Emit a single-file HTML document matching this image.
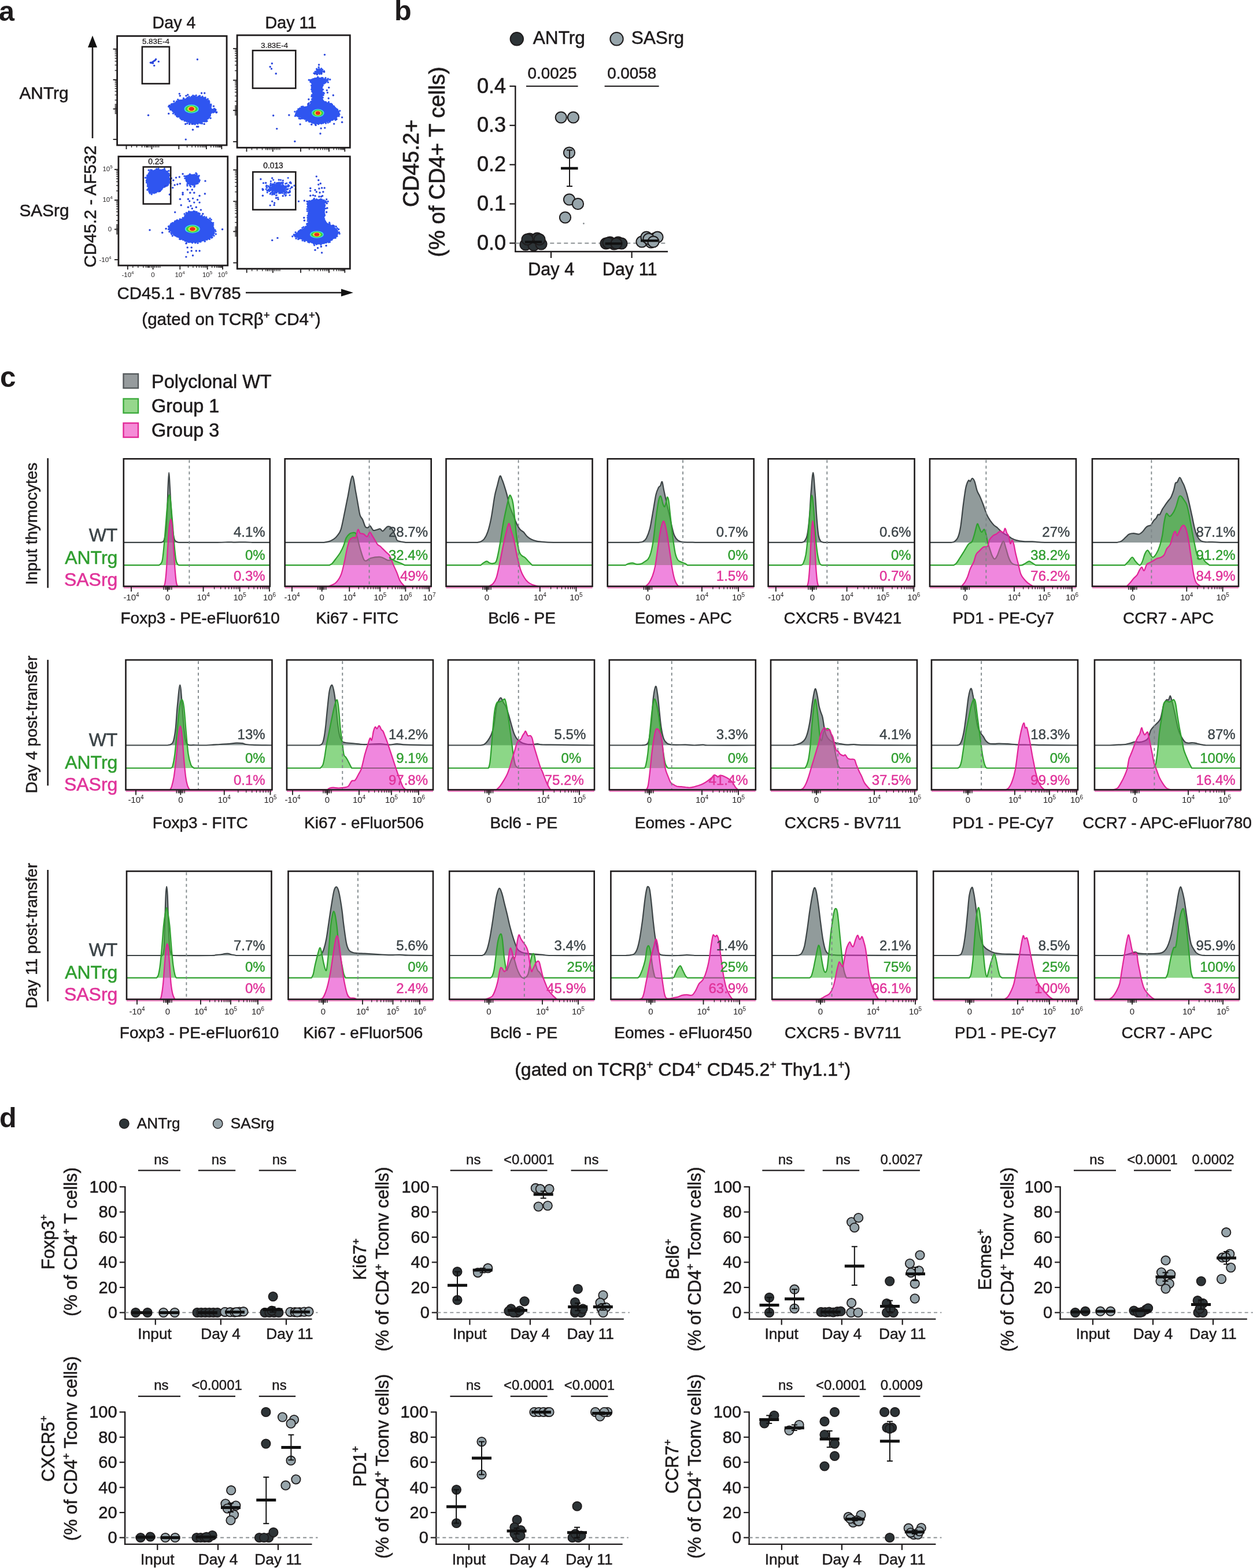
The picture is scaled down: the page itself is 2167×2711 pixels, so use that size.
<!DOCTYPE html>
<html><head><meta charset="utf-8"><title>Figure</title>
<style>
html,body{margin:0;padding:0;background:#fff;}
svg{display:block;}
svg text{font-family:'Liberation Sans', Arial, Helvetica, sans-serif;}
</style></head>
<body>
<svg xmlns="http://www.w3.org/2000/svg" width="2167" height="2711" viewBox="0 0 2167 2711">
<rect x="0" y="0" width="2167" height="2711" fill="#fff"/>
<text x="-2.0" y="35.6" font-size="48.5" text-anchor="start" fill="#1e1b1c" font-weight="bold">a</text>
<text x="301.0" y="48.7" font-size="28.7" text-anchor="middle" fill="#1e1b1c" stroke="#1e1b1c" stroke-width="0.52">Day 4</text>
<text x="503.0" y="48.7" font-size="28.7" text-anchor="middle" fill="#1e1b1c" stroke="#1e1b1c" stroke-width="0.52">Day 11</text>
<text x="33.5" y="171.0" font-size="29.8" text-anchor="start" fill="#1e1b1c" stroke="#1e1b1c" stroke-width="0.54">ANTrg</text>
<text x="33.5" y="373.5" font-size="29.8" text-anchor="start" fill="#1e1b1c" stroke="#1e1b1c" stroke-width="0.54">SASrg</text>
<line x1="160.0" y1="239.0" x2="160.0" y2="78.0" stroke="#1e1b1c" stroke-width="2.6" />
<path d="M152,82 L160,61.5 L168,82 Z" fill="#111"/>
<text x="165.5" y="357.0" font-size="29.4" text-anchor="middle" fill="#1e1b1c" stroke="#1e1b1c" stroke-width="0.53" transform="rotate(-90 165.5 357.0)">CD45.2 - AF532</text>
<line x1="425.0" y1="506.0" x2="594.0" y2="506.0" stroke="#1e1b1c" stroke-width="2.6" />
<path d="M590,499.5 L611,506 L590,512.5 Z" fill="#111"/>
<text x="202.5" y="517.0" font-size="29.4" text-anchor="start" fill="#1e1b1c" stroke="#1e1b1c" stroke-width="0.53">CD45.1 - BV785</text>
<text x="400.0" y="562.0" font-size="29.6" text-anchor="middle" fill="#1e1b1c" stroke="#1e1b1c" stroke-width="0.53"><tspan font-size="29.6">(gated on TCRβ</tspan><tspan dy="-11.2" font-size="18.4">+</tspan><tspan dy="11.2"> CD4</tspan><tspan dy="-11.2" font-size="18.4">+</tspan><tspan dy="11.2">)</tspan></text>
<path d="M292.9,183.0 L299.8,178.4 L306.8,173.8 L316.1,171.4 L325.4,169.1 L334.6,166.2 L345.1,166.8 L354.4,168.0 L357.9,171.4 L362.5,176.1 L364.8,183.0 L366.0,187.7 L373.0,188.8 L374.1,193.5 L366.0,193.5 L364.8,199.3 L362.5,203.9 L355.5,209.7 L346.3,213.2 L339.3,214.4 L333.5,213.2 L325.4,212.1 L316.1,207.4 L309.1,202.8 L302.1,197.0 L296.3,191.2 L292.9,187.7Z" fill="#2f55f0"/>
<circle cx="291.7" cy="184.2" r="1.7" fill="#2f55f0"/><circle cx="296.0" cy="180.7" r="1.7" fill="#2f55f0"/><circle cx="297.5" cy="179.8" r="1.7" fill="#2f55f0"/><circle cx="300.3" cy="179.3" r="1.7" fill="#2f55f0"/><circle cx="300.8" cy="175.3" r="1.7" fill="#2f55f0"/><circle cx="305.5" cy="175.1" r="1.7" fill="#2f55f0"/><circle cx="307.6" cy="172.2" r="1.7" fill="#2f55f0"/><circle cx="309.7" cy="173.7" r="1.7" fill="#2f55f0"/><circle cx="312.1" cy="173.6" r="1.7" fill="#2f55f0"/><circle cx="317.4" cy="169.9" r="1.7" fill="#2f55f0"/><circle cx="317.7" cy="170.8" r="1.7" fill="#2f55f0"/><circle cx="323.7" cy="169.5" r="1.7" fill="#2f55f0"/><circle cx="324.5" cy="168.9" r="1.7" fill="#2f55f0"/><circle cx="327.0" cy="167.3" r="1.7" fill="#2f55f0"/><circle cx="331.4" cy="167.2" r="1.7" fill="#2f55f0"/><circle cx="333.8" cy="165.3" r="1.7" fill="#2f55f0"/><circle cx="336.4" cy="166.2" r="1.7" fill="#2f55f0"/><circle cx="339.2" cy="165.0" r="1.7" fill="#2f55f0"/><circle cx="343.6" cy="166.8" r="1.7" fill="#2f55f0"/><circle cx="345.6" cy="165.8" r="1.7" fill="#2f55f0"/><circle cx="349.8" cy="168.3" r="1.7" fill="#2f55f0"/><circle cx="350.1" cy="167.0" r="1.7" fill="#2f55f0"/><circle cx="355.1" cy="168.6" r="1.7" fill="#2f55f0"/><circle cx="359.3" cy="171.2" r="1.7" fill="#2f55f0"/><circle cx="361.2" cy="174.3" r="1.7" fill="#2f55f0"/><circle cx="361.9" cy="176.4" r="1.7" fill="#2f55f0"/><circle cx="364.9" cy="180.7" r="1.7" fill="#2f55f0"/><circle cx="364.8" cy="183.3" r="1.7" fill="#2f55f0"/><circle cx="364.5" cy="186.9" r="1.7" fill="#2f55f0"/><circle cx="370.4" cy="188.0" r="1.7" fill="#2f55f0"/><circle cx="371.9" cy="189.0" r="1.7" fill="#2f55f0"/><circle cx="374.8" cy="194.0" r="1.7" fill="#2f55f0"/><circle cx="371.0" cy="193.3" r="1.7" fill="#2f55f0"/><circle cx="368.7" cy="194.4" r="1.7" fill="#2f55f0"/><circle cx="366.1" cy="193.1" r="1.7" fill="#2f55f0"/><circle cx="365.4" cy="194.9" r="1.7" fill="#2f55f0"/><circle cx="363.4" cy="199.9" r="1.7" fill="#2f55f0"/><circle cx="364.1" cy="204.2" r="1.7" fill="#2f55f0"/><circle cx="359.8" cy="204.8" r="1.7" fill="#2f55f0"/><circle cx="357.9" cy="209.3" r="1.7" fill="#2f55f0"/><circle cx="356.4" cy="209.9" r="1.7" fill="#2f55f0"/><circle cx="353.6" cy="210.0" r="1.7" fill="#2f55f0"/><circle cx="349.4" cy="213.5" r="1.7" fill="#2f55f0"/><circle cx="346.5" cy="213.1" r="1.7" fill="#2f55f0"/><circle cx="342.0" cy="214.0" r="1.7" fill="#2f55f0"/><circle cx="340.8" cy="212.8" r="1.7" fill="#2f55f0"/><circle cx="337.3" cy="214.8" r="1.7" fill="#2f55f0"/><circle cx="334.7" cy="214.0" r="1.7" fill="#2f55f0"/><circle cx="331.8" cy="212.9" r="1.7" fill="#2f55f0"/><circle cx="328.3" cy="212.2" r="1.7" fill="#2f55f0"/><circle cx="323.9" cy="213.2" r="1.7" fill="#2f55f0"/><circle cx="322.5" cy="209.6" r="1.7" fill="#2f55f0"/><circle cx="319.2" cy="208.9" r="1.7" fill="#2f55f0"/><circle cx="315.6" cy="206.9" r="1.7" fill="#2f55f0"/><circle cx="313.9" cy="206.3" r="1.7" fill="#2f55f0"/><circle cx="311.8" cy="204.2" r="1.7" fill="#2f55f0"/><circle cx="307.6" cy="201.9" r="1.7" fill="#2f55f0"/><circle cx="305.8" cy="201.1" r="1.7" fill="#2f55f0"/><circle cx="305.6" cy="199.9" r="1.7" fill="#2f55f0"/><circle cx="303.1" cy="198.0" r="1.7" fill="#2f55f0"/><circle cx="299.4" cy="196.1" r="1.7" fill="#2f55f0"/><circle cx="298.8" cy="191.8" r="1.7" fill="#2f55f0"/><circle cx="294.8" cy="189.6" r="1.7" fill="#2f55f0"/><circle cx="293.7" cy="186.9" r="1.7" fill="#2f55f0"/>
<ellipse cx="331.2" cy="188.3" rx="12.5" ry="7.5" fill="#3fe0ea"/>
<ellipse cx="331.2" cy="188.3" rx="10.8" ry="6.1" fill="#43cf3c"/>
<ellipse cx="331.2" cy="188.3" rx="7.0" ry="4.7" fill="#ecea3a"/>
<ellipse cx="331.2" cy="188.3" rx="4.8" ry="3.5" fill="#ee2a1e"/>
<circle cx="269.6" cy="102.4" r="1.7" fill="#2a46dc"/><circle cx="268.5" cy="104.1" r="1.7" fill="#2a46dc"/><circle cx="266.7" cy="105.3" r="1.7" fill="#2a46dc"/><circle cx="265.0" cy="106.4" r="1.7" fill="#2a46dc"/><circle cx="263.3" cy="107.6" r="1.7" fill="#2a46dc"/><circle cx="261.5" cy="108.8" r="1.7" fill="#2a46dc"/><circle cx="260.4" cy="108.2" r="1.7" fill="#2a46dc"/><circle cx="264.4" cy="109.3" r="1.7" fill="#2a46dc"/><circle cx="266.7" cy="113.4" r="1.7" fill="#2a46dc"/><circle cx="274.3" cy="106.4" r="1.7" fill="#2a46dc"/><circle cx="341.4" cy="102.7" r="1.7" fill="#2a46dc"/><circle cx="256.5" cy="199.3" r="1.7" fill="#2a46dc"/><circle cx="291.7" cy="196.4" r="1.7" fill="#2a46dc"/><circle cx="292.9" cy="182.5" r="1.7" fill="#2a46dc"/><circle cx="310.3" cy="162.1" r="1.7" fill="#2a46dc"/><circle cx="311.4" cy="165.6" r="1.7" fill="#2a46dc"/><circle cx="321.9" cy="165.6" r="1.7" fill="#2a46dc"/><circle cx="324.8" cy="163.9" r="1.7" fill="#2a46dc"/><circle cx="348.6" cy="161.0" r="1.7" fill="#2a46dc"/><circle cx="353.8" cy="161.0" r="1.7" fill="#2a46dc"/><circle cx="320.7" cy="214.4" r="1.7" fill="#2a46dc"/><circle cx="327.7" cy="214.4" r="1.7" fill="#2a46dc"/><circle cx="332.3" cy="214.4" r="1.7" fill="#2a46dc"/><circle cx="340.5" cy="219.0" r="1.7" fill="#2a46dc"/><circle cx="342.8" cy="219.0" r="1.7" fill="#2a46dc"/><circle cx="353.2" cy="214.4" r="1.7" fill="#2a46dc"/><circle cx="333.5" cy="224.2" r="1.7" fill="#2a46dc"/><circle cx="321.3" cy="241.1" r="1.7" fill="#2a46dc"/><circle cx="369.5" cy="183.6" r="1.7" fill="#2a46dc"/><circle cx="373.0" cy="190.0" r="1.7" fill="#2a46dc"/><circle cx="374.1" cy="194.6" r="1.7" fill="#2a46dc"/>
<path d="M510.1,197.3 L512.5,191.5 L518.3,186.8 L524.1,184.5 L531.0,183.4 L535.7,179.9 L539.2,174.1 L540.3,162.5 L538.0,153.2 L539.2,146.2 L534.5,138.1 L541.5,135.8 L548.5,133.4 L555.4,134.6 L562.4,135.8 L569.3,138.1 L565.9,141.6 L560.1,143.9 L558.9,148.5 L557.7,153.2 L558.9,162.5 L557.7,169.4 L560.1,174.1 L564.7,176.4 L572.8,178.7 L578.6,183.4 L583.3,188.0 L586.8,192.6 L587.9,197.3 L584.4,201.9 L579.8,206.6 L572.8,208.9 L565.9,211.2 L558.9,213.5 L551.9,214.7 L545.0,214.7 L538.0,212.4 L531.0,208.9 L522.9,204.3 L516.0,203.1 L511.3,200.8Z" fill="#2f55f0"/>
<circle cx="511.6" cy="198.7" r="1.7" fill="#2f55f0"/><circle cx="509.9" cy="193.1" r="1.7" fill="#2f55f0"/><circle cx="513.5" cy="192.2" r="1.7" fill="#2f55f0"/><circle cx="515.9" cy="188.6" r="1.7" fill="#2f55f0"/><circle cx="518.6" cy="187.2" r="1.7" fill="#2f55f0"/><circle cx="521.4" cy="184.6" r="1.7" fill="#2f55f0"/><circle cx="523.9" cy="184.2" r="1.7" fill="#2f55f0"/><circle cx="528.3" cy="185.5" r="1.7" fill="#2f55f0"/><circle cx="532.5" cy="183.5" r="1.7" fill="#2f55f0"/><circle cx="533.2" cy="180.9" r="1.7" fill="#2f55f0"/><circle cx="534.2" cy="178.4" r="1.7" fill="#2f55f0"/><circle cx="537.3" cy="176.4" r="1.7" fill="#2f55f0"/><circle cx="538.8" cy="175.3" r="1.7" fill="#2f55f0"/><circle cx="539.5" cy="171.4" r="1.7" fill="#2f55f0"/><circle cx="538.9" cy="166.7" r="1.7" fill="#2f55f0"/><circle cx="539.5" cy="164.2" r="1.7" fill="#2f55f0"/><circle cx="540.4" cy="164.1" r="1.7" fill="#2f55f0"/><circle cx="540.1" cy="158.4" r="1.7" fill="#2f55f0"/><circle cx="540.0" cy="157.2" r="1.7" fill="#2f55f0"/><circle cx="538.8" cy="154.5" r="1.7" fill="#2f55f0"/><circle cx="539.4" cy="150.6" r="1.7" fill="#2f55f0"/><circle cx="538.7" cy="147.8" r="1.7" fill="#2f55f0"/><circle cx="539.1" cy="142.4" r="1.7" fill="#2f55f0"/><circle cx="536.9" cy="141.5" r="1.7" fill="#2f55f0"/><circle cx="534.4" cy="138.2" r="1.7" fill="#2f55f0"/><circle cx="538.0" cy="138.3" r="1.7" fill="#2f55f0"/><circle cx="541.5" cy="136.8" r="1.7" fill="#2f55f0"/><circle cx="544.5" cy="135.8" r="1.7" fill="#2f55f0"/><circle cx="549.7" cy="133.3" r="1.7" fill="#2f55f0"/><circle cx="552.2" cy="135.4" r="1.7" fill="#2f55f0"/><circle cx="556.1" cy="134.6" r="1.7" fill="#2f55f0"/><circle cx="558.0" cy="134.6" r="1.7" fill="#2f55f0"/><circle cx="563.0" cy="134.7" r="1.7" fill="#2f55f0"/><circle cx="567.2" cy="136.2" r="1.7" fill="#2f55f0"/><circle cx="570.7" cy="137.5" r="1.7" fill="#2f55f0"/><circle cx="567.3" cy="142.2" r="1.7" fill="#2f55f0"/><circle cx="563.0" cy="142.8" r="1.7" fill="#2f55f0"/><circle cx="560.5" cy="144.2" r="1.7" fill="#2f55f0"/><circle cx="558.3" cy="147.6" r="1.7" fill="#2f55f0"/><circle cx="557.8" cy="154.6" r="1.7" fill="#2f55f0"/><circle cx="558.5" cy="154.9" r="1.7" fill="#2f55f0"/><circle cx="559.5" cy="160.1" r="1.7" fill="#2f55f0"/><circle cx="560.2" cy="161.5" r="1.7" fill="#2f55f0"/><circle cx="559.1" cy="164.5" r="1.7" fill="#2f55f0"/><circle cx="558.2" cy="168.7" r="1.7" fill="#2f55f0"/><circle cx="559.2" cy="175.3" r="1.7" fill="#2f55f0"/><circle cx="563.4" cy="176.5" r="1.7" fill="#2f55f0"/><circle cx="568.5" cy="176.4" r="1.7" fill="#2f55f0"/><circle cx="569.2" cy="179.2" r="1.7" fill="#2f55f0"/><circle cx="572.6" cy="179.4" r="1.7" fill="#2f55f0"/><circle cx="574.2" cy="180.6" r="1.7" fill="#2f55f0"/><circle cx="577.6" cy="183.9" r="1.7" fill="#2f55f0"/><circle cx="579.6" cy="187.1" r="1.7" fill="#2f55f0"/><circle cx="581.8" cy="188.7" r="1.7" fill="#2f55f0"/><circle cx="583.5" cy="189.5" r="1.7" fill="#2f55f0"/><circle cx="587.8" cy="191.6" r="1.7" fill="#2f55f0"/><circle cx="586.9" cy="197.9" r="1.7" fill="#2f55f0"/><circle cx="585.8" cy="198.2" r="1.7" fill="#2f55f0"/><circle cx="586.0" cy="200.8" r="1.7" fill="#2f55f0"/><circle cx="580.6" cy="203.8" r="1.7" fill="#2f55f0"/><circle cx="580.2" cy="207.4" r="1.7" fill="#2f55f0"/><circle cx="575.1" cy="207.2" r="1.7" fill="#2f55f0"/><circle cx="571.3" cy="208.7" r="1.7" fill="#2f55f0"/><circle cx="570.2" cy="210.8" r="1.7" fill="#2f55f0"/><circle cx="567.2" cy="212.0" r="1.7" fill="#2f55f0"/><circle cx="563.5" cy="213.0" r="1.7" fill="#2f55f0"/><circle cx="558.8" cy="212.7" r="1.7" fill="#2f55f0"/><circle cx="555.9" cy="213.5" r="1.7" fill="#2f55f0"/><circle cx="550.7" cy="214.5" r="1.7" fill="#2f55f0"/><circle cx="549.7" cy="213.5" r="1.7" fill="#2f55f0"/><circle cx="545.2" cy="214.4" r="1.7" fill="#2f55f0"/><circle cx="541.5" cy="212.4" r="1.7" fill="#2f55f0"/><circle cx="539.5" cy="211.6" r="1.7" fill="#2f55f0"/><circle cx="534.9" cy="210.4" r="1.7" fill="#2f55f0"/><circle cx="529.5" cy="209.1" r="1.7" fill="#2f55f0"/><circle cx="527.2" cy="205.9" r="1.7" fill="#2f55f0"/><circle cx="524.1" cy="204.7" r="1.7" fill="#2f55f0"/><circle cx="521.6" cy="204.7" r="1.7" fill="#2f55f0"/><circle cx="519.5" cy="205.2" r="1.7" fill="#2f55f0"/><circle cx="517.3" cy="204.7" r="1.7" fill="#2f55f0"/><circle cx="510.5" cy="200.6" r="1.7" fill="#2f55f0"/>
<path d="M543.8,126.5 L547.3,120.7 L551.9,117.2 L556.6,120.7 L560.1,124.2 L555.4,126.5 L549.6,127.6Z" fill="#2f55f0"/>
<circle cx="543.0" cy="126.6" r="1.7" fill="#2f55f0"/><circle cx="545.1" cy="123.9" r="1.7" fill="#2f55f0"/><circle cx="547.7" cy="119.3" r="1.7" fill="#2f55f0"/><circle cx="548.1" cy="120.0" r="1.7" fill="#2f55f0"/><circle cx="551.2" cy="116.3" r="1.7" fill="#2f55f0"/><circle cx="555.8" cy="118.8" r="1.7" fill="#2f55f0"/><circle cx="557.7" cy="120.6" r="1.7" fill="#2f55f0"/><circle cx="560.5" cy="123.0" r="1.7" fill="#2f55f0"/><circle cx="555.8" cy="127.7" r="1.7" fill="#2f55f0"/><circle cx="552.6" cy="127.8" r="1.7" fill="#2f55f0"/><circle cx="550.2" cy="126.3" r="1.7" fill="#2f55f0"/><circle cx="547.5" cy="127.4" r="1.7" fill="#2f55f0"/>
<ellipse cx="549.8" cy="195.5" rx="10.8" ry="7.0" fill="#3fe0ea"/>
<ellipse cx="549.8" cy="195.5" rx="9.3" ry="5.7" fill="#43cf3c"/>
<ellipse cx="549.8" cy="195.5" rx="6.0" ry="4.3" fill="#ecea3a"/>
<ellipse cx="549.8" cy="195.5" rx="4.1" ry="3.3" fill="#ee2a1e"/>
<circle cx="470.4" cy="109.7" r="1.7" fill="#2a46dc"/><circle cx="467.2" cy="115.5" r="1.7" fill="#2a46dc"/><circle cx="469.5" cy="118.9" r="1.7" fill="#2a46dc"/><circle cx="477.3" cy="127.3" r="1.7" fill="#2a46dc"/><circle cx="561.5" cy="94.6" r="1.7" fill="#2a46dc"/><circle cx="551.6" cy="112.0" r="1.7" fill="#2a46dc"/><circle cx="472.7" cy="199.8" r="1.7" fill="#2a46dc"/><circle cx="499.9" cy="199.0" r="1.7" fill="#2a46dc"/><circle cx="519.1" cy="214.9" r="1.7" fill="#2a46dc"/><circle cx="478.8" cy="222.6" r="1.7" fill="#2a46dc"/><circle cx="509.9" cy="244.5" r="1.7" fill="#2a46dc"/><circle cx="554.0" cy="231.0" r="1.7" fill="#2a46dc"/><circle cx="555.2" cy="221.9" r="1.7" fill="#2a46dc"/><circle cx="561.8" cy="221.1" r="1.7" fill="#2a46dc"/><circle cx="577.7" cy="214.1" r="1.7" fill="#2a46dc"/><circle cx="591.6" cy="202.9" r="1.7" fill="#2a46dc"/><circle cx="591.6" cy="211.2" r="1.7" fill="#2a46dc"/><circle cx="582.1" cy="206.0" r="1.7" fill="#2a46dc"/><circle cx="538.8" cy="215.3" r="1.7" fill="#2a46dc"/><circle cx="546.1" cy="216.4" r="1.7" fill="#2a46dc"/><circle cx="576.3" cy="164.8" r="1.7" fill="#2a46dc"/><circle cx="568.8" cy="151.4" r="1.7" fill="#2a46dc"/><circle cx="568.2" cy="170.0" r="1.7" fill="#2a46dc"/><circle cx="533.9" cy="171.8" r="1.7" fill="#2a46dc"/><circle cx="532.8" cy="179.9" r="1.7" fill="#2a46dc"/><circle cx="565.3" cy="156.1" r="1.7" fill="#2a46dc"/><circle cx="566.4" cy="160.1" r="1.7" fill="#2a46dc"/><circle cx="544.4" cy="127.6" r="1.7" fill="#2a46dc"/><circle cx="548.5" cy="128.8" r="1.7" fill="#2a46dc"/><circle cx="556.0" cy="126.5" r="1.7" fill="#2a46dc"/><circle cx="560.6" cy="124.2" r="1.7" fill="#2a46dc"/>
<path d="M258.0,295.5 L269.6,293.2 L283.6,292.6 L290.5,296.7 L292.9,304.8 L294.0,316.4 L290.5,319.9 L283.6,324.6 L276.6,330.4 L269.6,333.8 L262.7,335.0 L256.9,332.7 L255.7,325.7 L256.9,316.4 L252.2,314.1 L253.4,304.8 L256.9,299.0Z" fill="#2f55f0"/>
<circle cx="257.2" cy="294.3" r="1.7" fill="#2f55f0"/><circle cx="260.6" cy="293.9" r="1.7" fill="#2f55f0"/><circle cx="262.5" cy="294.1" r="1.7" fill="#2f55f0"/><circle cx="268.1" cy="294.8" r="1.7" fill="#2f55f0"/><circle cx="270.5" cy="292.3" r="1.7" fill="#2f55f0"/><circle cx="272.5" cy="292.4" r="1.7" fill="#2f55f0"/><circle cx="274.2" cy="291.7" r="1.7" fill="#2f55f0"/><circle cx="277.1" cy="294.2" r="1.7" fill="#2f55f0"/><circle cx="281.8" cy="293.7" r="1.7" fill="#2f55f0"/><circle cx="284.5" cy="291.7" r="1.7" fill="#2f55f0"/><circle cx="285.3" cy="294.4" r="1.7" fill="#2f55f0"/><circle cx="289.0" cy="296.5" r="1.7" fill="#2f55f0"/><circle cx="291.8" cy="295.4" r="1.7" fill="#2f55f0"/><circle cx="291.7" cy="300.0" r="1.7" fill="#2f55f0"/><circle cx="292.1" cy="301.1" r="1.7" fill="#2f55f0"/><circle cx="292.8" cy="303.5" r="1.7" fill="#2f55f0"/><circle cx="294.5" cy="308.9" r="1.7" fill="#2f55f0"/><circle cx="293.6" cy="310.0" r="1.7" fill="#2f55f0"/><circle cx="295.0" cy="313.8" r="1.7" fill="#2f55f0"/><circle cx="295.2" cy="317.5" r="1.7" fill="#2f55f0"/><circle cx="290.6" cy="319.6" r="1.7" fill="#2f55f0"/><circle cx="288.5" cy="321.2" r="1.7" fill="#2f55f0"/><circle cx="284.8" cy="322.4" r="1.7" fill="#2f55f0"/><circle cx="284.6" cy="323.1" r="1.7" fill="#2f55f0"/><circle cx="279.8" cy="326.9" r="1.7" fill="#2f55f0"/><circle cx="278.2" cy="328.5" r="1.7" fill="#2f55f0"/><circle cx="276.5" cy="329.9" r="1.7" fill="#2f55f0"/><circle cx="274.7" cy="331.1" r="1.7" fill="#2f55f0"/><circle cx="269.4" cy="332.9" r="1.7" fill="#2f55f0"/><circle cx="266.6" cy="333.7" r="1.7" fill="#2f55f0"/><circle cx="262.2" cy="335.8" r="1.7" fill="#2f55f0"/><circle cx="259.2" cy="334.0" r="1.7" fill="#2f55f0"/><circle cx="258.2" cy="331.4" r="1.7" fill="#2f55f0"/><circle cx="254.9" cy="328.3" r="1.7" fill="#2f55f0"/><circle cx="256.6" cy="326.1" r="1.7" fill="#2f55f0"/><circle cx="255.3" cy="322.1" r="1.7" fill="#2f55f0"/><circle cx="255.5" cy="319.4" r="1.7" fill="#2f55f0"/><circle cx="255.4" cy="317.1" r="1.7" fill="#2f55f0"/><circle cx="253.5" cy="315.6" r="1.7" fill="#2f55f0"/><circle cx="253.4" cy="312.5" r="1.7" fill="#2f55f0"/><circle cx="251.5" cy="307.2" r="1.7" fill="#2f55f0"/><circle cx="254.9" cy="305.7" r="1.7" fill="#2f55f0"/><circle cx="254.8" cy="303.3" r="1.7" fill="#2f55f0"/><circle cx="257.3" cy="300.0" r="1.7" fill="#2f55f0"/>
<path d="M320.7,303.7 L327.7,301.3 L337.0,301.3 L343.9,303.7 L345.1,310.6 L341.6,318.8 L333.5,321.1 L325.4,318.8 L320.7,312.9Z" fill="#2f55f0"/>
<circle cx="321.3" cy="304.9" r="1.7" fill="#2f55f0"/><circle cx="325.7" cy="304.7" r="1.7" fill="#2f55f0"/><circle cx="328.9" cy="303.5" r="1.7" fill="#2f55f0"/><circle cx="328.4" cy="301.2" r="1.7" fill="#2f55f0"/><circle cx="336.1" cy="302.1" r="1.7" fill="#2f55f0"/><circle cx="339.0" cy="299.4" r="1.7" fill="#2f55f0"/><circle cx="340.3" cy="301.2" r="1.7" fill="#2f55f0"/><circle cx="344.2" cy="304.0" r="1.7" fill="#2f55f0"/><circle cx="342.1" cy="305.7" r="1.7" fill="#2f55f0"/><circle cx="344.0" cy="312.7" r="1.7" fill="#2f55f0"/><circle cx="345.3" cy="311.6" r="1.7" fill="#2f55f0"/><circle cx="344.3" cy="314.2" r="1.7" fill="#2f55f0"/><circle cx="342.2" cy="316.9" r="1.7" fill="#2f55f0"/><circle cx="336.4" cy="321.4" r="1.7" fill="#2f55f0"/><circle cx="334.7" cy="318.9" r="1.7" fill="#2f55f0"/><circle cx="335.9" cy="322.9" r="1.7" fill="#2f55f0"/><circle cx="329.7" cy="322.6" r="1.7" fill="#2f55f0"/><circle cx="328.3" cy="320.4" r="1.7" fill="#2f55f0"/><circle cx="323.9" cy="321.0" r="1.7" fill="#2f55f0"/><circle cx="324.0" cy="318.2" r="1.7" fill="#2f55f0"/><circle cx="322.7" cy="311.9" r="1.7" fill="#2f55f0"/><circle cx="320.0" cy="308.2" r="1.7" fill="#2f55f0"/><circle cx="318.9" cy="304.6" r="1.7" fill="#2f55f0"/>
<rect x="320.7" y="303.7" width="0" height="0"/>
<path d="M290.5,395.4 L296.3,386.1 L304.5,381.4 L316.1,378.0 L321.9,368.7 L327.7,365.2 L339.3,365.2 L345.1,371.0 L350.9,374.5 L362.5,379.1 L368.3,386.1 L370.6,395.4 L371.8,403.5 L367.2,409.3 L362.5,412.8 L354.4,416.3 L345.1,418.6 L333.5,419.7 L321.9,418.6 L316.1,415.1 L306.8,410.5 L299.8,407.0 L296.3,401.2 L292.9,398.8Z" fill="#2f55f0"/>
<circle cx="291.5" cy="396.4" r="1.7" fill="#2f55f0"/><circle cx="291.9" cy="392.3" r="1.7" fill="#2f55f0"/><circle cx="291.8" cy="391.2" r="1.7" fill="#2f55f0"/><circle cx="294.8" cy="389.2" r="1.7" fill="#2f55f0"/><circle cx="295.9" cy="386.9" r="1.7" fill="#2f55f0"/><circle cx="298.3" cy="385.5" r="1.7" fill="#2f55f0"/><circle cx="302.5" cy="382.7" r="1.7" fill="#2f55f0"/><circle cx="304.6" cy="382.0" r="1.7" fill="#2f55f0"/><circle cx="306.4" cy="380.7" r="1.7" fill="#2f55f0"/><circle cx="311.2" cy="378.9" r="1.7" fill="#2f55f0"/><circle cx="314.1" cy="379.4" r="1.7" fill="#2f55f0"/><circle cx="317.2" cy="377.4" r="1.7" fill="#2f55f0"/><circle cx="316.2" cy="376.6" r="1.7" fill="#2f55f0"/><circle cx="320.0" cy="373.1" r="1.7" fill="#2f55f0"/><circle cx="319.1" cy="370.0" r="1.7" fill="#2f55f0"/><circle cx="322.3" cy="368.0" r="1.7" fill="#2f55f0"/><circle cx="326.2" cy="367.2" r="1.7" fill="#2f55f0"/><circle cx="326.7" cy="365.7" r="1.7" fill="#2f55f0"/><circle cx="330.1" cy="366.6" r="1.7" fill="#2f55f0"/><circle cx="334.8" cy="365.2" r="1.7" fill="#2f55f0"/><circle cx="336.9" cy="365.8" r="1.7" fill="#2f55f0"/><circle cx="340.3" cy="366.7" r="1.7" fill="#2f55f0"/><circle cx="339.7" cy="366.7" r="1.7" fill="#2f55f0"/><circle cx="343.5" cy="368.4" r="1.7" fill="#2f55f0"/><circle cx="345.4" cy="369.7" r="1.7" fill="#2f55f0"/><circle cx="349.2" cy="372.8" r="1.7" fill="#2f55f0"/><circle cx="349.7" cy="375.0" r="1.7" fill="#2f55f0"/><circle cx="353.2" cy="374.7" r="1.7" fill="#2f55f0"/><circle cx="356.7" cy="375.6" r="1.7" fill="#2f55f0"/><circle cx="358.7" cy="379.1" r="1.7" fill="#2f55f0"/><circle cx="363.1" cy="377.6" r="1.7" fill="#2f55f0"/><circle cx="365.3" cy="379.9" r="1.7" fill="#2f55f0"/><circle cx="365.8" cy="385.0" r="1.7" fill="#2f55f0"/><circle cx="368.7" cy="385.5" r="1.7" fill="#2f55f0"/><circle cx="368.7" cy="388.8" r="1.7" fill="#2f55f0"/><circle cx="368.7" cy="393.9" r="1.7" fill="#2f55f0"/><circle cx="369.2" cy="395.1" r="1.7" fill="#2f55f0"/><circle cx="371.8" cy="397.7" r="1.7" fill="#2f55f0"/><circle cx="372.9" cy="400.0" r="1.7" fill="#2f55f0"/><circle cx="373.3" cy="404.7" r="1.7" fill="#2f55f0"/><circle cx="370.0" cy="407.6" r="1.7" fill="#2f55f0"/><circle cx="367.0" cy="410.4" r="1.7" fill="#2f55f0"/><circle cx="365.8" cy="411.1" r="1.7" fill="#2f55f0"/><circle cx="362.4" cy="413.4" r="1.7" fill="#2f55f0"/><circle cx="359.5" cy="412.6" r="1.7" fill="#2f55f0"/><circle cx="357.9" cy="414.3" r="1.7" fill="#2f55f0"/><circle cx="354.3" cy="417.2" r="1.7" fill="#2f55f0"/><circle cx="350.2" cy="415.5" r="1.7" fill="#2f55f0"/><circle cx="347.0" cy="418.1" r="1.7" fill="#2f55f0"/><circle cx="344.7" cy="417.8" r="1.7" fill="#2f55f0"/><circle cx="342.0" cy="420.2" r="1.7" fill="#2f55f0"/><circle cx="338.5" cy="418.9" r="1.7" fill="#2f55f0"/><circle cx="337.6" cy="419.8" r="1.7" fill="#2f55f0"/><circle cx="332.7" cy="419.7" r="1.7" fill="#2f55f0"/><circle cx="330.5" cy="418.3" r="1.7" fill="#2f55f0"/><circle cx="327.3" cy="418.5" r="1.7" fill="#2f55f0"/><circle cx="325.8" cy="418.3" r="1.7" fill="#2f55f0"/><circle cx="322.4" cy="420.1" r="1.7" fill="#2f55f0"/><circle cx="320.3" cy="416.4" r="1.7" fill="#2f55f0"/><circle cx="316.4" cy="414.5" r="1.7" fill="#2f55f0"/><circle cx="312.7" cy="413.5" r="1.7" fill="#2f55f0"/><circle cx="310.8" cy="413.4" r="1.7" fill="#2f55f0"/><circle cx="306.1" cy="408.9" r="1.7" fill="#2f55f0"/><circle cx="303.1" cy="407.3" r="1.7" fill="#2f55f0"/><circle cx="298.3" cy="407.8" r="1.7" fill="#2f55f0"/><circle cx="296.8" cy="404.8" r="1.7" fill="#2f55f0"/><circle cx="295.9" cy="402.6" r="1.7" fill="#2f55f0"/><circle cx="294.0" cy="397.4" r="1.7" fill="#2f55f0"/>
<ellipse cx="332.9" cy="395.9" rx="13.0" ry="7.3" fill="#3fe0ea"/>
<ellipse cx="332.9" cy="395.9" rx="11.2" ry="6.0" fill="#43cf3c"/>
<ellipse cx="332.9" cy="395.9" rx="7.3" ry="4.5" fill="#ecea3a"/>
<ellipse cx="332.9" cy="395.9" rx="4.9" ry="3.4" fill="#ee2a1e"/>
<circle cx="296.3" cy="308.3" r="1.7" fill="#2a46dc"/><circle cx="299.8" cy="311.8" r="1.7" fill="#2a46dc"/><circle cx="302.1" cy="319.9" r="1.7" fill="#2a46dc"/><circle cx="298.7" cy="324.6" r="1.7" fill="#2a46dc"/><circle cx="304.5" cy="307.1" r="1.7" fill="#2a46dc"/><circle cx="310.3" cy="306.0" r="1.7" fill="#2a46dc"/><circle cx="311.4" cy="317.6" r="1.7" fill="#2a46dc"/><circle cx="316.1" cy="300.8" r="1.7" fill="#2a46dc"/><circle cx="306.8" cy="318.8" r="1.7" fill="#2a46dc"/><circle cx="355.0" cy="312.9" r="1.7" fill="#2a46dc"/><circle cx="354.4" cy="335.0" r="1.7" fill="#2a46dc"/><circle cx="316.1" cy="333.3" r="1.7" fill="#2a46dc"/><circle cx="316.1" cy="336.2" r="1.7" fill="#2a46dc"/><circle cx="311.4" cy="344.3" r="1.7" fill="#2a46dc"/><circle cx="313.2" cy="354.7" r="1.7" fill="#2a46dc"/><circle cx="324.2" cy="328.0" r="1.7" fill="#2a46dc"/><circle cx="328.8" cy="333.3" r="1.7" fill="#2a46dc"/><circle cx="332.3" cy="328.0" r="1.7" fill="#2a46dc"/><circle cx="335.8" cy="333.3" r="1.7" fill="#2a46dc"/><circle cx="345.1" cy="338.5" r="1.7" fill="#2a46dc"/><circle cx="325.4" cy="344.3" r="1.7" fill="#2a46dc"/><circle cx="327.7" cy="347.8" r="1.7" fill="#2a46dc"/><circle cx="333.5" cy="343.1" r="1.7" fill="#2a46dc"/><circle cx="335.8" cy="350.1" r="1.7" fill="#2a46dc"/><circle cx="341.6" cy="345.4" r="1.7" fill="#2a46dc"/><circle cx="345.1" cy="350.1" r="1.7" fill="#2a46dc"/><circle cx="325.4" cy="358.2" r="1.7" fill="#2a46dc"/><circle cx="330.0" cy="355.9" r="1.7" fill="#2a46dc"/><circle cx="332.3" cy="360.5" r="1.7" fill="#2a46dc"/><circle cx="339.3" cy="358.2" r="1.7" fill="#2a46dc"/><circle cx="347.4" cy="362.9" r="1.7" fill="#2a46dc"/><circle cx="302.7" cy="366.9" r="1.7" fill="#2a46dc"/><circle cx="350.9" cy="369.8" r="1.7" fill="#2a46dc"/><circle cx="259.0" cy="397.7" r="1.7" fill="#2a46dc"/><circle cx="280.7" cy="402.3" r="1.7" fill="#2a46dc"/><circle cx="287.1" cy="395.4" r="1.7" fill="#2a46dc"/><circle cx="292.9" cy="400.6" r="1.7" fill="#2a46dc"/><circle cx="384.6" cy="396.5" r="1.7" fill="#2a46dc"/><circle cx="321.9" cy="420.9" r="1.7" fill="#2a46dc"/><circle cx="324.2" cy="427.9" r="1.7" fill="#2a46dc"/><circle cx="331.2" cy="427.9" r="1.7" fill="#2a46dc"/><circle cx="324.8" cy="436.0" r="1.7" fill="#2a46dc"/><circle cx="331.2" cy="433.7" r="1.7" fill="#2a46dc"/><circle cx="339.3" cy="433.7" r="1.7" fill="#2a46dc"/><circle cx="345.1" cy="433.7" r="1.7" fill="#2a46dc"/><circle cx="333.5" cy="441.8" r="1.7" fill="#2a46dc"/><circle cx="321.9" cy="444.1" r="1.7" fill="#2a46dc"/><circle cx="276.6" cy="330.4" r="1.7" fill="#2a46dc"/><circle cx="285.9" cy="321.7" r="1.7" fill="#2a46dc"/><circle cx="293.4" cy="336.2" r="1.7" fill="#2a46dc"/>
<path d="M469.5,321.4 L477.6,319.1 L484.6,319.1 L489.3,321.4 L488.1,327.2 L482.3,329.5 L475.3,330.7 L469.5,328.4Z" fill="#2f55f0"/>
<circle cx="468.6" cy="319.6" r="1.7" fill="#2f55f0"/><circle cx="473.0" cy="318.5" r="1.7" fill="#2f55f0"/><circle cx="475.1" cy="319.2" r="1.7" fill="#2f55f0"/><circle cx="475.4" cy="319.1" r="1.7" fill="#2f55f0"/><circle cx="478.8" cy="318.7" r="1.7" fill="#2f55f0"/><circle cx="482.5" cy="317.0" r="1.7" fill="#2f55f0"/><circle cx="488.9" cy="323.0" r="1.7" fill="#2f55f0"/><circle cx="486.8" cy="322.9" r="1.7" fill="#2f55f0"/><circle cx="488.7" cy="329.4" r="1.7" fill="#2f55f0"/><circle cx="485.6" cy="327.8" r="1.7" fill="#2f55f0"/><circle cx="484.7" cy="327.3" r="1.7" fill="#2f55f0"/><circle cx="480.6" cy="329.0" r="1.7" fill="#2f55f0"/><circle cx="473.5" cy="328.8" r="1.7" fill="#2f55f0"/><circle cx="471.5" cy="331.1" r="1.7" fill="#2f55f0"/><circle cx="467.9" cy="328.8" r="1.7" fill="#2f55f0"/><circle cx="470.2" cy="324.2" r="1.7" fill="#2f55f0"/>
<circle cx="474.6" cy="332.9" r="1.6" fill="#2f55f0"/><circle cx="511.0" cy="326.9" r="1.6" fill="#2f55f0"/><circle cx="498.2" cy="307.6" r="1.6" fill="#2f55f0"/><circle cx="480.5" cy="329.7" r="1.6" fill="#2f55f0"/><circle cx="487.6" cy="327.3" r="1.6" fill="#2f55f0"/><circle cx="497.1" cy="327.3" r="1.6" fill="#2f55f0"/><circle cx="468.3" cy="333.6" r="1.6" fill="#2f55f0"/><circle cx="481.8" cy="321.0" r="1.6" fill="#2f55f0"/><circle cx="486.0" cy="330.4" r="1.6" fill="#2f55f0"/><circle cx="496.0" cy="327.5" r="1.6" fill="#2f55f0"/><circle cx="483.3" cy="328.9" r="1.6" fill="#2f55f0"/><circle cx="489.7" cy="322.2" r="1.6" fill="#2f55f0"/><circle cx="508.9" cy="320.9" r="1.6" fill="#2f55f0"/><circle cx="477.0" cy="322.5" r="1.6" fill="#2f55f0"/><circle cx="485.9" cy="329.4" r="1.6" fill="#2f55f0"/><circle cx="480.1" cy="319.5" r="1.6" fill="#2f55f0"/><circle cx="480.5" cy="327.0" r="1.6" fill="#2f55f0"/><circle cx="474.9" cy="330.5" r="1.6" fill="#2f55f0"/><circle cx="488.3" cy="327.8" r="1.6" fill="#2f55f0"/><circle cx="478.1" cy="331.5" r="1.6" fill="#2f55f0"/><circle cx="467.6" cy="326.3" r="1.6" fill="#2f55f0"/><circle cx="486.3" cy="322.3" r="1.6" fill="#2f55f0"/><circle cx="488.5" cy="328.7" r="1.6" fill="#2f55f0"/><circle cx="484.0" cy="333.1" r="1.6" fill="#2f55f0"/><circle cx="472.0" cy="326.8" r="1.6" fill="#2f55f0"/><circle cx="495.6" cy="331.2" r="1.6" fill="#2f55f0"/><circle cx="470.7" cy="320.6" r="1.6" fill="#2f55f0"/><circle cx="475.1" cy="315.7" r="1.6" fill="#2f55f0"/><circle cx="487.8" cy="326.8" r="1.6" fill="#2f55f0"/><circle cx="465.1" cy="327.5" r="1.6" fill="#2f55f0"/><circle cx="468.7" cy="325.9" r="1.6" fill="#2f55f0"/><circle cx="478.4" cy="329.9" r="1.6" fill="#2f55f0"/><circle cx="502.2" cy="314.9" r="1.6" fill="#2f55f0"/><circle cx="469.3" cy="326.0" r="1.6" fill="#2f55f0"/><circle cx="491.0" cy="331.4" r="1.6" fill="#2f55f0"/><circle cx="484.6" cy="333.5" r="1.6" fill="#2f55f0"/><circle cx="479.0" cy="332.1" r="1.6" fill="#2f55f0"/><circle cx="487.1" cy="322.5" r="1.6" fill="#2f55f0"/><circle cx="472.2" cy="325.0" r="1.6" fill="#2f55f0"/><circle cx="460.1" cy="327.0" r="1.6" fill="#2f55f0"/><circle cx="454.0" cy="326.7" r="1.6" fill="#2f55f0"/><circle cx="471.5" cy="329.3" r="1.6" fill="#2f55f0"/><circle cx="473.5" cy="320.9" r="1.6" fill="#2f55f0"/><circle cx="477.0" cy="322.0" r="1.6" fill="#2f55f0"/><circle cx="492.1" cy="326.5" r="1.6" fill="#2f55f0"/><circle cx="488.4" cy="327.7" r="1.6" fill="#2f55f0"/><circle cx="468.0" cy="321.2" r="1.6" fill="#2f55f0"/><circle cx="494.5" cy="321.6" r="1.6" fill="#2f55f0"/><circle cx="472.1" cy="324.3" r="1.6" fill="#2f55f0"/><circle cx="472.6" cy="326.7" r="1.6" fill="#2f55f0"/><circle cx="491.5" cy="330.1" r="1.6" fill="#2f55f0"/><circle cx="475.0" cy="322.6" r="1.6" fill="#2f55f0"/><circle cx="480.3" cy="319.3" r="1.6" fill="#2f55f0"/><circle cx="473.7" cy="336.0" r="1.6" fill="#2f55f0"/><circle cx="489.4" cy="326.6" r="1.6" fill="#2f55f0"/><circle cx="474.4" cy="333.5" r="1.6" fill="#2f55f0"/><circle cx="480.6" cy="341.7" r="1.6" fill="#2f55f0"/><circle cx="490.2" cy="329.7" r="1.6" fill="#2f55f0"/><circle cx="464.1" cy="327.8" r="1.6" fill="#2f55f0"/><circle cx="481.0" cy="329.3" r="1.6" fill="#2f55f0"/><circle cx="480.4" cy="316.4" r="1.6" fill="#2f55f0"/><circle cx="460.9" cy="320.6" r="1.6" fill="#2f55f0"/><circle cx="472.1" cy="329.7" r="1.6" fill="#2f55f0"/><circle cx="475.7" cy="326.1" r="1.6" fill="#2f55f0"/><circle cx="482.9" cy="324.3" r="1.6" fill="#2f55f0"/><circle cx="501.5" cy="331.7" r="1.6" fill="#2f55f0"/><circle cx="475.5" cy="327.0" r="1.6" fill="#2f55f0"/><circle cx="486.3" cy="323.7" r="1.6" fill="#2f55f0"/><circle cx="479.4" cy="326.3" r="1.6" fill="#2f55f0"/><circle cx="488.6" cy="331.0" r="1.6" fill="#2f55f0"/><circle cx="479.4" cy="323.3" r="1.6" fill="#2f55f0"/><circle cx="482.2" cy="318.2" r="1.6" fill="#2f55f0"/><circle cx="468.4" cy="313.4" r="1.6" fill="#2f55f0"/><circle cx="480.1" cy="326.1" r="1.6" fill="#2f55f0"/><circle cx="501.1" cy="329.9" r="1.6" fill="#2f55f0"/><circle cx="487.6" cy="328.8" r="1.6" fill="#2f55f0"/><circle cx="471.3" cy="318.7" r="1.6" fill="#2f55f0"/><circle cx="481.5" cy="319.0" r="1.6" fill="#2f55f0"/><circle cx="470.6" cy="336.5" r="1.6" fill="#2f55f0"/><circle cx="489.2" cy="326.5" r="1.6" fill="#2f55f0"/><circle cx="487.9" cy="325.7" r="1.6" fill="#2f55f0"/><circle cx="488.9" cy="319.8" r="1.6" fill="#2f55f0"/><circle cx="471.1" cy="320.3" r="1.6" fill="#2f55f0"/><circle cx="462.0" cy="329.3" r="1.6" fill="#2f55f0"/><circle cx="489.1" cy="327.7" r="1.6" fill="#2f55f0"/><circle cx="483.4" cy="317.1" r="1.6" fill="#2f55f0"/><circle cx="471.0" cy="319.5" r="1.6" fill="#2f55f0"/><circle cx="477.3" cy="333.2" r="1.6" fill="#2f55f0"/><circle cx="463.7" cy="321.7" r="1.6" fill="#2f55f0"/><circle cx="482.2" cy="330.5" r="1.6" fill="#2f55f0"/><circle cx="478.1" cy="329.4" r="1.6" fill="#2f55f0"/><circle cx="479.5" cy="319.7" r="1.6" fill="#2f55f0"/><circle cx="501.3" cy="330.8" r="1.6" fill="#2f55f0"/><circle cx="461.8" cy="324.5" r="1.6" fill="#2f55f0"/><circle cx="480.8" cy="320.5" r="1.6" fill="#2f55f0"/><circle cx="475.5" cy="332.3" r="1.6" fill="#2f55f0"/><circle cx="498.7" cy="322.4" r="1.6" fill="#2f55f0"/><circle cx="494.3" cy="324.1" r="1.6" fill="#2f55f0"/><circle cx="472.6" cy="324.7" r="1.6" fill="#2f55f0"/><circle cx="468.4" cy="323.9" r="1.6" fill="#2f55f0"/><circle cx="482.7" cy="315.6" r="1.6" fill="#2f55f0"/><circle cx="487.7" cy="323.6" r="1.6" fill="#2f55f0"/><circle cx="478.8" cy="324.4" r="1.6" fill="#2f55f0"/><circle cx="478.4" cy="333.4" r="1.6" fill="#2f55f0"/><circle cx="502.1" cy="326.1" r="1.6" fill="#2f55f0"/><circle cx="473.6" cy="325.1" r="1.6" fill="#2f55f0"/><circle cx="465.7" cy="330.4" r="1.6" fill="#2f55f0"/><circle cx="500.5" cy="332.6" r="1.6" fill="#2f55f0"/><circle cx="474.1" cy="320.4" r="1.6" fill="#2f55f0"/><circle cx="486.3" cy="333.2" r="1.6" fill="#2f55f0"/><circle cx="481.8" cy="328.1" r="1.6" fill="#2f55f0"/><circle cx="487.0" cy="321.9" r="1.6" fill="#2f55f0"/><circle cx="482.7" cy="319.8" r="1.6" fill="#2f55f0"/><circle cx="471.5" cy="323.9" r="1.6" fill="#2f55f0"/><circle cx="488.9" cy="317.4" r="1.6" fill="#2f55f0"/><circle cx="470.9" cy="330.6" r="1.6" fill="#2f55f0"/><circle cx="477.5" cy="338.0" r="1.6" fill="#2f55f0"/><circle cx="467.4" cy="328.0" r="1.6" fill="#2f55f0"/><circle cx="476.9" cy="324.9" r="1.6" fill="#2f55f0"/><circle cx="472.0" cy="334.3" r="1.6" fill="#2f55f0"/><circle cx="474.5" cy="323.8" r="1.6" fill="#2f55f0"/><circle cx="491.8" cy="335.6" r="1.6" fill="#2f55f0"/><circle cx="489.4" cy="315.5" r="1.6" fill="#2f55f0"/><circle cx="487.0" cy="332.3" r="1.6" fill="#2f55f0"/><circle cx="470.9" cy="328.2" r="1.6" fill="#2f55f0"/><circle cx="471.5" cy="332.1" r="1.6" fill="#2f55f0"/><circle cx="477.4" cy="325.1" r="1.6" fill="#2f55f0"/><circle cx="487.5" cy="326.9" r="1.6" fill="#2f55f0"/><circle cx="488.8" cy="315.9" r="1.6" fill="#2f55f0"/><circle cx="476.3" cy="321.4" r="1.6" fill="#2f55f0"/><circle cx="466.4" cy="324.5" r="1.6" fill="#2f55f0"/><circle cx="493.7" cy="338.3" r="1.6" fill="#2f55f0"/><circle cx="483.6" cy="325.3" r="1.6" fill="#2f55f0"/><circle cx="480.9" cy="330.4" r="1.6" fill="#2f55f0"/><circle cx="495.8" cy="316.8" r="1.6" fill="#2f55f0"/><circle cx="491.5" cy="324.0" r="1.6" fill="#2f55f0"/><circle cx="474.4" cy="325.0" r="1.6" fill="#2f55f0"/><circle cx="495.8" cy="327.5" r="1.6" fill="#2f55f0"/><circle cx="460.6" cy="322.7" r="1.6" fill="#2f55f0"/><circle cx="492.6" cy="322.8" r="1.6" fill="#2f55f0"/><circle cx="493.9" cy="328.5" r="1.6" fill="#2f55f0"/><circle cx="492.0" cy="323.4" r="1.6" fill="#2f55f0"/><circle cx="473.4" cy="320.8" r="1.6" fill="#2f55f0"/><circle cx="470.7" cy="327.9" r="1.6" fill="#2f55f0"/><circle cx="482.4" cy="332.0" r="1.6" fill="#2f55f0"/><circle cx="486.1" cy="317.4" r="1.6" fill="#2f55f0"/><circle cx="488.3" cy="326.8" r="1.6" fill="#2f55f0"/><circle cx="485.3" cy="327.1" r="1.6" fill="#2f55f0"/><circle cx="498.0" cy="326.5" r="1.6" fill="#2f55f0"/><circle cx="485.6" cy="333.8" r="1.6" fill="#2f55f0"/><circle cx="484.1" cy="323.3" r="1.6" fill="#2f55f0"/><circle cx="481.2" cy="328.8" r="1.6" fill="#2f55f0"/><circle cx="501.1" cy="337.5" r="1.6" fill="#2f55f0"/><circle cx="501.1" cy="315.9" r="1.6" fill="#2f55f0"/><circle cx="485.6" cy="331.3" r="1.6" fill="#2f55f0"/><circle cx="477.5" cy="325.4" r="1.6" fill="#2f55f0"/><circle cx="468.2" cy="317.1" r="1.6" fill="#2f55f0"/><circle cx="500.0" cy="321.2" r="1.6" fill="#2f55f0"/><circle cx="474.9" cy="335.4" r="1.6" fill="#2f55f0"/><circle cx="484.4" cy="331.9" r="1.6" fill="#2f55f0"/><circle cx="485.3" cy="327.1" r="1.6" fill="#2f55f0"/><circle cx="489.8" cy="328.5" r="1.6" fill="#2f55f0"/><circle cx="480.6" cy="319.0" r="1.6" fill="#2f55f0"/><circle cx="485.4" cy="330.0" r="1.6" fill="#2f55f0"/><circle cx="477.7" cy="328.1" r="1.6" fill="#2f55f0"/><circle cx="494.4" cy="337.4" r="1.6" fill="#2f55f0"/><circle cx="484.2" cy="317.9" r="1.6" fill="#2f55f0"/><circle cx="491.7" cy="329.6" r="1.6" fill="#2f55f0"/><circle cx="485.8" cy="316.1" r="1.6" fill="#2f55f0"/><circle cx="483.1" cy="331.3" r="1.6" fill="#2f55f0"/><circle cx="476.5" cy="324.0" r="1.6" fill="#2f55f0"/><circle cx="477.8" cy="324.7" r="1.6" fill="#2f55f0"/><circle cx="484.1" cy="322.5" r="1.6" fill="#2f55f0"/><circle cx="470.4" cy="332.5" r="1.6" fill="#2f55f0"/><circle cx="455.5" cy="316.5" r="1.6" fill="#2f55f0"/><circle cx="476.7" cy="322.4" r="1.6" fill="#2f55f0"/><circle cx="492.7" cy="333.4" r="1.6" fill="#2f55f0"/><circle cx="480.0" cy="322.5" r="1.6" fill="#2f55f0"/><circle cx="485.4" cy="321.2" r="1.6" fill="#2f55f0"/><circle cx="483.6" cy="328.9" r="1.6" fill="#2f55f0"/><circle cx="463.8" cy="329.4" r="1.6" fill="#2f55f0"/><circle cx="472.3" cy="325.4" r="1.6" fill="#2f55f0"/><circle cx="479.8" cy="325.2" r="1.6" fill="#2f55f0"/><circle cx="479.5" cy="317.7" r="1.6" fill="#2f55f0"/><circle cx="477.4" cy="326.6" r="1.6" fill="#2f55f0"/><circle cx="462.3" cy="332.7" r="1.6" fill="#2f55f0"/><circle cx="497.2" cy="322.2" r="1.6" fill="#2f55f0"/><circle cx="472.8" cy="311.0" r="1.6" fill="#2f55f0"/><circle cx="478.3" cy="337.3" r="1.6" fill="#2f55f0"/><circle cx="498.3" cy="320.7" r="1.6" fill="#2f55f0"/><circle cx="482.8" cy="333.9" r="1.6" fill="#2f55f0"/><circle cx="488.7" cy="326.8" r="1.6" fill="#2f55f0"/><circle cx="484.2" cy="323.4" r="1.6" fill="#2f55f0"/><circle cx="476.9" cy="323.2" r="1.6" fill="#2f55f0"/><circle cx="505.1" cy="323.7" r="1.6" fill="#2f55f0"/><circle cx="494.8" cy="324.4" r="1.6" fill="#2f55f0"/><circle cx="487.2" cy="326.0" r="1.6" fill="#2f55f0"/><circle cx="476.9" cy="324.8" r="1.6" fill="#2f55f0"/><circle cx="455.6" cy="316.5" r="1.6" fill="#2f55f0"/><circle cx="479.0" cy="316.4" r="1.6" fill="#2f55f0"/><circle cx="498.6" cy="319.8" r="1.6" fill="#2f55f0"/><circle cx="467.5" cy="319.8" r="1.6" fill="#2f55f0"/><circle cx="485.6" cy="329.5" r="1.6" fill="#2f55f0"/><circle cx="478.2" cy="317.3" r="1.6" fill="#2f55f0"/><circle cx="471.6" cy="329.7" r="1.6" fill="#2f55f0"/><circle cx="471.5" cy="334.4" r="1.6" fill="#2f55f0"/><circle cx="472.2" cy="327.6" r="1.6" fill="#2f55f0"/><circle cx="483.1" cy="332.0" r="1.6" fill="#2f55f0"/><circle cx="487.0" cy="323.3" r="1.6" fill="#2f55f0"/><circle cx="490.8" cy="327.1" r="1.6" fill="#2f55f0"/><circle cx="467.3" cy="335.3" r="1.6" fill="#2f55f0"/><circle cx="467.8" cy="324.5" r="1.6" fill="#2f55f0"/><circle cx="477.7" cy="331.3" r="1.6" fill="#2f55f0"/><circle cx="468.9" cy="325.4" r="1.6" fill="#2f55f0"/><circle cx="454.5" cy="328.6" r="1.6" fill="#2f55f0"/><circle cx="473.1" cy="323.1" r="1.6" fill="#2f55f0"/><circle cx="480.5" cy="323.0" r="1.6" fill="#2f55f0"/><circle cx="489.0" cy="329.6" r="1.6" fill="#2f55f0"/><circle cx="466.7" cy="324.5" r="1.6" fill="#2f55f0"/><circle cx="492.5" cy="331.3" r="1.6" fill="#2f55f0"/><circle cx="488.4" cy="324.4" r="1.6" fill="#2f55f0"/><circle cx="471.3" cy="330.1" r="1.6" fill="#2f55f0"/><circle cx="486.3" cy="315.7" r="1.6" fill="#2f55f0"/><circle cx="473.0" cy="320.4" r="1.6" fill="#2f55f0"/><circle cx="486.0" cy="332.2" r="1.6" fill="#2f55f0"/><circle cx="483.5" cy="326.7" r="1.6" fill="#2f55f0"/><circle cx="495.0" cy="334.0" r="1.6" fill="#2f55f0"/><circle cx="480.6" cy="329.2" r="1.6" fill="#2f55f0"/><circle cx="482.1" cy="320.2" r="1.6" fill="#2f55f0"/><circle cx="492.1" cy="331.6" r="1.6" fill="#2f55f0"/><circle cx="483.3" cy="325.8" r="1.6" fill="#2f55f0"/><circle cx="494.4" cy="324.9" r="1.6" fill="#2f55f0"/><circle cx="480.4" cy="318.5" r="1.6" fill="#2f55f0"/><circle cx="472.9" cy="328.8" r="1.6" fill="#2f55f0"/><circle cx="480.8" cy="320.1" r="1.6" fill="#2f55f0"/><circle cx="479.3" cy="318.8" r="1.6" fill="#2f55f0"/><circle cx="486.3" cy="320.8" r="1.6" fill="#2f55f0"/><circle cx="477.3" cy="331.0" r="1.6" fill="#2f55f0"/><circle cx="465.5" cy="323.1" r="1.6" fill="#2f55f0"/><circle cx="478.3" cy="325.1" r="1.6" fill="#2f55f0"/><circle cx="492.3" cy="325.7" r="1.6" fill="#2f55f0"/><circle cx="495.2" cy="332.1" r="1.6" fill="#2f55f0"/><circle cx="481.8" cy="326.5" r="1.6" fill="#2f55f0"/><circle cx="491.0" cy="321.5" r="1.6" fill="#2f55f0"/><circle cx="473.2" cy="322.5" r="1.6" fill="#2f55f0"/><circle cx="500.8" cy="332.6" r="1.6" fill="#2f55f0"/><circle cx="491.1" cy="326.9" r="1.6" fill="#2f55f0"/><circle cx="481.7" cy="317.6" r="1.6" fill="#2f55f0"/><circle cx="487.3" cy="330.4" r="1.6" fill="#2f55f0"/><circle cx="482.4" cy="330.9" r="1.6" fill="#2f55f0"/><circle cx="482.6" cy="328.4" r="1.6" fill="#2f55f0"/><circle cx="493.8" cy="317.6" r="1.6" fill="#2f55f0"/><circle cx="475.2" cy="328.5" r="1.6" fill="#2f55f0"/><circle cx="481.9" cy="319.1" r="1.6" fill="#2f55f0"/><circle cx="490.2" cy="321.2" r="1.6" fill="#2f55f0"/><circle cx="467.3" cy="329.1" r="1.6" fill="#2f55f0"/><circle cx="485.5" cy="311.2" r="1.6" fill="#2f55f0"/><circle cx="473.4" cy="320.8" r="1.6" fill="#2f55f0"/><circle cx="473.7" cy="326.0" r="1.6" fill="#2f55f0"/><circle cx="489.0" cy="333.8" r="1.6" fill="#2f55f0"/>
<path d="M506.7,407.3 L512.5,402.6 L519.4,398.0 L526.4,393.4 L531.0,388.7 L533.4,381.8 L532.2,372.5 L532.8,363.2 L531.0,353.9 L533.4,348.1 L541.5,344.6 L553.1,344.6 L563.5,346.9 L565.9,349.3 L561.2,352.7 L562.4,360.9 L561.2,367.8 L561.2,376.0 L563.5,384.1 L568.2,386.4 L575.2,389.9 L579.8,393.4 L584.4,398.0 L585.6,403.8 L582.1,409.6 L575.2,414.3 L570.5,417.7 L561.2,421.2 L554.3,422.4 L545.0,422.4 L535.7,418.9 L528.7,416.6 L521.8,414.3 L512.5,410.8Z" fill="#2f55f0"/>
<circle cx="505.8" cy="408.8" r="1.7" fill="#2f55f0"/><circle cx="508.4" cy="405.6" r="1.7" fill="#2f55f0"/><circle cx="511.1" cy="401.8" r="1.7" fill="#2f55f0"/><circle cx="516.4" cy="400.2" r="1.7" fill="#2f55f0"/><circle cx="517.6" cy="399.4" r="1.7" fill="#2f55f0"/><circle cx="519.3" cy="398.0" r="1.7" fill="#2f55f0"/><circle cx="520.8" cy="397.5" r="1.7" fill="#2f55f0"/><circle cx="522.8" cy="394.1" r="1.7" fill="#2f55f0"/><circle cx="524.9" cy="392.6" r="1.7" fill="#2f55f0"/><circle cx="528.4" cy="392.3" r="1.7" fill="#2f55f0"/><circle cx="530.7" cy="387.5" r="1.7" fill="#2f55f0"/><circle cx="531.4" cy="386.8" r="1.7" fill="#2f55f0"/><circle cx="532.0" cy="382.1" r="1.7" fill="#2f55f0"/><circle cx="532.6" cy="379.2" r="1.7" fill="#2f55f0"/><circle cx="532.1" cy="376.2" r="1.7" fill="#2f55f0"/><circle cx="532.2" cy="372.9" r="1.7" fill="#2f55f0"/><circle cx="533.7" cy="369.6" r="1.7" fill="#2f55f0"/><circle cx="531.4" cy="364.9" r="1.7" fill="#2f55f0"/><circle cx="534.2" cy="363.1" r="1.7" fill="#2f55f0"/><circle cx="531.2" cy="361.5" r="1.7" fill="#2f55f0"/><circle cx="531.9" cy="357.7" r="1.7" fill="#2f55f0"/><circle cx="532.3" cy="353.2" r="1.7" fill="#2f55f0"/><circle cx="531.7" cy="352.2" r="1.7" fill="#2f55f0"/><circle cx="532.2" cy="348.9" r="1.7" fill="#2f55f0"/><circle cx="534.8" cy="347.5" r="1.7" fill="#2f55f0"/><circle cx="539.4" cy="347.2" r="1.7" fill="#2f55f0"/><circle cx="542.6" cy="344.6" r="1.7" fill="#2f55f0"/><circle cx="543.4" cy="343.5" r="1.7" fill="#2f55f0"/><circle cx="547.4" cy="344.6" r="1.7" fill="#2f55f0"/><circle cx="548.8" cy="345.9" r="1.7" fill="#2f55f0"/><circle cx="553.1" cy="345.3" r="1.7" fill="#2f55f0"/><circle cx="554.8" cy="344.4" r="1.7" fill="#2f55f0"/><circle cx="556.8" cy="345.3" r="1.7" fill="#2f55f0"/><circle cx="560.2" cy="346.1" r="1.7" fill="#2f55f0"/><circle cx="563.1" cy="348.0" r="1.7" fill="#2f55f0"/><circle cx="567.1" cy="348.2" r="1.7" fill="#2f55f0"/><circle cx="563.2" cy="349.9" r="1.7" fill="#2f55f0"/><circle cx="561.7" cy="354.3" r="1.7" fill="#2f55f0"/><circle cx="560.7" cy="356.3" r="1.7" fill="#2f55f0"/><circle cx="561.4" cy="356.6" r="1.7" fill="#2f55f0"/><circle cx="563.2" cy="360.4" r="1.7" fill="#2f55f0"/><circle cx="560.7" cy="364.1" r="1.7" fill="#2f55f0"/><circle cx="560.4" cy="367.5" r="1.7" fill="#2f55f0"/><circle cx="561.0" cy="370.3" r="1.7" fill="#2f55f0"/><circle cx="561.5" cy="372.6" r="1.7" fill="#2f55f0"/><circle cx="559.9" cy="374.6" r="1.7" fill="#2f55f0"/><circle cx="560.7" cy="378.7" r="1.7" fill="#2f55f0"/><circle cx="562.3" cy="382.4" r="1.7" fill="#2f55f0"/><circle cx="563.6" cy="384.7" r="1.7" fill="#2f55f0"/><circle cx="569.7" cy="385.0" r="1.7" fill="#2f55f0"/><circle cx="570.1" cy="387.0" r="1.7" fill="#2f55f0"/><circle cx="574.8" cy="390.1" r="1.7" fill="#2f55f0"/><circle cx="578.3" cy="391.1" r="1.7" fill="#2f55f0"/><circle cx="581.3" cy="391.8" r="1.7" fill="#2f55f0"/><circle cx="583.2" cy="394.8" r="1.7" fill="#2f55f0"/><circle cx="585.6" cy="396.5" r="1.7" fill="#2f55f0"/><circle cx="586.5" cy="401.7" r="1.7" fill="#2f55f0"/><circle cx="587.2" cy="404.1" r="1.7" fill="#2f55f0"/><circle cx="582.8" cy="408.2" r="1.7" fill="#2f55f0"/><circle cx="581.9" cy="408.3" r="1.7" fill="#2f55f0"/><circle cx="580.1" cy="411.2" r="1.7" fill="#2f55f0"/><circle cx="577.4" cy="411.6" r="1.7" fill="#2f55f0"/><circle cx="573.9" cy="414.5" r="1.7" fill="#2f55f0"/><circle cx="572.7" cy="414.8" r="1.7" fill="#2f55f0"/><circle cx="570.3" cy="418.5" r="1.7" fill="#2f55f0"/><circle cx="568.1" cy="418.8" r="1.7" fill="#2f55f0"/><circle cx="564.0" cy="419.6" r="1.7" fill="#2f55f0"/><circle cx="560.3" cy="420.3" r="1.7" fill="#2f55f0"/><circle cx="557.6" cy="420.5" r="1.7" fill="#2f55f0"/><circle cx="555.0" cy="423.0" r="1.7" fill="#2f55f0"/><circle cx="551.5" cy="420.9" r="1.7" fill="#2f55f0"/><circle cx="547.6" cy="422.2" r="1.7" fill="#2f55f0"/><circle cx="543.7" cy="423.9" r="1.7" fill="#2f55f0"/><circle cx="542.7" cy="421.2" r="1.7" fill="#2f55f0"/><circle cx="539.4" cy="419.1" r="1.7" fill="#2f55f0"/><circle cx="534.8" cy="419.0" r="1.7" fill="#2f55f0"/><circle cx="533.0" cy="418.2" r="1.7" fill="#2f55f0"/><circle cx="527.1" cy="416.9" r="1.7" fill="#2f55f0"/><circle cx="526.5" cy="416.2" r="1.7" fill="#2f55f0"/><circle cx="523.1" cy="415.8" r="1.7" fill="#2f55f0"/><circle cx="517.8" cy="412.4" r="1.7" fill="#2f55f0"/><circle cx="515.7" cy="413.5" r="1.7" fill="#2f55f0"/><circle cx="512.1" cy="412.2" r="1.7" fill="#2f55f0"/><circle cx="510.7" cy="409.1" r="1.7" fill="#2f55f0"/>
<ellipse cx="547.9" cy="405.5" rx="11.9" ry="6.2" fill="#3fe0ea"/>
<ellipse cx="547.9" cy="405.5" rx="10.2" ry="5.1" fill="#43cf3c"/>
<ellipse cx="547.9" cy="405.5" rx="6.7" ry="3.8" fill="#ecea3a"/>
<ellipse cx="547.9" cy="405.5" rx="4.5" ry="2.9" fill="#ee2a1e"/>
<circle cx="450.9" cy="309.8" r="1.7" fill="#2a46dc"/><circle cx="470.7" cy="308.0" r="1.7" fill="#2a46dc"/><circle cx="459.7" cy="316.2" r="1.7" fill="#2a46dc"/><circle cx="455.0" cy="327.8" r="1.7" fill="#2a46dc"/><circle cx="454.4" cy="338.2" r="1.7" fill="#2a46dc"/><circle cx="467.2" cy="355.1" r="1.7" fill="#2a46dc"/><circle cx="474.2" cy="354.5" r="1.7" fill="#2a46dc"/><circle cx="474.7" cy="351.0" r="1.7" fill="#2a46dc"/><circle cx="470.7" cy="348.1" r="1.7" fill="#2a46dc"/><circle cx="481.1" cy="344.6" r="1.7" fill="#2a46dc"/><circle cx="477.6" cy="342.3" r="1.7" fill="#2a46dc"/><circle cx="489.3" cy="338.8" r="1.7" fill="#2a46dc"/><circle cx="498.5" cy="333.0" r="1.7" fill="#2a46dc"/><circle cx="503.2" cy="316.8" r="1.7" fill="#2a46dc"/><circle cx="504.3" cy="323.7" r="1.7" fill="#2a46dc"/><circle cx="482.3" cy="310.9" r="1.7" fill="#2a46dc"/><circle cx="489.3" cy="312.1" r="1.7" fill="#2a46dc"/><circle cx="516.5" cy="348.1" r="1.7" fill="#2a46dc"/><circle cx="526.4" cy="346.9" r="1.7" fill="#2a46dc"/><circle cx="531.0" cy="348.1" r="1.7" fill="#2a46dc"/><circle cx="480.0" cy="411.4" r="1.7" fill="#2a46dc"/><circle cx="470.7" cy="415.4" r="1.7" fill="#2a46dc"/><circle cx="545.0" cy="432.2" r="1.7" fill="#2a46dc"/><circle cx="556.6" cy="436.9" r="1.7" fill="#2a46dc"/><circle cx="564.1" cy="424.7" r="1.7" fill="#2a46dc"/><circle cx="555.4" cy="426.4" r="1.7" fill="#2a46dc"/><circle cx="549.6" cy="428.8" r="1.7" fill="#2a46dc"/><circle cx="547.3" cy="305.1" r="1.7" fill="#2a46dc"/><circle cx="550.8" cy="311.5" r="1.7" fill="#2a46dc"/><circle cx="536.8" cy="325.5" r="1.7" fill="#2a46dc"/><circle cx="536.8" cy="330.1" r="1.7" fill="#2a46dc"/><circle cx="536.8" cy="338.2" r="1.7" fill="#2a46dc"/><circle cx="545.0" cy="338.8" r="1.7" fill="#2a46dc"/><circle cx="551.9" cy="326.0" r="1.7" fill="#2a46dc"/><circle cx="554.3" cy="317.3" r="1.7" fill="#2a46dc"/><circle cx="556.6" cy="324.9" r="1.7" fill="#2a46dc"/><circle cx="561.2" cy="324.9" r="1.7" fill="#2a46dc"/><circle cx="558.9" cy="331.8" r="1.7" fill="#2a46dc"/><circle cx="557.7" cy="338.8" r="1.7" fill="#2a46dc"/><circle cx="551.9" cy="340.0" r="1.7" fill="#2a46dc"/><circle cx="547.3" cy="331.8" r="1.7" fill="#2a46dc"/><circle cx="545.0" cy="328.4" r="1.7" fill="#2a46dc"/><circle cx="550.8" cy="319.1" r="1.7" fill="#2a46dc"/><circle cx="553.1" cy="333.0" r="1.7" fill="#2a46dc"/><circle cx="555.4" cy="340.0" r="1.7" fill="#2a46dc"/><circle cx="541.5" cy="337.6" r="1.7" fill="#2a46dc"/><circle cx="525.8" cy="376.5" r="1.7" fill="#2a46dc"/><circle cx="526.4" cy="381.2" r="1.7" fill="#2a46dc"/><circle cx="564.7" cy="344.6" r="1.7" fill="#2a46dc"/><circle cx="565.3" cy="351.6" r="1.7" fill="#2a46dc"/><circle cx="565.9" cy="359.7" r="1.7" fill="#2a46dc"/><circle cx="564.7" cy="366.7" r="1.7" fill="#2a46dc"/><circle cx="576.3" cy="389.9" r="1.7" fill="#2a46dc"/>
<rect x="202.6" y="62.3" width="189.5" height="188.7" stroke="#1e1b1c" stroke-width="2.8" fill="none" />
<rect x="410.1" y="60.9" width="195.2" height="194.4" stroke="#1e1b1c" stroke-width="2.8" fill="none" />
<rect x="204.9" y="270.6" width="188.9" height="188.4" stroke="#1e1b1c" stroke-width="2.8" fill="none" />
<rect x="410.3" y="270.6" width="195.0" height="194.1" stroke="#1e1b1c" stroke-width="2.8" fill="none" />
<rect x="245.9" y="80.9" width="47.0" height="63.8" stroke="#1e1b1c" stroke-width="2.6" fill="none" />
<rect x="437.0" y="87.3" width="74.3" height="65.3" stroke="#1e1b1c" stroke-width="2.6" fill="none" />
<rect x="247.8" y="288.6" width="47.4" height="64.0" stroke="#1e1b1c" stroke-width="2.6" fill="none" />
<rect x="437.3" y="297.3" width="74.0" height="65.3" stroke="#1e1b1c" stroke-width="2.6" fill="none" />
<text x="269.4" y="76.4" font-size="13.4" text-anchor="middle" fill="#1e1b1c" stroke="#1e1b1c" stroke-width="0.24">5.83E-4</text>
<text x="474.7" y="82.5" font-size="13.4" text-anchor="middle" fill="#1e1b1c" stroke="#1e1b1c" stroke-width="0.24">3.83E-4</text>
<text x="269.6" y="284.0" font-size="13.8" text-anchor="middle" fill="#1e1b1c" stroke="#231f20" stroke-width="0.35">0.23</text>
<text x="472.5" y="291.2" font-size="13.8" text-anchor="middle" fill="#1e1b1c" stroke="#231f20" stroke-width="0.35">0.013</text>
<line x1="218.5" y1="251.0" x2="218.5" y2="258.0" stroke="#1e1b1c" stroke-width="1.8"/><line x1="262.5" y1="251.0" x2="262.5" y2="258.0" stroke="#1e1b1c" stroke-width="1.8"/><line x1="309.3" y1="251.0" x2="309.3" y2="258.0" stroke="#1e1b1c" stroke-width="1.8"/><line x1="356.9" y1="251.0" x2="356.9" y2="258.0" stroke="#1e1b1c" stroke-width="1.8"/><line x1="383.4" y1="251.0" x2="383.4" y2="258.0" stroke="#1e1b1c" stroke-width="1.8"/><line x1="323.6" y1="251.0" x2="323.6" y2="255.0" stroke="#1e1b1c" stroke-width="1.3"/><line x1="332.0" y1="251.0" x2="332.0" y2="255.0" stroke="#1e1b1c" stroke-width="1.3"/><line x1="337.9" y1="251.0" x2="337.9" y2="255.0" stroke="#1e1b1c" stroke-width="1.3"/><line x1="342.5" y1="251.0" x2="342.5" y2="255.0" stroke="#1e1b1c" stroke-width="1.3"/><line x1="346.3" y1="251.0" x2="346.3" y2="255.0" stroke="#1e1b1c" stroke-width="1.3"/><line x1="349.5" y1="251.0" x2="349.5" y2="255.0" stroke="#1e1b1c" stroke-width="1.3"/><line x1="352.2" y1="251.0" x2="352.2" y2="255.0" stroke="#1e1b1c" stroke-width="1.3"/><line x1="354.7" y1="251.0" x2="354.7" y2="255.0" stroke="#1e1b1c" stroke-width="1.3"/><line x1="364.8" y1="251.0" x2="364.8" y2="255.0" stroke="#1e1b1c" stroke-width="1.3"/><line x1="369.5" y1="251.0" x2="369.5" y2="255.0" stroke="#1e1b1c" stroke-width="1.3"/><line x1="372.8" y1="251.0" x2="372.8" y2="255.0" stroke="#1e1b1c" stroke-width="1.3"/><line x1="375.4" y1="251.0" x2="375.4" y2="255.0" stroke="#1e1b1c" stroke-width="1.3"/><line x1="377.5" y1="251.0" x2="377.5" y2="255.0" stroke="#1e1b1c" stroke-width="1.3"/><line x1="379.3" y1="251.0" x2="379.3" y2="255.0" stroke="#1e1b1c" stroke-width="1.3"/><line x1="380.8" y1="251.0" x2="380.8" y2="255.0" stroke="#1e1b1c" stroke-width="1.3"/><line x1="382.2" y1="251.0" x2="382.2" y2="255.0" stroke="#1e1b1c" stroke-width="1.3"/><line x1="250.5" y1="251.0" x2="250.5" y2="255.0" stroke="#1e1b1c" stroke-width="1.3"/><line x1="253.5" y1="251.0" x2="253.5" y2="255.0" stroke="#1e1b1c" stroke-width="1.3"/><line x1="256.5" y1="251.0" x2="256.5" y2="255.0" stroke="#1e1b1c" stroke-width="1.3"/><line x1="259.5" y1="251.0" x2="259.5" y2="255.0" stroke="#1e1b1c" stroke-width="1.3"/><line x1="262.5" y1="251.0" x2="262.5" y2="255.0" stroke="#1e1b1c" stroke-width="1.3"/><line x1="265.5" y1="251.0" x2="265.5" y2="255.0" stroke="#1e1b1c" stroke-width="1.3"/><line x1="268.5" y1="251.0" x2="268.5" y2="255.0" stroke="#1e1b1c" stroke-width="1.3"/><line x1="271.5" y1="251.0" x2="271.5" y2="255.0" stroke="#1e1b1c" stroke-width="1.3"/><line x1="274.5" y1="251.0" x2="274.5" y2="255.0" stroke="#1e1b1c" stroke-width="1.3"/><line x1="227.5" y1="251.0" x2="227.5" y2="255.0" stroke="#1e1b1c" stroke-width="1.3"/><line x1="236.5" y1="251.0" x2="236.5" y2="255.0" stroke="#1e1b1c" stroke-width="1.3"/><line x1="245.5" y1="251.0" x2="245.5" y2="255.0" stroke="#1e1b1c" stroke-width="1.3"/><line x1="254.5" y1="251.0" x2="254.5" y2="255.0" stroke="#1e1b1c" stroke-width="1.3"/><line x1="195.6" y1="84.8" x2="202.6" y2="84.8" stroke="#1e1b1c" stroke-width="1.8"/><line x1="195.6" y1="137.8" x2="202.6" y2="137.8" stroke="#1e1b1c" stroke-width="1.8"/><line x1="195.6" y1="188.4" x2="202.6" y2="188.4" stroke="#1e1b1c" stroke-width="1.8"/><line x1="195.6" y1="241.0" x2="202.6" y2="241.0" stroke="#1e1b1c" stroke-width="1.8"/><line x1="198.6" y1="121.8" x2="202.6" y2="121.8" stroke="#1e1b1c" stroke-width="1.3"/><line x1="198.6" y1="112.5" x2="202.6" y2="112.5" stroke="#1e1b1c" stroke-width="1.3"/><line x1="198.6" y1="105.9" x2="202.6" y2="105.9" stroke="#1e1b1c" stroke-width="1.3"/><line x1="198.6" y1="100.7" x2="202.6" y2="100.7" stroke="#1e1b1c" stroke-width="1.3"/><line x1="198.6" y1="96.5" x2="202.6" y2="96.5" stroke="#1e1b1c" stroke-width="1.3"/><line x1="198.6" y1="93.0" x2="202.6" y2="93.0" stroke="#1e1b1c" stroke-width="1.3"/><line x1="198.6" y1="89.9" x2="202.6" y2="89.9" stroke="#1e1b1c" stroke-width="1.3"/><line x1="198.6" y1="87.2" x2="202.6" y2="87.2" stroke="#1e1b1c" stroke-width="1.3"/><line x1="198.6" y1="173.1" x2="202.6" y2="173.1" stroke="#1e1b1c" stroke-width="1.3"/><line x1="198.6" y1="164.2" x2="202.6" y2="164.2" stroke="#1e1b1c" stroke-width="1.3"/><line x1="198.6" y1="157.9" x2="202.6" y2="157.9" stroke="#1e1b1c" stroke-width="1.3"/><line x1="198.6" y1="153.0" x2="202.6" y2="153.0" stroke="#1e1b1c" stroke-width="1.3"/><line x1="198.6" y1="149.0" x2="202.6" y2="149.0" stroke="#1e1b1c" stroke-width="1.3"/><line x1="198.6" y1="145.6" x2="202.6" y2="145.6" stroke="#1e1b1c" stroke-width="1.3"/><line x1="198.6" y1="142.7" x2="202.6" y2="142.7" stroke="#1e1b1c" stroke-width="1.3"/><line x1="198.6" y1="140.1" x2="202.6" y2="140.1" stroke="#1e1b1c" stroke-width="1.3"/><line x1="198.6" y1="180.4" x2="202.6" y2="180.4" stroke="#1e1b1c" stroke-width="1.3"/><line x1="198.6" y1="182.4" x2="202.6" y2="182.4" stroke="#1e1b1c" stroke-width="1.3"/><line x1="198.6" y1="184.4" x2="202.6" y2="184.4" stroke="#1e1b1c" stroke-width="1.3"/><line x1="198.6" y1="186.4" x2="202.6" y2="186.4" stroke="#1e1b1c" stroke-width="1.3"/><line x1="198.6" y1="188.4" x2="202.6" y2="188.4" stroke="#1e1b1c" stroke-width="1.3"/><line x1="198.6" y1="190.4" x2="202.6" y2="190.4" stroke="#1e1b1c" stroke-width="1.3"/><line x1="198.6" y1="192.4" x2="202.6" y2="192.4" stroke="#1e1b1c" stroke-width="1.3"/><line x1="198.6" y1="194.4" x2="202.6" y2="194.4" stroke="#1e1b1c" stroke-width="1.3"/><line x1="198.6" y1="196.4" x2="202.6" y2="196.4" stroke="#1e1b1c" stroke-width="1.3"/>
<line x1="426.5" y1="255.3" x2="426.5" y2="262.3" stroke="#1e1b1c" stroke-width="1.8"/><line x1="471.8" y1="255.3" x2="471.8" y2="262.3" stroke="#1e1b1c" stroke-width="1.8"/><line x1="520.0" y1="255.3" x2="520.0" y2="262.3" stroke="#1e1b1c" stroke-width="1.8"/><line x1="569.0" y1="255.3" x2="569.0" y2="262.3" stroke="#1e1b1c" stroke-width="1.8"/><line x1="596.3" y1="255.3" x2="596.3" y2="262.3" stroke="#1e1b1c" stroke-width="1.8"/><line x1="534.7" y1="255.3" x2="534.7" y2="259.3" stroke="#1e1b1c" stroke-width="1.3"/><line x1="543.4" y1="255.3" x2="543.4" y2="259.3" stroke="#1e1b1c" stroke-width="1.3"/><line x1="549.5" y1="255.3" x2="549.5" y2="259.3" stroke="#1e1b1c" stroke-width="1.3"/><line x1="554.2" y1="255.3" x2="554.2" y2="259.3" stroke="#1e1b1c" stroke-width="1.3"/><line x1="558.1" y1="255.3" x2="558.1" y2="259.3" stroke="#1e1b1c" stroke-width="1.3"/><line x1="561.4" y1="255.3" x2="561.4" y2="259.3" stroke="#1e1b1c" stroke-width="1.3"/><line x1="564.2" y1="255.3" x2="564.2" y2="259.3" stroke="#1e1b1c" stroke-width="1.3"/><line x1="566.8" y1="255.3" x2="566.8" y2="259.3" stroke="#1e1b1c" stroke-width="1.3"/><line x1="577.2" y1="255.3" x2="577.2" y2="259.3" stroke="#1e1b1c" stroke-width="1.3"/><line x1="582.0" y1="255.3" x2="582.0" y2="259.3" stroke="#1e1b1c" stroke-width="1.3"/><line x1="585.4" y1="255.3" x2="585.4" y2="259.3" stroke="#1e1b1c" stroke-width="1.3"/><line x1="588.1" y1="255.3" x2="588.1" y2="259.3" stroke="#1e1b1c" stroke-width="1.3"/><line x1="590.3" y1="255.3" x2="590.3" y2="259.3" stroke="#1e1b1c" stroke-width="1.3"/><line x1="592.1" y1="255.3" x2="592.1" y2="259.3" stroke="#1e1b1c" stroke-width="1.3"/><line x1="593.7" y1="255.3" x2="593.7" y2="259.3" stroke="#1e1b1c" stroke-width="1.3"/><line x1="595.1" y1="255.3" x2="595.1" y2="259.3" stroke="#1e1b1c" stroke-width="1.3"/><line x1="459.8" y1="255.3" x2="459.8" y2="259.3" stroke="#1e1b1c" stroke-width="1.3"/><line x1="462.8" y1="255.3" x2="462.8" y2="259.3" stroke="#1e1b1c" stroke-width="1.3"/><line x1="465.8" y1="255.3" x2="465.8" y2="259.3" stroke="#1e1b1c" stroke-width="1.3"/><line x1="468.8" y1="255.3" x2="468.8" y2="259.3" stroke="#1e1b1c" stroke-width="1.3"/><line x1="471.8" y1="255.3" x2="471.8" y2="259.3" stroke="#1e1b1c" stroke-width="1.3"/><line x1="474.8" y1="255.3" x2="474.8" y2="259.3" stroke="#1e1b1c" stroke-width="1.3"/><line x1="477.8" y1="255.3" x2="477.8" y2="259.3" stroke="#1e1b1c" stroke-width="1.3"/><line x1="480.8" y1="255.3" x2="480.8" y2="259.3" stroke="#1e1b1c" stroke-width="1.3"/><line x1="483.8" y1="255.3" x2="483.8" y2="259.3" stroke="#1e1b1c" stroke-width="1.3"/><line x1="435.5" y1="255.3" x2="435.5" y2="259.3" stroke="#1e1b1c" stroke-width="1.3"/><line x1="444.5" y1="255.3" x2="444.5" y2="259.3" stroke="#1e1b1c" stroke-width="1.3"/><line x1="453.5" y1="255.3" x2="453.5" y2="259.3" stroke="#1e1b1c" stroke-width="1.3"/><line x1="462.5" y1="255.3" x2="462.5" y2="259.3" stroke="#1e1b1c" stroke-width="1.3"/><line x1="403.1" y1="84.0" x2="410.1" y2="84.0" stroke="#1e1b1c" stroke-width="1.8"/><line x1="403.1" y1="138.7" x2="410.1" y2="138.7" stroke="#1e1b1c" stroke-width="1.8"/><line x1="403.1" y1="190.8" x2="410.1" y2="190.8" stroke="#1e1b1c" stroke-width="1.8"/><line x1="403.1" y1="245.0" x2="410.1" y2="245.0" stroke="#1e1b1c" stroke-width="1.8"/><line x1="406.1" y1="122.2" x2="410.1" y2="122.2" stroke="#1e1b1c" stroke-width="1.3"/><line x1="406.1" y1="112.6" x2="410.1" y2="112.6" stroke="#1e1b1c" stroke-width="1.3"/><line x1="406.1" y1="105.8" x2="410.1" y2="105.8" stroke="#1e1b1c" stroke-width="1.3"/><line x1="406.1" y1="100.5" x2="410.1" y2="100.5" stroke="#1e1b1c" stroke-width="1.3"/><line x1="406.1" y1="96.2" x2="410.1" y2="96.2" stroke="#1e1b1c" stroke-width="1.3"/><line x1="406.1" y1="92.5" x2="410.1" y2="92.5" stroke="#1e1b1c" stroke-width="1.3"/><line x1="406.1" y1="89.3" x2="410.1" y2="89.3" stroke="#1e1b1c" stroke-width="1.3"/><line x1="406.1" y1="86.5" x2="410.1" y2="86.5" stroke="#1e1b1c" stroke-width="1.3"/><line x1="406.1" y1="175.1" x2="410.1" y2="175.1" stroke="#1e1b1c" stroke-width="1.3"/><line x1="406.1" y1="165.9" x2="410.1" y2="165.9" stroke="#1e1b1c" stroke-width="1.3"/><line x1="406.1" y1="159.4" x2="410.1" y2="159.4" stroke="#1e1b1c" stroke-width="1.3"/><line x1="406.1" y1="154.3" x2="410.1" y2="154.3" stroke="#1e1b1c" stroke-width="1.3"/><line x1="406.1" y1="150.2" x2="410.1" y2="150.2" stroke="#1e1b1c" stroke-width="1.3"/><line x1="406.1" y1="146.7" x2="410.1" y2="146.7" stroke="#1e1b1c" stroke-width="1.3"/><line x1="406.1" y1="143.7" x2="410.1" y2="143.7" stroke="#1e1b1c" stroke-width="1.3"/><line x1="406.1" y1="141.0" x2="410.1" y2="141.0" stroke="#1e1b1c" stroke-width="1.3"/><line x1="406.1" y1="182.8" x2="410.1" y2="182.8" stroke="#1e1b1c" stroke-width="1.3"/><line x1="406.1" y1="184.8" x2="410.1" y2="184.8" stroke="#1e1b1c" stroke-width="1.3"/><line x1="406.1" y1="186.8" x2="410.1" y2="186.8" stroke="#1e1b1c" stroke-width="1.3"/><line x1="406.1" y1="188.8" x2="410.1" y2="188.8" stroke="#1e1b1c" stroke-width="1.3"/><line x1="406.1" y1="190.8" x2="410.1" y2="190.8" stroke="#1e1b1c" stroke-width="1.3"/><line x1="406.1" y1="192.8" x2="410.1" y2="192.8" stroke="#1e1b1c" stroke-width="1.3"/><line x1="406.1" y1="194.8" x2="410.1" y2="194.8" stroke="#1e1b1c" stroke-width="1.3"/><line x1="406.1" y1="196.8" x2="410.1" y2="196.8" stroke="#1e1b1c" stroke-width="1.3"/><line x1="406.1" y1="198.8" x2="410.1" y2="198.8" stroke="#1e1b1c" stroke-width="1.3"/>
<line x1="220.8" y1="459.0" x2="220.8" y2="466.0" stroke="#1e1b1c" stroke-width="1.8"/><line x1="264.6" y1="459.0" x2="264.6" y2="466.0" stroke="#1e1b1c" stroke-width="1.8"/><line x1="311.3" y1="459.0" x2="311.3" y2="466.0" stroke="#1e1b1c" stroke-width="1.8"/><line x1="358.7" y1="459.0" x2="358.7" y2="466.0" stroke="#1e1b1c" stroke-width="1.8"/><line x1="385.1" y1="459.0" x2="385.1" y2="466.0" stroke="#1e1b1c" stroke-width="1.8"/><line x1="325.5" y1="459.0" x2="325.5" y2="463.0" stroke="#1e1b1c" stroke-width="1.3"/><line x1="333.9" y1="459.0" x2="333.9" y2="463.0" stroke="#1e1b1c" stroke-width="1.3"/><line x1="339.8" y1="459.0" x2="339.8" y2="463.0" stroke="#1e1b1c" stroke-width="1.3"/><line x1="344.4" y1="459.0" x2="344.4" y2="463.0" stroke="#1e1b1c" stroke-width="1.3"/><line x1="348.1" y1="459.0" x2="348.1" y2="463.0" stroke="#1e1b1c" stroke-width="1.3"/><line x1="351.3" y1="459.0" x2="351.3" y2="463.0" stroke="#1e1b1c" stroke-width="1.3"/><line x1="354.1" y1="459.0" x2="354.1" y2="463.0" stroke="#1e1b1c" stroke-width="1.3"/><line x1="356.5" y1="459.0" x2="356.5" y2="463.0" stroke="#1e1b1c" stroke-width="1.3"/><line x1="366.6" y1="459.0" x2="366.6" y2="463.0" stroke="#1e1b1c" stroke-width="1.3"/><line x1="371.3" y1="459.0" x2="371.3" y2="463.0" stroke="#1e1b1c" stroke-width="1.3"/><line x1="374.6" y1="459.0" x2="374.6" y2="463.0" stroke="#1e1b1c" stroke-width="1.3"/><line x1="377.1" y1="459.0" x2="377.1" y2="463.0" stroke="#1e1b1c" stroke-width="1.3"/><line x1="379.2" y1="459.0" x2="379.2" y2="463.0" stroke="#1e1b1c" stroke-width="1.3"/><line x1="381.0" y1="459.0" x2="381.0" y2="463.0" stroke="#1e1b1c" stroke-width="1.3"/><line x1="382.5" y1="459.0" x2="382.5" y2="463.0" stroke="#1e1b1c" stroke-width="1.3"/><line x1="383.9" y1="459.0" x2="383.9" y2="463.0" stroke="#1e1b1c" stroke-width="1.3"/><line x1="252.6" y1="459.0" x2="252.6" y2="463.0" stroke="#1e1b1c" stroke-width="1.3"/><line x1="255.6" y1="459.0" x2="255.6" y2="463.0" stroke="#1e1b1c" stroke-width="1.3"/><line x1="258.6" y1="459.0" x2="258.6" y2="463.0" stroke="#1e1b1c" stroke-width="1.3"/><line x1="261.6" y1="459.0" x2="261.6" y2="463.0" stroke="#1e1b1c" stroke-width="1.3"/><line x1="264.6" y1="459.0" x2="264.6" y2="463.0" stroke="#1e1b1c" stroke-width="1.3"/><line x1="267.6" y1="459.0" x2="267.6" y2="463.0" stroke="#1e1b1c" stroke-width="1.3"/><line x1="270.6" y1="459.0" x2="270.6" y2="463.0" stroke="#1e1b1c" stroke-width="1.3"/><line x1="273.6" y1="459.0" x2="273.6" y2="463.0" stroke="#1e1b1c" stroke-width="1.3"/><line x1="276.6" y1="459.0" x2="276.6" y2="463.0" stroke="#1e1b1c" stroke-width="1.3"/><line x1="229.8" y1="459.0" x2="229.8" y2="463.0" stroke="#1e1b1c" stroke-width="1.3"/><line x1="238.8" y1="459.0" x2="238.8" y2="463.0" stroke="#1e1b1c" stroke-width="1.3"/><line x1="247.8" y1="459.0" x2="247.8" y2="463.0" stroke="#1e1b1c" stroke-width="1.3"/><line x1="256.8" y1="459.0" x2="256.8" y2="463.0" stroke="#1e1b1c" stroke-width="1.3"/><line x1="197.9" y1="293.0" x2="204.9" y2="293.0" stroke="#1e1b1c" stroke-width="1.8"/><line x1="197.9" y1="346.0" x2="204.9" y2="346.0" stroke="#1e1b1c" stroke-width="1.8"/><line x1="197.9" y1="396.5" x2="204.9" y2="396.5" stroke="#1e1b1c" stroke-width="1.8"/><line x1="197.9" y1="449.0" x2="204.9" y2="449.0" stroke="#1e1b1c" stroke-width="1.8"/><line x1="200.9" y1="330.0" x2="204.9" y2="330.0" stroke="#1e1b1c" stroke-width="1.3"/><line x1="200.9" y1="320.7" x2="204.9" y2="320.7" stroke="#1e1b1c" stroke-width="1.3"/><line x1="200.9" y1="314.1" x2="204.9" y2="314.1" stroke="#1e1b1c" stroke-width="1.3"/><line x1="200.9" y1="309.0" x2="204.9" y2="309.0" stroke="#1e1b1c" stroke-width="1.3"/><line x1="200.9" y1="304.8" x2="204.9" y2="304.8" stroke="#1e1b1c" stroke-width="1.3"/><line x1="200.9" y1="301.2" x2="204.9" y2="301.2" stroke="#1e1b1c" stroke-width="1.3"/><line x1="200.9" y1="298.2" x2="204.9" y2="298.2" stroke="#1e1b1c" stroke-width="1.3"/><line x1="200.9" y1="295.4" x2="204.9" y2="295.4" stroke="#1e1b1c" stroke-width="1.3"/><line x1="200.9" y1="381.3" x2="204.9" y2="381.3" stroke="#1e1b1c" stroke-width="1.3"/><line x1="200.9" y1="372.4" x2="204.9" y2="372.4" stroke="#1e1b1c" stroke-width="1.3"/><line x1="200.9" y1="366.1" x2="204.9" y2="366.1" stroke="#1e1b1c" stroke-width="1.3"/><line x1="200.9" y1="361.2" x2="204.9" y2="361.2" stroke="#1e1b1c" stroke-width="1.3"/><line x1="200.9" y1="357.2" x2="204.9" y2="357.2" stroke="#1e1b1c" stroke-width="1.3"/><line x1="200.9" y1="353.8" x2="204.9" y2="353.8" stroke="#1e1b1c" stroke-width="1.3"/><line x1="200.9" y1="350.9" x2="204.9" y2="350.9" stroke="#1e1b1c" stroke-width="1.3"/><line x1="200.9" y1="348.3" x2="204.9" y2="348.3" stroke="#1e1b1c" stroke-width="1.3"/><line x1="200.9" y1="388.5" x2="204.9" y2="388.5" stroke="#1e1b1c" stroke-width="1.3"/><line x1="200.9" y1="390.5" x2="204.9" y2="390.5" stroke="#1e1b1c" stroke-width="1.3"/><line x1="200.9" y1="392.5" x2="204.9" y2="392.5" stroke="#1e1b1c" stroke-width="1.3"/><line x1="200.9" y1="394.5" x2="204.9" y2="394.5" stroke="#1e1b1c" stroke-width="1.3"/><line x1="200.9" y1="396.5" x2="204.9" y2="396.5" stroke="#1e1b1c" stroke-width="1.3"/><line x1="200.9" y1="398.5" x2="204.9" y2="398.5" stroke="#1e1b1c" stroke-width="1.3"/><line x1="200.9" y1="400.5" x2="204.9" y2="400.5" stroke="#1e1b1c" stroke-width="1.3"/><line x1="200.9" y1="402.5" x2="204.9" y2="402.5" stroke="#1e1b1c" stroke-width="1.3"/><line x1="200.9" y1="404.5" x2="204.9" y2="404.5" stroke="#1e1b1c" stroke-width="1.3"/>
<line x1="426.7" y1="464.7" x2="426.7" y2="471.7" stroke="#1e1b1c" stroke-width="1.8"/><line x1="471.9" y1="464.7" x2="471.9" y2="471.7" stroke="#1e1b1c" stroke-width="1.8"/><line x1="520.1" y1="464.7" x2="520.1" y2="471.7" stroke="#1e1b1c" stroke-width="1.8"/><line x1="569.0" y1="464.7" x2="569.0" y2="471.7" stroke="#1e1b1c" stroke-width="1.8"/><line x1="596.3" y1="464.7" x2="596.3" y2="471.7" stroke="#1e1b1c" stroke-width="1.8"/><line x1="534.8" y1="464.7" x2="534.8" y2="468.7" stroke="#1e1b1c" stroke-width="1.3"/><line x1="543.4" y1="464.7" x2="543.4" y2="468.7" stroke="#1e1b1c" stroke-width="1.3"/><line x1="549.6" y1="464.7" x2="549.6" y2="468.7" stroke="#1e1b1c" stroke-width="1.3"/><line x1="554.3" y1="464.7" x2="554.3" y2="468.7" stroke="#1e1b1c" stroke-width="1.3"/><line x1="558.2" y1="464.7" x2="558.2" y2="468.7" stroke="#1e1b1c" stroke-width="1.3"/><line x1="561.4" y1="464.7" x2="561.4" y2="468.7" stroke="#1e1b1c" stroke-width="1.3"/><line x1="564.3" y1="464.7" x2="564.3" y2="468.7" stroke="#1e1b1c" stroke-width="1.3"/><line x1="566.8" y1="464.7" x2="566.8" y2="468.7" stroke="#1e1b1c" stroke-width="1.3"/><line x1="577.2" y1="464.7" x2="577.2" y2="468.7" stroke="#1e1b1c" stroke-width="1.3"/><line x1="582.1" y1="464.7" x2="582.1" y2="468.7" stroke="#1e1b1c" stroke-width="1.3"/><line x1="585.5" y1="464.7" x2="585.5" y2="468.7" stroke="#1e1b1c" stroke-width="1.3"/><line x1="588.1" y1="464.7" x2="588.1" y2="468.7" stroke="#1e1b1c" stroke-width="1.3"/><line x1="590.3" y1="464.7" x2="590.3" y2="468.7" stroke="#1e1b1c" stroke-width="1.3"/><line x1="592.1" y1="464.7" x2="592.1" y2="468.7" stroke="#1e1b1c" stroke-width="1.3"/><line x1="593.7" y1="464.7" x2="593.7" y2="468.7" stroke="#1e1b1c" stroke-width="1.3"/><line x1="595.1" y1="464.7" x2="595.1" y2="468.7" stroke="#1e1b1c" stroke-width="1.3"/><line x1="459.9" y1="464.7" x2="459.9" y2="468.7" stroke="#1e1b1c" stroke-width="1.3"/><line x1="462.9" y1="464.7" x2="462.9" y2="468.7" stroke="#1e1b1c" stroke-width="1.3"/><line x1="465.9" y1="464.7" x2="465.9" y2="468.7" stroke="#1e1b1c" stroke-width="1.3"/><line x1="468.9" y1="464.7" x2="468.9" y2="468.7" stroke="#1e1b1c" stroke-width="1.3"/><line x1="471.9" y1="464.7" x2="471.9" y2="468.7" stroke="#1e1b1c" stroke-width="1.3"/><line x1="474.9" y1="464.7" x2="474.9" y2="468.7" stroke="#1e1b1c" stroke-width="1.3"/><line x1="477.9" y1="464.7" x2="477.9" y2="468.7" stroke="#1e1b1c" stroke-width="1.3"/><line x1="480.9" y1="464.7" x2="480.9" y2="468.7" stroke="#1e1b1c" stroke-width="1.3"/><line x1="483.9" y1="464.7" x2="483.9" y2="468.7" stroke="#1e1b1c" stroke-width="1.3"/><line x1="435.7" y1="464.7" x2="435.7" y2="468.7" stroke="#1e1b1c" stroke-width="1.3"/><line x1="444.7" y1="464.7" x2="444.7" y2="468.7" stroke="#1e1b1c" stroke-width="1.3"/><line x1="453.7" y1="464.7" x2="453.7" y2="468.7" stroke="#1e1b1c" stroke-width="1.3"/><line x1="462.7" y1="464.7" x2="462.7" y2="468.7" stroke="#1e1b1c" stroke-width="1.3"/><line x1="403.3" y1="293.7" x2="410.3" y2="293.7" stroke="#1e1b1c" stroke-width="1.8"/><line x1="403.3" y1="348.2" x2="410.3" y2="348.2" stroke="#1e1b1c" stroke-width="1.8"/><line x1="403.3" y1="400.3" x2="410.3" y2="400.3" stroke="#1e1b1c" stroke-width="1.8"/><line x1="403.3" y1="454.4" x2="410.3" y2="454.4" stroke="#1e1b1c" stroke-width="1.8"/><line x1="406.3" y1="331.8" x2="410.3" y2="331.8" stroke="#1e1b1c" stroke-width="1.3"/><line x1="406.3" y1="322.2" x2="410.3" y2="322.2" stroke="#1e1b1c" stroke-width="1.3"/><line x1="406.3" y1="315.4" x2="410.3" y2="315.4" stroke="#1e1b1c" stroke-width="1.3"/><line x1="406.3" y1="310.1" x2="410.3" y2="310.1" stroke="#1e1b1c" stroke-width="1.3"/><line x1="406.3" y1="305.8" x2="410.3" y2="305.8" stroke="#1e1b1c" stroke-width="1.3"/><line x1="406.3" y1="302.1" x2="410.3" y2="302.1" stroke="#1e1b1c" stroke-width="1.3"/><line x1="406.3" y1="299.0" x2="410.3" y2="299.0" stroke="#1e1b1c" stroke-width="1.3"/><line x1="406.3" y1="296.2" x2="410.3" y2="296.2" stroke="#1e1b1c" stroke-width="1.3"/><line x1="406.3" y1="384.6" x2="410.3" y2="384.6" stroke="#1e1b1c" stroke-width="1.3"/><line x1="406.3" y1="375.4" x2="410.3" y2="375.4" stroke="#1e1b1c" stroke-width="1.3"/><line x1="406.3" y1="368.9" x2="410.3" y2="368.9" stroke="#1e1b1c" stroke-width="1.3"/><line x1="406.3" y1="363.9" x2="410.3" y2="363.9" stroke="#1e1b1c" stroke-width="1.3"/><line x1="406.3" y1="359.8" x2="410.3" y2="359.8" stroke="#1e1b1c" stroke-width="1.3"/><line x1="406.3" y1="356.3" x2="410.3" y2="356.3" stroke="#1e1b1c" stroke-width="1.3"/><line x1="406.3" y1="353.3" x2="410.3" y2="353.3" stroke="#1e1b1c" stroke-width="1.3"/><line x1="406.3" y1="350.6" x2="410.3" y2="350.6" stroke="#1e1b1c" stroke-width="1.3"/><line x1="406.3" y1="392.3" x2="410.3" y2="392.3" stroke="#1e1b1c" stroke-width="1.3"/><line x1="406.3" y1="394.3" x2="410.3" y2="394.3" stroke="#1e1b1c" stroke-width="1.3"/><line x1="406.3" y1="396.3" x2="410.3" y2="396.3" stroke="#1e1b1c" stroke-width="1.3"/><line x1="406.3" y1="398.3" x2="410.3" y2="398.3" stroke="#1e1b1c" stroke-width="1.3"/><line x1="406.3" y1="400.3" x2="410.3" y2="400.3" stroke="#1e1b1c" stroke-width="1.3"/><line x1="406.3" y1="402.3" x2="410.3" y2="402.3" stroke="#1e1b1c" stroke-width="1.3"/><line x1="406.3" y1="404.3" x2="410.3" y2="404.3" stroke="#1e1b1c" stroke-width="1.3"/><line x1="406.3" y1="406.3" x2="410.3" y2="406.3" stroke="#1e1b1c" stroke-width="1.3"/><line x1="406.3" y1="408.3" x2="410.3" y2="408.3" stroke="#1e1b1c" stroke-width="1.3"/>
<text x="221" y="479" font-size="11.5" text-anchor="middle" fill="#1e1b1c">-10<tspan dy="-5" font-size="8">4</tspan></text>
<text x="264.5" y="479" font-size="11.5" text-anchor="middle" fill="#1e1b1c">0</text>
<text x="311" y="479" font-size="11.5" text-anchor="middle" fill="#1e1b1c">10<tspan dy="-5" font-size="8">4</tspan></text>
<text x="358.5" y="479" font-size="11.5" text-anchor="middle" fill="#1e1b1c">10<tspan dy="-5" font-size="8">5</tspan></text>
<text x="385" y="479" font-size="11.5" text-anchor="middle" fill="#1e1b1c">10<tspan dy="-5" font-size="8">6</tspan></text>
<text x="186" y="296" font-size="11.5" text-anchor="middle" fill="#1e1b1c">10<tspan dy="-5" font-size="8">5</tspan></text>
<text x="186" y="349" font-size="11.5" text-anchor="middle" fill="#1e1b1c">10<tspan dy="-5" font-size="8">4</tspan></text>
<text x="190" y="400" font-size="11.5" text-anchor="middle" fill="#1e1b1c">0</text>
<text x="182" y="453" font-size="11.5" text-anchor="middle" fill="#1e1b1c">-10<tspan dy="-5" font-size="8">4</tspan></text>
<text x="682.0" y="35.2" font-size="48.5" text-anchor="start" fill="#1e1b1c" font-weight="bold">b</text>
<circle cx="893.8" cy="67.3" r="11.2" fill="#2d3437" stroke="#1e1b1c" stroke-width="2.0" />
<text x="921.8" y="75.8" font-size="31.6" text-anchor="start" fill="#1e1b1c" stroke="#1e1b1c" stroke-width="0.57">ANTrg</text>
<circle cx="1066.5" cy="67.3" r="11.2" fill="#97a5ab" stroke="#1e1b1c" stroke-width="2.0" />
<text x="1091.7" y="75.8" font-size="31.6" text-anchor="start" fill="#1e1b1c" stroke="#1e1b1c" stroke-width="0.57">SASrg</text>
<line x1="891.3" y1="148.0" x2="891.3" y2="436.0" stroke="#1e1b1c" stroke-width="2.4" />
<line x1="890.3" y1="435.0" x2="1155.0" y2="435.0" stroke="#1e1b1c" stroke-width="2.4" />
<line x1="881.3" y1="149.0" x2="891.3" y2="149.0" stroke="#1e1b1c" stroke-width="2.2" />
<text x="875.0" y="160.5" font-size="36" text-anchor="end" fill="#1e1b1c" stroke="#1e1b1c" stroke-width="0.65">0.4</text>
<line x1="881.3" y1="216.8" x2="891.3" y2="216.8" stroke="#1e1b1c" stroke-width="2.2" />
<text x="875.0" y="228.3" font-size="36" text-anchor="end" fill="#1e1b1c" stroke="#1e1b1c" stroke-width="0.65">0.3</text>
<line x1="881.3" y1="284.7" x2="891.3" y2="284.7" stroke="#1e1b1c" stroke-width="2.2" />
<text x="875.0" y="296.2" font-size="36" text-anchor="end" fill="#1e1b1c" stroke="#1e1b1c" stroke-width="0.65">0.2</text>
<line x1="881.3" y1="352.5" x2="891.3" y2="352.5" stroke="#1e1b1c" stroke-width="2.2" />
<text x="875.0" y="364.0" font-size="36" text-anchor="end" fill="#1e1b1c" stroke="#1e1b1c" stroke-width="0.65">0.1</text>
<line x1="881.3" y1="420.4" x2="891.3" y2="420.4" stroke="#1e1b1c" stroke-width="2.2" />
<text x="875.0" y="431.9" font-size="36" text-anchor="end" fill="#1e1b1c" stroke="#1e1b1c" stroke-width="0.65">0.0</text>
<line x1="953.0" y1="435.0" x2="953.0" y2="446.0" stroke="#1e1b1c" stroke-width="2.2" />
<line x1="1092.6" y1="435.0" x2="1092.6" y2="446.0" stroke="#1e1b1c" stroke-width="2.2" />
<text x="953.2" y="475.9" font-size="30.6" text-anchor="middle" fill="#1e1b1c" stroke="#1e1b1c" stroke-width="0.55">Day 4</text>
<text x="1089.1" y="475.9" font-size="30.6" text-anchor="middle" fill="#1e1b1c" stroke="#1e1b1c" stroke-width="0.55">Day 11</text>
<line x1="910.0" y1="149.0" x2="999.5" y2="149.0" stroke="#1e1b1c" stroke-width="2" />
<line x1="1045.6" y1="149.0" x2="1139.6" y2="149.0" stroke="#1e1b1c" stroke-width="2" />
<text x="955.0" y="135.7" font-size="27.8" text-anchor="middle" fill="#1e1b1c" stroke="#1e1b1c" stroke-width="0.50">0.0025</text>
<text x="1092.7" y="135.7" font-size="27.8" text-anchor="middle" fill="#1e1b1c" stroke="#1e1b1c" stroke-width="0.50">0.0058</text>
<line x1="891.3" y1="420.4" x2="1155.0" y2="420.4" stroke="#8a8f92" stroke-width="2" stroke-dasharray="7,5"/>
<text x="724.5" y="282.4" font-size="38" text-anchor="middle" fill="#1e1b1c" stroke="#1e1b1c" stroke-width="0.68" transform="rotate(-90 724.5 282.4)">CD45.2+</text>
<text x="769.5" y="279.9" font-size="38" text-anchor="middle" fill="#1e1b1c" stroke="#1e1b1c" stroke-width="0.68" transform="rotate(-90 769.5 279.9)">(% of CD4+ T cells)</text>
<circle cx="1009.4" cy="386.5" r="1.4" fill="#8a8f92"/>
<circle cx="909.0" cy="423.0" r="9.6" fill="#2d3437" stroke="#1e1b1c" stroke-width="2.0" />
<circle cx="916.0" cy="413.0" r="9.6" fill="#2d3437" stroke="#1e1b1c" stroke-width="2.0" />
<circle cx="923.0" cy="424.0" r="9.6" fill="#2d3437" stroke="#1e1b1c" stroke-width="2.0" />
<circle cx="929.0" cy="412.0" r="9.6" fill="#2d3437" stroke="#1e1b1c" stroke-width="2.0" />
<circle cx="936.0" cy="422.0" r="9.6" fill="#2d3437" stroke="#1e1b1c" stroke-width="2.0" />
<circle cx="912.0" cy="414.0" r="9.6" fill="#2d3437" stroke="#1e1b1c" stroke-width="2.0" />
<circle cx="933.0" cy="414.0" r="9.6" fill="#2d3437" stroke="#1e1b1c" stroke-width="2.0" />
<line x1="907.8" y1="418.4" x2="937.2" y2="418.4" stroke="#111" stroke-width="4.2" />
<circle cx="970.3" cy="203.0" r="9.6" fill="#97a5ab" stroke="#1e1b1c" stroke-width="2.0" />
<circle cx="991.5" cy="203.0" r="9.6" fill="#97a5ab" stroke="#1e1b1c" stroke-width="2.0" />
<circle cx="984.5" cy="264.0" r="9.6" fill="#97a5ab" stroke="#1e1b1c" stroke-width="2.0" />
<circle cx="984.5" cy="345.0" r="9.6" fill="#97a5ab" stroke="#1e1b1c" stroke-width="2.0" />
<circle cx="999.5" cy="352.5" r="9.6" fill="#97a5ab" stroke="#1e1b1c" stroke-width="2.0" />
<circle cx="977.5" cy="376.0" r="9.6" fill="#97a5ab" stroke="#1e1b1c" stroke-width="2.0" />
<line x1="985.0" y1="259.6" x2="985.0" y2="322.0" stroke="#1e1b1c" stroke-width="2" />
<line x1="980.0" y1="259.6" x2="990.0" y2="259.6" stroke="#1e1b1c" stroke-width="2" />
<line x1="980.0" y1="322.0" x2="990.0" y2="322.0" stroke="#1e1b1c" stroke-width="2" />
<line x1="970.0" y1="291.0" x2="999.5" y2="291.0" stroke="#111" stroke-width="4.5" />
<circle cx="1048.0" cy="421.0" r="9.6" fill="#2d3437" stroke="#1e1b1c" stroke-width="2.0" />
<circle cx="1055.0" cy="419.0" r="9.6" fill="#2d3437" stroke="#1e1b1c" stroke-width="2.0" />
<circle cx="1062.0" cy="422.0" r="9.6" fill="#2d3437" stroke="#1e1b1c" stroke-width="2.0" />
<circle cx="1069.0" cy="419.0" r="9.6" fill="#2d3437" stroke="#1e1b1c" stroke-width="2.0" />
<circle cx="1075.0" cy="421.0" r="9.6" fill="#2d3437" stroke="#1e1b1c" stroke-width="2.0" />
<circle cx="1052.0" cy="420.0" r="9.6" fill="#2d3437" stroke="#1e1b1c" stroke-width="2.0" />
<circle cx="1066.0" cy="421.0" r="9.6" fill="#2d3437" stroke="#1e1b1c" stroke-width="2.0" />
<line x1="1046.6" y1="421.2" x2="1076.1" y2="421.2" stroke="#111" stroke-width="4.2" />
<circle cx="1110.0" cy="418.0" r="9.6" fill="#97a5ab" stroke="#1e1b1c" stroke-width="2.0" />
<circle cx="1118.0" cy="410.0" r="9.6" fill="#97a5ab" stroke="#1e1b1c" stroke-width="2.0" />
<circle cx="1126.0" cy="419.0" r="9.6" fill="#97a5ab" stroke="#1e1b1c" stroke-width="2.0" />
<circle cx="1133.0" cy="412.0" r="9.6" fill="#97a5ab" stroke="#1e1b1c" stroke-width="2.0" />
<circle cx="1137.0" cy="410.0" r="9.6" fill="#97a5ab" stroke="#1e1b1c" stroke-width="2.0" />
<circle cx="1122.0" cy="413.0" r="9.6" fill="#97a5ab" stroke="#1e1b1c" stroke-width="2.0" />
<circle cx="1130.0" cy="418.0" r="9.6" fill="#97a5ab" stroke="#1e1b1c" stroke-width="2.0" />
<line x1="1108.0" y1="416.2" x2="1138.4" y2="416.2" stroke="#111" stroke-width="4.2" />
<text x="0.0" y="668.8" font-size="49.5" text-anchor="start" fill="#1e1b1c" font-weight="bold">c</text>
<rect x="213.5" y="646.5" width="25.5" height="24.5" stroke="#555a5c" stroke-width="2.4" fill="#969b9d" />
<rect x="213.5" y="689.5" width="25.5" height="24.5" stroke="#3caa3c" stroke-width="2.4" fill="#96d78c" />
<rect x="213.5" y="731.5" width="25.5" height="24.5" stroke="#e12896" stroke-width="2.4" fill="#f58cd7" />
<text x="262.0" y="670.5" font-size="32.5" text-anchor="start" fill="#1e1b1c" stroke="#1e1b1c" stroke-width="0.58">Polyclonal WT</text>
<text x="262.0" y="713.3" font-size="32.5" text-anchor="start" fill="#1e1b1c" stroke="#1e1b1c" stroke-width="0.58">Group 1</text>
<text x="262.0" y="755.4" font-size="32.5" text-anchor="start" fill="#1e1b1c" stroke="#1e1b1c" stroke-width="0.58">Group 3</text>
<line x1="82.7" y1="792.2" x2="82.7" y2="1016.4" stroke="#1e1b1c" stroke-width="2.6" />
<text x="63.8" y="905.5" font-size="28" text-anchor="middle" fill="#1e1b1c" stroke="#1e1b1c" stroke-width="0.50" transform="rotate(-90 63.8 905.5)">Input thymocytes</text>
<text x="203.4" y="935.5" font-size="32" text-anchor="end" fill="#3c4448" stroke="#3c4448" stroke-width="0.58">WT</text>
<text x="203.4" y="975.1" font-size="32" text-anchor="end" fill="#2f9e2f" stroke="#2f9e2f" stroke-width="0.58">ANTrg</text>
<text x="203.4" y="1013.2" font-size="32" text-anchor="end" fill="#e0339a" stroke="#e0339a" stroke-width="0.58">SASrg</text>
<path d="M213.8,937.9 L276.4,937.9 C277.1,937.8 279.7,937.9 280.9,937.1 C282.2,936.4 282.9,936.5 283.9,933.4 C284.9,930.2 286.1,927.1 287.0,918.3 C287.8,909.5 288.6,893.6 289.2,880.6 C289.9,867.5 290.2,850.4 290.7,839.8 C291.2,829.3 291.7,817.2 292.2,817.2 C292.7,817.2 293.1,829.3 293.7,839.8 C294.4,850.4 295.1,867.5 296.0,880.6 C296.9,893.6 298.0,909.5 299.0,918.3 C300.0,927.1 300.8,930.2 302.0,933.4 C303.3,936.5 304.3,936.4 306.6,937.1 C308.8,937.9 306.6,937.8 315.6,937.9 C327.2,938.0 362.9,938.0 376.0,937.9 C389.1,937.8 389.1,937.3 394.1,937.3 C399.1,937.2 401.1,937.6 406.2,937.6 C411.2,937.6 419.2,937.2 424.3,937.3 C429.3,937.3 434.3,937.8 436.3,937.9 L466.8,937.9 Z" fill="#758282" fill-opacity="0.8" stroke="none"/>
<path d="M213.8,937.9 L276.4,937.9 C277.1,937.8 279.7,937.9 280.9,937.1 C282.2,936.4 282.9,936.5 283.9,933.4 C284.9,930.2 286.1,927.1 287.0,918.3 C287.8,909.5 288.6,893.6 289.2,880.6 C289.9,867.5 290.2,850.4 290.7,839.8 C291.2,829.3 291.7,817.2 292.2,817.2 C292.7,817.2 293.1,829.3 293.7,839.8 C294.4,850.4 295.1,867.5 296.0,880.6 C296.9,893.6 298.0,909.5 299.0,918.3 C300.0,927.1 300.8,930.2 302.0,933.4 C303.3,936.5 304.3,936.4 306.6,937.1 C308.8,937.9 306.6,937.8 315.6,937.9 C327.2,938.0 362.9,938.0 376.0,937.9 C389.1,937.8 389.1,937.3 394.1,937.3 C399.1,937.2 401.1,937.6 406.2,937.6 C411.2,937.6 419.2,937.2 424.3,937.3 C429.3,937.3 434.3,937.8 436.3,937.9 L466.8,937.9" fill="none" stroke="#3d4446" stroke-width="2.2" stroke-linejoin="round"/>
<path d="M213.8,977.1 L274.9,977.1 C275.4,976.7 276.9,976.3 277.9,974.8 C278.9,973.3 279.9,973.7 280.9,968.0 C281.9,962.4 282.9,951.7 283.9,940.9 C284.9,930.1 286.0,915.2 287.0,903.2 C288.0,891.1 289.0,876.4 290.0,868.5 C291.0,860.5 292.1,855.6 293.0,855.6 C293.9,855.6 294.4,860.5 295.3,868.5 C296.1,876.4 297.3,891.1 298.3,903.2 C299.3,915.2 300.3,930.1 301.3,940.9 C302.3,951.7 303.3,962.3 304.3,968.0 C305.3,973.8 306.4,974.1 307.3,975.6 C308.2,977.1 309.2,976.8 309.6,977.1 L466.8,977.1 Z" fill="#3fbc37" fill-opacity="0.6" stroke="none"/>
<path d="M213.8,977.1 L274.9,977.1 C275.4,976.7 276.9,976.3 277.9,974.8 C278.9,973.3 279.9,973.7 280.9,968.0 C281.9,962.4 282.9,951.7 283.9,940.9 C284.9,930.1 286.0,915.2 287.0,903.2 C288.0,891.1 289.0,876.4 290.0,868.5 C291.0,860.5 292.1,855.6 293.0,855.6 C293.9,855.6 294.4,860.5 295.3,868.5 C296.1,876.4 297.3,891.1 298.3,903.2 C299.3,915.2 300.3,930.1 301.3,940.9 C302.3,951.7 303.3,962.3 304.3,968.0 C305.3,973.8 306.4,974.1 307.3,975.6 C308.2,977.1 309.2,976.8 309.6,977.1 L466.8,977.1" fill="none" stroke="#2ea02e" stroke-width="2.2" stroke-linejoin="round"/>
<path d="M213.8,1013.8 L283.2,1013.8 C283.6,1012.8 284.7,1012.3 285.4,1007.8 C286.2,1003.2 287.0,996.4 287.7,986.6 C288.5,976.8 289.1,961.5 290.0,948.9 C290.8,936.3 291.8,919.7 292.7,911.2 C293.6,902.6 294.4,897.6 295.3,897.6 C296.1,897.6 297.0,902.6 297.8,911.2 C298.7,919.7 299.4,936.3 300.2,948.9 C301.1,961.5 302.0,976.8 302.8,986.6 C303.6,996.4 304.3,1003.2 305.1,1007.8 C305.8,1012.3 307.0,1012.8 307.3,1013.8 L466.8,1013.8 Z" fill="#e425c3" fill-opacity="0.55" stroke="none"/>
<path d="M213.8,1013.8 L283.2,1013.8 C283.6,1012.8 284.7,1012.3 285.4,1007.8 C286.2,1003.2 287.0,996.4 287.7,986.6 C288.5,976.8 289.1,961.5 290.0,948.9 C290.8,936.3 291.8,919.7 292.7,911.2 C293.6,902.6 294.4,897.6 295.3,897.6 C296.1,897.6 297.0,902.6 297.8,911.2 C298.7,919.7 299.4,936.3 300.2,948.9 C301.1,961.5 302.0,976.8 302.8,986.6 C303.6,996.4 304.3,1003.2 305.1,1007.8 C305.8,1012.3 307.0,1012.8 307.3,1013.8 L466.8,1013.8" fill="none" stroke="#e12396" stroke-width="2.2" stroke-linejoin="round"/>
<line x1="327.4" y1="795.3" x2="327.4" y2="1013.8" stroke="#7d8588" stroke-width="1.8" stroke-dasharray="5,5"/>
<line x1="213.8" y1="1016.3" x2="466.8" y2="1016.3" stroke="#f07cc0" stroke-width="2" />
<rect x="213.8" y="793.3" width="253.0" height="220.5" stroke="#1e1b1c" stroke-width="2.6" fill="none" />
<text x="458.6" y="928.1" font-size="24" text-anchor="end" fill="#3c4448" stroke="#3c4448" stroke-width="0.43">4.1%</text>
<text x="458.6" y="968.1" font-size="24" text-anchor="end" fill="#2f9e2f" stroke="#2f9e2f" stroke-width="0.43">0%</text>
<text x="458.6" y="1004.0" font-size="24" text-anchor="end" fill="#e0339a" stroke="#e0339a" stroke-width="0.43">0.3%</text>
<line x1="227.0" y1="1014.8" x2="227.0" y2="1022.8" stroke="#1e1b1c" stroke-width="1.8" />
<text x="227.0" y="1037.5" font-size="15" text-anchor="middle" fill="#1e1b1c">-10<tspan dy="-6" font-size="10">4</tspan></text>
<line x1="289.8" y1="1014.8" x2="289.8" y2="1022.8" stroke="#1e1b1c" stroke-width="1.8" />
<text x="289.8" y="1037.5" font-size="15" text-anchor="middle" fill="#1e1b1c">0</text>
<line x1="351.6" y1="1014.8" x2="351.6" y2="1022.8" stroke="#1e1b1c" stroke-width="1.8" />
<text x="351.6" y="1037.5" font-size="15" text-anchor="middle" fill="#1e1b1c">10<tspan dy="-6" font-size="10">4</tspan></text>
<line x1="414.6" y1="1014.8" x2="414.6" y2="1022.8" stroke="#1e1b1c" stroke-width="1.8" />
<text x="414.6" y="1037.5" font-size="15" text-anchor="middle" fill="#1e1b1c">10<tspan dy="-6" font-size="10">5</tspan></text>
<line x1="466.0" y1="1014.8" x2="466.0" y2="1022.8" stroke="#1e1b1c" stroke-width="1.8" />
<text x="466.0" y="1037.5" font-size="15" text-anchor="middle" fill="#1e1b1c">10<tspan dy="-6" font-size="10">6</tspan></text>
<line x1="370.6" y1="1014.8" x2="370.6" y2="1018.8" stroke="#1e1b1c" stroke-width="1.2" />
<line x1="381.7" y1="1014.8" x2="381.7" y2="1018.8" stroke="#1e1b1c" stroke-width="1.2" />
<line x1="389.5" y1="1014.8" x2="389.5" y2="1018.8" stroke="#1e1b1c" stroke-width="1.2" />
<line x1="395.6" y1="1014.8" x2="395.6" y2="1018.8" stroke="#1e1b1c" stroke-width="1.2" />
<line x1="400.6" y1="1014.8" x2="400.6" y2="1018.8" stroke="#1e1b1c" stroke-width="1.2" />
<line x1="404.8" y1="1014.8" x2="404.8" y2="1018.8" stroke="#1e1b1c" stroke-width="1.2" />
<line x1="408.5" y1="1014.8" x2="408.5" y2="1018.8" stroke="#1e1b1c" stroke-width="1.2" />
<line x1="411.7" y1="1014.8" x2="411.7" y2="1018.8" stroke="#1e1b1c" stroke-width="1.2" />
<line x1="430.1" y1="1014.8" x2="430.1" y2="1018.8" stroke="#1e1b1c" stroke-width="1.2" />
<line x1="439.1" y1="1014.8" x2="439.1" y2="1018.8" stroke="#1e1b1c" stroke-width="1.2" />
<line x1="445.5" y1="1014.8" x2="445.5" y2="1018.8" stroke="#1e1b1c" stroke-width="1.2" />
<line x1="450.5" y1="1014.8" x2="450.5" y2="1018.8" stroke="#1e1b1c" stroke-width="1.2" />
<line x1="454.6" y1="1014.8" x2="454.6" y2="1018.8" stroke="#1e1b1c" stroke-width="1.2" />
<line x1="458.0" y1="1014.8" x2="458.0" y2="1018.8" stroke="#1e1b1c" stroke-width="1.2" />
<line x1="461.0" y1="1014.8" x2="461.0" y2="1018.8" stroke="#1e1b1c" stroke-width="1.2" />
<line x1="463.6" y1="1014.8" x2="463.6" y2="1018.8" stroke="#1e1b1c" stroke-width="1.2" />
<line x1="282.8" y1="1014.8" x2="282.8" y2="1019.8" stroke="#1e1b1c" stroke-width="1.4" />
<line x1="285.8" y1="1014.8" x2="285.8" y2="1019.8" stroke="#1e1b1c" stroke-width="1.4" />
<line x1="287.8" y1="1014.8" x2="287.8" y2="1019.8" stroke="#1e1b1c" stroke-width="1.4" />
<line x1="289.8" y1="1014.8" x2="289.8" y2="1019.8" stroke="#1e1b1c" stroke-width="1.4" />
<line x1="291.8" y1="1014.8" x2="291.8" y2="1019.8" stroke="#1e1b1c" stroke-width="1.4" />
<line x1="293.8" y1="1014.8" x2="293.8" y2="1019.8" stroke="#1e1b1c" stroke-width="1.4" />
<line x1="296.8" y1="1014.8" x2="296.8" y2="1019.8" stroke="#1e1b1c" stroke-width="1.4" />
<text x="346.2" y="1078.0" font-size="28" text-anchor="middle" fill="#1e1b1c" stroke="#1e1b1c" stroke-width="0.50">Foxp3 - PE-eFluor610</text>
<path d="M492.7,937.9 L559.4,937.9 C560.9,937.6 565.4,937.4 568.5,936.4 C571.5,935.4 575.0,933.6 577.5,931.9 C580.0,930.1 581.5,928.6 583.6,925.8 C585.6,923.1 587.6,921.6 589.6,915.3 C591.6,909.0 593.6,897.7 595.6,888.1 C597.6,878.5 599.4,868.7 601.7,857.9 C603.9,847.1 606.9,824.5 609.2,823.2 C611.5,822.0 613.5,841.6 615.2,850.4 C617.0,859.2 618.5,869.2 619.8,876.0 C621.0,882.8 621.5,887.3 622.8,891.1 C624.0,894.9 625.8,895.4 627.3,898.7 C628.8,901.9 630.3,908.5 631.8,910.7 C633.4,913.0 635.0,912.5 636.4,912.2 C637.8,912.0 638.6,908.5 640.1,909.2 C641.7,910.0 643.5,915.6 645.4,916.8 C647.3,917.9 649.4,916.4 651.5,916.0 C653.5,915.6 655.7,914.1 657.5,914.5 C659.3,914.9 660.0,918.9 662.0,918.3 C664.0,917.7 667.3,911.9 669.6,910.7 C671.8,909.6 673.8,910.2 675.6,911.5 C677.4,912.8 678.6,915.4 680.1,918.3 C681.6,921.2 683.4,926.1 684.7,928.8 C685.9,931.6 684.9,933.4 687.7,934.9 C690.4,936.4 699.0,937.4 701.3,937.9 L745.7,937.9 Z" fill="#758282" fill-opacity="0.8" stroke="none"/>
<path d="M492.7,937.9 L559.4,937.9 C560.9,937.6 565.4,937.4 568.5,936.4 C571.5,935.4 575.0,933.6 577.5,931.9 C580.0,930.1 581.5,928.6 583.6,925.8 C585.6,923.1 587.6,921.6 589.6,915.3 C591.6,909.0 593.6,897.7 595.6,888.1 C597.6,878.5 599.4,868.7 601.7,857.9 C603.9,847.1 606.9,824.5 609.2,823.2 C611.5,822.0 613.5,841.6 615.2,850.4 C617.0,859.2 618.5,869.2 619.8,876.0 C621.0,882.8 621.5,887.3 622.8,891.1 C624.0,894.9 625.8,895.4 627.3,898.7 C628.8,901.9 630.3,908.5 631.8,910.7 C633.4,913.0 635.0,912.5 636.4,912.2 C637.8,912.0 638.6,908.5 640.1,909.2 C641.7,910.0 643.5,915.6 645.4,916.8 C647.3,917.9 649.4,916.4 651.5,916.0 C653.5,915.6 655.7,914.1 657.5,914.5 C659.3,914.9 660.0,918.9 662.0,918.3 C664.0,917.7 667.3,911.9 669.6,910.7 C671.8,909.6 673.8,910.2 675.6,911.5 C677.4,912.8 678.6,915.4 680.1,918.3 C681.6,921.2 683.4,926.1 684.7,928.8 C685.9,931.6 684.9,933.4 687.7,934.9 C690.4,936.4 699.0,937.4 701.3,937.9 L745.7,937.9" fill="none" stroke="#3d4446" stroke-width="2.2" stroke-linejoin="round"/>
<path d="M492.7,977.1 L570.0,977.1 C570.7,976.6 572.7,975.8 574.5,974.1 C576.3,972.3 578.3,969.6 580.5,966.5 C582.8,963.5 585.8,959.7 588.1,956.0 C590.3,952.2 592.4,948.2 594.1,943.9 C595.9,939.6 596.9,933.8 598.6,930.3 C600.4,926.8 602.7,924.3 604.7,922.8 C606.7,921.2 609.0,921.1 610.7,921.0 C612.5,920.8 614.0,920.5 615.2,922.0 C616.5,923.6 617.0,925.9 618.3,930.3 C619.5,934.7 621.0,942.4 622.8,948.4 C624.6,954.5 627.1,963.0 628.8,966.5 C630.6,970.1 631.3,969.8 633.4,969.6 C635.4,969.3 637.1,966.2 640.9,965.0 C644.7,963.9 652.2,962.8 656.0,962.8 C659.8,962.8 661.0,964.0 663.5,965.0 C666.0,966.0 668.6,968.3 671.1,968.8 C673.6,969.3 676.1,967.7 678.6,968.0 C681.1,968.4 683.7,970.1 686.2,971.1 C688.7,972.1 691.4,973.1 693.7,974.1 C696.0,975.1 698.7,976.6 699.7,977.1 L745.7,977.1 Z" fill="#3fbc37" fill-opacity="0.6" stroke="none"/>
<path d="M492.7,977.1 L570.0,977.1 C570.7,976.6 572.7,975.8 574.5,974.1 C576.3,972.3 578.3,969.6 580.5,966.5 C582.8,963.5 585.8,959.7 588.1,956.0 C590.3,952.2 592.4,948.2 594.1,943.9 C595.9,939.6 596.9,933.8 598.6,930.3 C600.4,926.8 602.7,924.3 604.7,922.8 C606.7,921.2 609.0,921.1 610.7,921.0 C612.5,920.8 614.0,920.5 615.2,922.0 C616.5,923.6 617.0,925.9 618.3,930.3 C619.5,934.7 621.0,942.4 622.8,948.4 C624.6,954.5 627.1,963.0 628.8,966.5 C630.6,970.1 631.3,969.8 633.4,969.6 C635.4,969.3 637.1,966.2 640.9,965.0 C644.7,963.9 652.2,962.8 656.0,962.8 C659.8,962.8 661.0,964.0 663.5,965.0 C666.0,966.0 668.6,968.3 671.1,968.8 C673.6,969.3 676.1,967.7 678.6,968.0 C681.1,968.4 683.7,970.1 686.2,971.1 C688.7,972.1 691.4,973.1 693.7,974.1 C696.0,975.1 698.7,976.6 699.7,977.1 L745.7,977.1" fill="none" stroke="#2ea02e" stroke-width="2.2" stroke-linejoin="round"/>
<path d="M492.7,1013.8 L568.5,1013.8 C570.5,1012.8 577.0,1011.0 580.5,1007.8 C584.1,1004.5 587.1,1000.2 589.6,994.2 C592.1,988.1 593.9,979.1 595.6,971.5 C597.4,964.0 598.6,955.2 600.2,948.9 C601.7,942.6 602.9,937.1 604.7,933.8 C606.4,930.6 609.0,930.1 610.7,929.3 C612.5,928.5 613.9,931.6 615.2,929.3 C616.6,927.0 617.8,917.0 619.0,915.7 C620.3,914.5 621.2,920.5 622.8,921.8 C624.4,923.0 626.8,922.3 628.8,923.3 C630.8,924.3 633.1,928.3 634.9,927.8 C636.6,927.3 637.9,920.5 639.4,920.2 C640.9,920.0 642.4,924.0 643.9,926.3 C645.4,928.5 646.9,931.3 648.4,933.8 C650.0,936.3 651.5,939.6 653.0,941.4 C654.5,943.1 656.0,943.1 657.5,944.4 C659.0,945.6 660.3,947.2 662.0,948.9 C663.8,950.7 666.0,952.9 668.1,954.9 C670.1,957.0 672.1,957.5 674.1,961.0 C676.1,964.5 678.1,971.3 680.1,976.1 C682.1,980.9 684.2,984.9 686.2,989.7 C688.2,994.4 689.9,1000.7 692.2,1004.7 C694.5,1008.8 698.5,1012.3 699.7,1013.8 L745.7,1013.8 Z" fill="#e425c3" fill-opacity="0.55" stroke="none"/>
<path d="M492.7,1013.8 L568.5,1013.8 C570.5,1012.8 577.0,1011.0 580.5,1007.8 C584.1,1004.5 587.1,1000.2 589.6,994.2 C592.1,988.1 593.9,979.1 595.6,971.5 C597.4,964.0 598.6,955.2 600.2,948.9 C601.7,942.6 602.9,937.1 604.7,933.8 C606.4,930.6 609.0,930.1 610.7,929.3 C612.5,928.5 613.9,931.6 615.2,929.3 C616.6,927.0 617.8,917.0 619.0,915.7 C620.3,914.5 621.2,920.5 622.8,921.8 C624.4,923.0 626.8,922.3 628.8,923.3 C630.8,924.3 633.1,928.3 634.9,927.8 C636.6,927.3 637.9,920.5 639.4,920.2 C640.9,920.0 642.4,924.0 643.9,926.3 C645.4,928.5 646.9,931.3 648.4,933.8 C650.0,936.3 651.5,939.6 653.0,941.4 C654.5,943.1 656.0,943.1 657.5,944.4 C659.0,945.6 660.3,947.2 662.0,948.9 C663.8,950.7 666.0,952.9 668.1,954.9 C670.1,957.0 672.1,957.5 674.1,961.0 C676.1,964.5 678.1,971.3 680.1,976.1 C682.1,980.9 684.2,984.9 686.2,989.7 C688.2,994.4 689.9,1000.7 692.2,1004.7 C694.5,1008.8 698.5,1012.3 699.7,1013.8 L745.7,1013.8" fill="none" stroke="#e12396" stroke-width="2.2" stroke-linejoin="round"/>
<line x1="638.6" y1="795.3" x2="638.6" y2="1013.8" stroke="#7d8588" stroke-width="1.8" stroke-dasharray="5,5"/>
<line x1="492.7" y1="1016.3" x2="745.7" y2="1016.3" stroke="#f07cc0" stroke-width="2" />
<rect x="492.7" y="793.3" width="253.0" height="220.5" stroke="#1e1b1c" stroke-width="2.6" fill="none" />
<text x="740.0" y="928.1" font-size="24" text-anchor="end" fill="#3c4448" stroke="#3c4448" stroke-width="0.43">28.7%</text>
<text x="740.0" y="968.1" font-size="24" text-anchor="end" fill="#2f9e2f" stroke="#2f9e2f" stroke-width="0.43">32.4%</text>
<text x="740.0" y="1004.0" font-size="24" text-anchor="end" fill="#e0339a" stroke="#e0339a" stroke-width="0.43">49%</text>
<line x1="505.0" y1="1014.8" x2="505.0" y2="1022.8" stroke="#1e1b1c" stroke-width="1.8" />
<text x="505.0" y="1037.5" font-size="15" text-anchor="middle" fill="#1e1b1c">-10<tspan dy="-6" font-size="10">4</tspan></text>
<line x1="556.7" y1="1014.8" x2="556.7" y2="1022.8" stroke="#1e1b1c" stroke-width="1.8" />
<text x="556.7" y="1037.5" font-size="15" text-anchor="middle" fill="#1e1b1c">0</text>
<line x1="604.3" y1="1014.8" x2="604.3" y2="1022.8" stroke="#1e1b1c" stroke-width="1.8" />
<text x="604.3" y="1037.5" font-size="15" text-anchor="middle" fill="#1e1b1c">10<tspan dy="-6" font-size="10">4</tspan></text>
<line x1="657.3" y1="1014.8" x2="657.3" y2="1022.8" stroke="#1e1b1c" stroke-width="1.8" />
<text x="657.3" y="1037.5" font-size="15" text-anchor="middle" fill="#1e1b1c">10<tspan dy="-6" font-size="10">5</tspan></text>
<line x1="701.4" y1="1014.8" x2="701.4" y2="1022.8" stroke="#1e1b1c" stroke-width="1.8" />
<text x="701.4" y="1037.5" font-size="15" text-anchor="middle" fill="#1e1b1c">10<tspan dy="-6" font-size="10">6</tspan></text>
<line x1="742.4" y1="1014.8" x2="742.4" y2="1022.8" stroke="#1e1b1c" stroke-width="1.8" />
<text x="742.4" y="1037.5" font-size="15" text-anchor="middle" fill="#1e1b1c">10<tspan dy="-6" font-size="10">7</tspan></text>
<line x1="620.3" y1="1014.8" x2="620.3" y2="1018.8" stroke="#1e1b1c" stroke-width="1.2" />
<line x1="629.6" y1="1014.8" x2="629.6" y2="1018.8" stroke="#1e1b1c" stroke-width="1.2" />
<line x1="636.2" y1="1014.8" x2="636.2" y2="1018.8" stroke="#1e1b1c" stroke-width="1.2" />
<line x1="641.3" y1="1014.8" x2="641.3" y2="1018.8" stroke="#1e1b1c" stroke-width="1.2" />
<line x1="645.5" y1="1014.8" x2="645.5" y2="1018.8" stroke="#1e1b1c" stroke-width="1.2" />
<line x1="649.1" y1="1014.8" x2="649.1" y2="1018.8" stroke="#1e1b1c" stroke-width="1.2" />
<line x1="652.2" y1="1014.8" x2="652.2" y2="1018.8" stroke="#1e1b1c" stroke-width="1.2" />
<line x1="654.9" y1="1014.8" x2="654.9" y2="1018.8" stroke="#1e1b1c" stroke-width="1.2" />
<line x1="670.6" y1="1014.8" x2="670.6" y2="1018.8" stroke="#1e1b1c" stroke-width="1.2" />
<line x1="678.3" y1="1014.8" x2="678.3" y2="1018.8" stroke="#1e1b1c" stroke-width="1.2" />
<line x1="683.9" y1="1014.8" x2="683.9" y2="1018.8" stroke="#1e1b1c" stroke-width="1.2" />
<line x1="688.1" y1="1014.8" x2="688.1" y2="1018.8" stroke="#1e1b1c" stroke-width="1.2" />
<line x1="691.6" y1="1014.8" x2="691.6" y2="1018.8" stroke="#1e1b1c" stroke-width="1.2" />
<line x1="694.6" y1="1014.8" x2="694.6" y2="1018.8" stroke="#1e1b1c" stroke-width="1.2" />
<line x1="697.1" y1="1014.8" x2="697.1" y2="1018.8" stroke="#1e1b1c" stroke-width="1.2" />
<line x1="699.4" y1="1014.8" x2="699.4" y2="1018.8" stroke="#1e1b1c" stroke-width="1.2" />
<line x1="713.7" y1="1014.8" x2="713.7" y2="1018.8" stroke="#1e1b1c" stroke-width="1.2" />
<line x1="721.0" y1="1014.8" x2="721.0" y2="1018.8" stroke="#1e1b1c" stroke-width="1.2" />
<line x1="726.1" y1="1014.8" x2="726.1" y2="1018.8" stroke="#1e1b1c" stroke-width="1.2" />
<line x1="730.1" y1="1014.8" x2="730.1" y2="1018.8" stroke="#1e1b1c" stroke-width="1.2" />
<line x1="733.3" y1="1014.8" x2="733.3" y2="1018.8" stroke="#1e1b1c" stroke-width="1.2" />
<line x1="736.0" y1="1014.8" x2="736.0" y2="1018.8" stroke="#1e1b1c" stroke-width="1.2" />
<line x1="738.4" y1="1014.8" x2="738.4" y2="1018.8" stroke="#1e1b1c" stroke-width="1.2" />
<line x1="740.5" y1="1014.8" x2="740.5" y2="1018.8" stroke="#1e1b1c" stroke-width="1.2" />
<line x1="549.7" y1="1014.8" x2="549.7" y2="1019.8" stroke="#1e1b1c" stroke-width="1.4" />
<line x1="552.7" y1="1014.8" x2="552.7" y2="1019.8" stroke="#1e1b1c" stroke-width="1.4" />
<line x1="554.7" y1="1014.8" x2="554.7" y2="1019.8" stroke="#1e1b1c" stroke-width="1.4" />
<line x1="556.7" y1="1014.8" x2="556.7" y2="1019.8" stroke="#1e1b1c" stroke-width="1.4" />
<line x1="558.7" y1="1014.8" x2="558.7" y2="1019.8" stroke="#1e1b1c" stroke-width="1.4" />
<line x1="560.7" y1="1014.8" x2="560.7" y2="1019.8" stroke="#1e1b1c" stroke-width="1.4" />
<line x1="563.7" y1="1014.8" x2="563.7" y2="1019.8" stroke="#1e1b1c" stroke-width="1.4" />
<text x="617.7" y="1078.0" font-size="28" text-anchor="middle" fill="#1e1b1c" stroke="#1e1b1c" stroke-width="0.50">Ki67 - FITC</text>
<path d="M771.5,937.9 L825.3,937.9 C826.3,937.6 829.4,937.4 831.4,936.4 C833.4,935.4 835.4,934.6 837.4,931.9 C839.4,929.1 841.4,925.8 843.4,919.8 C845.5,913.8 847.5,906.0 849.5,895.6 C851.5,885.3 853.8,867.2 855.5,857.9 C857.3,848.6 858.5,845.6 860.0,839.8 C861.6,834.0 863.2,825.0 864.6,823.2 C866.0,821.5 867.1,826.5 868.3,829.3 C869.6,832.0 870.7,835.5 872.1,839.8 C873.5,844.1 875.1,849.1 876.6,854.9 C878.2,860.7 879.4,868.7 881.2,874.5 C882.9,880.3 885.2,884.6 887.2,889.6 C889.2,894.6 891.2,900.4 893.2,904.7 C895.3,909.0 897.3,912.8 899.3,915.3 C901.3,917.8 903.3,917.8 905.3,919.8 C907.3,921.8 909.1,925.2 911.4,927.3 C913.6,929.5 916.1,931.2 918.9,932.6 C921.7,934.0 924.2,934.9 928.0,935.6 C931.7,936.4 936.5,936.8 941.5,937.1 C946.6,937.5 955.4,937.8 958.1,937.9 L1024.5,937.9 Z" fill="#758282" fill-opacity="0.8" stroke="none"/>
<path d="M771.5,937.9 L825.3,937.9 C826.3,937.6 829.4,937.4 831.4,936.4 C833.4,935.4 835.4,934.6 837.4,931.9 C839.4,929.1 841.4,925.8 843.4,919.8 C845.5,913.8 847.5,906.0 849.5,895.6 C851.5,885.3 853.8,867.2 855.5,857.9 C857.3,848.6 858.5,845.6 860.0,839.8 C861.6,834.0 863.2,825.0 864.6,823.2 C866.0,821.5 867.1,826.5 868.3,829.3 C869.6,832.0 870.7,835.5 872.1,839.8 C873.5,844.1 875.1,849.1 876.6,854.9 C878.2,860.7 879.4,868.7 881.2,874.5 C882.9,880.3 885.2,884.6 887.2,889.6 C889.2,894.6 891.2,900.4 893.2,904.7 C895.3,909.0 897.3,912.8 899.3,915.3 C901.3,917.8 903.3,917.8 905.3,919.8 C907.3,921.8 909.1,925.2 911.4,927.3 C913.6,929.5 916.1,931.2 918.9,932.6 C921.7,934.0 924.2,934.9 928.0,935.6 C931.7,936.4 936.5,936.8 941.5,937.1 C946.6,937.5 955.4,937.8 958.1,937.9 L1024.5,937.9" fill="none" stroke="#3d4446" stroke-width="2.2" stroke-linejoin="round"/>
<path d="M771.5,977.1 L831.4,977.1 C832.1,976.5 834.1,974.5 835.9,973.3 C837.7,972.2 840.2,970.3 841.9,970.3 C843.7,970.3 844.7,972.7 846.5,973.3 C848.2,974.0 850.5,974.7 852.5,974.1 C854.5,973.5 856.5,975.1 858.5,969.6 C860.6,964.0 862.6,952.0 864.6,940.9 C866.6,929.8 868.6,914.2 870.6,903.2 C872.6,892.1 874.9,882.2 876.6,874.5 C878.4,866.8 879.9,859.7 881.2,857.1 C882.4,854.6 883.2,857.3 884.2,859.4 C885.2,861.5 886.2,863.9 887.2,870.0 C888.2,876.0 889.2,886.3 890.2,895.6 C891.2,904.9 892.0,916.2 893.2,925.8 C894.5,935.4 896.3,947.2 897.8,953.0 C899.3,958.7 900.5,958.6 902.3,960.5 C904.1,962.4 906.3,962.5 908.3,964.3 C910.3,966.0 912.4,968.9 914.4,971.1 C916.4,973.2 919.4,976.1 920.4,977.1 L1024.5,977.1 Z" fill="#3fbc37" fill-opacity="0.6" stroke="none"/>
<path d="M771.5,977.1 L831.4,977.1 C832.1,976.5 834.1,974.5 835.9,973.3 C837.7,972.2 840.2,970.3 841.9,970.3 C843.7,970.3 844.7,972.7 846.5,973.3 C848.2,974.0 850.5,974.7 852.5,974.1 C854.5,973.5 856.5,975.1 858.5,969.6 C860.6,964.0 862.6,952.0 864.6,940.9 C866.6,929.8 868.6,914.2 870.6,903.2 C872.6,892.1 874.9,882.2 876.6,874.5 C878.4,866.8 879.9,859.7 881.2,857.1 C882.4,854.6 883.2,857.3 884.2,859.4 C885.2,861.5 886.2,863.9 887.2,870.0 C888.2,876.0 889.2,886.3 890.2,895.6 C891.2,904.9 892.0,916.2 893.2,925.8 C894.5,935.4 896.3,947.2 897.8,953.0 C899.3,958.7 900.5,958.6 902.3,960.5 C904.1,962.4 906.3,962.5 908.3,964.3 C910.3,966.0 912.4,968.9 914.4,971.1 C916.4,973.2 919.4,976.1 920.4,977.1 L1024.5,977.1" fill="none" stroke="#2ea02e" stroke-width="2.2" stroke-linejoin="round"/>
<path d="M771.5,1013.8 L845.0,1013.8 C846.2,1013.0 850.2,1011.8 852.5,1009.3 C854.8,1006.8 856.5,1005.0 858.5,998.7 C860.6,992.4 862.6,981.1 864.6,971.5 C866.6,962.0 868.6,950.7 870.6,941.4 C872.6,932.1 875.0,921.8 876.6,915.7 C878.3,909.7 879.2,904.7 880.4,905.2 C881.7,905.7 882.8,914.0 884.2,918.7 C885.6,923.5 887.0,926.3 888.7,933.8 C890.5,941.4 892.7,955.2 894.8,964.0 C896.8,972.8 898.8,980.9 900.8,986.6 C902.8,992.4 904.8,995.4 906.8,998.7 C908.8,1002.0 910.6,1004.2 912.9,1006.3 C915.1,1008.3 917.4,1009.5 920.4,1010.8 C923.4,1012.0 929.2,1013.3 931.0,1013.8 L1024.5,1013.8 Z" fill="#e425c3" fill-opacity="0.55" stroke="none"/>
<path d="M771.5,1013.8 L845.0,1013.8 C846.2,1013.0 850.2,1011.8 852.5,1009.3 C854.8,1006.8 856.5,1005.0 858.5,998.7 C860.6,992.4 862.6,981.1 864.6,971.5 C866.6,962.0 868.6,950.7 870.6,941.4 C872.6,932.1 875.0,921.8 876.6,915.7 C878.3,909.7 879.2,904.7 880.4,905.2 C881.7,905.7 882.8,914.0 884.2,918.7 C885.6,923.5 887.0,926.3 888.7,933.8 C890.5,941.4 892.7,955.2 894.8,964.0 C896.8,972.8 898.8,980.9 900.8,986.6 C902.8,992.4 904.8,995.4 906.8,998.7 C908.8,1002.0 910.6,1004.2 912.9,1006.3 C915.1,1008.3 917.4,1009.5 920.4,1010.8 C923.4,1012.0 929.2,1013.3 931.0,1013.8 L1024.5,1013.8" fill="none" stroke="#e12396" stroke-width="2.2" stroke-linejoin="round"/>
<line x1="896.6" y1="795.3" x2="896.6" y2="1013.8" stroke="#7d8588" stroke-width="1.8" stroke-dasharray="5,5"/>
<line x1="771.5" y1="1016.3" x2="1024.5" y2="1016.3" stroke="#f07cc0" stroke-width="2" />
<rect x="771.5" y="793.3" width="253.0" height="220.5" stroke="#1e1b1c" stroke-width="2.6" fill="none" />
<line x1="842.0" y1="1014.8" x2="842.0" y2="1022.8" stroke="#1e1b1c" stroke-width="1.8" />
<text x="842.0" y="1037.5" font-size="15" text-anchor="middle" fill="#1e1b1c">0</text>
<line x1="933.8" y1="1014.8" x2="933.8" y2="1022.8" stroke="#1e1b1c" stroke-width="1.8" />
<text x="933.8" y="1037.5" font-size="15" text-anchor="middle" fill="#1e1b1c">10<tspan dy="-6" font-size="10">4</tspan></text>
<line x1="996.4" y1="1014.8" x2="996.4" y2="1022.8" stroke="#1e1b1c" stroke-width="1.8" />
<text x="996.4" y="1037.5" font-size="15" text-anchor="middle" fill="#1e1b1c">10<tspan dy="-6" font-size="10">5</tspan></text>
<line x1="952.6" y1="1014.8" x2="952.6" y2="1018.8" stroke="#1e1b1c" stroke-width="1.2" />
<line x1="963.7" y1="1014.8" x2="963.7" y2="1018.8" stroke="#1e1b1c" stroke-width="1.2" />
<line x1="971.5" y1="1014.8" x2="971.5" y2="1018.8" stroke="#1e1b1c" stroke-width="1.2" />
<line x1="977.6" y1="1014.8" x2="977.6" y2="1018.8" stroke="#1e1b1c" stroke-width="1.2" />
<line x1="982.5" y1="1014.8" x2="982.5" y2="1018.8" stroke="#1e1b1c" stroke-width="1.2" />
<line x1="986.7" y1="1014.8" x2="986.7" y2="1018.8" stroke="#1e1b1c" stroke-width="1.2" />
<line x1="990.3" y1="1014.8" x2="990.3" y2="1018.8" stroke="#1e1b1c" stroke-width="1.2" />
<line x1="993.5" y1="1014.8" x2="993.5" y2="1018.8" stroke="#1e1b1c" stroke-width="1.2" />
<line x1="835.0" y1="1014.8" x2="835.0" y2="1019.8" stroke="#1e1b1c" stroke-width="1.4" />
<line x1="838.0" y1="1014.8" x2="838.0" y2="1019.8" stroke="#1e1b1c" stroke-width="1.4" />
<line x1="840.0" y1="1014.8" x2="840.0" y2="1019.8" stroke="#1e1b1c" stroke-width="1.4" />
<line x1="842.0" y1="1014.8" x2="842.0" y2="1019.8" stroke="#1e1b1c" stroke-width="1.4" />
<line x1="844.0" y1="1014.8" x2="844.0" y2="1019.8" stroke="#1e1b1c" stroke-width="1.4" />
<line x1="846.0" y1="1014.8" x2="846.0" y2="1019.8" stroke="#1e1b1c" stroke-width="1.4" />
<line x1="849.0" y1="1014.8" x2="849.0" y2="1019.8" stroke="#1e1b1c" stroke-width="1.4" />
<text x="902.5" y="1078.0" font-size="28" text-anchor="middle" fill="#1e1b1c" stroke="#1e1b1c" stroke-width="0.50">Bcl6 - PE</text>
<path d="M1050.7,937.9 L1104.3,937.9 C1105.6,937.6 1109.6,937.6 1111.9,936.4 C1114.1,935.1 1115.9,934.1 1117.9,930.4 C1119.9,926.6 1121.9,922.1 1124.0,913.8 C1126.0,905.5 1128.2,890.4 1130.0,880.6 C1131.8,870.8 1133.0,861.2 1134.5,854.9 C1136.0,848.6 1137.8,845.3 1139.0,842.8 C1140.3,840.3 1141.1,841.5 1142.1,839.8 C1143.1,838.2 1144.1,831.8 1145.1,833.0 C1146.1,834.3 1146.8,841.5 1148.1,847.4 C1149.4,853.3 1151.1,861.7 1152.6,868.5 C1154.1,875.3 1155.6,881.3 1157.2,888.1 C1158.7,894.9 1160.2,902.9 1161.7,909.2 C1163.2,915.5 1164.4,921.7 1166.2,925.8 C1168.0,930.0 1170.0,932.2 1172.2,934.1 C1174.5,936.0 1175.5,936.6 1179.8,937.1 C1184.1,937.7 1193.6,937.5 1197.9,937.6 C1202.2,937.7 1204.2,937.8 1205.4,937.9 L1303.7,937.9 Z" fill="#758282" fill-opacity="0.8" stroke="none"/>
<path d="M1050.7,937.9 L1104.3,937.9 C1105.6,937.6 1109.6,937.6 1111.9,936.4 C1114.1,935.1 1115.9,934.1 1117.9,930.4 C1119.9,926.6 1121.9,922.1 1124.0,913.8 C1126.0,905.5 1128.2,890.4 1130.0,880.6 C1131.8,870.8 1133.0,861.2 1134.5,854.9 C1136.0,848.6 1137.8,845.3 1139.0,842.8 C1140.3,840.3 1141.1,841.5 1142.1,839.8 C1143.1,838.2 1144.1,831.8 1145.1,833.0 C1146.1,834.3 1146.8,841.5 1148.1,847.4 C1149.4,853.3 1151.1,861.7 1152.6,868.5 C1154.1,875.3 1155.6,881.3 1157.2,888.1 C1158.7,894.9 1160.2,902.9 1161.7,909.2 C1163.2,915.5 1164.4,921.7 1166.2,925.8 C1168.0,930.0 1170.0,932.2 1172.2,934.1 C1174.5,936.0 1175.5,936.6 1179.8,937.1 C1184.1,937.7 1193.6,937.5 1197.9,937.6 C1202.2,937.7 1204.2,937.8 1205.4,937.9 L1303.7,937.9" fill="none" stroke="#3d4446" stroke-width="2.2" stroke-linejoin="round"/>
<path d="M1050.7,977.1 L1081.7,977.1 C1082.5,976.7 1084.2,975.5 1086.2,974.8 C1088.2,974.2 1091.3,973.2 1093.8,973.3 C1096.3,973.5 1098.8,975.3 1101.3,975.6 C1103.8,975.8 1106.6,975.6 1108.9,974.8 C1111.1,974.1 1112.9,972.4 1114.9,971.1 C1116.9,969.7 1119.2,969.1 1120.9,966.5 C1122.7,964.0 1124.0,961.5 1125.5,956.0 C1127.0,950.4 1128.5,943.4 1130.0,933.3 C1131.5,923.3 1133.0,906.9 1134.5,895.6 C1136.0,884.3 1137.7,871.7 1139.0,865.4 C1140.4,859.1 1141.6,856.9 1142.8,857.9 C1144.1,858.9 1145.5,868.5 1146.6,871.5 C1147.7,874.5 1148.6,877.0 1149.6,876.0 C1150.6,875.0 1151.9,868.2 1152.6,865.4 C1153.4,862.7 1153.5,859.4 1154.1,859.4 C1154.8,859.4 1155.5,859.9 1156.4,865.4 C1157.3,871.0 1158.3,882.5 1159.4,892.6 C1160.6,902.7 1161.8,915.2 1163.2,925.8 C1164.6,936.4 1166.2,948.9 1167.7,956.0 C1169.2,963.0 1170.5,965.4 1172.2,968.0 C1174.0,970.7 1176.3,970.8 1178.3,971.8 C1180.3,972.8 1182.6,973.2 1184.3,974.1 C1186.1,975.0 1188.1,976.6 1188.8,977.1 L1303.7,977.1 Z" fill="#3fbc37" fill-opacity="0.6" stroke="none"/>
<path d="M1050.7,977.1 L1081.7,977.1 C1082.5,976.7 1084.2,975.5 1086.2,974.8 C1088.2,974.2 1091.3,973.2 1093.8,973.3 C1096.3,973.5 1098.8,975.3 1101.3,975.6 C1103.8,975.8 1106.6,975.6 1108.9,974.8 C1111.1,974.1 1112.9,972.4 1114.9,971.1 C1116.9,969.7 1119.2,969.1 1120.9,966.5 C1122.7,964.0 1124.0,961.5 1125.5,956.0 C1127.0,950.4 1128.5,943.4 1130.0,933.3 C1131.5,923.3 1133.0,906.9 1134.5,895.6 C1136.0,884.3 1137.7,871.7 1139.0,865.4 C1140.4,859.1 1141.6,856.9 1142.8,857.9 C1144.1,858.9 1145.5,868.5 1146.6,871.5 C1147.7,874.5 1148.6,877.0 1149.6,876.0 C1150.6,875.0 1151.9,868.2 1152.6,865.4 C1153.4,862.7 1153.5,859.4 1154.1,859.4 C1154.8,859.4 1155.5,859.9 1156.4,865.4 C1157.3,871.0 1158.3,882.5 1159.4,892.6 C1160.6,902.7 1161.8,915.2 1163.2,925.8 C1164.6,936.4 1166.2,948.9 1167.7,956.0 C1169.2,963.0 1170.5,965.4 1172.2,968.0 C1174.0,970.7 1176.3,970.8 1178.3,971.8 C1180.3,972.8 1182.6,973.2 1184.3,974.1 C1186.1,975.0 1188.1,976.6 1188.8,977.1 L1303.7,977.1" fill="none" stroke="#2ea02e" stroke-width="2.2" stroke-linejoin="round"/>
<path d="M1050.7,1013.8 L1116.4,1013.8 C1117.4,1012.8 1120.4,1010.8 1122.4,1007.8 C1124.5,1004.7 1126.7,1000.5 1128.5,995.7 C1130.2,990.9 1131.5,986.9 1133.0,979.1 C1134.5,971.3 1136.0,959.0 1137.5,948.9 C1139.0,938.9 1140.6,926.5 1142.1,918.7 C1143.6,910.9 1145.3,904.4 1146.6,902.1 C1147.9,899.9 1148.4,901.1 1149.6,905.2 C1150.9,909.2 1152.6,917.7 1154.1,926.3 C1155.6,934.8 1157.2,946.4 1158.7,956.5 C1160.2,966.5 1161.7,978.6 1163.2,986.6 C1164.7,994.7 1166.2,1000.5 1167.7,1004.7 C1169.2,1009.0 1171.0,1010.8 1172.2,1012.3 C1173.5,1013.8 1174.8,1013.5 1175.3,1013.8 L1303.7,1013.8 Z" fill="#e425c3" fill-opacity="0.55" stroke="none"/>
<path d="M1050.7,1013.8 L1116.4,1013.8 C1117.4,1012.8 1120.4,1010.8 1122.4,1007.8 C1124.5,1004.7 1126.7,1000.5 1128.5,995.7 C1130.2,990.9 1131.5,986.9 1133.0,979.1 C1134.5,971.3 1136.0,959.0 1137.5,948.9 C1139.0,938.9 1140.6,926.5 1142.1,918.7 C1143.6,910.9 1145.3,904.4 1146.6,902.1 C1147.9,899.9 1148.4,901.1 1149.6,905.2 C1150.9,909.2 1152.6,917.7 1154.1,926.3 C1155.6,934.8 1157.2,946.4 1158.7,956.5 C1160.2,966.5 1161.7,978.6 1163.2,986.6 C1164.7,994.7 1166.2,1000.5 1167.7,1004.7 C1169.2,1009.0 1171.0,1010.8 1172.2,1012.3 C1173.5,1013.8 1174.8,1013.5 1175.3,1013.8 L1303.7,1013.8" fill="none" stroke="#e12396" stroke-width="2.2" stroke-linejoin="round"/>
<line x1="1181.0" y1="795.3" x2="1181.0" y2="1013.8" stroke="#7d8588" stroke-width="1.8" stroke-dasharray="5,5"/>
<line x1="1050.7" y1="1016.3" x2="1303.7" y2="1016.3" stroke="#f07cc0" stroke-width="2" />
<rect x="1050.7" y="793.3" width="253.0" height="220.5" stroke="#1e1b1c" stroke-width="2.6" fill="none" />
<text x="1293.5" y="928.1" font-size="24" text-anchor="end" fill="#3c4448" stroke="#3c4448" stroke-width="0.43">0.7%</text>
<text x="1293.5" y="968.1" font-size="24" text-anchor="end" fill="#2f9e2f" stroke="#2f9e2f" stroke-width="0.43">0%</text>
<text x="1293.5" y="1004.0" font-size="24" text-anchor="end" fill="#e0339a" stroke="#e0339a" stroke-width="0.43">1.5%</text>
<line x1="1120.4" y1="1014.8" x2="1120.4" y2="1022.8" stroke="#1e1b1c" stroke-width="1.8" />
<text x="1120.4" y="1037.5" font-size="15" text-anchor="middle" fill="#1e1b1c">0</text>
<line x1="1213.9" y1="1014.8" x2="1213.9" y2="1022.8" stroke="#1e1b1c" stroke-width="1.8" />
<text x="1213.9" y="1037.5" font-size="15" text-anchor="middle" fill="#1e1b1c">10<tspan dy="-6" font-size="10">4</tspan></text>
<line x1="1277.0" y1="1014.8" x2="1277.0" y2="1022.8" stroke="#1e1b1c" stroke-width="1.8" />
<text x="1277.0" y="1037.5" font-size="15" text-anchor="middle" fill="#1e1b1c">10<tspan dy="-6" font-size="10">5</tspan></text>
<line x1="1232.9" y1="1014.8" x2="1232.9" y2="1018.8" stroke="#1e1b1c" stroke-width="1.2" />
<line x1="1244.0" y1="1014.8" x2="1244.0" y2="1018.8" stroke="#1e1b1c" stroke-width="1.2" />
<line x1="1251.9" y1="1014.8" x2="1251.9" y2="1018.8" stroke="#1e1b1c" stroke-width="1.2" />
<line x1="1258.0" y1="1014.8" x2="1258.0" y2="1018.8" stroke="#1e1b1c" stroke-width="1.2" />
<line x1="1263.0" y1="1014.8" x2="1263.0" y2="1018.8" stroke="#1e1b1c" stroke-width="1.2" />
<line x1="1267.2" y1="1014.8" x2="1267.2" y2="1018.8" stroke="#1e1b1c" stroke-width="1.2" />
<line x1="1270.9" y1="1014.8" x2="1270.9" y2="1018.8" stroke="#1e1b1c" stroke-width="1.2" />
<line x1="1274.1" y1="1014.8" x2="1274.1" y2="1018.8" stroke="#1e1b1c" stroke-width="1.2" />
<line x1="1113.4" y1="1014.8" x2="1113.4" y2="1019.8" stroke="#1e1b1c" stroke-width="1.4" />
<line x1="1116.4" y1="1014.8" x2="1116.4" y2="1019.8" stroke="#1e1b1c" stroke-width="1.4" />
<line x1="1118.4" y1="1014.8" x2="1118.4" y2="1019.8" stroke="#1e1b1c" stroke-width="1.4" />
<line x1="1120.4" y1="1014.8" x2="1120.4" y2="1019.8" stroke="#1e1b1c" stroke-width="1.4" />
<line x1="1122.4" y1="1014.8" x2="1122.4" y2="1019.8" stroke="#1e1b1c" stroke-width="1.4" />
<line x1="1124.4" y1="1014.8" x2="1124.4" y2="1019.8" stroke="#1e1b1c" stroke-width="1.4" />
<line x1="1127.4" y1="1014.8" x2="1127.4" y2="1019.8" stroke="#1e1b1c" stroke-width="1.4" />
<text x="1181.8" y="1078.0" font-size="28" text-anchor="middle" fill="#1e1b1c" stroke="#1e1b1c" stroke-width="0.50">Eomes - APC</text>
<path d="M1328.6,937.9 L1386.9,937.9 C1387.6,937.5 1389.9,937.6 1391.4,935.6 C1392.9,933.6 1394.5,932.5 1395.9,925.8 C1397.3,919.2 1398.6,908.2 1399.7,895.6 C1400.8,883.1 1401.6,863.5 1402.7,850.4 C1403.8,837.3 1405.1,817.2 1406.2,817.2 C1407.3,817.2 1408.4,837.3 1409.5,850.4 C1410.6,863.5 1411.5,883.1 1412.5,895.6 C1413.5,908.2 1414.4,919.2 1415.5,925.8 C1416.7,932.5 1417.8,933.6 1419.3,935.6 C1420.8,937.6 1423.7,937.5 1424.6,937.9 L1581.6,937.9 Z" fill="#758282" fill-opacity="0.8" stroke="none"/>
<path d="M1328.6,937.9 L1386.9,937.9 C1387.6,937.5 1389.9,937.6 1391.4,935.6 C1392.9,933.6 1394.5,932.5 1395.9,925.8 C1397.3,919.2 1398.6,908.2 1399.7,895.6 C1400.8,883.1 1401.6,863.5 1402.7,850.4 C1403.8,837.3 1405.1,817.2 1406.2,817.2 C1407.3,817.2 1408.4,837.3 1409.5,850.4 C1410.6,863.5 1411.5,883.1 1412.5,895.6 C1413.5,908.2 1414.4,919.2 1415.5,925.8 C1416.7,932.5 1417.8,933.6 1419.3,935.6 C1420.8,937.6 1423.7,937.5 1424.6,937.9 L1581.6,937.9" fill="none" stroke="#3d4446" stroke-width="2.2" stroke-linejoin="round"/>
<path d="M1328.6,977.1 L1385.4,977.1 C1386.0,976.6 1387.7,977.1 1389.1,974.1 C1390.5,971.1 1392.3,967.0 1393.7,959.0 C1395.0,950.9 1396.2,938.9 1397.4,925.8 C1398.7,912.7 1400.1,892.1 1401.2,880.5 C1402.3,869.0 1403.2,856.4 1404.2,856.4 C1405.2,856.4 1406.2,869.0 1407.2,880.5 C1408.2,892.1 1409.1,912.7 1410.3,925.8 C1411.4,938.9 1412.8,950.9 1414.0,959.0 C1415.3,967.0 1416.5,971.1 1417.8,974.1 C1419.1,977.1 1420.9,976.6 1421.6,977.1 L1581.6,977.1 Z" fill="#3fbc37" fill-opacity="0.6" stroke="none"/>
<path d="M1328.6,977.1 L1385.4,977.1 C1386.0,976.6 1387.7,977.1 1389.1,974.1 C1390.5,971.1 1392.3,967.0 1393.7,959.0 C1395.0,950.9 1396.2,938.9 1397.4,925.8 C1398.7,912.7 1400.1,892.1 1401.2,880.5 C1402.3,869.0 1403.2,856.4 1404.2,856.4 C1405.2,856.4 1406.2,869.0 1407.2,880.5 C1408.2,892.1 1409.1,912.7 1410.3,925.8 C1411.4,938.9 1412.8,950.9 1414.0,959.0 C1415.3,967.0 1416.5,971.1 1417.8,974.1 C1419.1,977.1 1420.9,976.6 1421.6,977.1 L1581.6,977.1" fill="none" stroke="#2ea02e" stroke-width="2.2" stroke-linejoin="round"/>
<path d="M1328.6,1013.8 L1395.9,1013.8 C1396.3,1012.3 1397.4,1010.5 1398.2,1004.7 C1398.9,999.0 1399.7,990.9 1400.4,979.1 C1401.2,967.3 1401.8,946.9 1402.7,933.8 C1403.6,920.7 1404.7,900.6 1405.7,900.6 C1406.7,900.6 1407.9,920.7 1408.7,933.8 C1409.6,946.9 1410.3,967.3 1411.0,979.1 C1411.8,990.9 1412.5,999.0 1413.3,1004.7 C1414.0,1010.5 1415.2,1012.3 1415.5,1013.8 L1581.6,1013.8 Z" fill="#e425c3" fill-opacity="0.55" stroke="none"/>
<path d="M1328.6,1013.8 L1395.9,1013.8 C1396.3,1012.3 1397.4,1010.5 1398.2,1004.7 C1398.9,999.0 1399.7,990.9 1400.4,979.1 C1401.2,967.3 1401.8,946.9 1402.7,933.8 C1403.6,920.7 1404.7,900.6 1405.7,900.6 C1406.7,900.6 1407.9,920.7 1408.7,933.8 C1409.6,946.9 1410.3,967.3 1411.0,979.1 C1411.8,990.9 1412.5,999.0 1413.3,1004.7 C1414.0,1010.5 1415.2,1012.3 1415.5,1013.8 L1581.6,1013.8" fill="none" stroke="#e12396" stroke-width="2.2" stroke-linejoin="round"/>
<line x1="1430.3" y1="795.3" x2="1430.3" y2="1013.8" stroke="#7d8588" stroke-width="1.8" stroke-dasharray="5,5"/>
<line x1="1328.6" y1="1016.3" x2="1581.6" y2="1016.3" stroke="#f07cc0" stroke-width="2" />
<rect x="1328.6" y="793.3" width="253.0" height="220.5" stroke="#1e1b1c" stroke-width="2.6" fill="none" />
<text x="1575.7" y="928.1" font-size="24" text-anchor="end" fill="#3c4448" stroke="#3c4448" stroke-width="0.43">0.6%</text>
<text x="1575.7" y="968.1" font-size="24" text-anchor="end" fill="#2f9e2f" stroke="#2f9e2f" stroke-width="0.43">0%</text>
<text x="1575.7" y="1004.0" font-size="24" text-anchor="end" fill="#e0339a" stroke="#e0339a" stroke-width="0.43">0.7%</text>
<line x1="1341.8" y1="1014.8" x2="1341.8" y2="1022.8" stroke="#1e1b1c" stroke-width="1.8" />
<text x="1341.8" y="1037.5" font-size="15" text-anchor="middle" fill="#1e1b1c">-10<tspan dy="-6" font-size="10">4</tspan></text>
<line x1="1404.9" y1="1014.8" x2="1404.9" y2="1022.8" stroke="#1e1b1c" stroke-width="1.8" />
<text x="1404.9" y="1037.5" font-size="15" text-anchor="middle" fill="#1e1b1c">0</text>
<line x1="1464.6" y1="1014.8" x2="1464.6" y2="1022.8" stroke="#1e1b1c" stroke-width="1.8" />
<text x="1464.6" y="1037.5" font-size="15" text-anchor="middle" fill="#1e1b1c">10<tspan dy="-6" font-size="10">4</tspan></text>
<line x1="1526.9" y1="1014.8" x2="1526.9" y2="1022.8" stroke="#1e1b1c" stroke-width="1.8" />
<text x="1526.9" y="1037.5" font-size="15" text-anchor="middle" fill="#1e1b1c">10<tspan dy="-6" font-size="10">5</tspan></text>
<line x1="1580.3" y1="1014.8" x2="1580.3" y2="1022.8" stroke="#1e1b1c" stroke-width="1.8" />
<text x="1580.3" y="1037.5" font-size="15" text-anchor="middle" fill="#1e1b1c">10<tspan dy="-6" font-size="10">6</tspan></text>
<line x1="1483.4" y1="1014.8" x2="1483.4" y2="1018.8" stroke="#1e1b1c" stroke-width="1.2" />
<line x1="1494.3" y1="1014.8" x2="1494.3" y2="1018.8" stroke="#1e1b1c" stroke-width="1.2" />
<line x1="1502.1" y1="1014.8" x2="1502.1" y2="1018.8" stroke="#1e1b1c" stroke-width="1.2" />
<line x1="1508.1" y1="1014.8" x2="1508.1" y2="1018.8" stroke="#1e1b1c" stroke-width="1.2" />
<line x1="1513.1" y1="1014.8" x2="1513.1" y2="1018.8" stroke="#1e1b1c" stroke-width="1.2" />
<line x1="1517.2" y1="1014.8" x2="1517.2" y2="1018.8" stroke="#1e1b1c" stroke-width="1.2" />
<line x1="1520.9" y1="1014.8" x2="1520.9" y2="1018.8" stroke="#1e1b1c" stroke-width="1.2" />
<line x1="1524.0" y1="1014.8" x2="1524.0" y2="1018.8" stroke="#1e1b1c" stroke-width="1.2" />
<line x1="1543.0" y1="1014.8" x2="1543.0" y2="1018.8" stroke="#1e1b1c" stroke-width="1.2" />
<line x1="1552.4" y1="1014.8" x2="1552.4" y2="1018.8" stroke="#1e1b1c" stroke-width="1.2" />
<line x1="1559.1" y1="1014.8" x2="1559.1" y2="1018.8" stroke="#1e1b1c" stroke-width="1.2" />
<line x1="1564.2" y1="1014.8" x2="1564.2" y2="1018.8" stroke="#1e1b1c" stroke-width="1.2" />
<line x1="1568.5" y1="1014.8" x2="1568.5" y2="1018.8" stroke="#1e1b1c" stroke-width="1.2" />
<line x1="1572.0" y1="1014.8" x2="1572.0" y2="1018.8" stroke="#1e1b1c" stroke-width="1.2" />
<line x1="1575.1" y1="1014.8" x2="1575.1" y2="1018.8" stroke="#1e1b1c" stroke-width="1.2" />
<line x1="1577.9" y1="1014.8" x2="1577.9" y2="1018.8" stroke="#1e1b1c" stroke-width="1.2" />
<line x1="1397.9" y1="1014.8" x2="1397.9" y2="1019.8" stroke="#1e1b1c" stroke-width="1.4" />
<line x1="1400.9" y1="1014.8" x2="1400.9" y2="1019.8" stroke="#1e1b1c" stroke-width="1.4" />
<line x1="1402.9" y1="1014.8" x2="1402.9" y2="1019.8" stroke="#1e1b1c" stroke-width="1.4" />
<line x1="1404.9" y1="1014.8" x2="1404.9" y2="1019.8" stroke="#1e1b1c" stroke-width="1.4" />
<line x1="1406.9" y1="1014.8" x2="1406.9" y2="1019.8" stroke="#1e1b1c" stroke-width="1.4" />
<line x1="1408.9" y1="1014.8" x2="1408.9" y2="1019.8" stroke="#1e1b1c" stroke-width="1.4" />
<line x1="1411.9" y1="1014.8" x2="1411.9" y2="1019.8" stroke="#1e1b1c" stroke-width="1.4" />
<text x="1457.5" y="1078.0" font-size="28" text-anchor="middle" fill="#1e1b1c" stroke="#1e1b1c" stroke-width="0.50">CXCR5 - BV421</text>
<path d="M1608.0,937.9 L1644.7,937.9 C1645.7,937.6 1648.8,937.9 1650.8,936.4 C1652.8,934.9 1655.1,933.1 1656.8,928.8 C1658.6,924.6 1659.8,920.0 1661.3,910.7 C1662.9,901.4 1664.4,884.3 1665.9,873.0 C1667.4,861.7 1668.9,849.9 1670.4,842.8 C1671.9,835.8 1673.7,832.5 1674.9,830.8 C1676.2,829.0 1676.9,832.9 1677.9,832.3 C1679.0,831.6 1680.0,827.0 1681.3,827.0 C1682.5,827.0 1684.0,828.6 1685.5,832.3 C1686.9,835.9 1688.5,844.6 1690.0,848.9 C1691.5,853.1 1692.8,853.9 1694.5,857.9 C1696.3,861.9 1698.6,867.7 1700.6,873.0 C1702.6,878.3 1704.6,885.1 1706.6,889.6 C1708.6,894.1 1710.6,897.2 1712.6,900.2 C1714.7,903.2 1716.7,905.7 1718.7,907.7 C1720.7,909.7 1722.7,910.5 1724.7,912.2 C1726.7,914.0 1728.7,916.5 1730.8,918.3 C1732.8,920.0 1734.8,921.6 1736.8,922.8 C1738.8,924.1 1740.8,924.6 1742.8,925.8 C1744.8,927.1 1746.3,929.0 1748.9,930.4 C1751.4,931.7 1754.4,933.2 1757.9,934.1 C1761.4,935.1 1765.5,935.7 1770.0,936.1 C1774.5,936.5 1780.0,936.1 1785.1,936.4 C1790.1,936.6 1795.1,937.3 1800.2,937.6 C1805.2,937.8 1812.7,937.8 1815.3,937.9 L1861.0,937.9 Z" fill="#758282" fill-opacity="0.8" stroke="none"/>
<path d="M1608.0,937.9 L1644.7,937.9 C1645.7,937.6 1648.8,937.9 1650.8,936.4 C1652.8,934.9 1655.1,933.1 1656.8,928.8 C1658.6,924.6 1659.8,920.0 1661.3,910.7 C1662.9,901.4 1664.4,884.3 1665.9,873.0 C1667.4,861.7 1668.9,849.9 1670.4,842.8 C1671.9,835.8 1673.7,832.5 1674.9,830.8 C1676.2,829.0 1676.9,832.9 1677.9,832.3 C1679.0,831.6 1680.0,827.0 1681.3,827.0 C1682.5,827.0 1684.0,828.6 1685.5,832.3 C1686.9,835.9 1688.5,844.6 1690.0,848.9 C1691.5,853.1 1692.8,853.9 1694.5,857.9 C1696.3,861.9 1698.6,867.7 1700.6,873.0 C1702.6,878.3 1704.6,885.1 1706.6,889.6 C1708.6,894.1 1710.6,897.2 1712.6,900.2 C1714.7,903.2 1716.7,905.7 1718.7,907.7 C1720.7,909.7 1722.7,910.5 1724.7,912.2 C1726.7,914.0 1728.7,916.5 1730.8,918.3 C1732.8,920.0 1734.8,921.6 1736.8,922.8 C1738.8,924.1 1740.8,924.6 1742.8,925.8 C1744.8,927.1 1746.3,929.0 1748.9,930.4 C1751.4,931.7 1754.4,933.2 1757.9,934.1 C1761.4,935.1 1765.5,935.7 1770.0,936.1 C1774.5,936.5 1780.0,936.1 1785.1,936.4 C1790.1,936.6 1795.1,937.3 1800.2,937.6 C1805.2,937.8 1812.7,937.8 1815.3,937.9 L1861.0,937.9" fill="none" stroke="#3d4446" stroke-width="2.2" stroke-linejoin="round"/>
<path d="M1608.0,977.1 L1649.3,977.1 C1650.0,976.6 1652.0,976.1 1653.8,974.1 C1655.6,972.1 1657.6,968.5 1659.8,965.0 C1662.1,961.5 1664.9,957.0 1667.4,953.0 C1669.9,948.9 1672.7,943.7 1674.9,940.9 C1677.2,938.1 1679.2,939.4 1681.0,936.4 C1682.7,933.3 1684.0,927.8 1685.5,922.8 C1687.0,917.7 1688.8,908.2 1690.0,906.2 C1691.3,904.2 1692.0,908.7 1693.0,910.7 C1694.0,912.7 1695.2,916.7 1696.0,918.2 C1696.9,919.8 1697.3,920.3 1698.3,919.8 C1699.3,919.3 1701.0,914.7 1702.1,915.2 C1703.2,915.7 1704.1,919.0 1705.1,922.8 C1706.1,926.5 1707.1,933.8 1708.1,937.9 C1709.1,941.9 1709.9,943.1 1711.1,946.9 C1712.4,950.7 1714.2,957.2 1715.7,960.5 C1717.2,963.8 1718.7,966.5 1720.2,966.5 C1721.7,966.5 1723.2,963.5 1724.7,960.5 C1726.2,957.5 1727.5,952.6 1729.2,948.4 C1731.0,944.3 1733.5,935.6 1735.3,935.6 C1737.0,935.6 1738.3,943.8 1739.8,948.4 C1741.3,953.1 1742.8,959.5 1744.3,963.5 C1745.8,967.5 1747.1,970.4 1748.9,972.6 C1750.6,974.7 1751.9,975.6 1754.9,976.3 C1757.9,977.1 1764.0,977.5 1767.0,977.1 C1770.0,976.7 1770.9,975.2 1773.0,974.1 C1775.1,973.0 1777.8,970.4 1779.8,970.3 C1781.8,970.2 1783.2,972.2 1785.1,973.3 C1787.0,974.5 1790.1,976.5 1791.1,977.1 L1861.0,977.1 Z" fill="#3fbc37" fill-opacity="0.6" stroke="none"/>
<path d="M1608.0,977.1 L1649.3,977.1 C1650.0,976.6 1652.0,976.1 1653.8,974.1 C1655.6,972.1 1657.6,968.5 1659.8,965.0 C1662.1,961.5 1664.9,957.0 1667.4,953.0 C1669.9,948.9 1672.7,943.7 1674.9,940.9 C1677.2,938.1 1679.2,939.4 1681.0,936.4 C1682.7,933.3 1684.0,927.8 1685.5,922.8 C1687.0,917.7 1688.8,908.2 1690.0,906.2 C1691.3,904.2 1692.0,908.7 1693.0,910.7 C1694.0,912.7 1695.2,916.7 1696.0,918.2 C1696.9,919.8 1697.3,920.3 1698.3,919.8 C1699.3,919.3 1701.0,914.7 1702.1,915.2 C1703.2,915.7 1704.1,919.0 1705.1,922.8 C1706.1,926.5 1707.1,933.8 1708.1,937.9 C1709.1,941.9 1709.9,943.1 1711.1,946.9 C1712.4,950.7 1714.2,957.2 1715.7,960.5 C1717.2,963.8 1718.7,966.5 1720.2,966.5 C1721.7,966.5 1723.2,963.5 1724.7,960.5 C1726.2,957.5 1727.5,952.6 1729.2,948.4 C1731.0,944.3 1733.5,935.6 1735.3,935.6 C1737.0,935.6 1738.3,943.8 1739.8,948.4 C1741.3,953.1 1742.8,959.5 1744.3,963.5 C1745.8,967.5 1747.1,970.4 1748.9,972.6 C1750.6,974.7 1751.9,975.6 1754.9,976.3 C1757.9,977.1 1764.0,977.5 1767.0,977.1 C1770.0,976.7 1770.9,975.2 1773.0,974.1 C1775.1,973.0 1777.8,970.4 1779.8,970.3 C1781.8,970.2 1783.2,972.2 1785.1,973.3 C1787.0,974.5 1790.1,976.5 1791.1,977.1 L1861.0,977.1" fill="none" stroke="#2ea02e" stroke-width="2.2" stroke-linejoin="round"/>
<path d="M1608.0,1013.8 L1662.9,1013.8 C1663.9,1012.5 1667.1,1009.0 1668.9,1006.3 C1670.6,1003.5 1671.9,1001.0 1673.4,997.2 C1674.9,993.4 1676.2,987.9 1677.9,983.6 C1679.7,979.3 1682.2,975.8 1684.0,971.5 C1685.7,967.3 1686.7,961.2 1688.5,958.0 C1690.3,954.7 1692.5,953.9 1694.5,951.9 C1696.6,949.9 1698.3,947.2 1700.6,945.9 C1702.8,944.6 1706.4,946.4 1708.1,944.4 C1709.9,942.4 1709.6,936.8 1711.1,933.8 C1712.6,930.8 1715.2,928.0 1717.2,926.3 C1719.2,924.5 1721.2,924.5 1723.2,923.3 C1725.2,922.0 1727.2,919.2 1729.2,918.7 C1731.3,918.2 1733.8,921.1 1735.3,920.2 C1736.8,919.4 1737.3,913.2 1738.3,913.5 C1739.3,913.7 1740.3,919.6 1741.3,921.8 C1742.3,923.9 1743.3,923.3 1744.3,926.3 C1745.3,929.3 1746.3,938.6 1747.4,939.9 C1748.4,941.1 1749.4,933.6 1750.4,933.8 C1751.4,934.1 1752.4,937.6 1753.4,941.4 C1754.4,945.1 1755.1,950.9 1756.4,956.5 C1757.7,962.0 1759.4,968.5 1760.9,974.6 C1762.4,980.6 1763.7,988.1 1765.5,992.7 C1767.2,997.2 1769.5,999.2 1771.5,1001.7 C1773.5,1004.2 1775.0,1005.8 1777.5,1007.8 C1780.0,1009.8 1785.1,1012.8 1786.6,1013.8 L1861.0,1013.8 Z" fill="#e425c3" fill-opacity="0.55" stroke="none"/>
<path d="M1608.0,1013.8 L1662.9,1013.8 C1663.9,1012.5 1667.1,1009.0 1668.9,1006.3 C1670.6,1003.5 1671.9,1001.0 1673.4,997.2 C1674.9,993.4 1676.2,987.9 1677.9,983.6 C1679.7,979.3 1682.2,975.8 1684.0,971.5 C1685.7,967.3 1686.7,961.2 1688.5,958.0 C1690.3,954.7 1692.5,953.9 1694.5,951.9 C1696.6,949.9 1698.3,947.2 1700.6,945.9 C1702.8,944.6 1706.4,946.4 1708.1,944.4 C1709.9,942.4 1709.6,936.8 1711.1,933.8 C1712.6,930.8 1715.2,928.0 1717.2,926.3 C1719.2,924.5 1721.2,924.5 1723.2,923.3 C1725.2,922.0 1727.2,919.2 1729.2,918.7 C1731.3,918.2 1733.8,921.1 1735.3,920.2 C1736.8,919.4 1737.3,913.2 1738.3,913.5 C1739.3,913.7 1740.3,919.6 1741.3,921.8 C1742.3,923.9 1743.3,923.3 1744.3,926.3 C1745.3,929.3 1746.3,938.6 1747.4,939.9 C1748.4,941.1 1749.4,933.6 1750.4,933.8 C1751.4,934.1 1752.4,937.6 1753.4,941.4 C1754.4,945.1 1755.1,950.9 1756.4,956.5 C1757.7,962.0 1759.4,968.5 1760.9,974.6 C1762.4,980.6 1763.7,988.1 1765.5,992.7 C1767.2,997.2 1769.5,999.2 1771.5,1001.7 C1773.5,1004.2 1775.0,1005.8 1777.5,1007.8 C1780.0,1009.8 1785.1,1012.8 1786.6,1013.8 L1861.0,1013.8" fill="none" stroke="#e12396" stroke-width="2.2" stroke-linejoin="round"/>
<line x1="1705.4" y1="795.3" x2="1705.4" y2="1013.8" stroke="#7d8588" stroke-width="1.8" stroke-dasharray="5,5"/>
<line x1="1608.0" y1="1016.3" x2="1861.0" y2="1016.3" stroke="#f07cc0" stroke-width="2" />
<rect x="1608.0" y="793.3" width="253.0" height="220.5" stroke="#1e1b1c" stroke-width="2.6" fill="none" />
<text x="1850.4" y="928.1" font-size="24" text-anchor="end" fill="#3c4448" stroke="#3c4448" stroke-width="0.43">27%</text>
<text x="1850.4" y="968.1" font-size="24" text-anchor="end" fill="#2f9e2f" stroke="#2f9e2f" stroke-width="0.43">38.2%</text>
<text x="1850.4" y="1004.0" font-size="24" text-anchor="end" fill="#e0339a" stroke="#e0339a" stroke-width="0.43">76.2%</text>
<line x1="1669.4" y1="1014.8" x2="1669.4" y2="1022.8" stroke="#1e1b1c" stroke-width="1.8" />
<text x="1669.4" y="1037.5" font-size="15" text-anchor="middle" fill="#1e1b1c">0</text>
<line x1="1754.0" y1="1014.8" x2="1754.0" y2="1022.8" stroke="#1e1b1c" stroke-width="1.8" />
<text x="1754.0" y="1037.5" font-size="15" text-anchor="middle" fill="#1e1b1c">10<tspan dy="-6" font-size="10">4</tspan></text>
<line x1="1806.0" y1="1014.8" x2="1806.0" y2="1022.8" stroke="#1e1b1c" stroke-width="1.8" />
<text x="1806.0" y="1037.5" font-size="15" text-anchor="middle" fill="#1e1b1c">10<tspan dy="-6" font-size="10">5</tspan></text>
<line x1="1854.0" y1="1014.8" x2="1854.0" y2="1022.8" stroke="#1e1b1c" stroke-width="1.8" />
<text x="1854.0" y="1037.5" font-size="15" text-anchor="middle" fill="#1e1b1c">10<tspan dy="-6" font-size="10">6</tspan></text>
<line x1="1769.7" y1="1014.8" x2="1769.7" y2="1018.8" stroke="#1e1b1c" stroke-width="1.2" />
<line x1="1778.8" y1="1014.8" x2="1778.8" y2="1018.8" stroke="#1e1b1c" stroke-width="1.2" />
<line x1="1785.3" y1="1014.8" x2="1785.3" y2="1018.8" stroke="#1e1b1c" stroke-width="1.2" />
<line x1="1790.3" y1="1014.8" x2="1790.3" y2="1018.8" stroke="#1e1b1c" stroke-width="1.2" />
<line x1="1794.5" y1="1014.8" x2="1794.5" y2="1018.8" stroke="#1e1b1c" stroke-width="1.2" />
<line x1="1797.9" y1="1014.8" x2="1797.9" y2="1018.8" stroke="#1e1b1c" stroke-width="1.2" />
<line x1="1801.0" y1="1014.8" x2="1801.0" y2="1018.8" stroke="#1e1b1c" stroke-width="1.2" />
<line x1="1803.6" y1="1014.8" x2="1803.6" y2="1018.8" stroke="#1e1b1c" stroke-width="1.2" />
<line x1="1820.4" y1="1014.8" x2="1820.4" y2="1018.8" stroke="#1e1b1c" stroke-width="1.2" />
<line x1="1828.9" y1="1014.8" x2="1828.9" y2="1018.8" stroke="#1e1b1c" stroke-width="1.2" />
<line x1="1834.9" y1="1014.8" x2="1834.9" y2="1018.8" stroke="#1e1b1c" stroke-width="1.2" />
<line x1="1839.6" y1="1014.8" x2="1839.6" y2="1018.8" stroke="#1e1b1c" stroke-width="1.2" />
<line x1="1843.4" y1="1014.8" x2="1843.4" y2="1018.8" stroke="#1e1b1c" stroke-width="1.2" />
<line x1="1846.6" y1="1014.8" x2="1846.6" y2="1018.8" stroke="#1e1b1c" stroke-width="1.2" />
<line x1="1849.3" y1="1014.8" x2="1849.3" y2="1018.8" stroke="#1e1b1c" stroke-width="1.2" />
<line x1="1851.8" y1="1014.8" x2="1851.8" y2="1018.8" stroke="#1e1b1c" stroke-width="1.2" />
<line x1="1662.4" y1="1014.8" x2="1662.4" y2="1019.8" stroke="#1e1b1c" stroke-width="1.4" />
<line x1="1665.4" y1="1014.8" x2="1665.4" y2="1019.8" stroke="#1e1b1c" stroke-width="1.4" />
<line x1="1667.4" y1="1014.8" x2="1667.4" y2="1019.8" stroke="#1e1b1c" stroke-width="1.4" />
<line x1="1669.4" y1="1014.8" x2="1669.4" y2="1019.8" stroke="#1e1b1c" stroke-width="1.4" />
<line x1="1671.4" y1="1014.8" x2="1671.4" y2="1019.8" stroke="#1e1b1c" stroke-width="1.4" />
<line x1="1673.4" y1="1014.8" x2="1673.4" y2="1019.8" stroke="#1e1b1c" stroke-width="1.4" />
<line x1="1676.4" y1="1014.8" x2="1676.4" y2="1019.8" stroke="#1e1b1c" stroke-width="1.4" />
<text x="1735.3" y="1078.0" font-size="28" text-anchor="middle" fill="#1e1b1c" stroke="#1e1b1c" stroke-width="0.50">PD1 - PE-Cy7</text>
<path d="M1889.0,937.9 L1931.8,937.9 C1933.0,937.5 1936.8,937.1 1939.3,935.6 C1941.8,934.1 1944.6,930.9 1946.9,928.8 C1949.1,926.8 1950.6,924.7 1952.9,923.6 C1955.2,922.4 1957.7,922.1 1960.4,922.1 C1963.2,922.1 1967.0,923.9 1969.5,923.6 C1972.0,923.2 1973.5,921.7 1975.5,919.8 C1977.6,917.9 1979.8,914.0 1981.6,912.2 C1983.3,910.5 1984.6,910.0 1986.1,909.2 C1987.6,908.5 1989.1,909.2 1990.6,907.7 C1992.1,906.2 1993.6,902.2 1995.2,900.2 C1996.7,898.2 1998.4,897.4 1999.7,895.6 C2000.9,893.9 2001.7,890.6 2002.7,889.6 C2003.7,888.6 2004.5,891.1 2005.7,889.6 C2007.0,888.1 2009.0,882.8 2010.2,880.6 C2011.5,878.3 2012.3,877.5 2013.3,876.0 C2014.3,874.5 2015.0,873.3 2016.3,871.5 C2017.5,869.7 2019.3,867.5 2020.8,865.5 C2022.3,863.5 2023.8,862.5 2025.3,859.4 C2026.8,856.4 2028.6,851.4 2029.9,847.4 C2031.1,843.3 2031.9,837.6 2032.9,835.3 C2033.9,833.0 2034.6,835.4 2035.9,833.8 C2037.2,832.1 2038.9,825.5 2040.4,825.5 C2041.9,825.5 2043.7,831.4 2045.0,833.8 C2046.2,836.2 2046.7,836.5 2048.0,839.8 C2049.2,843.1 2051.0,848.1 2052.5,853.4 C2054.0,858.7 2055.5,865.0 2057.0,871.5 C2058.5,878.0 2060.0,885.6 2061.6,892.6 C2063.1,899.7 2064.6,908.0 2066.1,913.8 C2067.6,919.5 2068.8,923.8 2070.6,927.3 C2072.4,930.9 2074.4,933.2 2076.6,934.9 C2078.9,936.5 2080.9,936.8 2084.2,937.1 C2087.5,937.5 2091.7,937.0 2096.3,937.1 C2100.8,937.3 2108.8,937.8 2111.3,937.9 L2142.0,937.9 Z" fill="#758282" fill-opacity="0.8" stroke="none"/>
<path d="M1889.0,937.9 L1931.8,937.9 C1933.0,937.5 1936.8,937.1 1939.3,935.6 C1941.8,934.1 1944.6,930.9 1946.9,928.8 C1949.1,926.8 1950.6,924.7 1952.9,923.6 C1955.2,922.4 1957.7,922.1 1960.4,922.1 C1963.2,922.1 1967.0,923.9 1969.5,923.6 C1972.0,923.2 1973.5,921.7 1975.5,919.8 C1977.6,917.9 1979.8,914.0 1981.6,912.2 C1983.3,910.5 1984.6,910.0 1986.1,909.2 C1987.6,908.5 1989.1,909.2 1990.6,907.7 C1992.1,906.2 1993.6,902.2 1995.2,900.2 C1996.7,898.2 1998.4,897.4 1999.7,895.6 C2000.9,893.9 2001.7,890.6 2002.7,889.6 C2003.7,888.6 2004.5,891.1 2005.7,889.6 C2007.0,888.1 2009.0,882.8 2010.2,880.6 C2011.5,878.3 2012.3,877.5 2013.3,876.0 C2014.3,874.5 2015.0,873.3 2016.3,871.5 C2017.5,869.7 2019.3,867.5 2020.8,865.5 C2022.3,863.5 2023.8,862.5 2025.3,859.4 C2026.8,856.4 2028.6,851.4 2029.9,847.4 C2031.1,843.3 2031.9,837.6 2032.9,835.3 C2033.9,833.0 2034.6,835.4 2035.9,833.8 C2037.2,832.1 2038.9,825.5 2040.4,825.5 C2041.9,825.5 2043.7,831.4 2045.0,833.8 C2046.2,836.2 2046.7,836.5 2048.0,839.8 C2049.2,843.1 2051.0,848.1 2052.5,853.4 C2054.0,858.7 2055.5,865.0 2057.0,871.5 C2058.5,878.0 2060.0,885.6 2061.6,892.6 C2063.1,899.7 2064.6,908.0 2066.1,913.8 C2067.6,919.5 2068.8,923.8 2070.6,927.3 C2072.4,930.9 2074.4,933.2 2076.6,934.9 C2078.9,936.5 2080.9,936.8 2084.2,937.1 C2087.5,937.5 2091.7,937.0 2096.3,937.1 C2100.8,937.3 2108.8,937.8 2111.3,937.9 L2142.0,937.9" fill="none" stroke="#3d4446" stroke-width="2.2" stroke-linejoin="round"/>
<path d="M1889.0,977.1 L1945.4,977.1 C1946.4,976.1 1949.3,973.3 1951.4,971.1 C1953.5,968.8 1956.2,963.6 1958.2,963.5 C1960.2,963.4 1961.3,968.0 1963.5,970.3 C1965.6,972.6 1969.0,977.0 1971.0,977.1 C1973.0,977.2 1974.0,974.3 1975.5,971.1 C1977.0,967.8 1978.6,960.8 1980.1,957.5 C1981.6,954.2 1983.1,951.4 1984.6,951.4 C1986.1,951.4 1987.6,955.5 1989.1,957.5 C1990.6,959.5 1991.9,963.5 1993.6,963.5 C1995.4,963.5 1997.7,960.8 1999.7,957.5 C2001.7,954.2 2004.0,949.2 2005.7,943.9 C2007.5,938.6 2009.0,932.6 2010.2,925.8 C2011.5,919.0 2012.1,909.4 2013.3,903.2 C2014.4,896.9 2015.8,890.1 2017.0,888.1 C2018.3,886.1 2019.7,890.3 2020.8,891.1 C2021.9,891.8 2022.3,893.6 2023.8,892.6 C2025.3,891.6 2028.1,888.1 2029.9,885.1 C2031.6,882.0 2032.9,878.8 2034.4,874.5 C2035.9,870.2 2037.5,862.2 2038.9,859.4 C2040.3,856.6 2041.3,857.1 2042.7,857.9 C2044.1,858.6 2045.6,861.4 2047.2,863.9 C2048.8,866.4 2050.9,868.2 2052.5,873.0 C2054.1,877.8 2055.5,885.1 2057.0,892.6 C2058.5,900.1 2060.0,910.2 2061.6,918.2 C2063.1,926.3 2064.6,933.8 2066.1,940.9 C2067.6,947.9 2069.1,956.2 2070.6,960.5 C2072.1,964.8 2073.6,965.9 2075.1,966.5 C2076.6,967.2 2078.1,963.5 2079.7,964.3 C2081.2,965.0 2082.2,968.9 2084.2,971.1 C2086.2,973.2 2090.5,976.1 2091.7,977.1 L2142.0,977.1 Z" fill="#3fbc37" fill-opacity="0.6" stroke="none"/>
<path d="M1889.0,977.1 L1945.4,977.1 C1946.4,976.1 1949.3,973.3 1951.4,971.1 C1953.5,968.8 1956.2,963.6 1958.2,963.5 C1960.2,963.4 1961.3,968.0 1963.5,970.3 C1965.6,972.6 1969.0,977.0 1971.0,977.1 C1973.0,977.2 1974.0,974.3 1975.5,971.1 C1977.0,967.8 1978.6,960.8 1980.1,957.5 C1981.6,954.2 1983.1,951.4 1984.6,951.4 C1986.1,951.4 1987.6,955.5 1989.1,957.5 C1990.6,959.5 1991.9,963.5 1993.6,963.5 C1995.4,963.5 1997.7,960.8 1999.7,957.5 C2001.7,954.2 2004.0,949.2 2005.7,943.9 C2007.5,938.6 2009.0,932.6 2010.2,925.8 C2011.5,919.0 2012.1,909.4 2013.3,903.2 C2014.4,896.9 2015.8,890.1 2017.0,888.1 C2018.3,886.1 2019.7,890.3 2020.8,891.1 C2021.9,891.8 2022.3,893.6 2023.8,892.6 C2025.3,891.6 2028.1,888.1 2029.9,885.1 C2031.6,882.0 2032.9,878.8 2034.4,874.5 C2035.9,870.2 2037.5,862.2 2038.9,859.4 C2040.3,856.6 2041.3,857.1 2042.7,857.9 C2044.1,858.6 2045.6,861.4 2047.2,863.9 C2048.8,866.4 2050.9,868.2 2052.5,873.0 C2054.1,877.8 2055.5,885.1 2057.0,892.6 C2058.5,900.1 2060.0,910.2 2061.6,918.2 C2063.1,926.3 2064.6,933.8 2066.1,940.9 C2067.6,947.9 2069.1,956.2 2070.6,960.5 C2072.1,964.8 2073.6,965.9 2075.1,966.5 C2076.6,967.2 2078.1,963.5 2079.7,964.3 C2081.2,965.0 2082.2,968.9 2084.2,971.1 C2086.2,973.2 2090.5,976.1 2091.7,977.1 L2142.0,977.1" fill="none" stroke="#2ea02e" stroke-width="2.2" stroke-linejoin="round"/>
<path d="M1889.0,1013.8 L1948.4,1013.8 C1949.4,1012.8 1952.4,1010.0 1954.4,1007.8 C1956.4,1005.5 1958.4,1002.5 1960.4,1000.2 C1962.5,998.0 1964.7,996.7 1966.5,994.2 C1968.2,991.7 1969.6,987.4 1971.0,985.1 C1972.4,982.9 1973.5,980.4 1974.8,980.6 C1976.0,980.9 1977.2,987.4 1978.6,986.6 C1979.9,985.9 1981.6,978.3 1983.1,976.1 C1984.6,973.8 1985.9,974.1 1987.6,973.1 C1989.4,972.1 1991.4,971.3 1993.6,970.0 C1995.9,968.8 1998.9,966.5 2001.2,965.5 C2003.5,964.5 2005.2,965.0 2007.2,964.0 C2009.2,963.0 2011.5,962.0 2013.3,959.5 C2015.0,957.0 2016.0,951.9 2017.8,948.9 C2019.6,945.9 2022.1,945.1 2023.8,941.4 C2025.6,937.6 2027.0,930.1 2028.4,926.3 C2029.7,922.5 2030.9,918.7 2032.1,918.7 C2033.4,918.7 2034.8,926.0 2035.9,926.3 C2037.0,926.5 2037.7,922.8 2038.9,920.2 C2040.2,917.7 2042.1,913.2 2043.4,911.2 C2044.8,909.2 2046.0,907.7 2047.2,908.2 C2048.5,908.7 2049.6,909.9 2051.0,914.2 C2052.4,918.5 2054.0,925.5 2055.5,933.8 C2057.0,942.1 2058.5,953.9 2060.0,964.0 C2061.6,974.1 2063.1,986.9 2064.6,994.2 C2066.1,1001.5 2067.1,1004.5 2069.1,1007.8 C2071.1,1011.0 2075.4,1012.8 2076.6,1013.8 L2142.0,1013.8 Z" fill="#e425c3" fill-opacity="0.55" stroke="none"/>
<path d="M1889.0,1013.8 L1948.4,1013.8 C1949.4,1012.8 1952.4,1010.0 1954.4,1007.8 C1956.4,1005.5 1958.4,1002.5 1960.4,1000.2 C1962.5,998.0 1964.7,996.7 1966.5,994.2 C1968.2,991.7 1969.6,987.4 1971.0,985.1 C1972.4,982.9 1973.5,980.4 1974.8,980.6 C1976.0,980.9 1977.2,987.4 1978.6,986.6 C1979.9,985.9 1981.6,978.3 1983.1,976.1 C1984.6,973.8 1985.9,974.1 1987.6,973.1 C1989.4,972.1 1991.4,971.3 1993.6,970.0 C1995.9,968.8 1998.9,966.5 2001.2,965.5 C2003.5,964.5 2005.2,965.0 2007.2,964.0 C2009.2,963.0 2011.5,962.0 2013.3,959.5 C2015.0,957.0 2016.0,951.9 2017.8,948.9 C2019.6,945.9 2022.1,945.1 2023.8,941.4 C2025.6,937.6 2027.0,930.1 2028.4,926.3 C2029.7,922.5 2030.9,918.7 2032.1,918.7 C2033.4,918.7 2034.8,926.0 2035.9,926.3 C2037.0,926.5 2037.7,922.8 2038.9,920.2 C2040.2,917.7 2042.1,913.2 2043.4,911.2 C2044.8,909.2 2046.0,907.7 2047.2,908.2 C2048.5,908.7 2049.6,909.9 2051.0,914.2 C2052.4,918.5 2054.0,925.5 2055.5,933.8 C2057.0,942.1 2058.5,953.9 2060.0,964.0 C2061.6,974.1 2063.1,986.9 2064.6,994.2 C2066.1,1001.5 2067.1,1004.5 2069.1,1007.8 C2071.1,1011.0 2075.4,1012.8 2076.6,1013.8 L2142.0,1013.8" fill="none" stroke="#e12396" stroke-width="2.2" stroke-linejoin="round"/>
<line x1="1991.4" y1="795.3" x2="1991.4" y2="1013.8" stroke="#7d8588" stroke-width="1.8" stroke-dasharray="5,5"/>
<line x1="1889.0" y1="1016.3" x2="2142.0" y2="1016.3" stroke="#f07cc0" stroke-width="2" />
<rect x="1889.0" y="793.3" width="253.0" height="220.5" stroke="#1e1b1c" stroke-width="2.6" fill="none" />
<text x="2136.6" y="928.1" font-size="24" text-anchor="end" fill="#3c4448" stroke="#3c4448" stroke-width="0.43">87.1%</text>
<text x="2136.6" y="968.1" font-size="24" text-anchor="end" fill="#2f9e2f" stroke="#2f9e2f" stroke-width="0.43">91.2%</text>
<text x="2136.6" y="1004.0" font-size="24" text-anchor="end" fill="#e0339a" stroke="#e0339a" stroke-width="0.43">84.9%</text>
<line x1="1958.8" y1="1014.8" x2="1958.8" y2="1022.8" stroke="#1e1b1c" stroke-width="1.8" />
<text x="1958.8" y="1037.5" font-size="15" text-anchor="middle" fill="#1e1b1c">0</text>
<line x1="2052.3" y1="1014.8" x2="2052.3" y2="1022.8" stroke="#1e1b1c" stroke-width="1.8" />
<text x="2052.3" y="1037.5" font-size="15" text-anchor="middle" fill="#1e1b1c">10<tspan dy="-6" font-size="10">4</tspan></text>
<line x1="2114.6" y1="1014.8" x2="2114.6" y2="1022.8" stroke="#1e1b1c" stroke-width="1.8" />
<text x="2114.6" y="1037.5" font-size="15" text-anchor="middle" fill="#1e1b1c">10<tspan dy="-6" font-size="10">5</tspan></text>
<line x1="2071.1" y1="1014.8" x2="2071.1" y2="1018.8" stroke="#1e1b1c" stroke-width="1.2" />
<line x1="2082.0" y1="1014.8" x2="2082.0" y2="1018.8" stroke="#1e1b1c" stroke-width="1.2" />
<line x1="2089.8" y1="1014.8" x2="2089.8" y2="1018.8" stroke="#1e1b1c" stroke-width="1.2" />
<line x1="2095.8" y1="1014.8" x2="2095.8" y2="1018.8" stroke="#1e1b1c" stroke-width="1.2" />
<line x1="2100.8" y1="1014.8" x2="2100.8" y2="1018.8" stroke="#1e1b1c" stroke-width="1.2" />
<line x1="2104.9" y1="1014.8" x2="2104.9" y2="1018.8" stroke="#1e1b1c" stroke-width="1.2" />
<line x1="2108.6" y1="1014.8" x2="2108.6" y2="1018.8" stroke="#1e1b1c" stroke-width="1.2" />
<line x1="2111.7" y1="1014.8" x2="2111.7" y2="1018.8" stroke="#1e1b1c" stroke-width="1.2" />
<line x1="1951.8" y1="1014.8" x2="1951.8" y2="1019.8" stroke="#1e1b1c" stroke-width="1.4" />
<line x1="1954.8" y1="1014.8" x2="1954.8" y2="1019.8" stroke="#1e1b1c" stroke-width="1.4" />
<line x1="1956.8" y1="1014.8" x2="1956.8" y2="1019.8" stroke="#1e1b1c" stroke-width="1.4" />
<line x1="1958.8" y1="1014.8" x2="1958.8" y2="1019.8" stroke="#1e1b1c" stroke-width="1.4" />
<line x1="1960.8" y1="1014.8" x2="1960.8" y2="1019.8" stroke="#1e1b1c" stroke-width="1.4" />
<line x1="1962.8" y1="1014.8" x2="1962.8" y2="1019.8" stroke="#1e1b1c" stroke-width="1.4" />
<line x1="1965.8" y1="1014.8" x2="1965.8" y2="1019.8" stroke="#1e1b1c" stroke-width="1.4" />
<text x="2020.6" y="1078.0" font-size="28" text-anchor="middle" fill="#1e1b1c" stroke="#1e1b1c" stroke-width="0.50">CCR7 - APC</text>
<line x1="82.7" y1="1140.8" x2="82.7" y2="1358.3" stroke="#1e1b1c" stroke-width="2.6" />
<text x="63.8" y="1252.5" font-size="28" text-anchor="middle" fill="#1e1b1c" stroke="#1e1b1c" stroke-width="0.50" transform="rotate(-90 63.8 1252.5)">Day 4 post-transfer</text>
<text x="203.4" y="1289.6" font-size="32" text-anchor="end" fill="#3c4448" stroke="#3c4448" stroke-width="0.58">WT</text>
<text x="203.4" y="1328.9" font-size="32" text-anchor="end" fill="#2f9e2f" stroke="#2f9e2f" stroke-width="0.58">ANTrg</text>
<text x="203.4" y="1367.0" font-size="32" text-anchor="end" fill="#e0339a" stroke="#e0339a" stroke-width="0.58">SASrg</text>
<path d="M217.5,1288.5 L289.4,1288.5 C290.5,1288.2 293.7,1288.2 295.5,1287.0 C297.2,1285.7 298.6,1285.7 300.0,1281.0 C301.4,1276.2 302.7,1268.4 303.8,1258.3 C304.9,1248.3 305.5,1232.9 306.8,1220.6 C308.1,1208.3 309.9,1184.4 311.3,1184.4 C312.7,1184.4 314.0,1208.3 315.1,1220.6 C316.2,1232.9 317.1,1248.3 318.1,1258.3 C319.1,1268.4 319.9,1276.1 321.1,1281.0 C322.4,1285.9 323.4,1286.5 325.7,1287.7 C327.9,1289.0 330.7,1288.1 334.7,1288.2 C338.7,1288.3 344.8,1288.5 349.8,1288.5 C354.8,1288.5 359.9,1288.3 364.9,1288.0 C369.9,1287.8 375.0,1287.3 380.0,1287.0 C385.0,1286.7 390.3,1286.6 395.1,1286.2 C399.9,1285.9 404.6,1284.9 408.7,1284.7 C412.7,1284.6 416.5,1284.8 419.2,1285.2 C422.0,1285.6 421.7,1286.5 425.3,1287.0 C428.8,1287.5 432.8,1287.9 440.3,1288.2 C447.9,1288.4 465.5,1288.4 470.5,1288.5 L470.5,1288.5 Z" fill="#758282" fill-opacity="0.8" stroke="none"/>
<path d="M217.5,1288.5 L289.4,1288.5 C290.5,1288.2 293.7,1288.2 295.5,1287.0 C297.2,1285.7 298.6,1285.7 300.0,1281.0 C301.4,1276.2 302.7,1268.4 303.8,1258.3 C304.9,1248.3 305.5,1232.9 306.8,1220.6 C308.1,1208.3 309.9,1184.4 311.3,1184.4 C312.7,1184.4 314.0,1208.3 315.1,1220.6 C316.2,1232.9 317.1,1248.3 318.1,1258.3 C319.1,1268.4 319.9,1276.1 321.1,1281.0 C322.4,1285.9 323.4,1286.5 325.7,1287.7 C327.9,1289.0 330.7,1288.1 334.7,1288.2 C338.7,1288.3 344.8,1288.5 349.8,1288.5 C354.8,1288.5 359.9,1288.3 364.9,1288.0 C369.9,1287.8 375.0,1287.3 380.0,1287.0 C385.0,1286.7 390.3,1286.6 395.1,1286.2 C399.9,1285.9 404.6,1284.9 408.7,1284.7 C412.7,1284.6 416.5,1284.8 419.2,1285.2 C422.0,1285.6 421.7,1286.5 425.3,1287.0 C428.8,1287.5 432.8,1287.9 440.3,1288.2 C447.9,1288.4 465.5,1288.4 470.5,1288.5 L470.5,1288.5" fill="none" stroke="#3d4446" stroke-width="2.2" stroke-linejoin="round"/>
<path d="M217.5,1328.0 L295.5,1328.0 C296.0,1327.4 297.4,1328.5 298.5,1324.5 C299.6,1320.6 301.0,1313.8 302.3,1304.2 C303.5,1294.5 304.7,1280.0 306.0,1266.4 C307.4,1252.9 309.2,1232.2 310.6,1222.7 C312.0,1213.1 313.1,1209.1 314.3,1209.1 C315.6,1209.1 316.9,1213.1 318.1,1222.7 C319.4,1232.2 320.6,1252.9 321.9,1266.4 C323.1,1280.0 324.3,1294.9 325.7,1304.2 C327.0,1313.5 328.7,1318.4 330.2,1322.3 C331.7,1326.2 333.5,1326.6 334.7,1327.5 C336.0,1328.5 337.2,1327.9 337.7,1328.0 L470.5,1328.0 Z" fill="#3fbc37" fill-opacity="0.6" stroke="none"/>
<path d="M217.5,1328.0 L295.5,1328.0 C296.0,1327.4 297.4,1328.5 298.5,1324.5 C299.6,1320.6 301.0,1313.8 302.3,1304.2 C303.5,1294.5 304.7,1280.0 306.0,1266.4 C307.4,1252.9 309.2,1232.2 310.6,1222.7 C312.0,1213.1 313.1,1209.1 314.3,1209.1 C315.6,1209.1 316.9,1213.1 318.1,1222.7 C319.4,1232.2 320.6,1252.9 321.9,1266.4 C323.1,1280.0 324.3,1294.9 325.7,1304.2 C327.0,1313.5 328.7,1318.4 330.2,1322.3 C331.7,1326.2 333.5,1326.6 334.7,1327.5 C336.0,1328.5 337.2,1327.9 337.7,1328.0 L470.5,1328.0" fill="none" stroke="#2ea02e" stroke-width="2.2" stroke-linejoin="round"/>
<path d="M217.5,1365.5 L294.0,1365.5 C294.5,1364.5 295.9,1363.2 297.0,1359.5 C298.1,1355.7 299.5,1350.7 300.8,1342.9 C302.0,1335.1 303.3,1324.0 304.5,1312.7 C305.8,1301.4 307.1,1284.5 308.3,1275.0 C309.5,1265.4 310.7,1255.3 311.8,1255.3 C312.9,1255.3 314.0,1265.4 315.1,1275.0 C316.2,1284.5 317.1,1301.4 318.1,1312.7 C319.1,1324.0 320.1,1335.3 321.1,1342.9 C322.1,1350.4 323.0,1354.2 324.2,1358.0 C325.3,1361.7 327.3,1364.2 327.9,1365.5 L470.5,1365.5 Z" fill="#e425c3" fill-opacity="0.55" stroke="none"/>
<path d="M217.5,1365.5 L294.0,1365.5 C294.5,1364.5 295.9,1363.2 297.0,1359.5 C298.1,1355.7 299.5,1350.7 300.8,1342.9 C302.0,1335.1 303.3,1324.0 304.5,1312.7 C305.8,1301.4 307.1,1284.5 308.3,1275.0 C309.5,1265.4 310.7,1255.3 311.8,1255.3 C312.9,1255.3 314.0,1265.4 315.1,1275.0 C316.2,1284.5 317.1,1301.4 318.1,1312.7 C319.1,1324.0 320.1,1335.3 321.1,1342.9 C322.1,1350.4 323.0,1354.2 324.2,1358.0 C325.3,1361.7 327.3,1364.2 327.9,1365.5 L470.5,1365.5" fill="none" stroke="#e12396" stroke-width="2.2" stroke-linejoin="round"/>
<line x1="343.0" y1="1143.0" x2="343.0" y2="1365.5" stroke="#7d8588" stroke-width="1.8" stroke-dasharray="5,5"/>
<line x1="217.5" y1="1368.0" x2="470.5" y2="1368.0" stroke="#f07cc0" stroke-width="2" />
<rect x="217.5" y="1141.0" width="253.0" height="224.5" stroke="#1e1b1c" stroke-width="2.6" fill="none" />
<text x="458.6" y="1277.8" font-size="24" text-anchor="end" fill="#3c4448" stroke="#3c4448" stroke-width="0.43">13%</text>
<text x="458.6" y="1318.6" font-size="24" text-anchor="end" fill="#2f9e2f" stroke="#2f9e2f" stroke-width="0.43">0%</text>
<text x="458.6" y="1356.5" font-size="24" text-anchor="end" fill="#e0339a" stroke="#e0339a" stroke-width="0.43">0.1%</text>
<line x1="235.0" y1="1366.5" x2="235.0" y2="1374.5" stroke="#1e1b1c" stroke-width="1.8" />
<text x="235.0" y="1387.8" font-size="15" text-anchor="middle" fill="#1e1b1c">-10<tspan dy="-6" font-size="10">4</tspan></text>
<line x1="312.3" y1="1366.5" x2="312.3" y2="1374.5" stroke="#1e1b1c" stroke-width="1.8" />
<text x="312.3" y="1387.8" font-size="15" text-anchor="middle" fill="#1e1b1c">0</text>
<line x1="387.8" y1="1366.5" x2="387.8" y2="1374.5" stroke="#1e1b1c" stroke-width="1.8" />
<text x="387.8" y="1387.8" font-size="15" text-anchor="middle" fill="#1e1b1c">10<tspan dy="-6" font-size="10">4</tspan></text>
<line x1="467.5" y1="1366.5" x2="467.5" y2="1374.5" stroke="#1e1b1c" stroke-width="1.8" />
<text x="467.5" y="1387.8" font-size="15" text-anchor="middle" fill="#1e1b1c">10<tspan dy="-6" font-size="10">5</tspan></text>
<line x1="411.8" y1="1366.5" x2="411.8" y2="1370.5" stroke="#1e1b1c" stroke-width="1.2" />
<line x1="425.8" y1="1366.5" x2="425.8" y2="1370.5" stroke="#1e1b1c" stroke-width="1.2" />
<line x1="435.8" y1="1366.5" x2="435.8" y2="1370.5" stroke="#1e1b1c" stroke-width="1.2" />
<line x1="443.5" y1="1366.5" x2="443.5" y2="1370.5" stroke="#1e1b1c" stroke-width="1.2" />
<line x1="449.8" y1="1366.5" x2="449.8" y2="1370.5" stroke="#1e1b1c" stroke-width="1.2" />
<line x1="455.2" y1="1366.5" x2="455.2" y2="1370.5" stroke="#1e1b1c" stroke-width="1.2" />
<line x1="459.8" y1="1366.5" x2="459.8" y2="1370.5" stroke="#1e1b1c" stroke-width="1.2" />
<line x1="463.9" y1="1366.5" x2="463.9" y2="1370.5" stroke="#1e1b1c" stroke-width="1.2" />
<line x1="305.3" y1="1366.5" x2="305.3" y2="1371.5" stroke="#1e1b1c" stroke-width="1.4" />
<line x1="308.3" y1="1366.5" x2="308.3" y2="1371.5" stroke="#1e1b1c" stroke-width="1.4" />
<line x1="310.3" y1="1366.5" x2="310.3" y2="1371.5" stroke="#1e1b1c" stroke-width="1.4" />
<line x1="312.3" y1="1366.5" x2="312.3" y2="1371.5" stroke="#1e1b1c" stroke-width="1.4" />
<line x1="314.3" y1="1366.5" x2="314.3" y2="1371.5" stroke="#1e1b1c" stroke-width="1.4" />
<line x1="316.3" y1="1366.5" x2="316.3" y2="1371.5" stroke="#1e1b1c" stroke-width="1.4" />
<line x1="319.3" y1="1366.5" x2="319.3" y2="1371.5" stroke="#1e1b1c" stroke-width="1.4" />
<text x="346.3" y="1431.8" font-size="28" text-anchor="middle" fill="#1e1b1c" stroke="#1e1b1c" stroke-width="0.50">Foxp3 - FITC</text>
<path d="M496.0,1288.5 L552.4,1288.5 C553.1,1288.1 555.6,1288.0 556.9,1286.2 C558.1,1284.5 558.9,1282.6 559.9,1277.9 C560.9,1273.3 561.9,1266.6 562.9,1258.3 C563.9,1250.0 564.8,1238.7 565.9,1228.1 C567.1,1217.6 568.3,1202.2 569.7,1194.9 C571.1,1187.6 572.9,1183.9 574.2,1184.4 C575.6,1184.9 576.9,1191.9 578.0,1198.0 C579.1,1204.0 580.0,1211.8 581.0,1220.6 C582.0,1229.4 583.0,1242.5 584.0,1250.8 C585.1,1259.1 585.8,1265.2 587.1,1270.4 C588.3,1275.5 589.8,1279.4 591.6,1281.7 C593.4,1284.0 594.1,1283.3 597.6,1284.0 C601.1,1284.6 607.7,1285.0 612.7,1285.5 C617.7,1286.0 622.8,1286.8 627.8,1287.0 C632.8,1287.2 637.9,1286.7 642.9,1286.5 C647.9,1286.4 653.0,1286.0 658.0,1286.2 C663.0,1286.4 668.3,1287.7 673.1,1287.7 C677.9,1287.7 681.6,1286.2 686.7,1286.2 C691.7,1286.2 692.9,1287.4 703.3,1287.7 C713.6,1288.1 741.0,1288.4 748.5,1288.5 L749.0,1288.5 Z" fill="#758282" fill-opacity="0.8" stroke="none"/>
<path d="M496.0,1288.5 L552.4,1288.5 C553.1,1288.1 555.6,1288.0 556.9,1286.2 C558.1,1284.5 558.9,1282.6 559.9,1277.9 C560.9,1273.3 561.9,1266.6 562.9,1258.3 C563.9,1250.0 564.8,1238.7 565.9,1228.1 C567.1,1217.6 568.3,1202.2 569.7,1194.9 C571.1,1187.6 572.9,1183.9 574.2,1184.4 C575.6,1184.9 576.9,1191.9 578.0,1198.0 C579.1,1204.0 580.0,1211.8 581.0,1220.6 C582.0,1229.4 583.0,1242.5 584.0,1250.8 C585.1,1259.1 585.8,1265.2 587.1,1270.4 C588.3,1275.5 589.8,1279.4 591.6,1281.7 C593.4,1284.0 594.1,1283.3 597.6,1284.0 C601.1,1284.6 607.7,1285.0 612.7,1285.5 C617.7,1286.0 622.8,1286.8 627.8,1287.0 C632.8,1287.2 637.9,1286.7 642.9,1286.5 C647.9,1286.4 653.0,1286.0 658.0,1286.2 C663.0,1286.4 668.3,1287.7 673.1,1287.7 C677.9,1287.7 681.6,1286.2 686.7,1286.2 C691.7,1286.2 692.9,1287.4 703.3,1287.7 C713.6,1288.1 741.0,1288.4 748.5,1288.5 L749.0,1288.5" fill="none" stroke="#3d4446" stroke-width="2.2" stroke-linejoin="round"/>
<path d="M496.0,1328.0 L553.9,1328.0 C554.6,1327.0 557.1,1325.5 558.4,1322.3 C559.7,1319.0 560.4,1314.2 561.4,1308.7 C562.4,1303.2 563.2,1296.1 564.4,1289.1 C565.7,1282.0 567.4,1274.0 569.0,1266.4 C570.5,1258.9 572.0,1251.1 573.5,1243.8 C575.0,1236.5 576.6,1228.2 578.0,1222.7 C579.4,1217.1 580.8,1212.1 581.8,1210.6 C582.8,1209.1 583.3,1210.1 584.0,1213.6 C584.8,1217.1 585.6,1224.2 586.3,1231.7 C587.1,1239.3 587.7,1250.6 588.6,1258.9 C589.5,1267.2 590.6,1274.0 591.6,1281.5 C592.6,1289.1 593.6,1299.6 594.6,1304.2 C595.6,1308.7 596.6,1307.2 597.6,1308.7 C598.6,1310.2 599.6,1311.5 600.6,1313.2 C601.7,1315.0 602.4,1316.8 603.7,1319.2 C604.9,1321.7 607.4,1326.5 608.2,1328.0 L749.0,1328.0 Z" fill="#3fbc37" fill-opacity="0.6" stroke="none"/>
<path d="M496.0,1328.0 L553.9,1328.0 C554.6,1327.0 557.1,1325.5 558.4,1322.3 C559.7,1319.0 560.4,1314.2 561.4,1308.7 C562.4,1303.2 563.2,1296.1 564.4,1289.1 C565.7,1282.0 567.4,1274.0 569.0,1266.4 C570.5,1258.9 572.0,1251.1 573.5,1243.8 C575.0,1236.5 576.6,1228.2 578.0,1222.7 C579.4,1217.1 580.8,1212.1 581.8,1210.6 C582.8,1209.1 583.3,1210.1 584.0,1213.6 C584.8,1217.1 585.6,1224.2 586.3,1231.7 C587.1,1239.3 587.7,1250.6 588.6,1258.9 C589.5,1267.2 590.6,1274.0 591.6,1281.5 C592.6,1289.1 593.6,1299.6 594.6,1304.2 C595.6,1308.7 596.6,1307.2 597.6,1308.7 C598.6,1310.2 599.6,1311.5 600.6,1313.2 C601.7,1315.0 602.4,1316.8 603.7,1319.2 C604.9,1321.7 607.4,1326.5 608.2,1328.0 L749.0,1328.0" fill="none" stroke="#2ea02e" stroke-width="2.2" stroke-linejoin="round"/>
<path d="M496.0,1365.5 L565.9,1365.5 C566.7,1365.0 568.7,1363.1 570.5,1362.5 C572.2,1361.9 574.0,1361.7 576.5,1361.7 C579.0,1361.7 582.5,1362.5 585.6,1362.5 C588.6,1362.5 591.8,1362.2 594.6,1361.7 C597.4,1361.2 599.9,1361.4 602.2,1359.5 C604.4,1357.6 606.2,1352.2 608.2,1350.4 C610.2,1348.6 612.2,1350.9 614.2,1348.9 C616.2,1346.9 618.5,1341.6 620.3,1338.3 C622.0,1335.1 623.0,1334.8 624.8,1329.3 C626.6,1323.8 629.1,1311.7 630.8,1305.1 C632.6,1298.6 633.8,1294.8 635.4,1290.1 C636.9,1285.3 638.6,1278.2 639.9,1276.5 C641.1,1274.7 641.9,1281.5 642.9,1279.5 C643.9,1277.5 644.9,1268.2 645.9,1264.4 C646.9,1260.6 647.9,1257.6 648.9,1256.9 C649.9,1256.1 650.8,1260.2 652.0,1259.9 C653.1,1259.5 654.5,1254.3 655.7,1254.6 C657.0,1254.8 658.4,1259.7 659.5,1261.4 C660.6,1263.0 661.5,1262.6 662.5,1264.4 C663.5,1266.2 664.3,1268.7 665.5,1271.9 C666.8,1275.2 668.6,1279.7 670.1,1284.0 C671.6,1288.3 673.1,1293.1 674.6,1297.6 C676.1,1302.1 677.6,1306.6 679.1,1311.2 C680.6,1315.7 682.1,1320.2 683.6,1324.8 C685.1,1329.3 686.7,1334.1 688.2,1338.3 C689.7,1342.6 691.2,1346.6 692.7,1350.4 C694.2,1354.2 695.7,1358.5 697.2,1361.0 C698.7,1363.5 701.0,1364.7 701.7,1365.5 L749.0,1365.5 Z" fill="#e425c3" fill-opacity="0.55" stroke="none"/>
<path d="M496.0,1365.5 L565.9,1365.5 C566.7,1365.0 568.7,1363.1 570.5,1362.5 C572.2,1361.9 574.0,1361.7 576.5,1361.7 C579.0,1361.7 582.5,1362.5 585.6,1362.5 C588.6,1362.5 591.8,1362.2 594.6,1361.7 C597.4,1361.2 599.9,1361.4 602.2,1359.5 C604.4,1357.6 606.2,1352.2 608.2,1350.4 C610.2,1348.6 612.2,1350.9 614.2,1348.9 C616.2,1346.9 618.5,1341.6 620.3,1338.3 C622.0,1335.1 623.0,1334.8 624.8,1329.3 C626.6,1323.8 629.1,1311.7 630.8,1305.1 C632.6,1298.6 633.8,1294.8 635.4,1290.1 C636.9,1285.3 638.6,1278.2 639.9,1276.5 C641.1,1274.7 641.9,1281.5 642.9,1279.5 C643.9,1277.5 644.9,1268.2 645.9,1264.4 C646.9,1260.6 647.9,1257.6 648.9,1256.9 C649.9,1256.1 650.8,1260.2 652.0,1259.9 C653.1,1259.5 654.5,1254.3 655.7,1254.6 C657.0,1254.8 658.4,1259.7 659.5,1261.4 C660.6,1263.0 661.5,1262.6 662.5,1264.4 C663.5,1266.2 664.3,1268.7 665.5,1271.9 C666.8,1275.2 668.6,1279.7 670.1,1284.0 C671.6,1288.3 673.1,1293.1 674.6,1297.6 C676.1,1302.1 677.6,1306.6 679.1,1311.2 C680.6,1315.7 682.1,1320.2 683.6,1324.8 C685.1,1329.3 686.7,1334.1 688.2,1338.3 C689.7,1342.6 691.2,1346.6 692.7,1350.4 C694.2,1354.2 695.7,1358.5 697.2,1361.0 C698.7,1363.5 701.0,1364.7 701.7,1365.5 L749.0,1365.5" fill="none" stroke="#e12396" stroke-width="2.2" stroke-linejoin="round"/>
<line x1="592.3" y1="1143.0" x2="592.3" y2="1365.5" stroke="#7d8588" stroke-width="1.8" stroke-dasharray="5,5"/>
<line x1="496.0" y1="1368.0" x2="749.0" y2="1368.0" stroke="#f07cc0" stroke-width="2" />
<rect x="496.0" y="1141.0" width="253.0" height="224.5" stroke="#1e1b1c" stroke-width="2.6" fill="none" />
<text x="740.0" y="1277.8" font-size="24" text-anchor="end" fill="#3c4448" stroke="#3c4448" stroke-width="0.43">14.2%</text>
<text x="740.0" y="1318.6" font-size="24" text-anchor="end" fill="#2f9e2f" stroke="#2f9e2f" stroke-width="0.43">9.1%</text>
<text x="740.0" y="1356.5" font-size="24" text-anchor="end" fill="#e0339a" stroke="#e0339a" stroke-width="0.43">97.8%</text>
<line x1="506.0" y1="1366.5" x2="506.0" y2="1374.5" stroke="#1e1b1c" stroke-width="1.8" />
<text x="506.0" y="1387.8" font-size="15" text-anchor="middle" fill="#1e1b1c">-10<tspan dy="-6" font-size="10">4</tspan></text>
<line x1="566.0" y1="1366.5" x2="566.0" y2="1374.5" stroke="#1e1b1c" stroke-width="1.8" />
<text x="566.0" y="1387.8" font-size="15" text-anchor="middle" fill="#1e1b1c">0</text>
<line x1="621.0" y1="1366.5" x2="621.0" y2="1374.5" stroke="#1e1b1c" stroke-width="1.8" />
<text x="621.0" y="1387.8" font-size="15" text-anchor="middle" fill="#1e1b1c">10<tspan dy="-6" font-size="10">4</tspan></text>
<line x1="677.0" y1="1366.5" x2="677.0" y2="1374.5" stroke="#1e1b1c" stroke-width="1.8" />
<text x="677.0" y="1387.8" font-size="15" text-anchor="middle" fill="#1e1b1c">10<tspan dy="-6" font-size="10">5</tspan></text>
<line x1="724.0" y1="1366.5" x2="724.0" y2="1374.5" stroke="#1e1b1c" stroke-width="1.8" />
<text x="724.0" y="1387.8" font-size="15" text-anchor="middle" fill="#1e1b1c">10<tspan dy="-6" font-size="10">6</tspan></text>
<line x1="637.9" y1="1366.5" x2="637.9" y2="1370.5" stroke="#1e1b1c" stroke-width="1.2" />
<line x1="647.7" y1="1366.5" x2="647.7" y2="1370.5" stroke="#1e1b1c" stroke-width="1.2" />
<line x1="654.7" y1="1366.5" x2="654.7" y2="1370.5" stroke="#1e1b1c" stroke-width="1.2" />
<line x1="660.1" y1="1366.5" x2="660.1" y2="1370.5" stroke="#1e1b1c" stroke-width="1.2" />
<line x1="664.6" y1="1366.5" x2="664.6" y2="1370.5" stroke="#1e1b1c" stroke-width="1.2" />
<line x1="668.3" y1="1366.5" x2="668.3" y2="1370.5" stroke="#1e1b1c" stroke-width="1.2" />
<line x1="671.6" y1="1366.5" x2="671.6" y2="1370.5" stroke="#1e1b1c" stroke-width="1.2" />
<line x1="674.4" y1="1366.5" x2="674.4" y2="1370.5" stroke="#1e1b1c" stroke-width="1.2" />
<line x1="691.1" y1="1366.5" x2="691.1" y2="1370.5" stroke="#1e1b1c" stroke-width="1.2" />
<line x1="699.4" y1="1366.5" x2="699.4" y2="1370.5" stroke="#1e1b1c" stroke-width="1.2" />
<line x1="705.3" y1="1366.5" x2="705.3" y2="1370.5" stroke="#1e1b1c" stroke-width="1.2" />
<line x1="709.9" y1="1366.5" x2="709.9" y2="1370.5" stroke="#1e1b1c" stroke-width="1.2" />
<line x1="713.6" y1="1366.5" x2="713.6" y2="1370.5" stroke="#1e1b1c" stroke-width="1.2" />
<line x1="716.7" y1="1366.5" x2="716.7" y2="1370.5" stroke="#1e1b1c" stroke-width="1.2" />
<line x1="719.4" y1="1366.5" x2="719.4" y2="1370.5" stroke="#1e1b1c" stroke-width="1.2" />
<line x1="721.8" y1="1366.5" x2="721.8" y2="1370.5" stroke="#1e1b1c" stroke-width="1.2" />
<line x1="559.0" y1="1366.5" x2="559.0" y2="1371.5" stroke="#1e1b1c" stroke-width="1.4" />
<line x1="562.0" y1="1366.5" x2="562.0" y2="1371.5" stroke="#1e1b1c" stroke-width="1.4" />
<line x1="564.0" y1="1366.5" x2="564.0" y2="1371.5" stroke="#1e1b1c" stroke-width="1.4" />
<line x1="566.0" y1="1366.5" x2="566.0" y2="1371.5" stroke="#1e1b1c" stroke-width="1.4" />
<line x1="568.0" y1="1366.5" x2="568.0" y2="1371.5" stroke="#1e1b1c" stroke-width="1.4" />
<line x1="570.0" y1="1366.5" x2="570.0" y2="1371.5" stroke="#1e1b1c" stroke-width="1.4" />
<line x1="573.0" y1="1366.5" x2="573.0" y2="1371.5" stroke="#1e1b1c" stroke-width="1.4" />
<text x="629.5" y="1431.8" font-size="28" text-anchor="middle" fill="#1e1b1c" stroke="#1e1b1c" stroke-width="0.50">Ki67 - eFluor506</text>
<path d="M775.0,1288.5 L831.4,1288.5 C832.4,1288.2 835.4,1288.2 837.4,1287.0 C839.4,1285.7 841.4,1283.7 843.4,1281.0 C845.4,1278.2 847.7,1274.7 849.5,1270.4 C851.2,1266.1 852.5,1263.4 854.0,1255.3 C855.5,1247.3 857.3,1229.1 858.5,1222.1 C859.8,1215.1 860.3,1215.7 861.5,1213.1 C862.8,1210.4 864.6,1206.0 866.1,1206.3 C867.6,1206.5 869.1,1211.9 870.6,1214.6 C872.1,1217.2 873.6,1218.6 875.1,1222.1 C876.6,1225.6 878.1,1230.7 879.6,1235.7 C881.2,1240.7 882.7,1247.0 884.2,1252.3 C885.7,1257.6 887.2,1263.4 888.7,1267.4 C890.2,1271.4 891.7,1274.2 893.2,1276.4 C894.7,1278.7 896.0,1279.6 897.8,1281.0 C899.5,1282.3 901.3,1283.7 903.8,1284.7 C906.3,1285.7 909.8,1286.6 912.8,1287.0 C915.9,1287.4 919.1,1287.1 921.9,1287.0 C924.7,1286.9 926.9,1286.2 929.4,1286.2 C932.0,1286.3 933.2,1287.2 937.0,1287.4 C940.8,1287.7 937.0,1287.6 952.1,1287.7 C967.2,1287.9 1015.0,1288.4 1027.5,1288.5 L1028.0,1288.5 Z" fill="#758282" fill-opacity="0.8" stroke="none"/>
<path d="M775.0,1288.5 L831.4,1288.5 C832.4,1288.2 835.4,1288.2 837.4,1287.0 C839.4,1285.7 841.4,1283.7 843.4,1281.0 C845.4,1278.2 847.7,1274.7 849.5,1270.4 C851.2,1266.1 852.5,1263.4 854.0,1255.3 C855.5,1247.3 857.3,1229.1 858.5,1222.1 C859.8,1215.1 860.3,1215.7 861.5,1213.1 C862.8,1210.4 864.6,1206.0 866.1,1206.3 C867.6,1206.5 869.1,1211.9 870.6,1214.6 C872.1,1217.2 873.6,1218.6 875.1,1222.1 C876.6,1225.6 878.1,1230.7 879.6,1235.7 C881.2,1240.7 882.7,1247.0 884.2,1252.3 C885.7,1257.6 887.2,1263.4 888.7,1267.4 C890.2,1271.4 891.7,1274.2 893.2,1276.4 C894.7,1278.7 896.0,1279.6 897.8,1281.0 C899.5,1282.3 901.3,1283.7 903.8,1284.7 C906.3,1285.7 909.8,1286.6 912.8,1287.0 C915.9,1287.4 919.1,1287.1 921.9,1287.0 C924.7,1286.9 926.9,1286.2 929.4,1286.2 C932.0,1286.3 933.2,1287.2 937.0,1287.4 C940.8,1287.7 937.0,1287.6 952.1,1287.7 C967.2,1287.9 1015.0,1288.4 1027.5,1288.5 L1028.0,1288.5" fill="none" stroke="#3d4446" stroke-width="2.2" stroke-linejoin="round"/>
<path d="M775.0,1328.0 L844.9,1328.0 C845.3,1326.5 846.4,1324.5 847.2,1319.2 C848.0,1314.0 848.6,1306.7 849.5,1296.6 C850.3,1286.6 851.5,1270.2 852.5,1258.9 C853.5,1247.6 854.4,1236.0 855.5,1228.7 C856.6,1221.4 858.0,1217.6 859.3,1215.1 C860.5,1212.6 861.7,1214.1 863.0,1213.6 C864.4,1213.1 866.2,1212.9 867.6,1212.1 C869.0,1211.4 870.3,1209.5 871.3,1209.1 C872.4,1208.7 872.7,1207.6 873.6,1209.8 C874.5,1212.1 875.6,1217.0 876.6,1222.7 C877.6,1228.3 878.6,1236.5 879.6,1243.8 C880.7,1251.1 881.7,1258.9 882.7,1266.4 C883.7,1274.0 884.7,1281.5 885.7,1289.1 C886.7,1296.6 887.7,1305.9 888.7,1311.7 C889.7,1317.5 890.5,1321.1 891.7,1323.8 C893.0,1326.5 895.5,1327.3 896.2,1328.0 L1028.0,1328.0 Z" fill="#3fbc37" fill-opacity="0.6" stroke="none"/>
<path d="M775.0,1328.0 L844.9,1328.0 C845.3,1326.5 846.4,1324.5 847.2,1319.2 C848.0,1314.0 848.6,1306.7 849.5,1296.6 C850.3,1286.6 851.5,1270.2 852.5,1258.9 C853.5,1247.6 854.4,1236.0 855.5,1228.7 C856.6,1221.4 858.0,1217.6 859.3,1215.1 C860.5,1212.6 861.7,1214.1 863.0,1213.6 C864.4,1213.1 866.2,1212.9 867.6,1212.1 C869.0,1211.4 870.3,1209.5 871.3,1209.1 C872.4,1208.7 872.7,1207.6 873.6,1209.8 C874.5,1212.1 875.6,1217.0 876.6,1222.7 C877.6,1228.3 878.6,1236.5 879.6,1243.8 C880.7,1251.1 881.7,1258.9 882.7,1266.4 C883.7,1274.0 884.7,1281.5 885.7,1289.1 C886.7,1296.6 887.7,1305.9 888.7,1311.7 C889.7,1317.5 890.5,1321.1 891.7,1323.8 C893.0,1326.5 895.5,1327.3 896.2,1328.0 L1028.0,1328.0" fill="none" stroke="#2ea02e" stroke-width="2.2" stroke-linejoin="round"/>
<path d="M775.0,1365.5 L858.5,1365.5 C859.5,1364.5 862.5,1362.0 864.6,1359.5 C866.6,1356.9 868.6,1353.7 870.6,1350.4 C872.6,1347.1 874.9,1343.6 876.6,1339.8 C878.4,1336.1 879.6,1332.3 881.2,1327.8 C882.7,1323.2 884.2,1317.7 885.7,1312.7 C887.2,1307.7 889.0,1301.9 890.2,1297.6 C891.5,1293.3 892.2,1289.8 893.2,1287.0 C894.2,1284.3 895.0,1282.5 896.2,1281.0 C897.5,1279.5 899.5,1279.5 900.8,1278.0 C902.0,1276.5 902.8,1273.7 903.8,1271.9 C904.8,1270.2 905.9,1268.7 906.8,1267.4 C907.7,1266.2 908.1,1263.6 909.1,1264.4 C910.1,1265.2 911.5,1270.7 912.8,1271.9 C914.2,1273.2 916.1,1271.2 917.4,1271.9 C918.6,1272.7 919.4,1273.5 920.4,1276.5 C921.4,1279.5 922.1,1285.3 923.4,1290.1 C924.7,1294.8 926.2,1299.4 927.9,1305.1 C929.7,1310.9 932.2,1319.7 934.0,1324.8 C935.7,1329.8 937.0,1331.5 938.5,1335.3 C940.0,1339.1 941.5,1343.6 943.0,1347.4 C944.5,1351.2 946.0,1354.9 947.6,1358.0 C949.1,1361.0 951.3,1364.2 952.1,1365.5 L1028.0,1365.5 Z" fill="#e425c3" fill-opacity="0.55" stroke="none"/>
<path d="M775.0,1365.5 L858.5,1365.5 C859.5,1364.5 862.5,1362.0 864.6,1359.5 C866.6,1356.9 868.6,1353.7 870.6,1350.4 C872.6,1347.1 874.9,1343.6 876.6,1339.8 C878.4,1336.1 879.6,1332.3 881.2,1327.8 C882.7,1323.2 884.2,1317.7 885.7,1312.7 C887.2,1307.7 889.0,1301.9 890.2,1297.6 C891.5,1293.3 892.2,1289.8 893.2,1287.0 C894.2,1284.3 895.0,1282.5 896.2,1281.0 C897.5,1279.5 899.5,1279.5 900.8,1278.0 C902.0,1276.5 902.8,1273.7 903.8,1271.9 C904.8,1270.2 905.9,1268.7 906.8,1267.4 C907.7,1266.2 908.1,1263.6 909.1,1264.4 C910.1,1265.2 911.5,1270.7 912.8,1271.9 C914.2,1273.2 916.1,1271.2 917.4,1271.9 C918.6,1272.7 919.4,1273.5 920.4,1276.5 C921.4,1279.5 922.1,1285.3 923.4,1290.1 C924.7,1294.8 926.2,1299.4 927.9,1305.1 C929.7,1310.9 932.2,1319.7 934.0,1324.8 C935.7,1329.8 937.0,1331.5 938.5,1335.3 C940.0,1339.1 941.5,1343.6 943.0,1347.4 C944.5,1351.2 946.0,1354.9 947.6,1358.0 C949.1,1361.0 951.3,1364.2 952.1,1365.5 L1028.0,1365.5" fill="none" stroke="#e12396" stroke-width="2.2" stroke-linejoin="round"/>
<line x1="896.7" y1="1143.0" x2="896.7" y2="1365.5" stroke="#7d8588" stroke-width="1.8" stroke-dasharray="5,5"/>
<line x1="775.0" y1="1368.0" x2="1028.0" y2="1368.0" stroke="#f07cc0" stroke-width="2" />
<rect x="775.0" y="1141.0" width="253.0" height="224.5" stroke="#1e1b1c" stroke-width="2.6" fill="none" />
<text x="1013.3" y="1277.8" font-size="24" text-anchor="end" fill="#3c4448" stroke="#3c4448" stroke-width="0.43">5.5%</text>
<text x="1005.3" y="1318.6" font-size="24" text-anchor="end" fill="#2f9e2f" stroke="#2f9e2f" stroke-width="0.43">0%</text>
<text x="1009.8" y="1356.5" font-size="24" text-anchor="end" fill="#e0339a" stroke="#e0339a" stroke-width="0.43">75.2%</text>
<line x1="845.5" y1="1366.5" x2="845.5" y2="1374.5" stroke="#1e1b1c" stroke-width="1.8" />
<text x="845.5" y="1387.8" font-size="15" text-anchor="middle" fill="#1e1b1c">0</text>
<line x1="939.5" y1="1366.5" x2="939.5" y2="1374.5" stroke="#1e1b1c" stroke-width="1.8" />
<text x="939.5" y="1387.8" font-size="15" text-anchor="middle" fill="#1e1b1c">10<tspan dy="-6" font-size="10">4</tspan></text>
<line x1="1002.0" y1="1366.5" x2="1002.0" y2="1374.5" stroke="#1e1b1c" stroke-width="1.8" />
<text x="1002.0" y="1387.8" font-size="15" text-anchor="middle" fill="#1e1b1c">10<tspan dy="-6" font-size="10">5</tspan></text>
<line x1="958.3" y1="1366.5" x2="958.3" y2="1370.5" stroke="#1e1b1c" stroke-width="1.2" />
<line x1="969.3" y1="1366.5" x2="969.3" y2="1370.5" stroke="#1e1b1c" stroke-width="1.2" />
<line x1="977.1" y1="1366.5" x2="977.1" y2="1370.5" stroke="#1e1b1c" stroke-width="1.2" />
<line x1="983.2" y1="1366.5" x2="983.2" y2="1370.5" stroke="#1e1b1c" stroke-width="1.2" />
<line x1="988.1" y1="1366.5" x2="988.1" y2="1370.5" stroke="#1e1b1c" stroke-width="1.2" />
<line x1="992.3" y1="1366.5" x2="992.3" y2="1370.5" stroke="#1e1b1c" stroke-width="1.2" />
<line x1="995.9" y1="1366.5" x2="995.9" y2="1370.5" stroke="#1e1b1c" stroke-width="1.2" />
<line x1="999.1" y1="1366.5" x2="999.1" y2="1370.5" stroke="#1e1b1c" stroke-width="1.2" />
<line x1="838.5" y1="1366.5" x2="838.5" y2="1371.5" stroke="#1e1b1c" stroke-width="1.4" />
<line x1="841.5" y1="1366.5" x2="841.5" y2="1371.5" stroke="#1e1b1c" stroke-width="1.4" />
<line x1="843.5" y1="1366.5" x2="843.5" y2="1371.5" stroke="#1e1b1c" stroke-width="1.4" />
<line x1="845.5" y1="1366.5" x2="845.5" y2="1371.5" stroke="#1e1b1c" stroke-width="1.4" />
<line x1="847.5" y1="1366.5" x2="847.5" y2="1371.5" stroke="#1e1b1c" stroke-width="1.4" />
<line x1="849.5" y1="1366.5" x2="849.5" y2="1371.5" stroke="#1e1b1c" stroke-width="1.4" />
<line x1="852.5" y1="1366.5" x2="852.5" y2="1371.5" stroke="#1e1b1c" stroke-width="1.4" />
<text x="905.8" y="1431.8" font-size="28" text-anchor="middle" fill="#1e1b1c" stroke="#1e1b1c" stroke-width="0.50">Bcl6 - PE</text>
<path d="M1053.8,1288.5 L1110.4,1288.5 C1111.4,1288.4 1114.6,1288.5 1116.4,1287.7 C1118.2,1287.0 1119.7,1286.9 1120.9,1284.0 C1122.2,1281.1 1122.9,1277.2 1123.9,1270.4 C1124.9,1263.6 1126.0,1254.0 1127.0,1243.2 C1128.0,1232.4 1128.8,1214.9 1130.0,1205.5 C1131.2,1196.1 1132.8,1187.1 1134.1,1186.6 C1135.3,1186.1 1136.4,1195.1 1137.5,1202.5 C1138.6,1209.9 1139.5,1221.9 1140.5,1231.2 C1141.5,1240.5 1142.3,1250.5 1143.6,1258.3 C1144.8,1266.1 1146.3,1273.4 1148.1,1277.9 C1149.8,1282.5 1151.6,1283.8 1154.1,1285.5 C1156.6,1287.1 1157.9,1287.4 1163.2,1287.7 C1168.5,1288.1 1179.5,1287.6 1185.8,1287.7 C1192.1,1287.9 1195.9,1288.5 1200.9,1288.5 C1205.9,1288.5 1212.2,1287.7 1216.0,1287.7 C1219.8,1287.7 1216.0,1288.4 1223.5,1288.5 C1238.6,1288.6 1292.7,1288.5 1306.5,1288.5 L1306.8,1288.5 Z" fill="#758282" fill-opacity="0.8" stroke="none"/>
<path d="M1053.8,1288.5 L1110.4,1288.5 C1111.4,1288.4 1114.6,1288.5 1116.4,1287.7 C1118.2,1287.0 1119.7,1286.9 1120.9,1284.0 C1122.2,1281.1 1122.9,1277.2 1123.9,1270.4 C1124.9,1263.6 1126.0,1254.0 1127.0,1243.2 C1128.0,1232.4 1128.8,1214.9 1130.0,1205.5 C1131.2,1196.1 1132.8,1187.1 1134.1,1186.6 C1135.3,1186.1 1136.4,1195.1 1137.5,1202.5 C1138.6,1209.9 1139.5,1221.9 1140.5,1231.2 C1141.5,1240.5 1142.3,1250.5 1143.6,1258.3 C1144.8,1266.1 1146.3,1273.4 1148.1,1277.9 C1149.8,1282.5 1151.6,1283.8 1154.1,1285.5 C1156.6,1287.1 1157.9,1287.4 1163.2,1287.7 C1168.5,1288.1 1179.5,1287.6 1185.8,1287.7 C1192.1,1287.9 1195.9,1288.5 1200.9,1288.5 C1205.9,1288.5 1212.2,1287.7 1216.0,1287.7 C1219.8,1287.7 1216.0,1288.4 1223.5,1288.5 C1238.6,1288.6 1292.7,1288.5 1306.5,1288.5 L1306.8,1288.5" fill="none" stroke="#3d4446" stroke-width="2.2" stroke-linejoin="round"/>
<path d="M1053.8,1328.0 L1114.9,1328.0 C1115.3,1327.0 1116.3,1326.2 1117.1,1322.3 C1118.0,1318.3 1119.0,1313.5 1120.2,1304.2 C1121.3,1294.9 1122.7,1279.0 1123.9,1266.4 C1125.2,1253.9 1126.5,1238.3 1127.7,1228.7 C1129.0,1219.2 1130.2,1211.1 1131.5,1209.1 C1132.7,1207.1 1134.0,1212.1 1135.3,1216.6 C1136.5,1221.2 1137.8,1228.0 1139.0,1236.3 C1140.3,1244.6 1141.5,1256.4 1142.8,1266.4 C1144.1,1276.5 1145.3,1287.8 1146.6,1296.6 C1147.8,1305.4 1149.1,1314.2 1150.3,1319.2 C1151.6,1324.3 1153.2,1325.3 1154.1,1326.8 C1155.0,1328.3 1155.4,1327.8 1155.6,1328.0 L1306.8,1328.0 Z" fill="#3fbc37" fill-opacity="0.6" stroke="none"/>
<path d="M1053.8,1328.0 L1114.9,1328.0 C1115.3,1327.0 1116.3,1326.2 1117.1,1322.3 C1118.0,1318.3 1119.0,1313.5 1120.2,1304.2 C1121.3,1294.9 1122.7,1279.0 1123.9,1266.4 C1125.2,1253.9 1126.5,1238.3 1127.7,1228.7 C1129.0,1219.2 1130.2,1211.1 1131.5,1209.1 C1132.7,1207.1 1134.0,1212.1 1135.3,1216.6 C1136.5,1221.2 1137.8,1228.0 1139.0,1236.3 C1140.3,1244.6 1141.5,1256.4 1142.8,1266.4 C1144.1,1276.5 1145.3,1287.8 1146.6,1296.6 C1147.8,1305.4 1149.1,1314.2 1150.3,1319.2 C1151.6,1324.3 1153.2,1325.3 1154.1,1326.8 C1155.0,1328.3 1155.4,1327.8 1155.6,1328.0 L1306.8,1328.0" fill="none" stroke="#2ea02e" stroke-width="2.2" stroke-linejoin="round"/>
<path d="M1053.8,1365.5 L1117.9,1365.5 C1118.4,1364.2 1119.9,1363.0 1120.9,1358.0 C1121.9,1352.9 1122.9,1344.1 1123.9,1335.3 C1124.9,1326.5 1126.0,1313.9 1127.0,1305.1 C1128.0,1296.3 1128.7,1289.8 1130.0,1282.5 C1131.2,1275.2 1132.7,1264.4 1134.5,1261.4 C1136.3,1258.4 1138.8,1260.9 1140.5,1264.4 C1142.3,1267.9 1143.8,1274.5 1145.1,1282.5 C1146.3,1290.6 1147.1,1304.6 1148.1,1312.7 C1149.1,1320.7 1149.8,1325.8 1151.1,1330.8 C1152.4,1335.8 1154.1,1339.1 1155.6,1342.9 C1157.1,1346.6 1158.6,1351.2 1160.2,1353.4 C1161.7,1355.7 1162.9,1355.4 1164.7,1356.4 C1166.4,1357.5 1168.5,1358.8 1170.7,1359.5 C1173.0,1360.1 1175.7,1360.0 1178.3,1360.2 C1180.8,1360.5 1183.3,1360.7 1185.8,1361.0 C1188.3,1361.2 1190.8,1361.9 1193.4,1361.7 C1195.9,1361.6 1198.4,1360.8 1200.9,1360.2 C1203.4,1359.6 1205.9,1358.8 1208.4,1358.0 C1211.0,1357.1 1213.5,1356.2 1216.0,1354.9 C1218.5,1353.7 1221.0,1352.2 1223.5,1350.4 C1226.0,1348.6 1229.1,1346.1 1231.1,1344.4 C1233.1,1342.6 1233.8,1340.1 1235.6,1339.8 C1237.4,1339.6 1239.9,1342.7 1241.6,1342.9 C1243.4,1343.0 1244.2,1340.6 1246.2,1340.6 C1248.2,1340.6 1251.2,1341.7 1253.7,1342.9 C1256.2,1344.0 1259.0,1345.6 1261.3,1347.4 C1263.5,1349.2 1265.5,1351.2 1267.3,1353.4 C1269.1,1355.7 1270.3,1359.0 1271.8,1361.0 C1273.3,1363.0 1275.6,1364.7 1276.3,1365.5 L1306.8,1365.5 Z" fill="#e425c3" fill-opacity="0.55" stroke="none"/>
<path d="M1053.8,1365.5 L1117.9,1365.5 C1118.4,1364.2 1119.9,1363.0 1120.9,1358.0 C1121.9,1352.9 1122.9,1344.1 1123.9,1335.3 C1124.9,1326.5 1126.0,1313.9 1127.0,1305.1 C1128.0,1296.3 1128.7,1289.8 1130.0,1282.5 C1131.2,1275.2 1132.7,1264.4 1134.5,1261.4 C1136.3,1258.4 1138.8,1260.9 1140.5,1264.4 C1142.3,1267.9 1143.8,1274.5 1145.1,1282.5 C1146.3,1290.6 1147.1,1304.6 1148.1,1312.7 C1149.1,1320.7 1149.8,1325.8 1151.1,1330.8 C1152.4,1335.8 1154.1,1339.1 1155.6,1342.9 C1157.1,1346.6 1158.6,1351.2 1160.2,1353.4 C1161.7,1355.7 1162.9,1355.4 1164.7,1356.4 C1166.4,1357.5 1168.5,1358.8 1170.7,1359.5 C1173.0,1360.1 1175.7,1360.0 1178.3,1360.2 C1180.8,1360.5 1183.3,1360.7 1185.8,1361.0 C1188.3,1361.2 1190.8,1361.9 1193.4,1361.7 C1195.9,1361.6 1198.4,1360.8 1200.9,1360.2 C1203.4,1359.6 1205.9,1358.8 1208.4,1358.0 C1211.0,1357.1 1213.5,1356.2 1216.0,1354.9 C1218.5,1353.7 1221.0,1352.2 1223.5,1350.4 C1226.0,1348.6 1229.1,1346.1 1231.1,1344.4 C1233.1,1342.6 1233.8,1340.1 1235.6,1339.8 C1237.4,1339.6 1239.9,1342.7 1241.6,1342.9 C1243.4,1343.0 1244.2,1340.6 1246.2,1340.6 C1248.2,1340.6 1251.2,1341.7 1253.7,1342.9 C1256.2,1344.0 1259.0,1345.6 1261.3,1347.4 C1263.5,1349.2 1265.5,1351.2 1267.3,1353.4 C1269.1,1355.7 1270.3,1359.0 1271.8,1361.0 C1273.3,1363.0 1275.6,1364.7 1276.3,1365.5 L1306.8,1365.5" fill="none" stroke="#e12396" stroke-width="2.2" stroke-linejoin="round"/>
<line x1="1161.7" y1="1143.0" x2="1161.7" y2="1365.5" stroke="#7d8588" stroke-width="1.8" stroke-dasharray="5,5"/>
<line x1="1053.8" y1="1368.0" x2="1306.8" y2="1368.0" stroke="#f07cc0" stroke-width="2" />
<rect x="1053.8" y="1141.0" width="253.0" height="224.5" stroke="#1e1b1c" stroke-width="2.6" fill="none" />
<text x="1293.5" y="1277.8" font-size="24" text-anchor="end" fill="#3c4448" stroke="#3c4448" stroke-width="0.43">3.3%</text>
<text x="1293.5" y="1318.6" font-size="24" text-anchor="end" fill="#2f9e2f" stroke="#2f9e2f" stroke-width="0.43">0%</text>
<text x="1293.5" y="1356.5" font-size="24" text-anchor="end" fill="#e0339a" stroke="#e0339a" stroke-width="0.43">41.4%</text>
<line x1="1123.0" y1="1366.5" x2="1123.0" y2="1374.5" stroke="#1e1b1c" stroke-width="1.8" />
<text x="1123.0" y="1387.8" font-size="15" text-anchor="middle" fill="#1e1b1c">0</text>
<line x1="1214.0" y1="1366.5" x2="1214.0" y2="1374.5" stroke="#1e1b1c" stroke-width="1.8" />
<text x="1214.0" y="1387.8" font-size="15" text-anchor="middle" fill="#1e1b1c">10<tspan dy="-6" font-size="10">4</tspan></text>
<line x1="1277.0" y1="1366.5" x2="1277.0" y2="1374.5" stroke="#1e1b1c" stroke-width="1.8" />
<text x="1277.0" y="1387.8" font-size="15" text-anchor="middle" fill="#1e1b1c">10<tspan dy="-6" font-size="10">5</tspan></text>
<line x1="1233.0" y1="1366.5" x2="1233.0" y2="1370.5" stroke="#1e1b1c" stroke-width="1.2" />
<line x1="1244.1" y1="1366.5" x2="1244.1" y2="1370.5" stroke="#1e1b1c" stroke-width="1.2" />
<line x1="1251.9" y1="1366.5" x2="1251.9" y2="1370.5" stroke="#1e1b1c" stroke-width="1.2" />
<line x1="1258.0" y1="1366.5" x2="1258.0" y2="1370.5" stroke="#1e1b1c" stroke-width="1.2" />
<line x1="1263.0" y1="1366.5" x2="1263.0" y2="1370.5" stroke="#1e1b1c" stroke-width="1.2" />
<line x1="1267.2" y1="1366.5" x2="1267.2" y2="1370.5" stroke="#1e1b1c" stroke-width="1.2" />
<line x1="1270.9" y1="1366.5" x2="1270.9" y2="1370.5" stroke="#1e1b1c" stroke-width="1.2" />
<line x1="1274.1" y1="1366.5" x2="1274.1" y2="1370.5" stroke="#1e1b1c" stroke-width="1.2" />
<line x1="1116.0" y1="1366.5" x2="1116.0" y2="1371.5" stroke="#1e1b1c" stroke-width="1.4" />
<line x1="1119.0" y1="1366.5" x2="1119.0" y2="1371.5" stroke="#1e1b1c" stroke-width="1.4" />
<line x1="1121.0" y1="1366.5" x2="1121.0" y2="1371.5" stroke="#1e1b1c" stroke-width="1.4" />
<line x1="1123.0" y1="1366.5" x2="1123.0" y2="1371.5" stroke="#1e1b1c" stroke-width="1.4" />
<line x1="1125.0" y1="1366.5" x2="1125.0" y2="1371.5" stroke="#1e1b1c" stroke-width="1.4" />
<line x1="1127.0" y1="1366.5" x2="1127.0" y2="1371.5" stroke="#1e1b1c" stroke-width="1.4" />
<line x1="1130.0" y1="1366.5" x2="1130.0" y2="1371.5" stroke="#1e1b1c" stroke-width="1.4" />
<text x="1181.9" y="1431.8" font-size="28" text-anchor="middle" fill="#1e1b1c" stroke="#1e1b1c" stroke-width="0.50">Eomes - APC</text>
<path d="M1333.0,1288.5 L1371.3,1288.5 C1372.5,1288.2 1376.3,1287.7 1378.8,1287.0 C1381.3,1286.2 1384.1,1285.5 1386.3,1284.0 C1388.6,1282.5 1390.6,1281.0 1392.4,1277.9 C1394.1,1274.9 1395.4,1271.6 1396.9,1265.9 C1398.4,1260.1 1400.0,1252.0 1401.4,1243.2 C1402.8,1234.4 1403.8,1221.7 1405.2,1213.1 C1406.6,1204.4 1408.3,1192.9 1409.7,1191.2 C1411.1,1189.4 1412.4,1197.6 1413.5,1202.5 C1414.6,1207.4 1415.5,1215.8 1416.5,1220.6 C1417.5,1225.4 1418.5,1227.9 1419.5,1231.2 C1420.5,1234.4 1421.6,1235.7 1422.6,1240.2 C1423.6,1244.7 1424.6,1253.3 1425.6,1258.3 C1426.6,1263.4 1427.3,1267.1 1428.6,1270.4 C1429.9,1273.7 1431.4,1275.9 1433.1,1277.9 C1434.9,1279.9 1436.9,1281.3 1439.2,1282.5 C1441.4,1283.6 1444.2,1284.1 1446.7,1284.7 C1449.2,1285.4 1451.2,1285.7 1454.2,1286.2 C1457.3,1286.7 1461.0,1287.6 1464.8,1287.7 C1468.6,1287.9 1471.8,1286.9 1476.9,1287.0 C1481.9,1287.1 1476.9,1287.9 1495.0,1288.2 C1513.1,1288.4 1570.4,1288.4 1585.5,1288.5 L1586.0,1288.5 Z" fill="#758282" fill-opacity="0.8" stroke="none"/>
<path d="M1333.0,1288.5 L1371.3,1288.5 C1372.5,1288.2 1376.3,1287.7 1378.8,1287.0 C1381.3,1286.2 1384.1,1285.5 1386.3,1284.0 C1388.6,1282.5 1390.6,1281.0 1392.4,1277.9 C1394.1,1274.9 1395.4,1271.6 1396.9,1265.9 C1398.4,1260.1 1400.0,1252.0 1401.4,1243.2 C1402.8,1234.4 1403.8,1221.7 1405.2,1213.1 C1406.6,1204.4 1408.3,1192.9 1409.7,1191.2 C1411.1,1189.4 1412.4,1197.6 1413.5,1202.5 C1414.6,1207.4 1415.5,1215.8 1416.5,1220.6 C1417.5,1225.4 1418.5,1227.9 1419.5,1231.2 C1420.5,1234.4 1421.6,1235.7 1422.6,1240.2 C1423.6,1244.7 1424.6,1253.3 1425.6,1258.3 C1426.6,1263.4 1427.3,1267.1 1428.6,1270.4 C1429.9,1273.7 1431.4,1275.9 1433.1,1277.9 C1434.9,1279.9 1436.9,1281.3 1439.2,1282.5 C1441.4,1283.6 1444.2,1284.1 1446.7,1284.7 C1449.2,1285.4 1451.2,1285.7 1454.2,1286.2 C1457.3,1286.7 1461.0,1287.6 1464.8,1287.7 C1468.6,1287.9 1471.8,1286.9 1476.9,1287.0 C1481.9,1287.1 1476.9,1287.9 1495.0,1288.2 C1513.1,1288.4 1570.4,1288.4 1585.5,1288.5 L1586.0,1288.5" fill="none" stroke="#3d4446" stroke-width="2.2" stroke-linejoin="round"/>
<path d="M1333.0,1328.0 L1392.4,1328.0 C1392.9,1327.0 1394.4,1325.0 1395.4,1322.3 C1396.4,1319.5 1397.4,1317.2 1398.4,1311.7 C1399.4,1306.2 1400.4,1299.1 1401.4,1289.1 C1402.4,1279.0 1403.4,1262.7 1404.4,1251.3 C1405.5,1240.0 1406.6,1228.2 1407.5,1221.2 C1408.3,1214.1 1409.0,1209.6 1409.7,1209.1 C1410.5,1208.6 1411.1,1212.4 1412.0,1218.1 C1412.9,1223.9 1414.0,1234.5 1415.0,1243.8 C1416.0,1253.1 1417.0,1267.9 1418.0,1274.0 C1419.0,1280.0 1420.0,1281.3 1421.0,1280.0 C1422.1,1278.8 1422.8,1269.7 1424.1,1266.4 C1425.3,1263.2 1427.1,1261.4 1428.6,1260.4 C1430.1,1259.4 1431.9,1259.4 1433.1,1260.4 C1434.4,1261.4 1434.9,1262.9 1436.1,1266.4 C1437.4,1270.0 1439.4,1276.5 1440.7,1281.5 C1441.9,1286.6 1442.7,1291.6 1443.7,1296.6 C1444.7,1301.6 1445.7,1307.2 1446.7,1311.7 C1447.7,1316.2 1448.7,1321.1 1449.7,1323.8 C1450.7,1326.5 1452.2,1327.3 1452.7,1328.0 L1586.0,1328.0 Z" fill="#3fbc37" fill-opacity="0.6" stroke="none"/>
<path d="M1333.0,1328.0 L1392.4,1328.0 C1392.9,1327.0 1394.4,1325.0 1395.4,1322.3 C1396.4,1319.5 1397.4,1317.2 1398.4,1311.7 C1399.4,1306.2 1400.4,1299.1 1401.4,1289.1 C1402.4,1279.0 1403.4,1262.7 1404.4,1251.3 C1405.5,1240.0 1406.6,1228.2 1407.5,1221.2 C1408.3,1214.1 1409.0,1209.6 1409.7,1209.1 C1410.5,1208.6 1411.1,1212.4 1412.0,1218.1 C1412.9,1223.9 1414.0,1234.5 1415.0,1243.8 C1416.0,1253.1 1417.0,1267.9 1418.0,1274.0 C1419.0,1280.0 1420.0,1281.3 1421.0,1280.0 C1422.1,1278.8 1422.8,1269.7 1424.1,1266.4 C1425.3,1263.2 1427.1,1261.4 1428.6,1260.4 C1430.1,1259.4 1431.9,1259.4 1433.1,1260.4 C1434.4,1261.4 1434.9,1262.9 1436.1,1266.4 C1437.4,1270.0 1439.4,1276.5 1440.7,1281.5 C1441.9,1286.6 1442.7,1291.6 1443.7,1296.6 C1444.7,1301.6 1445.7,1307.2 1446.7,1311.7 C1447.7,1316.2 1448.7,1321.1 1449.7,1323.8 C1450.7,1326.5 1452.2,1327.3 1452.7,1328.0 L1586.0,1328.0" fill="none" stroke="#2ea02e" stroke-width="2.2" stroke-linejoin="round"/>
<path d="M1333.0,1365.5 L1384.8,1365.5 C1385.6,1365.0 1387.9,1364.2 1389.4,1362.5 C1390.9,1360.7 1392.4,1358.2 1393.9,1354.9 C1395.4,1351.7 1396.9,1347.4 1398.4,1342.9 C1399.9,1338.3 1401.4,1332.8 1402.9,1327.8 C1404.4,1322.7 1406.0,1317.7 1407.5,1312.7 C1409.0,1307.7 1410.5,1302.6 1412.0,1297.6 C1413.5,1292.6 1415.3,1287.3 1416.5,1282.5 C1417.8,1277.7 1418.0,1272.9 1419.5,1268.9 C1421.0,1264.9 1423.8,1259.4 1425.6,1258.4 C1427.3,1257.4 1428.6,1262.4 1430.1,1262.9 C1431.6,1263.4 1433.4,1260.4 1434.6,1261.4 C1435.9,1262.4 1436.6,1266.7 1437.6,1268.9 C1438.7,1271.2 1439.7,1271.7 1440.7,1275.0 C1441.7,1278.2 1442.7,1284.8 1443.7,1288.5 C1444.7,1292.3 1445.7,1295.8 1446.7,1297.6 C1447.7,1299.4 1448.7,1298.1 1449.7,1299.1 C1450.7,1300.1 1451.2,1302.4 1452.7,1303.6 C1454.2,1304.9 1457.3,1306.4 1458.8,1306.6 C1460.3,1306.9 1460.5,1304.4 1461.8,1305.1 C1463.0,1305.9 1464.8,1309.9 1466.3,1311.2 C1467.8,1312.4 1469.3,1312.4 1470.8,1312.7 C1472.4,1312.9 1474.1,1312.4 1475.4,1312.7 C1476.6,1312.9 1477.4,1312.4 1478.4,1314.2 C1479.4,1316.0 1480.1,1320.0 1481.4,1323.2 C1482.7,1326.5 1484.4,1330.5 1485.9,1333.8 C1487.4,1337.1 1489.0,1339.6 1490.5,1342.9 C1492.0,1346.1 1493.2,1350.4 1495.0,1353.4 C1496.7,1356.4 1499.3,1359.0 1501.0,1361.0 C1502.8,1363.0 1504.8,1364.7 1505.6,1365.5 L1586.0,1365.5 Z" fill="#e425c3" fill-opacity="0.55" stroke="none"/>
<path d="M1333.0,1365.5 L1384.8,1365.5 C1385.6,1365.0 1387.9,1364.2 1389.4,1362.5 C1390.9,1360.7 1392.4,1358.2 1393.9,1354.9 C1395.4,1351.7 1396.9,1347.4 1398.4,1342.9 C1399.9,1338.3 1401.4,1332.8 1402.9,1327.8 C1404.4,1322.7 1406.0,1317.7 1407.5,1312.7 C1409.0,1307.7 1410.5,1302.6 1412.0,1297.6 C1413.5,1292.6 1415.3,1287.3 1416.5,1282.5 C1417.8,1277.7 1418.0,1272.9 1419.5,1268.9 C1421.0,1264.9 1423.8,1259.4 1425.6,1258.4 C1427.3,1257.4 1428.6,1262.4 1430.1,1262.9 C1431.6,1263.4 1433.4,1260.4 1434.6,1261.4 C1435.9,1262.4 1436.6,1266.7 1437.6,1268.9 C1438.7,1271.2 1439.7,1271.7 1440.7,1275.0 C1441.7,1278.2 1442.7,1284.8 1443.7,1288.5 C1444.7,1292.3 1445.7,1295.8 1446.7,1297.6 C1447.7,1299.4 1448.7,1298.1 1449.7,1299.1 C1450.7,1300.1 1451.2,1302.4 1452.7,1303.6 C1454.2,1304.9 1457.3,1306.4 1458.8,1306.6 C1460.3,1306.9 1460.5,1304.4 1461.8,1305.1 C1463.0,1305.9 1464.8,1309.9 1466.3,1311.2 C1467.8,1312.4 1469.3,1312.4 1470.8,1312.7 C1472.4,1312.9 1474.1,1312.4 1475.4,1312.7 C1476.6,1312.9 1477.4,1312.4 1478.4,1314.2 C1479.4,1316.0 1480.1,1320.0 1481.4,1323.2 C1482.7,1326.5 1484.4,1330.5 1485.9,1333.8 C1487.4,1337.1 1489.0,1339.6 1490.5,1342.9 C1492.0,1346.1 1493.2,1350.4 1495.0,1353.4 C1496.7,1356.4 1499.3,1359.0 1501.0,1361.0 C1502.8,1363.0 1504.8,1364.7 1505.6,1365.5 L1586.0,1365.5" fill="none" stroke="#e12396" stroke-width="2.2" stroke-linejoin="round"/>
<line x1="1449.0" y1="1143.0" x2="1449.0" y2="1365.5" stroke="#7d8588" stroke-width="1.8" stroke-dasharray="5,5"/>
<line x1="1333.0" y1="1368.0" x2="1586.0" y2="1368.0" stroke="#f07cc0" stroke-width="2" />
<rect x="1333.0" y="1141.0" width="253.0" height="224.5" stroke="#1e1b1c" stroke-width="2.6" fill="none" />
<text x="1575.7" y="1277.8" font-size="24" text-anchor="end" fill="#3c4448" stroke="#3c4448" stroke-width="0.43">4.1%</text>
<text x="1575.7" y="1318.6" font-size="24" text-anchor="end" fill="#2f9e2f" stroke="#2f9e2f" stroke-width="0.43">0%</text>
<text x="1575.7" y="1356.5" font-size="24" text-anchor="end" fill="#e0339a" stroke="#e0339a" stroke-width="0.43">37.5%</text>
<line x1="1412.0" y1="1366.5" x2="1412.0" y2="1374.5" stroke="#1e1b1c" stroke-width="1.8" />
<text x="1412.0" y="1387.8" font-size="15" text-anchor="middle" fill="#1e1b1c">0</text>
<line x1="1512.0" y1="1366.5" x2="1512.0" y2="1374.5" stroke="#1e1b1c" stroke-width="1.8" />
<text x="1512.0" y="1387.8" font-size="15" text-anchor="middle" fill="#1e1b1c">10<tspan dy="-6" font-size="10">4</tspan></text>
<line x1="1582.0" y1="1366.5" x2="1582.0" y2="1374.5" stroke="#1e1b1c" stroke-width="1.8" />
<text x="1582.0" y="1387.8" font-size="15" text-anchor="middle" fill="#1e1b1c">10<tspan dy="-6" font-size="10">5</tspan></text>
<line x1="1533.1" y1="1366.5" x2="1533.1" y2="1370.5" stroke="#1e1b1c" stroke-width="1.2" />
<line x1="1545.4" y1="1366.5" x2="1545.4" y2="1370.5" stroke="#1e1b1c" stroke-width="1.2" />
<line x1="1554.1" y1="1366.5" x2="1554.1" y2="1370.5" stroke="#1e1b1c" stroke-width="1.2" />
<line x1="1560.9" y1="1366.5" x2="1560.9" y2="1370.5" stroke="#1e1b1c" stroke-width="1.2" />
<line x1="1566.5" y1="1366.5" x2="1566.5" y2="1370.5" stroke="#1e1b1c" stroke-width="1.2" />
<line x1="1571.2" y1="1366.5" x2="1571.2" y2="1370.5" stroke="#1e1b1c" stroke-width="1.2" />
<line x1="1575.2" y1="1366.5" x2="1575.2" y2="1370.5" stroke="#1e1b1c" stroke-width="1.2" />
<line x1="1578.8" y1="1366.5" x2="1578.8" y2="1370.5" stroke="#1e1b1c" stroke-width="1.2" />
<line x1="1405.0" y1="1366.5" x2="1405.0" y2="1371.5" stroke="#1e1b1c" stroke-width="1.4" />
<line x1="1408.0" y1="1366.5" x2="1408.0" y2="1371.5" stroke="#1e1b1c" stroke-width="1.4" />
<line x1="1410.0" y1="1366.5" x2="1410.0" y2="1371.5" stroke="#1e1b1c" stroke-width="1.4" />
<line x1="1412.0" y1="1366.5" x2="1412.0" y2="1371.5" stroke="#1e1b1c" stroke-width="1.4" />
<line x1="1414.0" y1="1366.5" x2="1414.0" y2="1371.5" stroke="#1e1b1c" stroke-width="1.4" />
<line x1="1416.0" y1="1366.5" x2="1416.0" y2="1371.5" stroke="#1e1b1c" stroke-width="1.4" />
<line x1="1419.0" y1="1366.5" x2="1419.0" y2="1371.5" stroke="#1e1b1c" stroke-width="1.4" />
<text x="1457.7" y="1431.8" font-size="28" text-anchor="middle" fill="#1e1b1c" stroke="#1e1b1c" stroke-width="0.50">CXCR5 - BV711</text>
<path d="M1611.0,1288.5 L1655.3,1288.5 C1656.0,1288.2 1658.4,1288.5 1659.8,1287.0 C1661.2,1285.5 1662.3,1283.5 1663.6,1279.4 C1664.8,1275.4 1666.1,1270.1 1667.4,1262.8 C1668.6,1255.6 1669.9,1245.2 1671.1,1235.7 C1672.4,1226.1 1673.6,1213.1 1674.9,1205.5 C1676.2,1198.0 1677.9,1191.2 1679.1,1190.4 C1680.4,1189.7 1681.4,1195.9 1682.4,1201.0 C1683.5,1206.0 1684.5,1213.6 1685.5,1220.6 C1686.5,1227.6 1687.5,1236.9 1688.5,1243.2 C1689.5,1249.5 1690.2,1254.3 1691.5,1258.3 C1692.8,1262.3 1694.5,1264.9 1696.0,1267.4 C1697.5,1269.9 1699.0,1271.1 1700.6,1273.4 C1702.1,1275.7 1703.3,1278.9 1705.1,1281.0 C1706.8,1283.0 1708.6,1284.6 1711.1,1285.5 C1713.6,1286.4 1717.4,1286.2 1720.2,1286.2 C1722.9,1286.2 1723.9,1285.5 1727.7,1285.5 C1731.5,1285.5 1737.8,1285.9 1742.8,1286.2 C1747.8,1286.5 1752.9,1287.0 1757.9,1287.3 C1762.9,1287.5 1768.0,1287.7 1773.0,1287.7 C1778.0,1287.8 1783.0,1287.7 1788.1,1287.7 C1793.1,1287.8 1790.6,1288.1 1803.2,1288.2 C1815.7,1288.3 1853.5,1288.4 1863.5,1288.5 L1864.0,1288.5 Z" fill="#758282" fill-opacity="0.8" stroke="none"/>
<path d="M1611.0,1288.5 L1655.3,1288.5 C1656.0,1288.2 1658.4,1288.5 1659.8,1287.0 C1661.2,1285.5 1662.3,1283.5 1663.6,1279.4 C1664.8,1275.4 1666.1,1270.1 1667.4,1262.8 C1668.6,1255.6 1669.9,1245.2 1671.1,1235.7 C1672.4,1226.1 1673.6,1213.1 1674.9,1205.5 C1676.2,1198.0 1677.9,1191.2 1679.1,1190.4 C1680.4,1189.7 1681.4,1195.9 1682.4,1201.0 C1683.5,1206.0 1684.5,1213.6 1685.5,1220.6 C1686.5,1227.6 1687.5,1236.9 1688.5,1243.2 C1689.5,1249.5 1690.2,1254.3 1691.5,1258.3 C1692.8,1262.3 1694.5,1264.9 1696.0,1267.4 C1697.5,1269.9 1699.0,1271.1 1700.6,1273.4 C1702.1,1275.7 1703.3,1278.9 1705.1,1281.0 C1706.8,1283.0 1708.6,1284.6 1711.1,1285.5 C1713.6,1286.4 1717.4,1286.2 1720.2,1286.2 C1722.9,1286.2 1723.9,1285.5 1727.7,1285.5 C1731.5,1285.5 1737.8,1285.9 1742.8,1286.2 C1747.8,1286.5 1752.9,1287.0 1757.9,1287.3 C1762.9,1287.5 1768.0,1287.7 1773.0,1287.7 C1778.0,1287.8 1783.0,1287.7 1788.1,1287.7 C1793.1,1287.8 1790.6,1288.1 1803.2,1288.2 C1815.7,1288.3 1853.5,1288.4 1863.5,1288.5 L1864.0,1288.5" fill="none" stroke="#3d4446" stroke-width="2.2" stroke-linejoin="round"/>
<path d="M1611.0,1328.0 L1656.8,1328.0 C1657.3,1327.5 1658.8,1327.2 1659.8,1325.3 C1660.8,1323.3 1661.8,1321.0 1662.8,1316.2 C1663.8,1311.5 1664.6,1304.9 1665.9,1296.6 C1667.1,1288.3 1668.9,1275.2 1670.4,1266.4 C1671.9,1257.6 1673.4,1251.3 1674.9,1243.8 C1676.4,1236.3 1677.9,1226.9 1679.4,1221.2 C1680.9,1215.4 1682.7,1210.3 1684.0,1209.1 C1685.2,1207.8 1686.0,1209.1 1687.0,1213.6 C1688.0,1218.1 1689.0,1228.7 1690.0,1236.3 C1691.0,1243.8 1692.0,1251.3 1693.0,1258.9 C1694.0,1266.4 1695.0,1274.0 1696.0,1281.5 C1697.0,1289.1 1698.0,1297.9 1699.0,1304.2 C1700.1,1310.4 1701.1,1315.5 1702.1,1319.2 C1703.1,1323.0 1704.1,1325.3 1705.1,1326.8 C1706.1,1328.3 1707.6,1327.8 1708.1,1328.0 L1864.0,1328.0 Z" fill="#3fbc37" fill-opacity="0.6" stroke="none"/>
<path d="M1611.0,1328.0 L1656.8,1328.0 C1657.3,1327.5 1658.8,1327.2 1659.8,1325.3 C1660.8,1323.3 1661.8,1321.0 1662.8,1316.2 C1663.8,1311.5 1664.6,1304.9 1665.9,1296.6 C1667.1,1288.3 1668.9,1275.2 1670.4,1266.4 C1671.9,1257.6 1673.4,1251.3 1674.9,1243.8 C1676.4,1236.3 1677.9,1226.9 1679.4,1221.2 C1680.9,1215.4 1682.7,1210.3 1684.0,1209.1 C1685.2,1207.8 1686.0,1209.1 1687.0,1213.6 C1688.0,1218.1 1689.0,1228.7 1690.0,1236.3 C1691.0,1243.8 1692.0,1251.3 1693.0,1258.9 C1694.0,1266.4 1695.0,1274.0 1696.0,1281.5 C1697.0,1289.1 1698.0,1297.9 1699.0,1304.2 C1700.1,1310.4 1701.1,1315.5 1702.1,1319.2 C1703.1,1323.0 1704.1,1325.3 1705.1,1326.8 C1706.1,1328.3 1707.6,1327.8 1708.1,1328.0 L1864.0,1328.0" fill="none" stroke="#2ea02e" stroke-width="2.2" stroke-linejoin="round"/>
<path d="M1611.0,1365.5 L1739.8,1365.5 C1740.5,1365.0 1742.8,1364.2 1744.3,1362.5 C1745.8,1360.7 1747.3,1358.5 1748.8,1354.9 C1750.4,1351.4 1752.1,1345.9 1753.4,1341.4 C1754.6,1336.8 1755.4,1333.8 1756.4,1327.8 C1757.4,1321.7 1758.4,1312.7 1759.4,1305.1 C1760.4,1297.6 1761.2,1290.1 1762.4,1282.5 C1763.7,1275.0 1765.6,1265.3 1767.0,1259.9 C1768.3,1254.5 1769.7,1250.3 1770.7,1250.1 C1771.7,1249.8 1772.1,1257.0 1773.0,1258.4 C1773.9,1259.7 1775.0,1256.1 1776.0,1258.4 C1777.0,1260.6 1778.0,1267.2 1779.0,1271.9 C1780.0,1276.7 1781.0,1281.5 1782.0,1287.0 C1783.0,1292.6 1784.1,1299.6 1785.1,1305.1 C1786.1,1310.7 1787.1,1315.2 1788.1,1320.2 C1789.1,1325.3 1789.8,1330.3 1791.1,1335.3 C1792.4,1340.4 1794.1,1346.4 1795.6,1350.4 C1797.1,1354.4 1798.4,1356.9 1800.1,1359.5 C1801.9,1362.0 1805.2,1364.5 1806.2,1365.5 L1864.0,1365.5 Z" fill="#e425c3" fill-opacity="0.55" stroke="none"/>
<path d="M1611.0,1365.5 L1739.8,1365.5 C1740.5,1365.0 1742.8,1364.2 1744.3,1362.5 C1745.8,1360.7 1747.3,1358.5 1748.8,1354.9 C1750.4,1351.4 1752.1,1345.9 1753.4,1341.4 C1754.6,1336.8 1755.4,1333.8 1756.4,1327.8 C1757.4,1321.7 1758.4,1312.7 1759.4,1305.1 C1760.4,1297.6 1761.2,1290.1 1762.4,1282.5 C1763.7,1275.0 1765.6,1265.3 1767.0,1259.9 C1768.3,1254.5 1769.7,1250.3 1770.7,1250.1 C1771.7,1249.8 1772.1,1257.0 1773.0,1258.4 C1773.9,1259.7 1775.0,1256.1 1776.0,1258.4 C1777.0,1260.6 1778.0,1267.2 1779.0,1271.9 C1780.0,1276.7 1781.0,1281.5 1782.0,1287.0 C1783.0,1292.6 1784.1,1299.6 1785.1,1305.1 C1786.1,1310.7 1787.1,1315.2 1788.1,1320.2 C1789.1,1325.3 1789.8,1330.3 1791.1,1335.3 C1792.4,1340.4 1794.1,1346.4 1795.6,1350.4 C1797.1,1354.4 1798.4,1356.9 1800.1,1359.5 C1801.9,1362.0 1805.2,1364.5 1806.2,1365.5 L1864.0,1365.5" fill="none" stroke="#e12396" stroke-width="2.2" stroke-linejoin="round"/>
<line x1="1697.2" y1="1143.0" x2="1697.2" y2="1365.5" stroke="#7d8588" stroke-width="1.8" stroke-dasharray="5,5"/>
<line x1="1611.0" y1="1368.0" x2="1864.0" y2="1368.0" stroke="#f07cc0" stroke-width="2" />
<rect x="1611.0" y="1141.0" width="253.0" height="224.5" stroke="#1e1b1c" stroke-width="2.6" fill="none" />
<text x="1850.4" y="1277.8" font-size="24" text-anchor="end" fill="#3c4448" stroke="#3c4448" stroke-width="0.43">18.3%</text>
<text x="1850.4" y="1318.6" font-size="24" text-anchor="end" fill="#2f9e2f" stroke="#2f9e2f" stroke-width="0.43">0%</text>
<text x="1850.4" y="1356.5" font-size="24" text-anchor="end" fill="#e0339a" stroke="#e0339a" stroke-width="0.43">99.9%</text>
<line x1="1674.0" y1="1366.5" x2="1674.0" y2="1374.5" stroke="#1e1b1c" stroke-width="1.8" />
<text x="1674.0" y="1387.8" font-size="15" text-anchor="middle" fill="#1e1b1c">0</text>
<line x1="1755.0" y1="1366.5" x2="1755.0" y2="1374.5" stroke="#1e1b1c" stroke-width="1.8" />
<text x="1755.0" y="1387.8" font-size="15" text-anchor="middle" fill="#1e1b1c">10<tspan dy="-6" font-size="10">4</tspan></text>
<line x1="1815.0" y1="1366.5" x2="1815.0" y2="1374.5" stroke="#1e1b1c" stroke-width="1.8" />
<text x="1815.0" y="1387.8" font-size="15" text-anchor="middle" fill="#1e1b1c">10<tspan dy="-6" font-size="10">5</tspan></text>
<line x1="1862.0" y1="1366.5" x2="1862.0" y2="1374.5" stroke="#1e1b1c" stroke-width="1.8" />
<text x="1862.0" y="1387.8" font-size="15" text-anchor="middle" fill="#1e1b1c">10<tspan dy="-6" font-size="10">6</tspan></text>
<line x1="1773.1" y1="1366.5" x2="1773.1" y2="1370.5" stroke="#1e1b1c" stroke-width="1.2" />
<line x1="1783.6" y1="1366.5" x2="1783.6" y2="1370.5" stroke="#1e1b1c" stroke-width="1.2" />
<line x1="1791.1" y1="1366.5" x2="1791.1" y2="1370.5" stroke="#1e1b1c" stroke-width="1.2" />
<line x1="1796.9" y1="1366.5" x2="1796.9" y2="1370.5" stroke="#1e1b1c" stroke-width="1.2" />
<line x1="1801.7" y1="1366.5" x2="1801.7" y2="1370.5" stroke="#1e1b1c" stroke-width="1.2" />
<line x1="1805.7" y1="1366.5" x2="1805.7" y2="1370.5" stroke="#1e1b1c" stroke-width="1.2" />
<line x1="1809.2" y1="1366.5" x2="1809.2" y2="1370.5" stroke="#1e1b1c" stroke-width="1.2" />
<line x1="1812.3" y1="1366.5" x2="1812.3" y2="1370.5" stroke="#1e1b1c" stroke-width="1.2" />
<line x1="1829.1" y1="1366.5" x2="1829.1" y2="1370.5" stroke="#1e1b1c" stroke-width="1.2" />
<line x1="1837.4" y1="1366.5" x2="1837.4" y2="1370.5" stroke="#1e1b1c" stroke-width="1.2" />
<line x1="1843.3" y1="1366.5" x2="1843.3" y2="1370.5" stroke="#1e1b1c" stroke-width="1.2" />
<line x1="1847.9" y1="1366.5" x2="1847.9" y2="1370.5" stroke="#1e1b1c" stroke-width="1.2" />
<line x1="1851.6" y1="1366.5" x2="1851.6" y2="1370.5" stroke="#1e1b1c" stroke-width="1.2" />
<line x1="1854.7" y1="1366.5" x2="1854.7" y2="1370.5" stroke="#1e1b1c" stroke-width="1.2" />
<line x1="1857.4" y1="1366.5" x2="1857.4" y2="1370.5" stroke="#1e1b1c" stroke-width="1.2" />
<line x1="1859.8" y1="1366.5" x2="1859.8" y2="1370.5" stroke="#1e1b1c" stroke-width="1.2" />
<line x1="1667.0" y1="1366.5" x2="1667.0" y2="1371.5" stroke="#1e1b1c" stroke-width="1.4" />
<line x1="1670.0" y1="1366.5" x2="1670.0" y2="1371.5" stroke="#1e1b1c" stroke-width="1.4" />
<line x1="1672.0" y1="1366.5" x2="1672.0" y2="1371.5" stroke="#1e1b1c" stroke-width="1.4" />
<line x1="1674.0" y1="1366.5" x2="1674.0" y2="1371.5" stroke="#1e1b1c" stroke-width="1.4" />
<line x1="1676.0" y1="1366.5" x2="1676.0" y2="1371.5" stroke="#1e1b1c" stroke-width="1.4" />
<line x1="1678.0" y1="1366.5" x2="1678.0" y2="1371.5" stroke="#1e1b1c" stroke-width="1.4" />
<line x1="1681.0" y1="1366.5" x2="1681.0" y2="1371.5" stroke="#1e1b1c" stroke-width="1.4" />
<text x="1734.8" y="1431.8" font-size="28" text-anchor="middle" fill="#1e1b1c" stroke="#1e1b1c" stroke-width="0.50">PD1 - PE-Cy7</text>
<path d="M1893.0,1288.5 L1919.2,1288.5 C1921.7,1288.4 1929.7,1288.0 1934.3,1287.7 C1938.8,1287.5 1942.8,1287.5 1946.3,1287.0 C1949.9,1286.5 1952.6,1285.5 1955.4,1284.7 C1958.2,1284.0 1960.4,1282.7 1962.9,1282.5 C1965.5,1282.2 1967.7,1283.5 1970.5,1283.2 C1973.3,1283.0 1977.0,1282.1 1979.5,1281.0 C1982.1,1279.8 1983.8,1279.4 1985.6,1276.4 C1987.3,1273.4 1988.3,1266.4 1990.1,1262.8 C1991.9,1259.3 1994.1,1257.6 1996.1,1255.3 C1998.1,1253.0 2000.4,1251.3 2002.2,1249.3 C2003.9,1247.3 2005.4,1246.2 2006.7,1243.2 C2008.0,1240.2 2008.7,1235.4 2009.7,1231.2 C2010.7,1226.9 2011.5,1221.1 2012.7,1217.6 C2014.0,1214.1 2015.9,1211.3 2017.3,1210.0 C2018.6,1208.8 2020.0,1211.2 2021.0,1210.0 C2022.1,1208.9 2022.9,1203.2 2023.8,1203.2 C2024.6,1203.2 2025.4,1206.9 2026.3,1210.0 C2027.2,1213.2 2028.3,1217.8 2029.3,1222.1 C2030.3,1226.4 2031.3,1230.9 2032.4,1235.7 C2033.4,1240.5 2034.4,1246.2 2035.4,1250.8 C2036.4,1255.3 2037.1,1259.1 2038.4,1262.8 C2039.6,1266.6 2041.2,1270.1 2042.9,1273.4 C2044.7,1276.7 2046.9,1280.6 2049.0,1282.5 C2051.0,1284.4 2052.7,1284.5 2055.0,1284.7 C2057.3,1285.0 2060.0,1283.8 2062.5,1284.0 C2065.0,1284.1 2067.3,1284.9 2070.1,1285.5 C2072.8,1286.1 2076.6,1287.2 2079.1,1287.7 C2081.6,1288.2 2084.2,1288.4 2085.2,1288.5 L2146.0,1288.5 Z" fill="#758282" fill-opacity="0.8" stroke="none"/>
<path d="M1893.0,1288.5 L1919.2,1288.5 C1921.7,1288.4 1929.7,1288.0 1934.3,1287.7 C1938.8,1287.5 1942.8,1287.5 1946.3,1287.0 C1949.9,1286.5 1952.6,1285.5 1955.4,1284.7 C1958.2,1284.0 1960.4,1282.7 1962.9,1282.5 C1965.5,1282.2 1967.7,1283.5 1970.5,1283.2 C1973.3,1283.0 1977.0,1282.1 1979.5,1281.0 C1982.1,1279.8 1983.8,1279.4 1985.6,1276.4 C1987.3,1273.4 1988.3,1266.4 1990.1,1262.8 C1991.9,1259.3 1994.1,1257.6 1996.1,1255.3 C1998.1,1253.0 2000.4,1251.3 2002.2,1249.3 C2003.9,1247.3 2005.4,1246.2 2006.7,1243.2 C2008.0,1240.2 2008.7,1235.4 2009.7,1231.2 C2010.7,1226.9 2011.5,1221.1 2012.7,1217.6 C2014.0,1214.1 2015.9,1211.3 2017.3,1210.0 C2018.6,1208.8 2020.0,1211.2 2021.0,1210.0 C2022.1,1208.9 2022.9,1203.2 2023.8,1203.2 C2024.6,1203.2 2025.4,1206.9 2026.3,1210.0 C2027.2,1213.2 2028.3,1217.8 2029.3,1222.1 C2030.3,1226.4 2031.3,1230.9 2032.4,1235.7 C2033.4,1240.5 2034.4,1246.2 2035.4,1250.8 C2036.4,1255.3 2037.1,1259.1 2038.4,1262.8 C2039.6,1266.6 2041.2,1270.1 2042.9,1273.4 C2044.7,1276.7 2046.9,1280.6 2049.0,1282.5 C2051.0,1284.4 2052.7,1284.5 2055.0,1284.7 C2057.3,1285.0 2060.0,1283.8 2062.5,1284.0 C2065.0,1284.1 2067.3,1284.9 2070.1,1285.5 C2072.8,1286.1 2076.6,1287.2 2079.1,1287.7 C2081.6,1288.2 2084.2,1288.4 2085.2,1288.5 L2146.0,1288.5" fill="none" stroke="#3d4446" stroke-width="2.2" stroke-linejoin="round"/>
<path d="M1893.0,1328.0 L1993.1,1328.0 C1993.6,1327.8 1995.1,1328.3 1996.1,1326.8 C1997.1,1325.3 1998.1,1324.3 1999.2,1319.2 C2000.2,1314.2 2001.2,1305.4 2002.2,1296.6 C2003.2,1287.8 2003.9,1276.5 2005.2,1266.4 C2006.4,1256.4 2008.5,1244.6 2009.7,1236.3 C2011.0,1228.0 2011.5,1220.7 2012.7,1216.6 C2014.0,1212.6 2015.8,1212.6 2017.3,1212.1 C2018.8,1211.6 2020.3,1213.6 2021.8,1213.6 C2023.3,1213.6 2024.9,1212.7 2026.3,1212.1 C2027.7,1211.5 2029.0,1209.1 2030.1,1209.8 C2031.2,1210.6 2032.1,1212.2 2033.1,1216.6 C2034.1,1221.0 2035.0,1229.2 2036.1,1236.3 C2037.3,1243.3 2038.5,1251.3 2039.9,1258.9 C2041.3,1266.4 2043.2,1275.2 2044.4,1281.5 C2045.7,1287.8 2046.2,1292.1 2047.4,1296.6 C2048.7,1301.1 2050.5,1304.9 2052.0,1308.7 C2053.5,1312.5 2055.0,1316.0 2056.5,1319.2 C2058.0,1322.5 2060.3,1326.5 2061.0,1328.0 L2146.0,1328.0 Z" fill="#3fbc37" fill-opacity="0.6" stroke="none"/>
<path d="M1893.0,1328.0 L1993.1,1328.0 C1993.6,1327.8 1995.1,1328.3 1996.1,1326.8 C1997.1,1325.3 1998.1,1324.3 1999.2,1319.2 C2000.2,1314.2 2001.2,1305.4 2002.2,1296.6 C2003.2,1287.8 2003.9,1276.5 2005.2,1266.4 C2006.4,1256.4 2008.5,1244.6 2009.7,1236.3 C2011.0,1228.0 2011.5,1220.7 2012.7,1216.6 C2014.0,1212.6 2015.8,1212.6 2017.3,1212.1 C2018.8,1211.6 2020.3,1213.6 2021.8,1213.6 C2023.3,1213.6 2024.9,1212.7 2026.3,1212.1 C2027.7,1211.5 2029.0,1209.1 2030.1,1209.8 C2031.2,1210.6 2032.1,1212.2 2033.1,1216.6 C2034.1,1221.0 2035.0,1229.2 2036.1,1236.3 C2037.3,1243.3 2038.5,1251.3 2039.9,1258.9 C2041.3,1266.4 2043.2,1275.2 2044.4,1281.5 C2045.7,1287.8 2046.2,1292.1 2047.4,1296.6 C2048.7,1301.1 2050.5,1304.9 2052.0,1308.7 C2053.5,1312.5 2055.0,1316.0 2056.5,1319.2 C2058.0,1322.5 2060.3,1326.5 2061.0,1328.0 L2146.0,1328.0" fill="none" stroke="#2ea02e" stroke-width="2.2" stroke-linejoin="round"/>
<path d="M1893.0,1365.5 L1925.2,1365.5 C1926.5,1365.0 1930.5,1364.5 1932.8,1362.5 C1935.0,1360.5 1936.8,1356.9 1938.8,1353.4 C1940.8,1349.9 1943.1,1345.4 1944.8,1341.4 C1946.6,1337.3 1948.1,1334.1 1949.4,1329.3 C1950.6,1324.5 1951.4,1316.7 1952.4,1312.7 C1953.4,1308.7 1954.4,1307.7 1955.4,1305.1 C1956.4,1302.6 1957.2,1300.9 1958.4,1297.6 C1959.7,1294.3 1961.4,1289.3 1962.9,1285.5 C1964.4,1281.8 1966.1,1277.7 1967.5,1275.0 C1968.9,1272.2 1970.1,1271.7 1971.2,1268.9 C1972.4,1266.2 1973.4,1259.1 1974.3,1258.4 C1975.1,1257.6 1975.6,1262.4 1976.5,1264.4 C1977.4,1266.4 1978.5,1269.9 1979.5,1270.4 C1980.5,1270.9 1981.7,1268.2 1982.6,1267.4 C1983.4,1266.7 1984.1,1264.6 1984.8,1265.9 C1985.6,1267.2 1986.2,1270.9 1987.1,1275.0 C1988.0,1279.0 1989.1,1285.0 1990.1,1290.1 C1991.1,1295.1 1992.1,1300.1 1993.1,1305.1 C1994.1,1310.2 1994.9,1315.7 1996.1,1320.2 C1997.4,1324.8 1999.2,1328.3 2000.7,1332.3 C2002.2,1336.3 2003.4,1340.6 2005.2,1344.4 C2007.0,1348.1 2009.2,1351.9 2011.2,1354.9 C2013.2,1358.0 2015.0,1360.7 2017.3,1362.5 C2019.5,1364.2 2023.6,1365.0 2024.8,1365.5 L2146.0,1365.5 Z" fill="#e425c3" fill-opacity="0.55" stroke="none"/>
<path d="M1893.0,1365.5 L1925.2,1365.5 C1926.5,1365.0 1930.5,1364.5 1932.8,1362.5 C1935.0,1360.5 1936.8,1356.9 1938.8,1353.4 C1940.8,1349.9 1943.1,1345.4 1944.8,1341.4 C1946.6,1337.3 1948.1,1334.1 1949.4,1329.3 C1950.6,1324.5 1951.4,1316.7 1952.4,1312.7 C1953.4,1308.7 1954.4,1307.7 1955.4,1305.1 C1956.4,1302.6 1957.2,1300.9 1958.4,1297.6 C1959.7,1294.3 1961.4,1289.3 1962.9,1285.5 C1964.4,1281.8 1966.1,1277.7 1967.5,1275.0 C1968.9,1272.2 1970.1,1271.7 1971.2,1268.9 C1972.4,1266.2 1973.4,1259.1 1974.3,1258.4 C1975.1,1257.6 1975.6,1262.4 1976.5,1264.4 C1977.4,1266.4 1978.5,1269.9 1979.5,1270.4 C1980.5,1270.9 1981.7,1268.2 1982.6,1267.4 C1983.4,1266.7 1984.1,1264.6 1984.8,1265.9 C1985.6,1267.2 1986.2,1270.9 1987.1,1275.0 C1988.0,1279.0 1989.1,1285.0 1990.1,1290.1 C1991.1,1295.1 1992.1,1300.1 1993.1,1305.1 C1994.1,1310.2 1994.9,1315.7 1996.1,1320.2 C1997.4,1324.8 1999.2,1328.3 2000.7,1332.3 C2002.2,1336.3 2003.4,1340.6 2005.2,1344.4 C2007.0,1348.1 2009.2,1351.9 2011.2,1354.9 C2013.2,1358.0 2015.0,1360.7 2017.3,1362.5 C2019.5,1364.2 2023.6,1365.0 2024.8,1365.5 L2146.0,1365.5" fill="none" stroke="#e12396" stroke-width="2.2" stroke-linejoin="round"/>
<line x1="1996.4" y1="1143.0" x2="1996.4" y2="1365.5" stroke="#7d8588" stroke-width="1.8" stroke-dasharray="5,5"/>
<line x1="1893.0" y1="1368.0" x2="2146.0" y2="1368.0" stroke="#f07cc0" stroke-width="2" />
<rect x="1893.0" y="1141.0" width="253.0" height="224.5" stroke="#1e1b1c" stroke-width="2.6" fill="none" />
<text x="2136.6" y="1277.8" font-size="24" text-anchor="end" fill="#3c4448" stroke="#3c4448" stroke-width="0.43">87%</text>
<text x="2136.6" y="1318.6" font-size="24" text-anchor="end" fill="#2f9e2f" stroke="#2f9e2f" stroke-width="0.43">100%</text>
<text x="2136.6" y="1356.5" font-size="24" text-anchor="end" fill="#e0339a" stroke="#e0339a" stroke-width="0.43">16.4%</text>
<line x1="1963.0" y1="1366.5" x2="1963.0" y2="1374.5" stroke="#1e1b1c" stroke-width="1.8" />
<text x="1963.0" y="1387.8" font-size="15" text-anchor="middle" fill="#1e1b1c">0</text>
<line x1="2055.0" y1="1366.5" x2="2055.0" y2="1374.5" stroke="#1e1b1c" stroke-width="1.8" />
<text x="2055.0" y="1387.8" font-size="15" text-anchor="middle" fill="#1e1b1c">10<tspan dy="-6" font-size="10">4</tspan></text>
<line x1="2118.0" y1="1366.5" x2="2118.0" y2="1374.5" stroke="#1e1b1c" stroke-width="1.8" />
<text x="2118.0" y="1387.8" font-size="15" text-anchor="middle" fill="#1e1b1c">10<tspan dy="-6" font-size="10">5</tspan></text>
<line x1="2074.0" y1="1366.5" x2="2074.0" y2="1370.5" stroke="#1e1b1c" stroke-width="1.2" />
<line x1="2085.1" y1="1366.5" x2="2085.1" y2="1370.5" stroke="#1e1b1c" stroke-width="1.2" />
<line x1="2092.9" y1="1366.5" x2="2092.9" y2="1370.5" stroke="#1e1b1c" stroke-width="1.2" />
<line x1="2099.0" y1="1366.5" x2="2099.0" y2="1370.5" stroke="#1e1b1c" stroke-width="1.2" />
<line x1="2104.0" y1="1366.5" x2="2104.0" y2="1370.5" stroke="#1e1b1c" stroke-width="1.2" />
<line x1="2108.2" y1="1366.5" x2="2108.2" y2="1370.5" stroke="#1e1b1c" stroke-width="1.2" />
<line x1="2111.9" y1="1366.5" x2="2111.9" y2="1370.5" stroke="#1e1b1c" stroke-width="1.2" />
<line x1="2115.1" y1="1366.5" x2="2115.1" y2="1370.5" stroke="#1e1b1c" stroke-width="1.2" />
<line x1="1956.0" y1="1366.5" x2="1956.0" y2="1371.5" stroke="#1e1b1c" stroke-width="1.4" />
<line x1="1959.0" y1="1366.5" x2="1959.0" y2="1371.5" stroke="#1e1b1c" stroke-width="1.4" />
<line x1="1961.0" y1="1366.5" x2="1961.0" y2="1371.5" stroke="#1e1b1c" stroke-width="1.4" />
<line x1="1963.0" y1="1366.5" x2="1963.0" y2="1371.5" stroke="#1e1b1c" stroke-width="1.4" />
<line x1="1965.0" y1="1366.5" x2="1965.0" y2="1371.5" stroke="#1e1b1c" stroke-width="1.4" />
<line x1="1967.0" y1="1366.5" x2="1967.0" y2="1371.5" stroke="#1e1b1c" stroke-width="1.4" />
<line x1="1970.0" y1="1366.5" x2="1970.0" y2="1371.5" stroke="#1e1b1c" stroke-width="1.4" />
<text x="2018.5" y="1431.8" font-size="28" text-anchor="middle" fill="#1e1b1c" stroke="#1e1b1c" stroke-width="0.50">CCR7 - APC-eFluor780</text>
<line x1="82.7" y1="1504.0" x2="82.7" y2="1731.3" stroke="#1e1b1c" stroke-width="2.6" />
<text x="63.8" y="1617.8" font-size="28" text-anchor="middle" fill="#1e1b1c" stroke="#1e1b1c" stroke-width="0.50" transform="rotate(-90 63.8 1617.8)">Day 11 post-transfer</text>
<text x="203.4" y="1653.1" font-size="32" text-anchor="end" fill="#3c4448" stroke="#3c4448" stroke-width="0.58">WT</text>
<text x="203.4" y="1692.4" font-size="32" text-anchor="end" fill="#2f9e2f" stroke="#2f9e2f" stroke-width="0.58">ANTrg</text>
<text x="203.4" y="1730.3" font-size="32" text-anchor="end" fill="#e0339a" stroke="#e0339a" stroke-width="0.58">SASrg</text>
<path d="M219.0,1652.0 L278.4,1652.0 C278.9,1651.9 280.5,1653.5 281.4,1651.2 C282.3,1649.0 283.0,1648.1 283.7,1638.4 C284.3,1628.7 284.7,1608.2 285.2,1593.1 C285.7,1578.1 286.2,1557.9 286.7,1547.9 C287.2,1537.8 287.7,1532.8 288.2,1532.8 C288.7,1532.8 289.2,1537.8 289.7,1547.9 C290.2,1557.9 290.6,1578.1 291.2,1593.1 C291.8,1608.2 292.5,1628.9 293.5,1638.4 C294.5,1648.0 296.0,1648.2 297.2,1650.5 C298.5,1652.8 297.2,1651.7 301.0,1652.0 C312.5,1652.3 353.8,1652.1 365.9,1652.0 C373.4,1651.9 370.9,1651.5 373.4,1651.2 C376.0,1651.0 377.7,1650.9 381.0,1650.5 C384.3,1650.1 389.8,1648.7 393.1,1648.7 C396.3,1648.7 398.1,1649.9 400.6,1650.5 C403.1,1651.0 406.9,1651.7 408.1,1652.0 L469.5,1652.0 Z" fill="#758282" fill-opacity="0.8" stroke="none"/>
<path d="M219.0,1652.0 L278.4,1652.0 C278.9,1651.9 280.5,1653.5 281.4,1651.2 C282.3,1649.0 283.0,1648.1 283.7,1638.4 C284.3,1628.7 284.7,1608.2 285.2,1593.1 C285.7,1578.1 286.2,1557.9 286.7,1547.9 C287.2,1537.8 287.7,1532.8 288.2,1532.8 C288.7,1532.8 289.2,1537.8 289.7,1547.9 C290.2,1557.9 290.6,1578.1 291.2,1593.1 C291.8,1608.2 292.5,1628.9 293.5,1638.4 C294.5,1648.0 296.0,1648.2 297.2,1650.5 C298.5,1652.8 297.2,1651.7 301.0,1652.0 C312.5,1652.3 353.8,1652.1 365.9,1652.0 C373.4,1651.9 370.9,1651.5 373.4,1651.2 C376.0,1651.0 377.7,1650.9 381.0,1650.5 C384.3,1650.1 389.8,1648.7 393.1,1648.7 C396.3,1648.7 398.1,1649.9 400.6,1650.5 C403.1,1651.0 406.9,1651.7 408.1,1652.0 L469.5,1652.0" fill="none" stroke="#3d4446" stroke-width="2.2" stroke-linejoin="round"/>
<path d="M219.0,1690.6 L270.8,1690.6 C271.3,1689.8 272.8,1689.2 273.9,1685.6 C274.9,1682.0 275.9,1676.8 276.9,1669.0 C277.9,1661.2 278.9,1650.2 279.9,1638.8 C280.9,1627.5 281.9,1611.2 282.9,1601.1 C283.9,1591.1 285.0,1583.8 285.9,1578.5 C286.8,1573.2 287.4,1569.4 288.2,1569.4 C288.9,1569.4 289.6,1573.2 290.4,1578.5 C291.3,1583.8 292.5,1591.1 293.5,1601.1 C294.5,1611.2 295.5,1627.5 296.5,1638.8 C297.5,1650.2 298.5,1661.2 299.5,1669.0 C300.5,1676.8 301.6,1682.0 302.5,1685.6 C303.4,1689.2 304.4,1689.8 304.8,1690.6 L469.5,1690.6 Z" fill="#3fbc37" fill-opacity="0.6" stroke="none"/>
<path d="M219.0,1690.6 L270.8,1690.6 C271.3,1689.8 272.8,1689.2 273.9,1685.6 C274.9,1682.0 275.9,1676.8 276.9,1669.0 C277.9,1661.2 278.9,1650.2 279.9,1638.8 C280.9,1627.5 281.9,1611.2 282.9,1601.1 C283.9,1591.1 285.0,1583.8 285.9,1578.5 C286.8,1573.2 287.4,1569.4 288.2,1569.4 C288.9,1569.4 289.6,1573.2 290.4,1578.5 C291.3,1583.8 292.5,1591.1 293.5,1601.1 C294.5,1611.2 295.5,1627.5 296.5,1638.8 C297.5,1650.2 298.5,1661.2 299.5,1669.0 C300.5,1676.8 301.6,1682.0 302.5,1685.6 C303.4,1689.2 304.4,1689.8 304.8,1690.6 L469.5,1690.6" fill="none" stroke="#2ea02e" stroke-width="2.2" stroke-linejoin="round"/>
<path d="M219.0,1727.8 L276.9,1727.8 C277.2,1726.8 278.3,1726.5 279.1,1722.1 C280.0,1717.6 281.3,1709.5 282.1,1700.9 C283.0,1692.4 283.6,1680.8 284.4,1670.8 C285.2,1660.7 286.3,1647.1 287.1,1640.6 C287.9,1634.0 288.6,1631.5 289.2,1631.5 C289.9,1631.5 290.5,1634.0 291.2,1640.6 C291.9,1647.1 292.7,1660.7 293.5,1670.8 C294.2,1680.8 294.9,1692.9 295.7,1700.9 C296.6,1709.0 297.6,1714.6 298.7,1719.0 C299.9,1723.5 301.9,1726.3 302.5,1727.8 L469.5,1727.8 Z" fill="#e425c3" fill-opacity="0.55" stroke="none"/>
<path d="M219.0,1727.8 L276.9,1727.8 C277.2,1726.8 278.3,1726.5 279.1,1722.1 C280.0,1717.6 281.3,1709.5 282.1,1700.9 C283.0,1692.4 283.6,1680.8 284.4,1670.8 C285.2,1660.7 286.3,1647.1 287.1,1640.6 C287.9,1634.0 288.6,1631.5 289.2,1631.5 C289.9,1631.5 290.5,1634.0 291.2,1640.6 C291.9,1647.1 292.7,1660.7 293.5,1670.8 C294.2,1680.8 294.9,1692.9 295.7,1700.9 C296.6,1709.0 297.6,1714.6 298.7,1719.0 C299.9,1723.5 301.9,1726.3 302.5,1727.8 L469.5,1727.8" fill="none" stroke="#e12396" stroke-width="2.2" stroke-linejoin="round"/>
<line x1="322.4" y1="1508.3" x2="322.4" y2="1727.8" stroke="#7d8588" stroke-width="1.8" stroke-dasharray="5,5"/>
<line x1="219.0" y1="1730.3" x2="469.5" y2="1730.3" stroke="#f07cc0" stroke-width="2" />
<rect x="219.0" y="1506.3" width="250.5" height="221.5" stroke="#1e1b1c" stroke-width="2.6" fill="none" />
<text x="458.6" y="1643.3" font-size="24" text-anchor="end" fill="#3c4448" stroke="#3c4448" stroke-width="0.43">7.7%</text>
<text x="458.6" y="1679.5" font-size="24" text-anchor="end" fill="#2f9e2f" stroke="#2f9e2f" stroke-width="0.43">0%</text>
<text x="458.6" y="1716.5" font-size="24" text-anchor="end" fill="#e0339a" stroke="#e0339a" stroke-width="0.43">0%</text>
<line x1="237.0" y1="1728.8" x2="237.0" y2="1736.8" stroke="#1e1b1c" stroke-width="1.8" />
<text x="237.0" y="1754.0" font-size="15" text-anchor="middle" fill="#1e1b1c">-10<tspan dy="-6" font-size="10">4</tspan></text>
<line x1="290.0" y1="1728.8" x2="290.0" y2="1736.8" stroke="#1e1b1c" stroke-width="1.8" />
<text x="290.0" y="1754.0" font-size="15" text-anchor="middle" fill="#1e1b1c">0</text>
<line x1="347.0" y1="1728.8" x2="347.0" y2="1736.8" stroke="#1e1b1c" stroke-width="1.8" />
<text x="347.0" y="1754.0" font-size="15" text-anchor="middle" fill="#1e1b1c">10<tspan dy="-6" font-size="10">4</tspan></text>
<line x1="399.0" y1="1728.8" x2="399.0" y2="1736.8" stroke="#1e1b1c" stroke-width="1.8" />
<text x="399.0" y="1754.0" font-size="15" text-anchor="middle" fill="#1e1b1c">10<tspan dy="-6" font-size="10">5</tspan></text>
<line x1="446.0" y1="1728.8" x2="446.0" y2="1736.8" stroke="#1e1b1c" stroke-width="1.8" />
<text x="446.0" y="1754.0" font-size="15" text-anchor="middle" fill="#1e1b1c">10<tspan dy="-6" font-size="10">6</tspan></text>
<line x1="362.7" y1="1728.8" x2="362.7" y2="1732.8" stroke="#1e1b1c" stroke-width="1.2" />
<line x1="371.8" y1="1728.8" x2="371.8" y2="1732.8" stroke="#1e1b1c" stroke-width="1.2" />
<line x1="378.3" y1="1728.8" x2="378.3" y2="1732.8" stroke="#1e1b1c" stroke-width="1.2" />
<line x1="383.3" y1="1728.8" x2="383.3" y2="1732.8" stroke="#1e1b1c" stroke-width="1.2" />
<line x1="387.5" y1="1728.8" x2="387.5" y2="1732.8" stroke="#1e1b1c" stroke-width="1.2" />
<line x1="390.9" y1="1728.8" x2="390.9" y2="1732.8" stroke="#1e1b1c" stroke-width="1.2" />
<line x1="394.0" y1="1728.8" x2="394.0" y2="1732.8" stroke="#1e1b1c" stroke-width="1.2" />
<line x1="396.6" y1="1728.8" x2="396.6" y2="1732.8" stroke="#1e1b1c" stroke-width="1.2" />
<line x1="413.1" y1="1728.8" x2="413.1" y2="1732.8" stroke="#1e1b1c" stroke-width="1.2" />
<line x1="421.4" y1="1728.8" x2="421.4" y2="1732.8" stroke="#1e1b1c" stroke-width="1.2" />
<line x1="427.3" y1="1728.8" x2="427.3" y2="1732.8" stroke="#1e1b1c" stroke-width="1.2" />
<line x1="431.9" y1="1728.8" x2="431.9" y2="1732.8" stroke="#1e1b1c" stroke-width="1.2" />
<line x1="435.6" y1="1728.8" x2="435.6" y2="1732.8" stroke="#1e1b1c" stroke-width="1.2" />
<line x1="438.7" y1="1728.8" x2="438.7" y2="1732.8" stroke="#1e1b1c" stroke-width="1.2" />
<line x1="441.4" y1="1728.8" x2="441.4" y2="1732.8" stroke="#1e1b1c" stroke-width="1.2" />
<line x1="443.8" y1="1728.8" x2="443.8" y2="1732.8" stroke="#1e1b1c" stroke-width="1.2" />
<line x1="283.0" y1="1728.8" x2="283.0" y2="1733.8" stroke="#1e1b1c" stroke-width="1.4" />
<line x1="286.0" y1="1728.8" x2="286.0" y2="1733.8" stroke="#1e1b1c" stroke-width="1.4" />
<line x1="288.0" y1="1728.8" x2="288.0" y2="1733.8" stroke="#1e1b1c" stroke-width="1.4" />
<line x1="290.0" y1="1728.8" x2="290.0" y2="1733.8" stroke="#1e1b1c" stroke-width="1.4" />
<line x1="292.0" y1="1728.8" x2="292.0" y2="1733.8" stroke="#1e1b1c" stroke-width="1.4" />
<line x1="294.0" y1="1728.8" x2="294.0" y2="1733.8" stroke="#1e1b1c" stroke-width="1.4" />
<line x1="297.0" y1="1728.8" x2="297.0" y2="1733.8" stroke="#1e1b1c" stroke-width="1.4" />
<text x="344.6" y="1795.4" font-size="28" text-anchor="middle" fill="#1e1b1c" stroke="#1e1b1c" stroke-width="0.50">Foxp3 - PE-eFluor610</text>
<path d="M498.5,1652.0 L550.8,1652.0 C551.6,1651.7 553.9,1652.3 555.4,1650.5 C556.9,1648.7 558.4,1646.0 559.9,1641.4 C561.4,1636.9 562.9,1631.4 564.4,1623.3 C565.9,1615.3 567.4,1603.2 568.9,1593.1 C570.4,1583.1 572.0,1572.0 573.5,1563.0 C575.0,1553.9 576.5,1543.7 578.0,1538.8 C579.5,1533.9 581.0,1533.3 582.2,1533.5 C583.5,1533.8 584.5,1536.7 585.5,1540.3 C586.6,1544.0 587.6,1549.6 588.6,1555.4 C589.6,1561.2 590.6,1567.5 591.6,1575.0 C592.6,1582.6 593.3,1591.4 594.6,1600.7 C595.9,1610.0 597.6,1623.8 599.1,1630.9 C600.6,1637.9 601.9,1640.3 603.6,1642.9 C605.4,1645.6 607.7,1645.9 609.7,1646.7 C611.7,1647.5 612.2,1647.6 615.7,1647.9 C619.2,1648.3 625.8,1648.4 630.8,1648.7 C635.8,1649.0 640.9,1649.4 645.9,1649.7 C650.9,1650.0 656.0,1650.2 661.0,1650.5 C666.0,1650.7 671.0,1651.2 676.1,1651.2 C681.1,1651.3 686.1,1650.7 691.2,1650.8 C696.2,1650.9 696.7,1651.5 706.3,1651.7 C715.8,1651.9 741.5,1651.9 748.5,1652.0 L749.0,1652.0 Z" fill="#758282" fill-opacity="0.8" stroke="none"/>
<path d="M498.5,1652.0 L550.8,1652.0 C551.6,1651.7 553.9,1652.3 555.4,1650.5 C556.9,1648.7 558.4,1646.0 559.9,1641.4 C561.4,1636.9 562.9,1631.4 564.4,1623.3 C565.9,1615.3 567.4,1603.2 568.9,1593.1 C570.4,1583.1 572.0,1572.0 573.5,1563.0 C575.0,1553.9 576.5,1543.7 578.0,1538.8 C579.5,1533.9 581.0,1533.3 582.2,1533.5 C583.5,1533.8 584.5,1536.7 585.5,1540.3 C586.6,1544.0 587.6,1549.6 588.6,1555.4 C589.6,1561.2 590.6,1567.5 591.6,1575.0 C592.6,1582.6 593.3,1591.4 594.6,1600.7 C595.9,1610.0 597.6,1623.8 599.1,1630.9 C600.6,1637.9 601.9,1640.3 603.6,1642.9 C605.4,1645.6 607.7,1645.9 609.7,1646.7 C611.7,1647.5 612.2,1647.6 615.7,1647.9 C619.2,1648.3 625.8,1648.4 630.8,1648.7 C635.8,1649.0 640.9,1649.4 645.9,1649.7 C650.9,1650.0 656.0,1650.2 661.0,1650.5 C666.0,1650.7 671.0,1651.2 676.1,1651.2 C681.1,1651.3 686.1,1650.7 691.2,1650.8 C696.2,1650.9 696.7,1651.5 706.3,1651.7 C715.8,1651.9 741.5,1651.9 748.5,1652.0 L749.0,1652.0" fill="none" stroke="#3d4446" stroke-width="2.2" stroke-linejoin="round"/>
<path d="M498.5,1690.6 L538.8,1690.6 C539.3,1689.5 540.8,1687.7 541.8,1684.1 C542.8,1680.5 543.5,1674.6 544.8,1669.0 C546.1,1663.5 547.9,1655.9 549.3,1650.9 C550.7,1645.9 552.0,1639.6 553.1,1638.8 C554.2,1638.1 555.0,1641.9 556.1,1646.4 C557.2,1650.9 558.6,1660.7 559.9,1666.0 C561.1,1671.3 562.7,1677.6 563.7,1678.1 C564.7,1678.6 565.0,1675.6 565.9,1669.0 C566.8,1662.5 567.9,1650.2 568.9,1638.8 C569.9,1627.5 571.0,1610.7 572.0,1601.1 C573.0,1591.6 574.1,1585.8 575.0,1581.5 C575.9,1577.2 576.5,1575.5 577.2,1575.5 C578.0,1575.5 578.6,1577.2 579.5,1581.5 C580.4,1585.8 581.5,1592.8 582.5,1601.1 C583.5,1609.4 584.5,1622.5 585.5,1631.3 C586.5,1640.1 587.6,1647.6 588.6,1653.9 C589.6,1660.2 590.6,1664.0 591.6,1669.0 C592.6,1674.1 593.6,1680.5 594.6,1684.1 C595.6,1687.7 597.1,1689.5 597.6,1690.6 L749.0,1690.6 Z" fill="#3fbc37" fill-opacity="0.6" stroke="none"/>
<path d="M498.5,1690.6 L538.8,1690.6 C539.3,1689.5 540.8,1687.7 541.8,1684.1 C542.8,1680.5 543.5,1674.6 544.8,1669.0 C546.1,1663.5 547.9,1655.9 549.3,1650.9 C550.7,1645.9 552.0,1639.6 553.1,1638.8 C554.2,1638.1 555.0,1641.9 556.1,1646.4 C557.2,1650.9 558.6,1660.7 559.9,1666.0 C561.1,1671.3 562.7,1677.6 563.7,1678.1 C564.7,1678.6 565.0,1675.6 565.9,1669.0 C566.8,1662.5 567.9,1650.2 568.9,1638.8 C569.9,1627.5 571.0,1610.7 572.0,1601.1 C573.0,1591.6 574.1,1585.8 575.0,1581.5 C575.9,1577.2 576.5,1575.5 577.2,1575.5 C578.0,1575.5 578.6,1577.2 579.5,1581.5 C580.4,1585.8 581.5,1592.8 582.5,1601.1 C583.5,1609.4 584.5,1622.5 585.5,1631.3 C586.5,1640.1 587.6,1647.6 588.6,1653.9 C589.6,1660.2 590.6,1664.0 591.6,1669.0 C592.6,1674.1 593.6,1680.5 594.6,1684.1 C595.6,1687.7 597.1,1689.5 597.6,1690.6 L749.0,1690.6" fill="none" stroke="#2ea02e" stroke-width="2.2" stroke-linejoin="round"/>
<path d="M498.5,1727.8 L553.9,1727.8 C554.6,1727.3 556.9,1727.0 558.4,1725.1 C559.9,1723.1 561.4,1720.1 562.9,1716.0 C564.4,1712.0 565.9,1707.2 567.4,1700.9 C568.9,1694.7 570.4,1687.1 572.0,1678.3 C573.5,1669.5 575.1,1656.9 576.5,1648.1 C577.9,1639.3 579.2,1630.5 580.3,1625.5 C581.3,1620.5 582.1,1617.9 583.0,1617.9 C583.9,1617.9 584.6,1620.5 585.5,1625.5 C586.5,1630.5 587.4,1639.3 588.6,1648.1 C589.7,1656.9 591.1,1669.5 592.3,1678.3 C593.6,1687.1 594.7,1694.1 596.1,1700.9 C597.5,1707.7 599.1,1715.0 600.6,1719.0 C602.1,1723.1 603.1,1724.0 605.2,1725.1 C607.2,1726.2 610.7,1725.4 612.7,1725.8 C614.7,1726.3 616.5,1727.5 617.2,1727.8 L749.0,1727.8 Z" fill="#e425c3" fill-opacity="0.55" stroke="none"/>
<path d="M498.5,1727.8 L553.9,1727.8 C554.6,1727.3 556.9,1727.0 558.4,1725.1 C559.9,1723.1 561.4,1720.1 562.9,1716.0 C564.4,1712.0 565.9,1707.2 567.4,1700.9 C568.9,1694.7 570.4,1687.1 572.0,1678.3 C573.5,1669.5 575.1,1656.9 576.5,1648.1 C577.9,1639.3 579.2,1630.5 580.3,1625.5 C581.3,1620.5 582.1,1617.9 583.0,1617.9 C583.9,1617.9 584.6,1620.5 585.5,1625.5 C586.5,1630.5 587.4,1639.3 588.6,1648.1 C589.7,1656.9 591.1,1669.5 592.3,1678.3 C593.6,1687.1 594.7,1694.1 596.1,1700.9 C597.5,1707.7 599.1,1715.0 600.6,1719.0 C602.1,1723.1 603.1,1724.0 605.2,1725.1 C607.2,1726.2 610.7,1725.4 612.7,1725.8 C614.7,1726.3 616.5,1727.5 617.2,1727.8 L749.0,1727.8" fill="none" stroke="#e12396" stroke-width="2.2" stroke-linejoin="round"/>
<line x1="619.0" y1="1508.3" x2="619.0" y2="1727.8" stroke="#7d8588" stroke-width="1.8" stroke-dasharray="5,5"/>
<line x1="498.5" y1="1730.3" x2="749.0" y2="1730.3" stroke="#f07cc0" stroke-width="2" />
<rect x="498.5" y="1506.3" width="250.5" height="221.5" stroke="#1e1b1c" stroke-width="2.6" fill="none" />
<text x="740.0" y="1643.3" font-size="24" text-anchor="end" fill="#3c4448" stroke="#3c4448" stroke-width="0.43">5.6%</text>
<text x="740.0" y="1679.5" font-size="24" text-anchor="end" fill="#2f9e2f" stroke="#2f9e2f" stroke-width="0.43">0%</text>
<text x="740.0" y="1716.5" font-size="24" text-anchor="end" fill="#e0339a" stroke="#e0339a" stroke-width="0.43">2.4%</text>
<line x1="559.0" y1="1728.8" x2="559.0" y2="1736.8" stroke="#1e1b1c" stroke-width="1.8" />
<text x="559.0" y="1754.0" font-size="15" text-anchor="middle" fill="#1e1b1c">0</text>
<line x1="627.0" y1="1728.8" x2="627.0" y2="1736.8" stroke="#1e1b1c" stroke-width="1.8" />
<text x="627.0" y="1754.0" font-size="15" text-anchor="middle" fill="#1e1b1c">10<tspan dy="-6" font-size="10">4</tspan></text>
<line x1="679.5" y1="1728.8" x2="679.5" y2="1736.8" stroke="#1e1b1c" stroke-width="1.8" />
<text x="679.5" y="1754.0" font-size="15" text-anchor="middle" fill="#1e1b1c">10<tspan dy="-6" font-size="10">5</tspan></text>
<line x1="726.0" y1="1728.8" x2="726.0" y2="1736.8" stroke="#1e1b1c" stroke-width="1.8" />
<text x="726.0" y="1754.0" font-size="15" text-anchor="middle" fill="#1e1b1c">10<tspan dy="-6" font-size="10">6</tspan></text>
<line x1="642.8" y1="1728.8" x2="642.8" y2="1732.8" stroke="#1e1b1c" stroke-width="1.2" />
<line x1="652.0" y1="1728.8" x2="652.0" y2="1732.8" stroke="#1e1b1c" stroke-width="1.2" />
<line x1="658.6" y1="1728.8" x2="658.6" y2="1732.8" stroke="#1e1b1c" stroke-width="1.2" />
<line x1="663.7" y1="1728.8" x2="663.7" y2="1732.8" stroke="#1e1b1c" stroke-width="1.2" />
<line x1="667.9" y1="1728.8" x2="667.9" y2="1732.8" stroke="#1e1b1c" stroke-width="1.2" />
<line x1="671.4" y1="1728.8" x2="671.4" y2="1732.8" stroke="#1e1b1c" stroke-width="1.2" />
<line x1="674.4" y1="1728.8" x2="674.4" y2="1732.8" stroke="#1e1b1c" stroke-width="1.2" />
<line x1="677.1" y1="1728.8" x2="677.1" y2="1732.8" stroke="#1e1b1c" stroke-width="1.2" />
<line x1="693.5" y1="1728.8" x2="693.5" y2="1732.8" stroke="#1e1b1c" stroke-width="1.2" />
<line x1="701.7" y1="1728.8" x2="701.7" y2="1732.8" stroke="#1e1b1c" stroke-width="1.2" />
<line x1="707.5" y1="1728.8" x2="707.5" y2="1732.8" stroke="#1e1b1c" stroke-width="1.2" />
<line x1="712.0" y1="1728.8" x2="712.0" y2="1732.8" stroke="#1e1b1c" stroke-width="1.2" />
<line x1="715.7" y1="1728.8" x2="715.7" y2="1732.8" stroke="#1e1b1c" stroke-width="1.2" />
<line x1="718.8" y1="1728.8" x2="718.8" y2="1732.8" stroke="#1e1b1c" stroke-width="1.2" />
<line x1="721.5" y1="1728.8" x2="721.5" y2="1732.8" stroke="#1e1b1c" stroke-width="1.2" />
<line x1="723.9" y1="1728.8" x2="723.9" y2="1732.8" stroke="#1e1b1c" stroke-width="1.2" />
<line x1="552.0" y1="1728.8" x2="552.0" y2="1733.8" stroke="#1e1b1c" stroke-width="1.4" />
<line x1="555.0" y1="1728.8" x2="555.0" y2="1733.8" stroke="#1e1b1c" stroke-width="1.4" />
<line x1="557.0" y1="1728.8" x2="557.0" y2="1733.8" stroke="#1e1b1c" stroke-width="1.4" />
<line x1="559.0" y1="1728.8" x2="559.0" y2="1733.8" stroke="#1e1b1c" stroke-width="1.4" />
<line x1="561.0" y1="1728.8" x2="561.0" y2="1733.8" stroke="#1e1b1c" stroke-width="1.4" />
<line x1="563.0" y1="1728.8" x2="563.0" y2="1733.8" stroke="#1e1b1c" stroke-width="1.4" />
<line x1="566.0" y1="1728.8" x2="566.0" y2="1733.8" stroke="#1e1b1c" stroke-width="1.4" />
<text x="627.9" y="1795.4" font-size="28" text-anchor="middle" fill="#1e1b1c" stroke="#1e1b1c" stroke-width="0.50">Ki67 - eFluor506</text>
<path d="M777.2,1652.0 L833.4,1652.0 C834.1,1651.6 836.4,1651.5 837.9,1649.7 C839.4,1648.0 840.9,1645.8 842.4,1641.4 C843.9,1637.0 845.4,1630.9 846.9,1623.3 C848.4,1615.8 850.1,1605.0 851.5,1596.2 C852.9,1587.4 854.0,1578.6 855.2,1570.5 C856.5,1562.5 857.6,1553.7 859.0,1547.9 C860.4,1542.1 862.0,1536.3 863.5,1535.8 C865.0,1535.3 866.6,1540.3 868.1,1544.9 C869.6,1549.4 871.1,1556.9 872.6,1563.0 C874.1,1569.0 875.6,1574.8 877.1,1581.1 C878.6,1587.4 880.1,1594.7 881.6,1600.7 C883.2,1606.7 884.7,1612.3 886.2,1617.3 C887.7,1622.3 889.2,1626.9 890.7,1630.9 C892.2,1634.9 893.5,1638.9 895.2,1641.4 C897.0,1644.0 899.0,1644.8 901.3,1646.0 C903.5,1647.1 905.0,1647.6 908.8,1648.2 C912.6,1648.9 918.9,1649.3 923.9,1649.7 C928.9,1650.2 934.0,1650.4 939.0,1650.8 C944.0,1651.2 939.5,1651.8 954.1,1652.0 C968.7,1652.2 1014.4,1652.0 1026.5,1652.0 L1027.7,1652.0 Z" fill="#758282" fill-opacity="0.8" stroke="none"/>
<path d="M777.2,1652.0 L833.4,1652.0 C834.1,1651.6 836.4,1651.5 837.9,1649.7 C839.4,1648.0 840.9,1645.8 842.4,1641.4 C843.9,1637.0 845.4,1630.9 846.9,1623.3 C848.4,1615.8 850.1,1605.0 851.5,1596.2 C852.9,1587.4 854.0,1578.6 855.2,1570.5 C856.5,1562.5 857.6,1553.7 859.0,1547.9 C860.4,1542.1 862.0,1536.3 863.5,1535.8 C865.0,1535.3 866.6,1540.3 868.1,1544.9 C869.6,1549.4 871.1,1556.9 872.6,1563.0 C874.1,1569.0 875.6,1574.8 877.1,1581.1 C878.6,1587.4 880.1,1594.7 881.6,1600.7 C883.2,1606.7 884.7,1612.3 886.2,1617.3 C887.7,1622.3 889.2,1626.9 890.7,1630.9 C892.2,1634.9 893.5,1638.9 895.2,1641.4 C897.0,1644.0 899.0,1644.8 901.3,1646.0 C903.5,1647.1 905.0,1647.6 908.8,1648.2 C912.6,1648.9 918.9,1649.3 923.9,1649.7 C928.9,1650.2 934.0,1650.4 939.0,1650.8 C944.0,1651.2 939.5,1651.8 954.1,1652.0 C968.7,1652.2 1014.4,1652.0 1026.5,1652.0 L1027.7,1652.0" fill="none" stroke="#3d4446" stroke-width="2.2" stroke-linejoin="round"/>
<path d="M777.2,1690.6 L848.4,1690.6 C849.0,1690.0 850.5,1689.5 851.5,1687.1 C852.5,1684.8 853.5,1682.1 854.5,1676.6 C855.5,1671.0 856.4,1662.2 857.5,1653.9 C858.6,1645.6 859.9,1633.3 861.3,1626.8 C862.7,1620.2 864.5,1615.2 865.8,1614.7 C867.1,1614.2 867.8,1617.2 868.8,1623.8 C869.8,1630.3 870.7,1645.1 871.8,1653.9 C873.0,1662.7 874.5,1673.3 875.6,1676.6 C876.7,1679.8 877.4,1676.1 878.6,1673.5 C879.9,1671.0 881.6,1664.7 883.2,1661.5 C884.7,1658.2 886.4,1653.7 887.7,1653.9 C888.9,1654.2 889.7,1659.7 890.7,1663.0 C891.7,1666.3 892.5,1670.0 893.7,1673.5 C895.0,1677.1 896.7,1681.3 898.2,1684.1 C899.8,1686.9 901.0,1689.1 902.8,1690.1 C904.5,1691.2 907.0,1691.2 908.8,1690.1 C910.6,1689.1 912.1,1687.6 913.3,1684.1 C914.6,1680.6 915.3,1674.1 916.4,1669.0 C917.4,1664.0 918.4,1657.3 919.4,1653.9 C920.3,1650.5 921.2,1648.7 922.1,1648.7 C923.0,1648.7 923.8,1650.5 924.7,1653.9 C925.5,1657.3 926.0,1665.0 926.9,1669.0 C927.8,1673.0 928.9,1676.1 929.9,1678.1 C930.9,1680.1 931.9,1679.8 933.0,1681.1 C934.0,1682.4 935.0,1684.0 936.0,1685.6 C937.0,1687.2 938.5,1689.8 939.0,1690.6 L1027.7,1690.6 Z" fill="#3fbc37" fill-opacity="0.6" stroke="none"/>
<path d="M777.2,1690.6 L848.4,1690.6 C849.0,1690.0 850.5,1689.5 851.5,1687.1 C852.5,1684.8 853.5,1682.1 854.5,1676.6 C855.5,1671.0 856.4,1662.2 857.5,1653.9 C858.6,1645.6 859.9,1633.3 861.3,1626.8 C862.7,1620.2 864.5,1615.2 865.8,1614.7 C867.1,1614.2 867.8,1617.2 868.8,1623.8 C869.8,1630.3 870.7,1645.1 871.8,1653.9 C873.0,1662.7 874.5,1673.3 875.6,1676.6 C876.7,1679.8 877.4,1676.1 878.6,1673.5 C879.9,1671.0 881.6,1664.7 883.2,1661.5 C884.7,1658.2 886.4,1653.7 887.7,1653.9 C888.9,1654.2 889.7,1659.7 890.7,1663.0 C891.7,1666.3 892.5,1670.0 893.7,1673.5 C895.0,1677.1 896.7,1681.3 898.2,1684.1 C899.8,1686.9 901.0,1689.1 902.8,1690.1 C904.5,1691.2 907.0,1691.2 908.8,1690.1 C910.6,1689.1 912.1,1687.6 913.3,1684.1 C914.6,1680.6 915.3,1674.1 916.4,1669.0 C917.4,1664.0 918.4,1657.3 919.4,1653.9 C920.3,1650.5 921.2,1648.7 922.1,1648.7 C923.0,1648.7 923.8,1650.5 924.7,1653.9 C925.5,1657.3 926.0,1665.0 926.9,1669.0 C927.8,1673.0 928.9,1676.1 929.9,1678.1 C930.9,1680.1 931.9,1679.8 933.0,1681.1 C934.0,1682.4 935.0,1684.0 936.0,1685.6 C937.0,1687.2 938.5,1689.8 939.0,1690.6 L1027.7,1690.6" fill="none" stroke="#2ea02e" stroke-width="2.2" stroke-linejoin="round"/>
<path d="M777.2,1727.8 L839.4,1727.8 C840.4,1727.5 843.4,1726.8 845.4,1725.8 C847.4,1724.9 849.7,1724.2 851.5,1722.1 C853.2,1719.9 854.5,1717.0 856.0,1713.0 C857.5,1709.0 859.0,1704.2 860.5,1697.9 C862.0,1691.6 863.8,1679.3 865.0,1675.3 C866.3,1671.3 866.8,1673.0 868.1,1673.8 C869.3,1674.5 871.1,1680.3 872.6,1679.8 C874.1,1679.3 875.6,1677.0 877.1,1670.8 C878.6,1664.5 880.5,1647.1 881.6,1642.1 C882.8,1637.1 883.2,1639.6 883.9,1640.6 C884.7,1641.6 885.3,1645.1 886.2,1648.1 C887.1,1651.1 888.2,1658.7 889.2,1658.7 C890.2,1658.7 891.3,1653.2 892.2,1648.1 C893.1,1643.1 893.6,1633.8 894.5,1628.5 C895.4,1623.2 896.5,1617.4 897.5,1616.4 C898.5,1615.4 899.4,1620.5 900.5,1622.5 C901.6,1624.5 902.9,1626.5 904.3,1628.5 C905.7,1630.5 907.6,1632.5 908.8,1634.5 C910.1,1636.6 910.9,1638.1 911.8,1640.6 C912.7,1643.1 913.2,1644.6 914.1,1649.6 C915.0,1654.7 916.2,1665.7 917.1,1670.8 C918.0,1675.8 918.6,1679.1 919.4,1679.8 C920.1,1680.6 920.9,1676.8 921.6,1675.3 C922.4,1673.8 923.0,1672.5 923.9,1670.8 C924.8,1669.0 925.8,1666.2 926.9,1664.7 C928.0,1663.2 929.7,1661.7 930.7,1661.7 C931.7,1661.7 932.1,1662.2 933.0,1664.7 C933.8,1667.2 935.0,1672.8 936.0,1676.8 C937.0,1680.8 937.7,1684.8 939.0,1688.9 C940.2,1692.9 942.0,1697.2 943.5,1700.9 C945.0,1704.7 946.3,1708.5 948.0,1711.5 C949.8,1714.5 952.3,1717.0 954.1,1719.0 C955.8,1721.1 957.1,1722.1 958.6,1723.6 C960.1,1725.0 962.4,1727.1 963.1,1727.8 L1027.7,1727.8 Z" fill="#e425c3" fill-opacity="0.55" stroke="none"/>
<path d="M777.2,1727.8 L839.4,1727.8 C840.4,1727.5 843.4,1726.8 845.4,1725.8 C847.4,1724.9 849.7,1724.2 851.5,1722.1 C853.2,1719.9 854.5,1717.0 856.0,1713.0 C857.5,1709.0 859.0,1704.2 860.5,1697.9 C862.0,1691.6 863.8,1679.3 865.0,1675.3 C866.3,1671.3 866.8,1673.0 868.1,1673.8 C869.3,1674.5 871.1,1680.3 872.6,1679.8 C874.1,1679.3 875.6,1677.0 877.1,1670.8 C878.6,1664.5 880.5,1647.1 881.6,1642.1 C882.8,1637.1 883.2,1639.6 883.9,1640.6 C884.7,1641.6 885.3,1645.1 886.2,1648.1 C887.1,1651.1 888.2,1658.7 889.2,1658.7 C890.2,1658.7 891.3,1653.2 892.2,1648.1 C893.1,1643.1 893.6,1633.8 894.5,1628.5 C895.4,1623.2 896.5,1617.4 897.5,1616.4 C898.5,1615.4 899.4,1620.5 900.5,1622.5 C901.6,1624.5 902.9,1626.5 904.3,1628.5 C905.7,1630.5 907.6,1632.5 908.8,1634.5 C910.1,1636.6 910.9,1638.1 911.8,1640.6 C912.7,1643.1 913.2,1644.6 914.1,1649.6 C915.0,1654.7 916.2,1665.7 917.1,1670.8 C918.0,1675.8 918.6,1679.1 919.4,1679.8 C920.1,1680.6 920.9,1676.8 921.6,1675.3 C922.4,1673.8 923.0,1672.5 923.9,1670.8 C924.8,1669.0 925.8,1666.2 926.9,1664.7 C928.0,1663.2 929.7,1661.7 930.7,1661.7 C931.7,1661.7 932.1,1662.2 933.0,1664.7 C933.8,1667.2 935.0,1672.8 936.0,1676.8 C937.0,1680.8 937.7,1684.8 939.0,1688.9 C940.2,1692.9 942.0,1697.2 943.5,1700.9 C945.0,1704.7 946.3,1708.5 948.0,1711.5 C949.8,1714.5 952.3,1717.0 954.1,1719.0 C955.8,1721.1 957.1,1722.1 958.6,1723.6 C960.1,1725.0 962.4,1727.1 963.1,1727.8 L1027.7,1727.8" fill="none" stroke="#e12396" stroke-width="2.2" stroke-linejoin="round"/>
<line x1="906.8" y1="1508.3" x2="906.8" y2="1727.8" stroke="#7d8588" stroke-width="1.8" stroke-dasharray="5,5"/>
<line x1="777.2" y1="1730.3" x2="1027.7" y2="1730.3" stroke="#f07cc0" stroke-width="2" />
<rect x="777.2" y="1506.3" width="250.5" height="221.5" stroke="#1e1b1c" stroke-width="2.6" fill="none" />
<text x="1013.3" y="1643.3" font-size="24" text-anchor="end" fill="#3c4448" stroke="#3c4448" stroke-width="0.43">3.4%</text>
<text x="1028.6" y="1679.5" font-size="24" text-anchor="end" fill="#2f9e2f" stroke="#2f9e2f" stroke-width="0.43">25%</text>
<text x="1013.3" y="1716.5" font-size="24" text-anchor="end" fill="#e0339a" stroke="#e0339a" stroke-width="0.43">45.9%</text>
<line x1="845.5" y1="1728.8" x2="845.5" y2="1736.8" stroke="#1e1b1c" stroke-width="1.8" />
<text x="845.5" y="1754.0" font-size="15" text-anchor="middle" fill="#1e1b1c">0</text>
<line x1="938.0" y1="1728.8" x2="938.0" y2="1736.8" stroke="#1e1b1c" stroke-width="1.8" />
<text x="938.0" y="1754.0" font-size="15" text-anchor="middle" fill="#1e1b1c">10<tspan dy="-6" font-size="10">4</tspan></text>
<line x1="1000.0" y1="1728.8" x2="1000.0" y2="1736.8" stroke="#1e1b1c" stroke-width="1.8" />
<text x="1000.0" y="1754.0" font-size="15" text-anchor="middle" fill="#1e1b1c">10<tspan dy="-6" font-size="10">5</tspan></text>
<line x1="956.7" y1="1728.8" x2="956.7" y2="1732.8" stroke="#1e1b1c" stroke-width="1.2" />
<line x1="967.6" y1="1728.8" x2="967.6" y2="1732.8" stroke="#1e1b1c" stroke-width="1.2" />
<line x1="975.3" y1="1728.8" x2="975.3" y2="1732.8" stroke="#1e1b1c" stroke-width="1.2" />
<line x1="981.3" y1="1728.8" x2="981.3" y2="1732.8" stroke="#1e1b1c" stroke-width="1.2" />
<line x1="986.2" y1="1728.8" x2="986.2" y2="1732.8" stroke="#1e1b1c" stroke-width="1.2" />
<line x1="990.4" y1="1728.8" x2="990.4" y2="1732.8" stroke="#1e1b1c" stroke-width="1.2" />
<line x1="994.0" y1="1728.8" x2="994.0" y2="1732.8" stroke="#1e1b1c" stroke-width="1.2" />
<line x1="997.2" y1="1728.8" x2="997.2" y2="1732.8" stroke="#1e1b1c" stroke-width="1.2" />
<line x1="838.5" y1="1728.8" x2="838.5" y2="1733.8" stroke="#1e1b1c" stroke-width="1.4" />
<line x1="841.5" y1="1728.8" x2="841.5" y2="1733.8" stroke="#1e1b1c" stroke-width="1.4" />
<line x1="843.5" y1="1728.8" x2="843.5" y2="1733.8" stroke="#1e1b1c" stroke-width="1.4" />
<line x1="845.5" y1="1728.8" x2="845.5" y2="1733.8" stroke="#1e1b1c" stroke-width="1.4" />
<line x1="847.5" y1="1728.8" x2="847.5" y2="1733.8" stroke="#1e1b1c" stroke-width="1.4" />
<line x1="849.5" y1="1728.8" x2="849.5" y2="1733.8" stroke="#1e1b1c" stroke-width="1.4" />
<line x1="852.5" y1="1728.8" x2="852.5" y2="1733.8" stroke="#1e1b1c" stroke-width="1.4" />
<text x="905.8" y="1795.4" font-size="28" text-anchor="middle" fill="#1e1b1c" stroke="#1e1b1c" stroke-width="0.50">Bcl6 - PE</text>
<path d="M1056.4,1652.0 L1082.2,1652.0 C1083.7,1651.9 1088.7,1651.7 1091.2,1651.2 C1093.7,1650.7 1095.5,1650.6 1097.3,1649.0 C1099.0,1647.3 1100.3,1645.7 1101.8,1641.4 C1103.3,1637.2 1104.8,1631.4 1106.3,1623.3 C1107.8,1615.3 1109.3,1604.5 1110.9,1593.1 C1112.4,1581.8 1114.1,1564.7 1115.4,1555.4 C1116.6,1546.1 1117.5,1541.1 1118.4,1537.3 C1119.3,1533.5 1119.8,1532.5 1120.7,1532.8 C1121.5,1533.0 1122.7,1533.8 1123.7,1538.8 C1124.7,1543.9 1125.7,1553.9 1126.7,1563.0 C1127.7,1572.0 1128.6,1583.1 1129.7,1593.1 C1130.8,1603.2 1132.2,1615.3 1133.5,1623.3 C1134.7,1631.4 1136.0,1637.0 1137.3,1641.4 C1138.5,1645.8 1139.1,1648.0 1141.0,1649.7 C1142.9,1651.4 1143.3,1651.3 1148.6,1651.7 C1153.9,1652.1 1166.2,1652.1 1172.7,1652.0 C1179.3,1651.9 1182.8,1651.2 1187.8,1651.2 C1192.8,1651.2 1200.4,1651.9 1202.9,1652.0 L1306.9,1652.0 Z" fill="#758282" fill-opacity="0.8" stroke="none"/>
<path d="M1056.4,1652.0 L1082.2,1652.0 C1083.7,1651.9 1088.7,1651.7 1091.2,1651.2 C1093.7,1650.7 1095.5,1650.6 1097.3,1649.0 C1099.0,1647.3 1100.3,1645.7 1101.8,1641.4 C1103.3,1637.2 1104.8,1631.4 1106.3,1623.3 C1107.8,1615.3 1109.3,1604.5 1110.9,1593.1 C1112.4,1581.8 1114.1,1564.7 1115.4,1555.4 C1116.6,1546.1 1117.5,1541.1 1118.4,1537.3 C1119.3,1533.5 1119.8,1532.5 1120.7,1532.8 C1121.5,1533.0 1122.7,1533.8 1123.7,1538.8 C1124.7,1543.9 1125.7,1553.9 1126.7,1563.0 C1127.7,1572.0 1128.6,1583.1 1129.7,1593.1 C1130.8,1603.2 1132.2,1615.3 1133.5,1623.3 C1134.7,1631.4 1136.0,1637.0 1137.3,1641.4 C1138.5,1645.8 1139.1,1648.0 1141.0,1649.7 C1142.9,1651.4 1143.3,1651.3 1148.6,1651.7 C1153.9,1652.1 1166.2,1652.1 1172.7,1652.0 C1179.3,1651.9 1182.8,1651.2 1187.8,1651.2 C1192.8,1651.2 1200.4,1651.9 1202.9,1652.0 L1306.9,1652.0" fill="none" stroke="#3d4446" stroke-width="2.2" stroke-linejoin="round"/>
<path d="M1056.4,1690.6 L1103.3,1690.6 C1103.8,1690.0 1105.1,1689.5 1106.3,1687.1 C1107.6,1684.8 1109.3,1680.8 1110.9,1676.6 C1112.4,1672.3 1114.0,1667.8 1115.4,1661.5 C1116.8,1655.2 1118.0,1643.1 1119.1,1638.8 C1120.3,1634.6 1121.2,1634.6 1122.2,1635.8 C1123.2,1637.1 1124.2,1640.9 1125.2,1646.4 C1126.2,1651.9 1127.2,1662.7 1128.2,1669.0 C1129.2,1675.3 1130.2,1680.5 1131.2,1684.1 C1132.2,1687.7 1131.2,1689.5 1134.2,1690.6 C1139.6,1691.7 1158.3,1691.2 1163.7,1690.6 C1166.7,1690.0 1165.4,1689.5 1166.7,1687.1 C1167.9,1684.8 1169.6,1679.5 1171.2,1676.6 C1172.8,1673.7 1174.9,1669.5 1176.5,1669.8 C1178.1,1670.0 1179.5,1675.2 1181.0,1678.1 C1182.5,1681.0 1184.3,1685.0 1185.5,1687.1 C1186.8,1689.2 1188.1,1690.0 1188.6,1690.6 L1306.9,1690.6 Z" fill="#3fbc37" fill-opacity="0.6" stroke="none"/>
<path d="M1056.4,1690.6 L1103.3,1690.6 C1103.8,1690.0 1105.1,1689.5 1106.3,1687.1 C1107.6,1684.8 1109.3,1680.8 1110.9,1676.6 C1112.4,1672.3 1114.0,1667.8 1115.4,1661.5 C1116.8,1655.2 1118.0,1643.1 1119.1,1638.8 C1120.3,1634.6 1121.2,1634.6 1122.2,1635.8 C1123.2,1637.1 1124.2,1640.9 1125.2,1646.4 C1126.2,1651.9 1127.2,1662.7 1128.2,1669.0 C1129.2,1675.3 1130.2,1680.5 1131.2,1684.1 C1132.2,1687.7 1131.2,1689.5 1134.2,1690.6 C1139.6,1691.7 1158.3,1691.2 1163.7,1690.6 C1166.7,1690.0 1165.4,1689.5 1166.7,1687.1 C1167.9,1684.8 1169.6,1679.5 1171.2,1676.6 C1172.8,1673.7 1174.9,1669.5 1176.5,1669.8 C1178.1,1670.0 1179.5,1675.2 1181.0,1678.1 C1182.5,1681.0 1184.3,1685.0 1185.5,1687.1 C1186.8,1689.2 1188.1,1690.0 1188.6,1690.6 L1306.9,1690.6" fill="none" stroke="#2ea02e" stroke-width="2.2" stroke-linejoin="round"/>
<path d="M1056.4,1727.8 L1106.3,1727.8 C1107.1,1727.3 1109.6,1727.0 1110.9,1725.1 C1112.1,1723.1 1112.9,1720.1 1113.9,1716.0 C1114.9,1712.0 1115.6,1707.2 1116.9,1700.9 C1118.1,1694.7 1119.9,1685.9 1121.4,1678.3 C1122.9,1670.8 1124.4,1662.5 1125.9,1655.7 C1127.4,1648.9 1129.1,1642.8 1130.5,1637.6 C1131.9,1632.3 1133.1,1624.7 1134.2,1624.0 C1135.4,1623.2 1136.3,1627.8 1137.3,1633.0 C1138.3,1638.3 1139.3,1648.1 1140.3,1655.7 C1141.3,1663.2 1142.3,1670.8 1143.3,1678.3 C1144.3,1685.9 1145.3,1694.1 1146.3,1700.9 C1147.3,1707.7 1148.3,1714.9 1149.3,1719.0 C1150.3,1723.2 1151.0,1724.6 1152.3,1725.8 C1153.7,1727.1 1155.5,1726.7 1157.6,1726.6 C1159.8,1726.5 1162.7,1725.6 1165.2,1725.1 C1167.7,1724.6 1170.2,1724.3 1172.7,1723.6 C1175.2,1722.8 1177.7,1721.2 1180.3,1720.6 C1182.8,1719.9 1185.0,1719.8 1187.8,1719.8 C1190.6,1719.8 1194.3,1721.7 1196.9,1720.6 C1199.4,1719.4 1200.9,1716.3 1202.9,1713.0 C1204.9,1709.7 1206.9,1704.0 1208.9,1700.9 C1210.9,1697.9 1213.2,1697.4 1215.0,1694.9 C1216.7,1692.4 1218.0,1689.9 1219.5,1685.9 C1221.0,1681.8 1222.8,1675.8 1224.0,1670.8 C1225.3,1665.7 1226.0,1662.0 1227.0,1655.7 C1228.0,1649.4 1229.1,1639.4 1230.1,1633.0 C1231.1,1626.6 1232.2,1619.7 1233.1,1617.2 C1234.0,1614.7 1234.6,1617.6 1235.3,1617.9 C1236.1,1618.3 1236.8,1619.6 1237.6,1619.5 C1238.4,1619.3 1239.0,1616.2 1239.9,1617.2 C1240.7,1618.2 1241.9,1620.3 1242.9,1625.5 C1243.9,1630.6 1244.9,1640.6 1245.9,1648.1 C1246.9,1655.7 1247.9,1663.7 1248.9,1670.8 C1249.9,1677.8 1250.8,1684.3 1251.9,1690.4 C1253.1,1696.4 1254.3,1702.4 1255.7,1707.0 C1257.1,1711.5 1258.7,1714.5 1260.2,1717.5 C1261.7,1720.6 1263.5,1723.4 1264.8,1725.1 C1266.0,1726.8 1267.3,1727.3 1267.8,1727.8 L1306.9,1727.8 Z" fill="#e425c3" fill-opacity="0.55" stroke="none"/>
<path d="M1056.4,1727.8 L1106.3,1727.8 C1107.1,1727.3 1109.6,1727.0 1110.9,1725.1 C1112.1,1723.1 1112.9,1720.1 1113.9,1716.0 C1114.9,1712.0 1115.6,1707.2 1116.9,1700.9 C1118.1,1694.7 1119.9,1685.9 1121.4,1678.3 C1122.9,1670.8 1124.4,1662.5 1125.9,1655.7 C1127.4,1648.9 1129.1,1642.8 1130.5,1637.6 C1131.9,1632.3 1133.1,1624.7 1134.2,1624.0 C1135.4,1623.2 1136.3,1627.8 1137.3,1633.0 C1138.3,1638.3 1139.3,1648.1 1140.3,1655.7 C1141.3,1663.2 1142.3,1670.8 1143.3,1678.3 C1144.3,1685.9 1145.3,1694.1 1146.3,1700.9 C1147.3,1707.7 1148.3,1714.9 1149.3,1719.0 C1150.3,1723.2 1151.0,1724.6 1152.3,1725.8 C1153.7,1727.1 1155.5,1726.7 1157.6,1726.6 C1159.8,1726.5 1162.7,1725.6 1165.2,1725.1 C1167.7,1724.6 1170.2,1724.3 1172.7,1723.6 C1175.2,1722.8 1177.7,1721.2 1180.3,1720.6 C1182.8,1719.9 1185.0,1719.8 1187.8,1719.8 C1190.6,1719.8 1194.3,1721.7 1196.9,1720.6 C1199.4,1719.4 1200.9,1716.3 1202.9,1713.0 C1204.9,1709.7 1206.9,1704.0 1208.9,1700.9 C1210.9,1697.9 1213.2,1697.4 1215.0,1694.9 C1216.7,1692.4 1218.0,1689.9 1219.5,1685.9 C1221.0,1681.8 1222.8,1675.8 1224.0,1670.8 C1225.3,1665.7 1226.0,1662.0 1227.0,1655.7 C1228.0,1649.4 1229.1,1639.4 1230.1,1633.0 C1231.1,1626.6 1232.2,1619.7 1233.1,1617.2 C1234.0,1614.7 1234.6,1617.6 1235.3,1617.9 C1236.1,1618.3 1236.8,1619.6 1237.6,1619.5 C1238.4,1619.3 1239.0,1616.2 1239.9,1617.2 C1240.7,1618.2 1241.9,1620.3 1242.9,1625.5 C1243.9,1630.6 1244.9,1640.6 1245.9,1648.1 C1246.9,1655.7 1247.9,1663.7 1248.9,1670.8 C1249.9,1677.8 1250.8,1684.3 1251.9,1690.4 C1253.1,1696.4 1254.3,1702.4 1255.7,1707.0 C1257.1,1711.5 1258.7,1714.5 1260.2,1717.5 C1261.7,1720.6 1263.5,1723.4 1264.8,1725.1 C1266.0,1726.8 1267.3,1727.3 1267.8,1727.8 L1306.9,1727.8" fill="none" stroke="#e12396" stroke-width="2.2" stroke-linejoin="round"/>
<line x1="1162.6" y1="1508.3" x2="1162.6" y2="1727.8" stroke="#7d8588" stroke-width="1.8" stroke-dasharray="5,5"/>
<line x1="1056.4" y1="1730.3" x2="1306.9" y2="1730.3" stroke="#f07cc0" stroke-width="2" />
<rect x="1056.4" y="1506.3" width="250.5" height="221.5" stroke="#1e1b1c" stroke-width="2.6" fill="none" />
<text x="1293.5" y="1643.3" font-size="24" text-anchor="end" fill="#3c4448" stroke="#3c4448" stroke-width="0.43">1.4%</text>
<text x="1293.5" y="1679.5" font-size="24" text-anchor="end" fill="#2f9e2f" stroke="#2f9e2f" stroke-width="0.43">25%</text>
<text x="1293.5" y="1716.5" font-size="24" text-anchor="end" fill="#e0339a" stroke="#e0339a" stroke-width="0.43">63.9%</text>
<line x1="1125.5" y1="1728.8" x2="1125.5" y2="1736.8" stroke="#1e1b1c" stroke-width="1.8" />
<text x="1125.5" y="1754.0" font-size="15" text-anchor="middle" fill="#1e1b1c">0</text>
<line x1="1216.5" y1="1728.8" x2="1216.5" y2="1736.8" stroke="#1e1b1c" stroke-width="1.8" />
<text x="1216.5" y="1754.0" font-size="15" text-anchor="middle" fill="#1e1b1c">10<tspan dy="-6" font-size="10">4</tspan></text>
<line x1="1279.0" y1="1728.8" x2="1279.0" y2="1736.8" stroke="#1e1b1c" stroke-width="1.8" />
<text x="1279.0" y="1754.0" font-size="15" text-anchor="middle" fill="#1e1b1c">10<tspan dy="-6" font-size="10">5</tspan></text>
<line x1="1235.3" y1="1728.8" x2="1235.3" y2="1732.8" stroke="#1e1b1c" stroke-width="1.2" />
<line x1="1246.3" y1="1728.8" x2="1246.3" y2="1732.8" stroke="#1e1b1c" stroke-width="1.2" />
<line x1="1254.1" y1="1728.8" x2="1254.1" y2="1732.8" stroke="#1e1b1c" stroke-width="1.2" />
<line x1="1260.2" y1="1728.8" x2="1260.2" y2="1732.8" stroke="#1e1b1c" stroke-width="1.2" />
<line x1="1265.1" y1="1728.8" x2="1265.1" y2="1732.8" stroke="#1e1b1c" stroke-width="1.2" />
<line x1="1269.3" y1="1728.8" x2="1269.3" y2="1732.8" stroke="#1e1b1c" stroke-width="1.2" />
<line x1="1272.9" y1="1728.8" x2="1272.9" y2="1732.8" stroke="#1e1b1c" stroke-width="1.2" />
<line x1="1276.1" y1="1728.8" x2="1276.1" y2="1732.8" stroke="#1e1b1c" stroke-width="1.2" />
<line x1="1118.5" y1="1728.8" x2="1118.5" y2="1733.8" stroke="#1e1b1c" stroke-width="1.4" />
<line x1="1121.5" y1="1728.8" x2="1121.5" y2="1733.8" stroke="#1e1b1c" stroke-width="1.4" />
<line x1="1123.5" y1="1728.8" x2="1123.5" y2="1733.8" stroke="#1e1b1c" stroke-width="1.4" />
<line x1="1125.5" y1="1728.8" x2="1125.5" y2="1733.8" stroke="#1e1b1c" stroke-width="1.4" />
<line x1="1127.5" y1="1728.8" x2="1127.5" y2="1733.8" stroke="#1e1b1c" stroke-width="1.4" />
<line x1="1129.5" y1="1728.8" x2="1129.5" y2="1733.8" stroke="#1e1b1c" stroke-width="1.4" />
<line x1="1132.5" y1="1728.8" x2="1132.5" y2="1733.8" stroke="#1e1b1c" stroke-width="1.4" />
<text x="1181.4" y="1795.4" font-size="28" text-anchor="middle" fill="#1e1b1c" stroke="#1e1b1c" stroke-width="0.50">Eomes - eFluor450</text>
<path d="M1335.2,1652.0 L1376.3,1652.0 C1377.3,1651.9 1380.5,1652.0 1382.3,1651.2 C1384.1,1650.5 1385.3,1650.1 1386.8,1647.5 C1388.3,1644.8 1389.9,1641.9 1391.4,1635.4 C1392.9,1628.9 1394.4,1618.3 1395.9,1608.2 C1397.4,1598.2 1398.9,1585.1 1400.4,1575.0 C1401.9,1565.0 1403.6,1554.5 1404.9,1547.9 C1406.2,1541.2 1407.1,1536.1 1408.3,1535.1 C1409.4,1534.0 1410.5,1536.7 1411.7,1541.8 C1412.9,1547.0 1414.2,1556.9 1415.5,1566.0 C1416.8,1575.0 1418.0,1586.6 1419.3,1596.2 C1420.5,1605.7 1421.7,1615.5 1423.0,1623.3 C1424.4,1631.1 1425.8,1638.5 1427.6,1642.9 C1429.3,1647.3 1431.1,1648.4 1433.6,1649.7 C1436.1,1651.1 1437.1,1650.9 1442.7,1651.2 C1448.2,1651.6 1443.2,1651.6 1466.8,1651.7 C1490.4,1651.8 1564.9,1651.9 1584.5,1652.0 L1585.7,1652.0 Z" fill="#758282" fill-opacity="0.8" stroke="none"/>
<path d="M1335.2,1652.0 L1376.3,1652.0 C1377.3,1651.9 1380.5,1652.0 1382.3,1651.2 C1384.1,1650.5 1385.3,1650.1 1386.8,1647.5 C1388.3,1644.8 1389.9,1641.9 1391.4,1635.4 C1392.9,1628.9 1394.4,1618.3 1395.9,1608.2 C1397.4,1598.2 1398.9,1585.1 1400.4,1575.0 C1401.9,1565.0 1403.6,1554.5 1404.9,1547.9 C1406.2,1541.2 1407.1,1536.1 1408.3,1535.1 C1409.4,1534.0 1410.5,1536.7 1411.7,1541.8 C1412.9,1547.0 1414.2,1556.9 1415.5,1566.0 C1416.8,1575.0 1418.0,1586.6 1419.3,1596.2 C1420.5,1605.7 1421.7,1615.5 1423.0,1623.3 C1424.4,1631.1 1425.8,1638.5 1427.6,1642.9 C1429.3,1647.3 1431.1,1648.4 1433.6,1649.7 C1436.1,1651.1 1437.1,1650.9 1442.7,1651.2 C1448.2,1651.6 1443.2,1651.6 1466.8,1651.7 C1490.4,1651.8 1564.9,1651.9 1584.5,1652.0 L1585.7,1652.0" fill="none" stroke="#3d4446" stroke-width="2.2" stroke-linejoin="round"/>
<path d="M1335.2,1690.6 L1400.4,1690.6 C1400.9,1690.0 1402.4,1689.5 1403.4,1687.1 C1404.4,1684.8 1405.4,1680.8 1406.4,1676.6 C1407.5,1672.3 1408.3,1667.0 1409.5,1661.5 C1410.6,1655.9 1412.2,1647.9 1413.2,1643.4 C1414.3,1638.8 1414.9,1634.6 1415.8,1634.3 C1416.7,1634.1 1417.6,1637.3 1418.5,1641.9 C1419.5,1646.4 1420.5,1655.7 1421.5,1661.5 C1422.5,1667.3 1423.6,1673.3 1424.6,1676.6 C1425.6,1679.8 1426.6,1681.6 1427.6,1681.1 C1428.6,1680.6 1429.6,1679.3 1430.6,1673.5 C1431.6,1667.8 1432.6,1655.9 1433.6,1646.4 C1434.6,1636.8 1435.6,1625.0 1436.6,1616.2 C1437.6,1607.4 1438.6,1600.4 1439.6,1593.6 C1440.7,1586.8 1441.7,1579.2 1442.7,1575.5 C1443.6,1571.7 1444.3,1570.9 1445.2,1570.9 C1446.1,1570.9 1447.1,1571.7 1447.9,1575.5 C1448.8,1579.2 1449.3,1585.5 1450.2,1593.6 C1451.1,1601.6 1452.2,1613.7 1453.2,1623.8 C1454.2,1633.8 1455.2,1645.1 1456.2,1653.9 C1457.3,1662.7 1458.3,1671.0 1459.3,1676.6 C1460.3,1682.1 1461.5,1684.8 1462.3,1687.1 C1463.0,1689.5 1463.5,1690.0 1463.8,1690.6 L1585.7,1690.6 Z" fill="#3fbc37" fill-opacity="0.6" stroke="none"/>
<path d="M1335.2,1690.6 L1400.4,1690.6 C1400.9,1690.0 1402.4,1689.5 1403.4,1687.1 C1404.4,1684.8 1405.4,1680.8 1406.4,1676.6 C1407.5,1672.3 1408.3,1667.0 1409.5,1661.5 C1410.6,1655.9 1412.2,1647.9 1413.2,1643.4 C1414.3,1638.8 1414.9,1634.6 1415.8,1634.3 C1416.7,1634.1 1417.6,1637.3 1418.5,1641.9 C1419.5,1646.4 1420.5,1655.7 1421.5,1661.5 C1422.5,1667.3 1423.6,1673.3 1424.6,1676.6 C1425.6,1679.8 1426.6,1681.6 1427.6,1681.1 C1428.6,1680.6 1429.6,1679.3 1430.6,1673.5 C1431.6,1667.8 1432.6,1655.9 1433.6,1646.4 C1434.6,1636.8 1435.6,1625.0 1436.6,1616.2 C1437.6,1607.4 1438.6,1600.4 1439.6,1593.6 C1440.7,1586.8 1441.7,1579.2 1442.7,1575.5 C1443.6,1571.7 1444.3,1570.9 1445.2,1570.9 C1446.1,1570.9 1447.1,1571.7 1447.9,1575.5 C1448.8,1579.2 1449.3,1585.5 1450.2,1593.6 C1451.1,1601.6 1452.2,1613.7 1453.2,1623.8 C1454.2,1633.8 1455.2,1645.1 1456.2,1653.9 C1457.3,1662.7 1458.3,1671.0 1459.3,1676.6 C1460.3,1682.1 1461.5,1684.8 1462.3,1687.1 C1463.0,1689.5 1463.5,1690.0 1463.8,1690.6 L1585.7,1690.6" fill="none" stroke="#2ea02e" stroke-width="2.2" stroke-linejoin="round"/>
<path d="M1335.2,1727.8 L1417.0,1727.8 C1417.8,1727.5 1419.8,1726.8 1421.5,1725.8 C1423.3,1724.9 1425.6,1723.2 1427.6,1722.1 C1429.6,1720.9 1431.9,1720.6 1433.6,1719.0 C1435.4,1717.5 1436.9,1715.3 1438.1,1713.0 C1439.4,1710.7 1440.1,1708.7 1441.2,1705.5 C1442.2,1702.2 1443.2,1697.9 1444.2,1693.4 C1445.2,1688.9 1446.2,1682.8 1447.2,1678.3 C1448.2,1673.8 1449.5,1668.7 1450.2,1666.2 C1451.0,1663.7 1451.0,1663.0 1451.7,1663.2 C1452.5,1663.5 1453.7,1666.5 1454.7,1667.7 C1455.7,1669.0 1456.7,1672.8 1457.8,1670.8 C1458.8,1668.7 1459.8,1660.7 1460.8,1655.7 C1461.8,1650.6 1462.8,1644.4 1463.8,1640.6 C1464.8,1636.8 1465.8,1635.0 1466.8,1633.0 C1467.8,1631.0 1468.8,1628.3 1469.8,1628.5 C1470.8,1628.8 1471.8,1633.3 1472.8,1634.5 C1473.8,1635.8 1474.6,1638.1 1475.9,1636.1 C1477.1,1634.0 1479.1,1625.6 1480.4,1622.5 C1481.6,1619.3 1482.4,1616.9 1483.4,1617.2 C1484.4,1617.4 1485.5,1623.1 1486.4,1624.0 C1487.3,1624.9 1487.9,1623.2 1488.7,1622.5 C1489.4,1621.7 1490.1,1618.4 1491.0,1619.5 C1491.8,1620.5 1493.0,1625.0 1494.0,1628.5 C1495.0,1632.0 1496.0,1634.8 1497.0,1640.6 C1498.0,1646.4 1499.0,1655.7 1500.0,1663.2 C1501.0,1670.8 1501.8,1679.1 1503.0,1685.9 C1504.3,1692.6 1506.0,1699.2 1507.6,1704.0 C1509.1,1708.7 1510.6,1711.3 1512.1,1714.5 C1513.6,1717.8 1515.3,1721.4 1516.6,1723.6 C1517.9,1725.8 1519.1,1727.1 1519.6,1727.8 L1585.7,1727.8 Z" fill="#e425c3" fill-opacity="0.55" stroke="none"/>
<path d="M1335.2,1727.8 L1417.0,1727.8 C1417.8,1727.5 1419.8,1726.8 1421.5,1725.8 C1423.3,1724.9 1425.6,1723.2 1427.6,1722.1 C1429.6,1720.9 1431.9,1720.6 1433.6,1719.0 C1435.4,1717.5 1436.9,1715.3 1438.1,1713.0 C1439.4,1710.7 1440.1,1708.7 1441.2,1705.5 C1442.2,1702.2 1443.2,1697.9 1444.2,1693.4 C1445.2,1688.9 1446.2,1682.8 1447.2,1678.3 C1448.2,1673.8 1449.5,1668.7 1450.2,1666.2 C1451.0,1663.7 1451.0,1663.0 1451.7,1663.2 C1452.5,1663.5 1453.7,1666.5 1454.7,1667.7 C1455.7,1669.0 1456.7,1672.8 1457.8,1670.8 C1458.8,1668.7 1459.8,1660.7 1460.8,1655.7 C1461.8,1650.6 1462.8,1644.4 1463.8,1640.6 C1464.8,1636.8 1465.8,1635.0 1466.8,1633.0 C1467.8,1631.0 1468.8,1628.3 1469.8,1628.5 C1470.8,1628.8 1471.8,1633.3 1472.8,1634.5 C1473.8,1635.8 1474.6,1638.1 1475.9,1636.1 C1477.1,1634.0 1479.1,1625.6 1480.4,1622.5 C1481.6,1619.3 1482.4,1616.9 1483.4,1617.2 C1484.4,1617.4 1485.5,1623.1 1486.4,1624.0 C1487.3,1624.9 1487.9,1623.2 1488.7,1622.5 C1489.4,1621.7 1490.1,1618.4 1491.0,1619.5 C1491.8,1620.5 1493.0,1625.0 1494.0,1628.5 C1495.0,1632.0 1496.0,1634.8 1497.0,1640.6 C1498.0,1646.4 1499.0,1655.7 1500.0,1663.2 C1501.0,1670.8 1501.8,1679.1 1503.0,1685.9 C1504.3,1692.6 1506.0,1699.2 1507.6,1704.0 C1509.1,1708.7 1510.6,1711.3 1512.1,1714.5 C1513.6,1717.8 1515.3,1721.4 1516.6,1723.6 C1517.9,1725.8 1519.1,1727.1 1519.6,1727.8 L1585.7,1727.8" fill="none" stroke="#e12396" stroke-width="2.2" stroke-linejoin="round"/>
<line x1="1438.6" y1="1508.3" x2="1438.6" y2="1727.8" stroke="#7d8588" stroke-width="1.8" stroke-dasharray="5,5"/>
<line x1="1335.2" y1="1730.3" x2="1585.7" y2="1730.3" stroke="#f07cc0" stroke-width="2" />
<rect x="1335.2" y="1506.3" width="250.5" height="221.5" stroke="#1e1b1c" stroke-width="2.6" fill="none" />
<text x="1575.7" y="1643.3" font-size="24" text-anchor="end" fill="#3c4448" stroke="#3c4448" stroke-width="0.43">2.1%</text>
<text x="1575.7" y="1679.5" font-size="24" text-anchor="end" fill="#2f9e2f" stroke="#2f9e2f" stroke-width="0.43">75%</text>
<text x="1575.7" y="1716.5" font-size="24" text-anchor="end" fill="#e0339a" stroke="#e0339a" stroke-width="0.43">96.1%</text>
<line x1="1419.0" y1="1728.8" x2="1419.0" y2="1736.8" stroke="#1e1b1c" stroke-width="1.8" />
<text x="1419.0" y="1754.0" font-size="15" text-anchor="middle" fill="#1e1b1c">0</text>
<line x1="1510.0" y1="1728.8" x2="1510.0" y2="1736.8" stroke="#1e1b1c" stroke-width="1.8" />
<text x="1510.0" y="1754.0" font-size="15" text-anchor="middle" fill="#1e1b1c">10<tspan dy="-6" font-size="10">4</tspan></text>
<line x1="1583.0" y1="1728.8" x2="1583.0" y2="1736.8" stroke="#1e1b1c" stroke-width="1.8" />
<text x="1583.0" y="1754.0" font-size="15" text-anchor="middle" fill="#1e1b1c">10<tspan dy="-6" font-size="10">5</tspan></text>
<line x1="1532.0" y1="1728.8" x2="1532.0" y2="1732.8" stroke="#1e1b1c" stroke-width="1.2" />
<line x1="1544.8" y1="1728.8" x2="1544.8" y2="1732.8" stroke="#1e1b1c" stroke-width="1.2" />
<line x1="1554.0" y1="1728.8" x2="1554.0" y2="1732.8" stroke="#1e1b1c" stroke-width="1.2" />
<line x1="1561.0" y1="1728.8" x2="1561.0" y2="1732.8" stroke="#1e1b1c" stroke-width="1.2" />
<line x1="1566.8" y1="1728.8" x2="1566.8" y2="1732.8" stroke="#1e1b1c" stroke-width="1.2" />
<line x1="1571.7" y1="1728.8" x2="1571.7" y2="1732.8" stroke="#1e1b1c" stroke-width="1.2" />
<line x1="1575.9" y1="1728.8" x2="1575.9" y2="1732.8" stroke="#1e1b1c" stroke-width="1.2" />
<line x1="1579.7" y1="1728.8" x2="1579.7" y2="1732.8" stroke="#1e1b1c" stroke-width="1.2" />
<line x1="1412.0" y1="1728.8" x2="1412.0" y2="1733.8" stroke="#1e1b1c" stroke-width="1.4" />
<line x1="1415.0" y1="1728.8" x2="1415.0" y2="1733.8" stroke="#1e1b1c" stroke-width="1.4" />
<line x1="1417.0" y1="1728.8" x2="1417.0" y2="1733.8" stroke="#1e1b1c" stroke-width="1.4" />
<line x1="1419.0" y1="1728.8" x2="1419.0" y2="1733.8" stroke="#1e1b1c" stroke-width="1.4" />
<line x1="1421.0" y1="1728.8" x2="1421.0" y2="1733.8" stroke="#1e1b1c" stroke-width="1.4" />
<line x1="1423.0" y1="1728.8" x2="1423.0" y2="1733.8" stroke="#1e1b1c" stroke-width="1.4" />
<line x1="1426.0" y1="1728.8" x2="1426.0" y2="1733.8" stroke="#1e1b1c" stroke-width="1.4" />
<text x="1457.7" y="1795.4" font-size="28" text-anchor="middle" fill="#1e1b1c" stroke="#1e1b1c" stroke-width="0.50">CXCR5 - BV711</text>
<path d="M1614.2,1652.0 L1656.8,1652.0 C1657.5,1651.7 1660.0,1651.7 1661.3,1650.5 C1662.6,1649.2 1663.3,1647.7 1664.3,1644.5 C1665.3,1641.2 1666.3,1636.9 1667.3,1630.9 C1668.3,1624.8 1669.4,1617.0 1670.4,1608.2 C1671.4,1599.4 1672.4,1588.1 1673.4,1578.1 C1674.4,1568.0 1675.1,1555.2 1676.4,1547.9 C1677.7,1540.6 1679.7,1535.1 1680.9,1534.3 C1682.2,1533.5 1682.9,1538.6 1683.9,1543.4 C1684.9,1548.1 1686.0,1555.7 1687.0,1563.0 C1688.0,1570.3 1688.7,1578.3 1690.0,1587.1 C1691.2,1595.9 1693.0,1608.2 1694.5,1615.8 C1696.0,1623.3 1697.3,1628.4 1699.0,1632.4 C1700.8,1636.4 1702.8,1637.9 1705.1,1639.9 C1707.3,1641.9 1710.1,1643.2 1712.6,1644.5 C1715.1,1645.7 1717.1,1646.7 1720.2,1647.5 C1723.2,1648.2 1726.4,1648.6 1730.7,1649.0 C1735.0,1649.4 1740.8,1649.5 1745.8,1649.7 C1750.8,1649.9 1755.9,1650.0 1760.9,1650.2 C1765.9,1650.4 1771.0,1650.6 1776.0,1650.8 C1781.0,1651.0 1776.5,1651.0 1791.1,1651.2 C1805.7,1651.4 1851.4,1651.9 1863.5,1652.0 L1864.7,1652.0 Z" fill="#758282" fill-opacity="0.8" stroke="none"/>
<path d="M1614.2,1652.0 L1656.8,1652.0 C1657.5,1651.7 1660.0,1651.7 1661.3,1650.5 C1662.6,1649.2 1663.3,1647.7 1664.3,1644.5 C1665.3,1641.2 1666.3,1636.9 1667.3,1630.9 C1668.3,1624.8 1669.4,1617.0 1670.4,1608.2 C1671.4,1599.4 1672.4,1588.1 1673.4,1578.1 C1674.4,1568.0 1675.1,1555.2 1676.4,1547.9 C1677.7,1540.6 1679.7,1535.1 1680.9,1534.3 C1682.2,1533.5 1682.9,1538.6 1683.9,1543.4 C1684.9,1548.1 1686.0,1555.7 1687.0,1563.0 C1688.0,1570.3 1688.7,1578.3 1690.0,1587.1 C1691.2,1595.9 1693.0,1608.2 1694.5,1615.8 C1696.0,1623.3 1697.3,1628.4 1699.0,1632.4 C1700.8,1636.4 1702.8,1637.9 1705.1,1639.9 C1707.3,1641.9 1710.1,1643.2 1712.6,1644.5 C1715.1,1645.7 1717.1,1646.7 1720.2,1647.5 C1723.2,1648.2 1726.4,1648.6 1730.7,1649.0 C1735.0,1649.4 1740.8,1649.5 1745.8,1649.7 C1750.8,1649.9 1755.9,1650.0 1760.9,1650.2 C1765.9,1650.4 1771.0,1650.6 1776.0,1650.8 C1781.0,1651.0 1776.5,1651.0 1791.1,1651.2 C1805.7,1651.4 1851.4,1651.9 1863.5,1652.0 L1864.7,1652.0" fill="none" stroke="#3d4446" stroke-width="2.2" stroke-linejoin="round"/>
<path d="M1614.2,1690.6 L1676.4,1690.6 C1676.9,1689.5 1678.4,1689.0 1679.4,1684.1 C1680.4,1679.3 1681.4,1671.5 1682.4,1661.5 C1683.4,1651.4 1684.4,1636.3 1685.4,1623.8 C1686.5,1611.2 1687.4,1595.1 1688.5,1586.0 C1689.5,1577.0 1690.9,1570.7 1691.9,1569.4 C1692.9,1568.2 1693.6,1571.9 1694.5,1578.5 C1695.4,1585.0 1696.5,1597.3 1697.5,1608.7 C1698.5,1620.0 1699.5,1635.1 1700.5,1646.4 C1701.5,1657.7 1702.6,1669.5 1703.6,1676.6 C1704.6,1683.6 1705.6,1688.1 1706.6,1688.6 C1707.6,1689.1 1708.3,1683.9 1709.6,1679.6 C1710.9,1675.3 1712.5,1668.0 1714.1,1663.0 C1715.8,1658.0 1717.9,1649.7 1719.4,1649.4 C1720.9,1649.2 1722.0,1656.9 1723.2,1661.5 C1724.3,1666.0 1725.2,1672.3 1726.2,1676.6 C1727.2,1680.8 1728.1,1684.8 1729.2,1687.1 C1730.3,1689.5 1732.4,1690.0 1733.0,1690.6 L1864.7,1690.6 Z" fill="#3fbc37" fill-opacity="0.6" stroke="none"/>
<path d="M1614.2,1690.6 L1676.4,1690.6 C1676.9,1689.5 1678.4,1689.0 1679.4,1684.1 C1680.4,1679.3 1681.4,1671.5 1682.4,1661.5 C1683.4,1651.4 1684.4,1636.3 1685.4,1623.8 C1686.5,1611.2 1687.4,1595.1 1688.5,1586.0 C1689.5,1577.0 1690.9,1570.7 1691.9,1569.4 C1692.9,1568.2 1693.6,1571.9 1694.5,1578.5 C1695.4,1585.0 1696.5,1597.3 1697.5,1608.7 C1698.5,1620.0 1699.5,1635.1 1700.5,1646.4 C1701.5,1657.7 1702.6,1669.5 1703.6,1676.6 C1704.6,1683.6 1705.6,1688.1 1706.6,1688.6 C1707.6,1689.1 1708.3,1683.9 1709.6,1679.6 C1710.9,1675.3 1712.5,1668.0 1714.1,1663.0 C1715.8,1658.0 1717.9,1649.7 1719.4,1649.4 C1720.9,1649.2 1722.0,1656.9 1723.2,1661.5 C1724.3,1666.0 1725.2,1672.3 1726.2,1676.6 C1727.2,1680.8 1728.1,1684.8 1729.2,1687.1 C1730.3,1689.5 1732.4,1690.0 1733.0,1690.6 L1864.7,1690.6" fill="none" stroke="#2ea02e" stroke-width="2.2" stroke-linejoin="round"/>
<path d="M1614.2,1727.8 L1736.8,1727.8 C1737.8,1727.1 1740.8,1726.0 1742.8,1723.6 C1744.8,1721.1 1747.1,1716.8 1748.8,1713.0 C1750.6,1709.2 1751.8,1706.7 1753.4,1700.9 C1754.9,1695.2 1756.4,1685.9 1757.9,1678.3 C1759.4,1670.8 1761.0,1663.2 1762.4,1655.7 C1763.8,1648.1 1765.0,1639.3 1766.2,1633.0 C1767.4,1626.7 1768.6,1619.6 1769.6,1617.9 C1770.7,1616.3 1771.2,1622.6 1772.2,1623.2 C1773.3,1623.9 1774.9,1620.1 1776.0,1621.7 C1777.1,1623.4 1778.0,1628.6 1779.0,1633.0 C1780.0,1637.4 1781.0,1643.1 1782.0,1648.1 C1783.0,1653.2 1784.0,1658.2 1785.0,1663.2 C1786.0,1668.2 1787.1,1673.8 1788.1,1678.3 C1789.1,1682.8 1789.8,1686.6 1791.1,1690.4 C1792.3,1694.1 1793.8,1697.9 1795.6,1700.9 C1797.4,1704.0 1799.4,1705.7 1801.6,1708.5 C1803.9,1711.3 1806.9,1715.0 1809.2,1717.5 C1811.4,1720.1 1813.2,1721.9 1815.2,1723.6 C1817.2,1725.3 1820.3,1727.1 1821.3,1727.8 L1864.7,1727.8 Z" fill="#e425c3" fill-opacity="0.55" stroke="none"/>
<path d="M1614.2,1727.8 L1736.8,1727.8 C1737.8,1727.1 1740.8,1726.0 1742.8,1723.6 C1744.8,1721.1 1747.1,1716.8 1748.8,1713.0 C1750.6,1709.2 1751.8,1706.7 1753.4,1700.9 C1754.9,1695.2 1756.4,1685.9 1757.9,1678.3 C1759.4,1670.8 1761.0,1663.2 1762.4,1655.7 C1763.8,1648.1 1765.0,1639.3 1766.2,1633.0 C1767.4,1626.7 1768.6,1619.6 1769.6,1617.9 C1770.7,1616.3 1771.2,1622.6 1772.2,1623.2 C1773.3,1623.9 1774.9,1620.1 1776.0,1621.7 C1777.1,1623.4 1778.0,1628.6 1779.0,1633.0 C1780.0,1637.4 1781.0,1643.1 1782.0,1648.1 C1783.0,1653.2 1784.0,1658.2 1785.0,1663.2 C1786.0,1668.2 1787.1,1673.8 1788.1,1678.3 C1789.1,1682.8 1789.8,1686.6 1791.1,1690.4 C1792.3,1694.1 1793.8,1697.9 1795.6,1700.9 C1797.4,1704.0 1799.4,1705.7 1801.6,1708.5 C1803.9,1711.3 1806.9,1715.0 1809.2,1717.5 C1811.4,1720.1 1813.2,1721.9 1815.2,1723.6 C1817.2,1725.3 1820.3,1727.1 1821.3,1727.8 L1864.7,1727.8" fill="none" stroke="#e12396" stroke-width="2.2" stroke-linejoin="round"/>
<line x1="1714.9" y1="1508.3" x2="1714.9" y2="1727.8" stroke="#7d8588" stroke-width="1.8" stroke-dasharray="5,5"/>
<line x1="1614.2" y1="1730.3" x2="1864.7" y2="1730.3" stroke="#f07cc0" stroke-width="2" />
<rect x="1614.2" y="1506.3" width="250.5" height="221.5" stroke="#1e1b1c" stroke-width="2.6" fill="none" />
<text x="1850.4" y="1643.3" font-size="24" text-anchor="end" fill="#3c4448" stroke="#3c4448" stroke-width="0.43">8.5%</text>
<text x="1850.4" y="1679.5" font-size="24" text-anchor="end" fill="#2f9e2f" stroke="#2f9e2f" stroke-width="0.43">25%</text>
<text x="1850.4" y="1716.5" font-size="24" text-anchor="end" fill="#e0339a" stroke="#e0339a" stroke-width="0.43">100%</text>
<line x1="1677.0" y1="1728.8" x2="1677.0" y2="1736.8" stroke="#1e1b1c" stroke-width="1.8" />
<text x="1677.0" y="1754.0" font-size="15" text-anchor="middle" fill="#1e1b1c">0</text>
<line x1="1760.0" y1="1728.8" x2="1760.0" y2="1736.8" stroke="#1e1b1c" stroke-width="1.8" />
<text x="1760.0" y="1754.0" font-size="15" text-anchor="middle" fill="#1e1b1c">10<tspan dy="-6" font-size="10">4</tspan></text>
<line x1="1815.0" y1="1728.8" x2="1815.0" y2="1736.8" stroke="#1e1b1c" stroke-width="1.8" />
<text x="1815.0" y="1754.0" font-size="15" text-anchor="middle" fill="#1e1b1c">10<tspan dy="-6" font-size="10">5</tspan></text>
<line x1="1862.0" y1="1728.8" x2="1862.0" y2="1736.8" stroke="#1e1b1c" stroke-width="1.8" />
<text x="1862.0" y="1754.0" font-size="15" text-anchor="middle" fill="#1e1b1c">10<tspan dy="-6" font-size="10">6</tspan></text>
<line x1="1776.6" y1="1728.8" x2="1776.6" y2="1732.8" stroke="#1e1b1c" stroke-width="1.2" />
<line x1="1786.2" y1="1728.8" x2="1786.2" y2="1732.8" stroke="#1e1b1c" stroke-width="1.2" />
<line x1="1793.1" y1="1728.8" x2="1793.1" y2="1732.8" stroke="#1e1b1c" stroke-width="1.2" />
<line x1="1798.4" y1="1728.8" x2="1798.4" y2="1732.8" stroke="#1e1b1c" stroke-width="1.2" />
<line x1="1802.8" y1="1728.8" x2="1802.8" y2="1732.8" stroke="#1e1b1c" stroke-width="1.2" />
<line x1="1806.5" y1="1728.8" x2="1806.5" y2="1732.8" stroke="#1e1b1c" stroke-width="1.2" />
<line x1="1809.7" y1="1728.8" x2="1809.7" y2="1732.8" stroke="#1e1b1c" stroke-width="1.2" />
<line x1="1812.5" y1="1728.8" x2="1812.5" y2="1732.8" stroke="#1e1b1c" stroke-width="1.2" />
<line x1="1829.1" y1="1728.8" x2="1829.1" y2="1732.8" stroke="#1e1b1c" stroke-width="1.2" />
<line x1="1837.4" y1="1728.8" x2="1837.4" y2="1732.8" stroke="#1e1b1c" stroke-width="1.2" />
<line x1="1843.3" y1="1728.8" x2="1843.3" y2="1732.8" stroke="#1e1b1c" stroke-width="1.2" />
<line x1="1847.9" y1="1728.8" x2="1847.9" y2="1732.8" stroke="#1e1b1c" stroke-width="1.2" />
<line x1="1851.6" y1="1728.8" x2="1851.6" y2="1732.8" stroke="#1e1b1c" stroke-width="1.2" />
<line x1="1854.7" y1="1728.8" x2="1854.7" y2="1732.8" stroke="#1e1b1c" stroke-width="1.2" />
<line x1="1857.4" y1="1728.8" x2="1857.4" y2="1732.8" stroke="#1e1b1c" stroke-width="1.2" />
<line x1="1859.8" y1="1728.8" x2="1859.8" y2="1732.8" stroke="#1e1b1c" stroke-width="1.2" />
<line x1="1670.0" y1="1728.8" x2="1670.0" y2="1733.8" stroke="#1e1b1c" stroke-width="1.4" />
<line x1="1673.0" y1="1728.8" x2="1673.0" y2="1733.8" stroke="#1e1b1c" stroke-width="1.4" />
<line x1="1675.0" y1="1728.8" x2="1675.0" y2="1733.8" stroke="#1e1b1c" stroke-width="1.4" />
<line x1="1677.0" y1="1728.8" x2="1677.0" y2="1733.8" stroke="#1e1b1c" stroke-width="1.4" />
<line x1="1679.0" y1="1728.8" x2="1679.0" y2="1733.8" stroke="#1e1b1c" stroke-width="1.4" />
<line x1="1681.0" y1="1728.8" x2="1681.0" y2="1733.8" stroke="#1e1b1c" stroke-width="1.4" />
<line x1="1684.0" y1="1728.8" x2="1684.0" y2="1733.8" stroke="#1e1b1c" stroke-width="1.4" />
<text x="1739.0" y="1795.4" font-size="28" text-anchor="middle" fill="#1e1b1c" stroke="#1e1b1c" stroke-width="0.50">PD1 - PE-Cy7</text>
<path d="M1892.9,1652.0 L1940.8,1652.0 C1942.1,1651.7 1945.8,1651.1 1948.4,1650.5 C1950.9,1649.9 1953.4,1649.0 1955.9,1648.2 C1958.4,1647.5 1961.4,1646.0 1963.4,1646.0 C1965.5,1646.0 1965.5,1647.7 1968.0,1648.2 C1970.5,1648.7 1974.3,1648.9 1978.5,1649.0 C1982.8,1649.1 1989.1,1649.1 1993.6,1649.0 C1998.2,1648.9 2002.7,1648.7 2005.7,1648.2 C2008.7,1647.7 2010.0,1647.1 2011.7,1646.0 C2013.5,1644.8 2014.8,1643.7 2016.3,1641.4 C2017.8,1639.2 2019.3,1636.4 2020.8,1632.4 C2022.3,1628.4 2023.8,1623.8 2025.3,1617.3 C2026.8,1610.8 2028.3,1601.4 2029.8,1593.1 C2031.4,1584.9 2033.0,1575.5 2034.4,1567.5 C2035.8,1559.4 2037.0,1550.5 2038.1,1544.9 C2039.3,1539.2 2040.3,1534.0 2041.5,1533.5 C2042.6,1533.0 2043.9,1538.2 2044.9,1541.8 C2046.0,1545.5 2046.9,1549.9 2048.0,1555.4 C2049.0,1561.0 2050.0,1568.3 2051.0,1575.0 C2052.0,1581.8 2053.0,1589.1 2054.0,1596.2 C2055.0,1603.2 2056.0,1611.3 2057.0,1617.3 C2058.0,1623.3 2058.8,1628.4 2060.0,1632.4 C2061.3,1636.4 2063.0,1638.9 2064.6,1641.4 C2066.1,1644.0 2067.1,1645.8 2069.1,1647.5 C2071.1,1649.1 2074.1,1650.5 2076.6,1651.2 C2079.1,1652.0 2082.9,1651.9 2084.2,1652.0 L2143.4,1652.0 Z" fill="#758282" fill-opacity="0.8" stroke="none"/>
<path d="M1892.9,1652.0 L1940.8,1652.0 C1942.1,1651.7 1945.8,1651.1 1948.4,1650.5 C1950.9,1649.9 1953.4,1649.0 1955.9,1648.2 C1958.4,1647.5 1961.4,1646.0 1963.4,1646.0 C1965.5,1646.0 1965.5,1647.7 1968.0,1648.2 C1970.5,1648.7 1974.3,1648.9 1978.5,1649.0 C1982.8,1649.1 1989.1,1649.1 1993.6,1649.0 C1998.2,1648.9 2002.7,1648.7 2005.7,1648.2 C2008.7,1647.7 2010.0,1647.1 2011.7,1646.0 C2013.5,1644.8 2014.8,1643.7 2016.3,1641.4 C2017.8,1639.2 2019.3,1636.4 2020.8,1632.4 C2022.3,1628.4 2023.8,1623.8 2025.3,1617.3 C2026.8,1610.8 2028.3,1601.4 2029.8,1593.1 C2031.4,1584.9 2033.0,1575.5 2034.4,1567.5 C2035.8,1559.4 2037.0,1550.5 2038.1,1544.9 C2039.3,1539.2 2040.3,1534.0 2041.5,1533.5 C2042.6,1533.0 2043.9,1538.2 2044.9,1541.8 C2046.0,1545.5 2046.9,1549.9 2048.0,1555.4 C2049.0,1561.0 2050.0,1568.3 2051.0,1575.0 C2052.0,1581.8 2053.0,1589.1 2054.0,1596.2 C2055.0,1603.2 2056.0,1611.3 2057.0,1617.3 C2058.0,1623.3 2058.8,1628.4 2060.0,1632.4 C2061.3,1636.4 2063.0,1638.9 2064.6,1641.4 C2066.1,1644.0 2067.1,1645.8 2069.1,1647.5 C2071.1,1649.1 2074.1,1650.5 2076.6,1651.2 C2079.1,1652.0 2082.9,1651.9 2084.2,1652.0 L2143.4,1652.0" fill="none" stroke="#3d4446" stroke-width="2.2" stroke-linejoin="round"/>
<path d="M1892.9,1690.6 L2016.3,1690.6 C2016.8,1689.5 2018.3,1687.7 2019.3,1684.1 C2020.3,1680.5 2021.3,1674.1 2022.3,1669.0 C2023.3,1664.0 2024.1,1659.0 2025.3,1653.9 C2026.6,1648.9 2028.5,1641.9 2029.8,1638.8 C2031.2,1635.8 2032.4,1640.9 2033.6,1635.8 C2034.9,1630.8 2036.3,1616.7 2037.4,1608.7 C2038.5,1600.6 2039.4,1593.1 2040.4,1587.5 C2041.4,1582.0 2042.4,1578.2 2043.4,1575.5 C2044.4,1572.7 2045.6,1570.4 2046.4,1570.9 C2047.3,1571.4 2048.0,1574.7 2048.7,1578.5 C2049.5,1582.3 2050.2,1587.3 2051.0,1593.6 C2051.7,1599.9 2052.5,1608.7 2053.2,1616.2 C2054.0,1623.8 2054.7,1631.3 2055.5,1638.8 C2056.3,1646.4 2057.0,1654.4 2057.8,1661.5 C2058.5,1668.5 2059.1,1676.2 2060.0,1681.1 C2060.9,1685.9 2062.5,1689.0 2063.0,1690.6 L2143.4,1690.6 Z" fill="#3fbc37" fill-opacity="0.6" stroke="none"/>
<path d="M1892.9,1690.6 L2016.3,1690.6 C2016.8,1689.5 2018.3,1687.7 2019.3,1684.1 C2020.3,1680.5 2021.3,1674.1 2022.3,1669.0 C2023.3,1664.0 2024.1,1659.0 2025.3,1653.9 C2026.6,1648.9 2028.5,1641.9 2029.8,1638.8 C2031.2,1635.8 2032.4,1640.9 2033.6,1635.8 C2034.9,1630.8 2036.3,1616.7 2037.4,1608.7 C2038.5,1600.6 2039.4,1593.1 2040.4,1587.5 C2041.4,1582.0 2042.4,1578.2 2043.4,1575.5 C2044.4,1572.7 2045.6,1570.4 2046.4,1570.9 C2047.3,1571.4 2048.0,1574.7 2048.7,1578.5 C2049.5,1582.3 2050.2,1587.3 2051.0,1593.6 C2051.7,1599.9 2052.5,1608.7 2053.2,1616.2 C2054.0,1623.8 2054.7,1631.3 2055.5,1638.8 C2056.3,1646.4 2057.0,1654.4 2057.8,1661.5 C2058.5,1668.5 2059.1,1676.2 2060.0,1681.1 C2060.9,1685.9 2062.5,1689.0 2063.0,1690.6 L2143.4,1690.6" fill="none" stroke="#2ea02e" stroke-width="2.2" stroke-linejoin="round"/>
<path d="M1892.9,1727.8 L1918.2,1727.8 C1919.2,1727.1 1922.2,1725.8 1924.2,1723.6 C1926.2,1721.4 1928.2,1718.3 1930.3,1714.5 C1932.3,1710.7 1934.7,1707.0 1936.3,1700.9 C1937.9,1694.9 1938.8,1685.9 1940.1,1678.3 C1941.3,1670.8 1942.6,1663.2 1943.8,1655.7 C1945.1,1648.1 1946.3,1639.6 1947.6,1633.0 C1948.9,1626.5 1950.2,1617.7 1951.4,1616.4 C1952.5,1615.2 1953.4,1621.5 1954.4,1625.5 C1955.4,1629.5 1956.4,1636.6 1957.4,1640.6 C1958.4,1644.6 1959.3,1648.5 1960.4,1649.6 C1961.6,1650.8 1963.2,1647.1 1964.2,1647.4 C1965.2,1647.6 1965.8,1648.5 1966.5,1651.1 C1967.1,1653.8 1967.2,1658.7 1968.0,1663.2 C1968.7,1667.7 1970.0,1673.3 1971.0,1678.3 C1972.0,1683.3 1972.8,1688.4 1974.0,1693.4 C1975.3,1698.4 1976.8,1704.5 1978.5,1708.5 C1980.3,1712.5 1982.6,1715.0 1984.6,1717.5 C1986.6,1720.1 1988.6,1721.9 1990.6,1723.6 C1992.6,1725.3 1995.6,1727.1 1996.6,1727.8 L2143.4,1727.8 Z" fill="#e425c3" fill-opacity="0.55" stroke="none"/>
<path d="M1892.9,1727.8 L1918.2,1727.8 C1919.2,1727.1 1922.2,1725.8 1924.2,1723.6 C1926.2,1721.4 1928.2,1718.3 1930.3,1714.5 C1932.3,1710.7 1934.7,1707.0 1936.3,1700.9 C1937.9,1694.9 1938.8,1685.9 1940.1,1678.3 C1941.3,1670.8 1942.6,1663.2 1943.8,1655.7 C1945.1,1648.1 1946.3,1639.6 1947.6,1633.0 C1948.9,1626.5 1950.2,1617.7 1951.4,1616.4 C1952.5,1615.2 1953.4,1621.5 1954.4,1625.5 C1955.4,1629.5 1956.4,1636.6 1957.4,1640.6 C1958.4,1644.6 1959.3,1648.5 1960.4,1649.6 C1961.6,1650.8 1963.2,1647.1 1964.2,1647.4 C1965.2,1647.6 1965.8,1648.5 1966.5,1651.1 C1967.1,1653.8 1967.2,1658.7 1968.0,1663.2 C1968.7,1667.7 1970.0,1673.3 1971.0,1678.3 C1972.0,1683.3 1972.8,1688.4 1974.0,1693.4 C1975.3,1698.4 1976.8,1704.5 1978.5,1708.5 C1980.3,1712.5 1982.6,1715.0 1984.6,1717.5 C1986.6,1720.1 1988.6,1721.9 1990.6,1723.6 C1992.6,1725.3 1995.6,1727.1 1996.6,1727.8 L2143.4,1727.8" fill="none" stroke="#e12396" stroke-width="2.2" stroke-linejoin="round"/>
<line x1="1983.8" y1="1508.3" x2="1983.8" y2="1727.8" stroke="#7d8588" stroke-width="1.8" stroke-dasharray="5,5"/>
<line x1="1892.9" y1="1730.3" x2="2143.4" y2="1730.3" stroke="#f07cc0" stroke-width="2" />
<rect x="1892.9" y="1506.3" width="250.5" height="221.5" stroke="#1e1b1c" stroke-width="2.6" fill="none" />
<text x="2136.6" y="1643.3" font-size="24" text-anchor="end" fill="#3c4448" stroke="#3c4448" stroke-width="0.43">95.9%</text>
<text x="2136.6" y="1679.5" font-size="24" text-anchor="end" fill="#2f9e2f" stroke="#2f9e2f" stroke-width="0.43">100%</text>
<text x="2136.6" y="1716.5" font-size="24" text-anchor="end" fill="#e0339a" stroke="#e0339a" stroke-width="0.43">3.1%</text>
<line x1="1958.0" y1="1728.8" x2="1958.0" y2="1736.8" stroke="#1e1b1c" stroke-width="1.8" />
<text x="1958.0" y="1754.0" font-size="15" text-anchor="middle" fill="#1e1b1c">0</text>
<line x1="2056.0" y1="1728.8" x2="2056.0" y2="1736.8" stroke="#1e1b1c" stroke-width="1.8" />
<text x="2056.0" y="1754.0" font-size="15" text-anchor="middle" fill="#1e1b1c">10<tspan dy="-6" font-size="10">4</tspan></text>
<line x1="2115.0" y1="1728.8" x2="2115.0" y2="1736.8" stroke="#1e1b1c" stroke-width="1.8" />
<text x="2115.0" y="1754.0" font-size="15" text-anchor="middle" fill="#1e1b1c">10<tspan dy="-6" font-size="10">5</tspan></text>
<line x1="2073.8" y1="1728.8" x2="2073.8" y2="1732.8" stroke="#1e1b1c" stroke-width="1.2" />
<line x1="2084.2" y1="1728.8" x2="2084.2" y2="1732.8" stroke="#1e1b1c" stroke-width="1.2" />
<line x1="2091.5" y1="1728.8" x2="2091.5" y2="1732.8" stroke="#1e1b1c" stroke-width="1.2" />
<line x1="2097.2" y1="1728.8" x2="2097.2" y2="1732.8" stroke="#1e1b1c" stroke-width="1.2" />
<line x1="2101.9" y1="1728.8" x2="2101.9" y2="1732.8" stroke="#1e1b1c" stroke-width="1.2" />
<line x1="2105.9" y1="1728.8" x2="2105.9" y2="1732.8" stroke="#1e1b1c" stroke-width="1.2" />
<line x1="2109.3" y1="1728.8" x2="2109.3" y2="1732.8" stroke="#1e1b1c" stroke-width="1.2" />
<line x1="2112.3" y1="1728.8" x2="2112.3" y2="1732.8" stroke="#1e1b1c" stroke-width="1.2" />
<line x1="1951.0" y1="1728.8" x2="1951.0" y2="1733.8" stroke="#1e1b1c" stroke-width="1.4" />
<line x1="1954.0" y1="1728.8" x2="1954.0" y2="1733.8" stroke="#1e1b1c" stroke-width="1.4" />
<line x1="1956.0" y1="1728.8" x2="1956.0" y2="1733.8" stroke="#1e1b1c" stroke-width="1.4" />
<line x1="1958.0" y1="1728.8" x2="1958.0" y2="1733.8" stroke="#1e1b1c" stroke-width="1.4" />
<line x1="1960.0" y1="1728.8" x2="1960.0" y2="1733.8" stroke="#1e1b1c" stroke-width="1.4" />
<line x1="1962.0" y1="1728.8" x2="1962.0" y2="1733.8" stroke="#1e1b1c" stroke-width="1.4" />
<line x1="1965.0" y1="1728.8" x2="1965.0" y2="1733.8" stroke="#1e1b1c" stroke-width="1.4" />
<text x="2018.2" y="1795.4" font-size="28" text-anchor="middle" fill="#1e1b1c" stroke="#1e1b1c" stroke-width="0.50">CCR7 - APC</text>
<text x="1180.7" y="1859.7" font-size="32" text-anchor="middle" fill="#1e1b1c" stroke="#1e1b1c" stroke-width="0.58"><tspan font-size="32">(gated on TCRβ</tspan><tspan dy="-12.2" font-size="19.8">+</tspan><tspan dy="12.2"> CD4</tspan><tspan dy="-12.2" font-size="19.8">+</tspan><tspan dy="12.2"> CD45.2</tspan><tspan dy="-12.2" font-size="19.8">+</tspan><tspan dy="12.2"> Thy1.1</tspan><tspan dy="-12.2" font-size="19.8">+</tspan><tspan dy="12.2">)</tspan></text>
<text x="-1.0" y="1948.6" font-size="48.5" text-anchor="start" fill="#1e1b1c" font-weight="bold">d</text>
<circle cx="214.8" cy="1942.7" r="8.2" fill="#2d3437" stroke="#1e1b1c" stroke-width="1.5" />
<text x="236.8" y="1951.4" font-size="26.2" text-anchor="start" fill="#1e1b1c" stroke="#1e1b1c" stroke-width="0.47">ANTrg</text>
<circle cx="376.7" cy="1942.7" r="8.2" fill="#97a5ab" stroke="#1e1b1c" stroke-width="1.5" />
<text x="398.7" y="1951.4" font-size="26.2" text-anchor="start" fill="#1e1b1c" stroke="#1e1b1c" stroke-width="0.47">SASrg</text>
<line x1="216.3" y1="2051.0" x2="216.3" y2="2281.8" stroke="#1e1b1c" stroke-width="2.4" />
<line x1="215.1" y1="2280.6" x2="539.5" y2="2280.6" stroke="#1e1b1c" stroke-width="2.4" />
<line x1="206.8" y1="2269.4" x2="216.3" y2="2269.4" stroke="#1e1b1c" stroke-width="2.2" />
<text x="202.8" y="2279.3" font-size="29" text-anchor="end" fill="#1e1b1c" stroke="#1e1b1c" stroke-width="0.52">0</text>
<line x1="206.8" y1="2225.9" x2="216.3" y2="2225.9" stroke="#1e1b1c" stroke-width="2.2" />
<text x="202.8" y="2235.8" font-size="29" text-anchor="end" fill="#1e1b1c" stroke="#1e1b1c" stroke-width="0.52">20</text>
<line x1="206.8" y1="2182.4" x2="216.3" y2="2182.4" stroke="#1e1b1c" stroke-width="2.2" />
<text x="202.8" y="2192.3" font-size="29" text-anchor="end" fill="#1e1b1c" stroke="#1e1b1c" stroke-width="0.52">40</text>
<line x1="206.8" y1="2139.0" x2="216.3" y2="2139.0" stroke="#1e1b1c" stroke-width="2.2" />
<text x="202.8" y="2148.9" font-size="29" text-anchor="end" fill="#1e1b1c" stroke="#1e1b1c" stroke-width="0.52">60</text>
<line x1="206.8" y1="2095.5" x2="216.3" y2="2095.5" stroke="#1e1b1c" stroke-width="2.2" />
<text x="202.8" y="2105.4" font-size="29" text-anchor="end" fill="#1e1b1c" stroke="#1e1b1c" stroke-width="0.52">80</text>
<line x1="206.8" y1="2052.0" x2="216.3" y2="2052.0" stroke="#1e1b1c" stroke-width="2.2" />
<text x="202.8" y="2061.9" font-size="29" text-anchor="end" fill="#1e1b1c" stroke="#1e1b1c" stroke-width="0.52">100</text>
<line x1="268.8" y1="2280.6" x2="268.8" y2="2290.6" stroke="#1e1b1c" stroke-width="2.2" />
<text x="267.6" y="2314.7" font-size="26.3" text-anchor="middle" fill="#1e1b1c" stroke="#1e1b1c" stroke-width="0.47">Input</text>
<line x1="381.9" y1="2280.6" x2="381.9" y2="2290.6" stroke="#1e1b1c" stroke-width="2.2" />
<text x="381.6" y="2314.7" font-size="26.3" text-anchor="middle" fill="#1e1b1c" stroke="#1e1b1c" stroke-width="0.47">Day 4</text>
<line x1="495.0" y1="2280.6" x2="495.0" y2="2290.6" stroke="#1e1b1c" stroke-width="2.2" />
<text x="501.0" y="2314.7" font-size="26.3" text-anchor="middle" fill="#1e1b1c" stroke="#1e1b1c" stroke-width="0.47">Day 11</text>
<line x1="238.9" y1="2023.7" x2="312.0" y2="2023.7" stroke="#1e1b1c" stroke-width="2.2" />
<text x="278.9" y="2013.1" font-size="24" text-anchor="middle" fill="#1e1b1c" stroke="#1e1b1c" stroke-width="0.43">ns</text>
<line x1="342.9" y1="2023.7" x2="407.2" y2="2023.7" stroke="#1e1b1c" stroke-width="2.2" />
<text x="378.5" y="2013.1" font-size="24" text-anchor="middle" fill="#1e1b1c" stroke="#1e1b1c" stroke-width="0.43">ns</text>
<line x1="447.8" y1="2023.7" x2="511.9" y2="2023.7" stroke="#1e1b1c" stroke-width="2.2" />
<text x="483.4" y="2013.1" font-size="24" text-anchor="middle" fill="#1e1b1c" stroke="#1e1b1c" stroke-width="0.43">ns</text>
<line x1="216.3" y1="2269.4" x2="549.5" y2="2269.4" stroke="#8a8f92" stroke-width="1.8" stroke-dasharray="6,5"/>
<text x="132.9" y="2147.0" font-size="30.5" text-anchor="middle" fill="#1e1b1c" stroke="#1e1b1c" stroke-width="0.55" transform="rotate(-90 132.9 2147.0)"><tspan font-size="30.5">(% of CD4</tspan><tspan dy="-11.6" font-size="18.9">+</tspan><tspan dy="11.6"> T cells)</tspan></text>
<text x="93.9" y="2147.0" font-size="30.5" text-anchor="middle" fill="#1e1b1c" stroke="#1e1b1c" stroke-width="0.55" transform="rotate(-90 93.9 2147.0)"><tspan font-size="30.5">Foxp3</tspan><tspan dy="-11.6" font-size="18.9">+</tspan></text>
<circle cx="234.6" cy="2269.4" r="7.7" fill="#2d3437" stroke="#1e1b1c" stroke-width="1.8" />
<circle cx="255.1" cy="2269.4" r="7.7" fill="#2d3437" stroke="#1e1b1c" stroke-width="1.8" />
<line x1="228.0" y1="2269.4" x2="262.0" y2="2269.4" stroke="#111" stroke-width="5" />
<circle cx="282.7" cy="2269.4" r="7.7" fill="#97a5ab" stroke="#1e1b1c" stroke-width="1.8" />
<circle cx="302.2" cy="2269.4" r="7.7" fill="#97a5ab" stroke="#1e1b1c" stroke-width="1.8" />
<line x1="275.5" y1="2269.4" x2="309.5" y2="2269.4" stroke="#111" stroke-width="5" />
<circle cx="341.0" cy="2269.4" r="7.7" fill="#2d3437" stroke="#1e1b1c" stroke-width="1.8" />
<circle cx="348.0" cy="2269.4" r="7.7" fill="#2d3437" stroke="#1e1b1c" stroke-width="1.8" />
<circle cx="355.0" cy="2269.4" r="7.7" fill="#2d3437" stroke="#1e1b1c" stroke-width="1.8" />
<circle cx="362.0" cy="2269.4" r="7.7" fill="#2d3437" stroke="#1e1b1c" stroke-width="1.8" />
<circle cx="369.0" cy="2269.4" r="7.7" fill="#2d3437" stroke="#1e1b1c" stroke-width="1.8" />
<circle cx="376.0" cy="2269.4" r="7.7" fill="#2d3437" stroke="#1e1b1c" stroke-width="1.8" />
<line x1="342.0" y1="2269.4" x2="376.0" y2="2269.4" stroke="#111" stroke-width="5" />
<circle cx="389.0" cy="2268.3" r="7.7" fill="#97a5ab" stroke="#1e1b1c" stroke-width="1.8" />
<circle cx="398.0" cy="2268.7" r="7.7" fill="#97a5ab" stroke="#1e1b1c" stroke-width="1.8" />
<circle cx="406.0" cy="2269.0" r="7.7" fill="#97a5ab" stroke="#1e1b1c" stroke-width="1.8" />
<circle cx="414.0" cy="2268.1" r="7.7" fill="#97a5ab" stroke="#1e1b1c" stroke-width="1.8" />
<circle cx="421.0" cy="2267.7" r="7.7" fill="#97a5ab" stroke="#1e1b1c" stroke-width="1.8" />
<circle cx="409.0" cy="2268.5" r="7.7" fill="#97a5ab" stroke="#1e1b1c" stroke-width="1.8" />
<line x1="389.0" y1="2268.5" x2="423.0" y2="2268.5" stroke="#111" stroke-width="5" />
<circle cx="472.2" cy="2241.6" r="7.7" fill="#2d3437" stroke="#1e1b1c" stroke-width="1.8" />
<circle cx="458.0" cy="2269.4" r="7.7" fill="#2d3437" stroke="#1e1b1c" stroke-width="1.8" />
<circle cx="466.0" cy="2269.4" r="7.7" fill="#2d3437" stroke="#1e1b1c" stroke-width="1.8" />
<circle cx="474.0" cy="2269.4" r="7.7" fill="#2d3437" stroke="#1e1b1c" stroke-width="1.8" />
<circle cx="482.0" cy="2269.4" r="7.7" fill="#2d3437" stroke="#1e1b1c" stroke-width="1.8" />
<circle cx="470.0" cy="2266.1" r="7.7" fill="#2d3437" stroke="#1e1b1c" stroke-width="1.8" />
<line x1="471.5" y1="2268.5" x2="471.5" y2="2259.6" stroke="#111" stroke-width="2" />
<line x1="466.5" y1="2268.5" x2="476.5" y2="2268.5" stroke="#111" stroke-width="2" />
<line x1="466.5" y1="2259.6" x2="476.5" y2="2259.6" stroke="#111" stroke-width="2" />
<line x1="454.5" y1="2264.2" x2="488.5" y2="2264.2" stroke="#111" stroke-width="5" />
<circle cx="502.0" cy="2268.3" r="7.7" fill="#97a5ab" stroke="#1e1b1c" stroke-width="1.8" />
<circle cx="510.0" cy="2268.7" r="7.7" fill="#97a5ab" stroke="#1e1b1c" stroke-width="1.8" />
<circle cx="518.0" cy="2268.5" r="7.7" fill="#97a5ab" stroke="#1e1b1c" stroke-width="1.8" />
<circle cx="526.0" cy="2268.1" r="7.7" fill="#97a5ab" stroke="#1e1b1c" stroke-width="1.8" />
<circle cx="534.0" cy="2267.7" r="7.7" fill="#97a5ab" stroke="#1e1b1c" stroke-width="1.8" />
<circle cx="514.0" cy="2269.0" r="7.7" fill="#97a5ab" stroke="#1e1b1c" stroke-width="1.8" />
<line x1="502.0" y1="2268.3" x2="536.0" y2="2268.3" stroke="#111" stroke-width="5" />
<line x1="756.3" y1="2051.0" x2="756.3" y2="2281.8" stroke="#1e1b1c" stroke-width="2.4" />
<line x1="755.1" y1="2280.6" x2="1078.8" y2="2280.6" stroke="#1e1b1c" stroke-width="2.4" />
<line x1="746.8" y1="2269.4" x2="756.3" y2="2269.4" stroke="#1e1b1c" stroke-width="2.2" />
<text x="742.8" y="2279.3" font-size="29" text-anchor="end" fill="#1e1b1c" stroke="#1e1b1c" stroke-width="0.52">0</text>
<line x1="746.8" y1="2225.9" x2="756.3" y2="2225.9" stroke="#1e1b1c" stroke-width="2.2" />
<text x="742.8" y="2235.8" font-size="29" text-anchor="end" fill="#1e1b1c" stroke="#1e1b1c" stroke-width="0.52">20</text>
<line x1="746.8" y1="2182.4" x2="756.3" y2="2182.4" stroke="#1e1b1c" stroke-width="2.2" />
<text x="742.8" y="2192.3" font-size="29" text-anchor="end" fill="#1e1b1c" stroke="#1e1b1c" stroke-width="0.52">40</text>
<line x1="746.8" y1="2139.0" x2="756.3" y2="2139.0" stroke="#1e1b1c" stroke-width="2.2" />
<text x="742.8" y="2148.9" font-size="29" text-anchor="end" fill="#1e1b1c" stroke="#1e1b1c" stroke-width="0.52">60</text>
<line x1="746.8" y1="2095.5" x2="756.3" y2="2095.5" stroke="#1e1b1c" stroke-width="2.2" />
<text x="742.8" y="2105.4" font-size="29" text-anchor="end" fill="#1e1b1c" stroke="#1e1b1c" stroke-width="0.52">80</text>
<line x1="746.8" y1="2052.0" x2="756.3" y2="2052.0" stroke="#1e1b1c" stroke-width="2.2" />
<text x="742.8" y="2061.9" font-size="29" text-anchor="end" fill="#1e1b1c" stroke="#1e1b1c" stroke-width="0.52">100</text>
<line x1="812.4" y1="2280.6" x2="812.4" y2="2290.6" stroke="#1e1b1c" stroke-width="2.2" />
<text x="812.4" y="2314.7" font-size="26.3" text-anchor="middle" fill="#1e1b1c" stroke="#1e1b1c" stroke-width="0.47">Input</text>
<line x1="916.9" y1="2280.6" x2="916.9" y2="2290.6" stroke="#1e1b1c" stroke-width="2.2" />
<text x="916.9" y="2314.7" font-size="26.3" text-anchor="middle" fill="#1e1b1c" stroke="#1e1b1c" stroke-width="0.47">Day 4</text>
<line x1="1021.3" y1="2280.6" x2="1021.3" y2="2290.6" stroke="#1e1b1c" stroke-width="2.2" />
<text x="1021.3" y="2314.7" font-size="26.3" text-anchor="middle" fill="#1e1b1c" stroke="#1e1b1c" stroke-width="0.47">Day 11</text>
<line x1="778.7" y1="2023.7" x2="851.8" y2="2023.7" stroke="#1e1b1c" stroke-width="2.2" />
<text x="818.8" y="2013.1" font-size="24" text-anchor="middle" fill="#1e1b1c" stroke="#1e1b1c" stroke-width="0.43">ns</text>
<line x1="883.0" y1="2023.7" x2="946.5" y2="2023.7" stroke="#1e1b1c" stroke-width="2.2" />
<text x="914.8" y="2013.1" font-size="24" text-anchor="middle" fill="#1e1b1c" stroke="#1e1b1c" stroke-width="0.43">&lt;0.0001</text>
<line x1="987.6" y1="2023.7" x2="1051.0" y2="2023.7" stroke="#1e1b1c" stroke-width="2.2" />
<text x="1022.8" y="2013.1" font-size="24" text-anchor="middle" fill="#1e1b1c" stroke="#1e1b1c" stroke-width="0.43">ns</text>
<line x1="756.3" y1="2269.4" x2="1088.8" y2="2269.4" stroke="#8a8f92" stroke-width="1.8" stroke-dasharray="6,5"/>
<text x="672.5" y="2177.1" font-size="30.5" text-anchor="middle" fill="#1e1b1c" stroke="#1e1b1c" stroke-width="0.55" transform="rotate(-90 672.5 2177.1)"><tspan font-size="30.5">(% of CD4</tspan><tspan dy="-11.6" font-size="18.9">+</tspan><tspan dy="11.6"> Tconv cells)</tspan></text>
<text x="633.5" y="2177.1" font-size="30.5" text-anchor="middle" fill="#1e1b1c" stroke="#1e1b1c" stroke-width="0.55" transform="rotate(-90 633.5 2177.1)"><tspan font-size="30.5">Ki67</tspan><tspan dy="-11.6" font-size="18.9">+</tspan></text>
<circle cx="790.9" cy="2198.7" r="7.7" fill="#2d3437" stroke="#1e1b1c" stroke-width="1.8" />
<circle cx="790.9" cy="2247.7" r="7.7" fill="#2d3437" stroke="#1e1b1c" stroke-width="1.8" />
<line x1="791.0" y1="2247.7" x2="791.0" y2="2198.7" stroke="#111" stroke-width="2" />
<line x1="786.0" y1="2247.7" x2="796.0" y2="2247.7" stroke="#111" stroke-width="2" />
<line x1="786.0" y1="2198.7" x2="796.0" y2="2198.7" stroke="#111" stroke-width="2" />
<line x1="774.0" y1="2222.2" x2="808.0" y2="2222.2" stroke="#111" stroke-width="5" />
<circle cx="826.4" cy="2200.3" r="7.7" fill="#97a5ab" stroke="#1e1b1c" stroke-width="1.8" />
<circle cx="843.8" cy="2192.7" r="7.7" fill="#97a5ab" stroke="#1e1b1c" stroke-width="1.8" />
<line x1="834.7" y1="2200.3" x2="834.7" y2="2192.7" stroke="#111" stroke-width="2" />
<line x1="829.7" y1="2200.3" x2="839.7" y2="2200.3" stroke="#111" stroke-width="2" />
<line x1="829.7" y1="2192.7" x2="839.7" y2="2192.7" stroke="#111" stroke-width="2" />
<line x1="817.7" y1="2196.1" x2="851.7" y2="2196.1" stroke="#111" stroke-width="5" />
<circle cx="907.1" cy="2249.8" r="7.7" fill="#2d3437" stroke="#1e1b1c" stroke-width="1.8" />
<circle cx="883.8" cy="2262.9" r="7.7" fill="#2d3437" stroke="#1e1b1c" stroke-width="1.8" />
<circle cx="894.3" cy="2269.4" r="7.7" fill="#2d3437" stroke="#1e1b1c" stroke-width="1.8" />
<circle cx="880.0" cy="2266.8" r="7.7" fill="#2d3437" stroke="#1e1b1c" stroke-width="1.8" />
<circle cx="888.0" cy="2269.4" r="7.7" fill="#2d3437" stroke="#1e1b1c" stroke-width="1.8" />
<circle cx="899.0" cy="2266.1" r="7.7" fill="#2d3437" stroke="#1e1b1c" stroke-width="1.8" />
<line x1="895.0" y1="2268.3" x2="895.0" y2="2262.4" stroke="#111" stroke-width="2" />
<line x1="890.0" y1="2268.3" x2="900.0" y2="2268.3" stroke="#111" stroke-width="2" />
<line x1="890.0" y1="2262.4" x2="900.0" y2="2262.4" stroke="#111" stroke-width="2" />
<line x1="878.0" y1="2265.5" x2="912.0" y2="2265.5" stroke="#111" stroke-width="5" />
<circle cx="926.3" cy="2054.2" r="7.7" fill="#97a5ab" stroke="#1e1b1c" stroke-width="1.8" />
<circle cx="934.3" cy="2055.7" r="7.7" fill="#97a5ab" stroke="#1e1b1c" stroke-width="1.8" />
<circle cx="950.0" cy="2055.7" r="7.7" fill="#97a5ab" stroke="#1e1b1c" stroke-width="1.8" />
<circle cx="931.2" cy="2086.1" r="7.7" fill="#97a5ab" stroke="#1e1b1c" stroke-width="1.8" />
<circle cx="947.2" cy="2084.6" r="7.7" fill="#97a5ab" stroke="#1e1b1c" stroke-width="1.8" />
<line x1="939.7" y1="2071.6" x2="939.7" y2="2059.6" stroke="#111" stroke-width="2" />
<line x1="934.7" y1="2071.6" x2="944.7" y2="2071.6" stroke="#111" stroke-width="2" />
<line x1="934.7" y1="2059.6" x2="944.7" y2="2059.6" stroke="#111" stroke-width="2" />
<line x1="922.7" y1="2065.0" x2="956.7" y2="2065.0" stroke="#111" stroke-width="5" />
<circle cx="999.4" cy="2228.5" r="7.7" fill="#2d3437" stroke="#1e1b1c" stroke-width="1.8" />
<circle cx="994.5" cy="2251.6" r="7.7" fill="#2d3437" stroke="#1e1b1c" stroke-width="1.8" />
<circle cx="994.5" cy="2269.4" r="7.7" fill="#2d3437" stroke="#1e1b1c" stroke-width="1.8" />
<circle cx="1005.0" cy="2269.4" r="7.7" fill="#2d3437" stroke="#1e1b1c" stroke-width="1.8" />
<circle cx="995.0" cy="2266.1" r="7.7" fill="#2d3437" stroke="#1e1b1c" stroke-width="1.8" />
<circle cx="1008.0" cy="2262.9" r="7.7" fill="#2d3437" stroke="#1e1b1c" stroke-width="1.8" />
<line x1="999.2" y1="2266.1" x2="999.2" y2="2253.1" stroke="#111" stroke-width="2" />
<line x1="994.2" y1="2266.1" x2="1004.2" y2="2266.1" stroke="#111" stroke-width="2" />
<line x1="994.2" y1="2253.1" x2="1004.2" y2="2253.1" stroke="#111" stroke-width="2" />
<line x1="982.2" y1="2259.6" x2="1016.2" y2="2259.6" stroke="#111" stroke-width="5" />
<circle cx="1043.0" cy="2239.4" r="7.7" fill="#97a5ab" stroke="#1e1b1c" stroke-width="1.8" />
<circle cx="1038.0" cy="2252.2" r="7.7" fill="#97a5ab" stroke="#1e1b1c" stroke-width="1.8" />
<circle cx="1040.0" cy="2262.2" r="7.7" fill="#97a5ab" stroke="#1e1b1c" stroke-width="1.8" />
<circle cx="1048.0" cy="2260.3" r="7.7" fill="#97a5ab" stroke="#1e1b1c" stroke-width="1.8" />
<circle cx="1043.0" cy="2269.4" r="7.7" fill="#97a5ab" stroke="#1e1b1c" stroke-width="1.8" />
<line x1="1042.8" y1="2265.1" x2="1042.8" y2="2254.2" stroke="#111" stroke-width="2" />
<line x1="1037.8" y1="2265.1" x2="1047.8" y2="2265.1" stroke="#111" stroke-width="2" />
<line x1="1037.8" y1="2254.2" x2="1047.8" y2="2254.2" stroke="#111" stroke-width="2" />
<line x1="1025.8" y1="2259.6" x2="1059.8" y2="2259.6" stroke="#111" stroke-width="5" />
<line x1="1296.0" y1="2051.0" x2="1296.0" y2="2281.8" stroke="#1e1b1c" stroke-width="2.4" />
<line x1="1294.8" y1="2280.6" x2="1618.4" y2="2280.6" stroke="#1e1b1c" stroke-width="2.4" />
<line x1="1286.5" y1="2269.4" x2="1296.0" y2="2269.4" stroke="#1e1b1c" stroke-width="2.2" />
<text x="1282.5" y="2279.3" font-size="29" text-anchor="end" fill="#1e1b1c" stroke="#1e1b1c" stroke-width="0.52">0</text>
<line x1="1286.5" y1="2225.9" x2="1296.0" y2="2225.9" stroke="#1e1b1c" stroke-width="2.2" />
<text x="1282.5" y="2235.8" font-size="29" text-anchor="end" fill="#1e1b1c" stroke="#1e1b1c" stroke-width="0.52">20</text>
<line x1="1286.5" y1="2182.4" x2="1296.0" y2="2182.4" stroke="#1e1b1c" stroke-width="2.2" />
<text x="1282.5" y="2192.3" font-size="29" text-anchor="end" fill="#1e1b1c" stroke="#1e1b1c" stroke-width="0.52">40</text>
<line x1="1286.5" y1="2139.0" x2="1296.0" y2="2139.0" stroke="#1e1b1c" stroke-width="2.2" />
<text x="1282.5" y="2148.9" font-size="29" text-anchor="end" fill="#1e1b1c" stroke="#1e1b1c" stroke-width="0.52">60</text>
<line x1="1286.5" y1="2095.5" x2="1296.0" y2="2095.5" stroke="#1e1b1c" stroke-width="2.2" />
<text x="1282.5" y="2105.4" font-size="29" text-anchor="end" fill="#1e1b1c" stroke="#1e1b1c" stroke-width="0.52">80</text>
<line x1="1286.5" y1="2052.0" x2="1296.0" y2="2052.0" stroke="#1e1b1c" stroke-width="2.2" />
<text x="1282.5" y="2061.9" font-size="29" text-anchor="end" fill="#1e1b1c" stroke="#1e1b1c" stroke-width="0.52">100</text>
<line x1="1351.7" y1="2280.6" x2="1351.7" y2="2290.6" stroke="#1e1b1c" stroke-width="2.2" />
<text x="1351.7" y="2314.7" font-size="26.3" text-anchor="middle" fill="#1e1b1c" stroke="#1e1b1c" stroke-width="0.47">Input</text>
<line x1="1455.8" y1="2280.6" x2="1455.8" y2="2290.6" stroke="#1e1b1c" stroke-width="2.2" />
<text x="1455.8" y="2314.7" font-size="26.3" text-anchor="middle" fill="#1e1b1c" stroke="#1e1b1c" stroke-width="0.47">Day 4</text>
<line x1="1560.7" y1="2280.6" x2="1560.7" y2="2290.6" stroke="#1e1b1c" stroke-width="2.2" />
<text x="1560.7" y="2314.7" font-size="26.3" text-anchor="middle" fill="#1e1b1c" stroke="#1e1b1c" stroke-width="0.47">Day 11</text>
<line x1="1318.3" y1="2023.7" x2="1391.5" y2="2023.7" stroke="#1e1b1c" stroke-width="2.2" />
<text x="1358.4" y="2013.1" font-size="24" text-anchor="middle" fill="#1e1b1c" stroke="#1e1b1c" stroke-width="0.43">ns</text>
<line x1="1422.7" y1="2023.7" x2="1486.2" y2="2023.7" stroke="#1e1b1c" stroke-width="2.2" />
<text x="1458.0" y="2013.1" font-size="24" text-anchor="middle" fill="#1e1b1c" stroke="#1e1b1c" stroke-width="0.43">ns</text>
<line x1="1527.3" y1="2023.7" x2="1590.9" y2="2023.7" stroke="#1e1b1c" stroke-width="2.2" />
<text x="1559.1" y="2013.1" font-size="24" text-anchor="middle" fill="#1e1b1c" stroke="#1e1b1c" stroke-width="0.43">0.0027</text>
<line x1="1296.0" y1="2269.4" x2="1628.4" y2="2269.4" stroke="#8a8f92" stroke-width="1.8" stroke-dasharray="6,5"/>
<text x="1212.0" y="2177.0" font-size="30.5" text-anchor="middle" fill="#1e1b1c" stroke="#1e1b1c" stroke-width="0.55" transform="rotate(-90 1212.0 2177.0)"><tspan font-size="30.5">(% of CD4</tspan><tspan dy="-11.6" font-size="18.9">+</tspan><tspan dy="11.6"> Tconv cells)</tspan></text>
<text x="1173.7" y="2177.0" font-size="30.5" text-anchor="middle" fill="#1e1b1c" stroke="#1e1b1c" stroke-width="0.55" transform="rotate(-90 1173.7 2177.0)"><tspan font-size="30.5">Bcl6</tspan><tspan dy="-11.6" font-size="18.9">+</tspan></text>
<circle cx="1330.5" cy="2243.3" r="7.7" fill="#2d3437" stroke="#1e1b1c" stroke-width="1.8" />
<circle cx="1330.5" cy="2269.4" r="7.7" fill="#2d3437" stroke="#1e1b1c" stroke-width="1.8" />
<line x1="1330.5" y1="2269.4" x2="1330.5" y2="2243.3" stroke="#111" stroke-width="2" />
<line x1="1325.5" y1="2269.4" x2="1335.5" y2="2269.4" stroke="#111" stroke-width="2" />
<line x1="1325.5" y1="2243.3" x2="1335.5" y2="2243.3" stroke="#111" stroke-width="2" />
<line x1="1313.5" y1="2256.4" x2="1347.5" y2="2256.4" stroke="#111" stroke-width="5" />
<circle cx="1374.0" cy="2229.2" r="7.7" fill="#97a5ab" stroke="#1e1b1c" stroke-width="1.8" />
<circle cx="1374.0" cy="2262.4" r="7.7" fill="#97a5ab" stroke="#1e1b1c" stroke-width="1.8" />
<line x1="1374.0" y1="2262.4" x2="1374.0" y2="2229.2" stroke="#111" stroke-width="2" />
<line x1="1369.0" y1="2262.4" x2="1379.0" y2="2262.4" stroke="#111" stroke-width="2" />
<line x1="1369.0" y1="2229.2" x2="1379.0" y2="2229.2" stroke="#111" stroke-width="2" />
<line x1="1357.0" y1="2245.7" x2="1391.0" y2="2245.7" stroke="#111" stroke-width="5" />
<circle cx="1420.0" cy="2268.3" r="7.7" fill="#2d3437" stroke="#1e1b1c" stroke-width="1.8" />
<circle cx="1427.0" cy="2268.7" r="7.7" fill="#2d3437" stroke="#1e1b1c" stroke-width="1.8" />
<circle cx="1434.0" cy="2268.1" r="7.7" fill="#2d3437" stroke="#1e1b1c" stroke-width="1.8" />
<circle cx="1441.0" cy="2269.0" r="7.7" fill="#2d3437" stroke="#1e1b1c" stroke-width="1.8" />
<circle cx="1448.0" cy="2267.7" r="7.7" fill="#2d3437" stroke="#1e1b1c" stroke-width="1.8" />
<circle cx="1454.0" cy="2267.2" r="7.7" fill="#2d3437" stroke="#1e1b1c" stroke-width="1.8" />
<line x1="1419.8" y1="2268.3" x2="1453.8" y2="2268.3" stroke="#111" stroke-width="5" />
<circle cx="1472.6" cy="2112.9" r="7.7" fill="#97a5ab" stroke="#1e1b1c" stroke-width="1.8" />
<circle cx="1484.7" cy="2105.5" r="7.7" fill="#97a5ab" stroke="#1e1b1c" stroke-width="1.8" />
<circle cx="1477.8" cy="2122.4" r="7.7" fill="#97a5ab" stroke="#1e1b1c" stroke-width="1.8" />
<circle cx="1472.6" cy="2252.7" r="7.7" fill="#97a5ab" stroke="#1e1b1c" stroke-width="1.8" />
<circle cx="1471.9" cy="2269.4" r="7.7" fill="#97a5ab" stroke="#1e1b1c" stroke-width="1.8" />
<circle cx="1484.0" cy="2269.4" r="7.7" fill="#97a5ab" stroke="#1e1b1c" stroke-width="1.8" />
<line x1="1477.8" y1="2222.0" x2="1477.8" y2="2155.3" stroke="#111" stroke-width="2" />
<line x1="1472.8" y1="2222.0" x2="1482.8" y2="2222.0" stroke="#111" stroke-width="2" />
<line x1="1472.8" y1="2155.3" x2="1482.8" y2="2155.3" stroke="#111" stroke-width="2" />
<line x1="1460.8" y1="2189.0" x2="1494.8" y2="2189.0" stroke="#111" stroke-width="5" />
<circle cx="1538.7" cy="2215.1" r="7.7" fill="#2d3437" stroke="#1e1b1c" stroke-width="1.8" />
<circle cx="1533.5" cy="2253.5" r="7.7" fill="#2d3437" stroke="#1e1b1c" stroke-width="1.8" />
<circle cx="1533.5" cy="2269.4" r="7.7" fill="#2d3437" stroke="#1e1b1c" stroke-width="1.8" />
<circle cx="1545.0" cy="2269.4" r="7.7" fill="#2d3437" stroke="#1e1b1c" stroke-width="1.8" />
<circle cx="1540.0" cy="2262.9" r="7.7" fill="#2d3437" stroke="#1e1b1c" stroke-width="1.8" />
<line x1="1539.0" y1="2268.3" x2="1539.0" y2="2248.7" stroke="#111" stroke-width="2" />
<line x1="1534.0" y1="2268.3" x2="1544.0" y2="2268.3" stroke="#111" stroke-width="2" />
<line x1="1534.0" y1="2248.7" x2="1544.0" y2="2248.7" stroke="#111" stroke-width="2" />
<line x1="1522.0" y1="2258.5" x2="1556.0" y2="2258.5" stroke="#111" stroke-width="5" />
<circle cx="1591.0" cy="2170.0" r="7.7" fill="#97a5ab" stroke="#1e1b1c" stroke-width="1.8" />
<circle cx="1573.5" cy="2184.6" r="7.7" fill="#97a5ab" stroke="#1e1b1c" stroke-width="1.8" />
<circle cx="1589.2" cy="2196.8" r="7.7" fill="#97a5ab" stroke="#1e1b1c" stroke-width="1.8" />
<circle cx="1575.3" cy="2200.3" r="7.7" fill="#97a5ab" stroke="#1e1b1c" stroke-width="1.8" />
<circle cx="1582.2" cy="2219.4" r="7.7" fill="#97a5ab" stroke="#1e1b1c" stroke-width="1.8" />
<circle cx="1582.2" cy="2245.1" r="7.7" fill="#97a5ab" stroke="#1e1b1c" stroke-width="1.8" />
<line x1="1583.0" y1="2214.0" x2="1583.0" y2="2191.1" stroke="#111" stroke-width="2" />
<line x1="1578.0" y1="2214.0" x2="1588.0" y2="2214.0" stroke="#111" stroke-width="2" />
<line x1="1578.0" y1="2191.1" x2="1588.0" y2="2191.1" stroke="#111" stroke-width="2" />
<line x1="1566.0" y1="2202.4" x2="1600.0" y2="2202.4" stroke="#111" stroke-width="5" />
<line x1="1833.6" y1="2051.0" x2="1833.6" y2="2281.8" stroke="#1e1b1c" stroke-width="2.4" />
<line x1="1832.4" y1="2280.6" x2="2156.8" y2="2280.6" stroke="#1e1b1c" stroke-width="2.4" />
<line x1="1824.1" y1="2269.4" x2="1833.6" y2="2269.4" stroke="#1e1b1c" stroke-width="2.2" />
<text x="1820.1" y="2279.3" font-size="29" text-anchor="end" fill="#1e1b1c" stroke="#1e1b1c" stroke-width="0.52">0</text>
<line x1="1824.1" y1="2225.9" x2="1833.6" y2="2225.9" stroke="#1e1b1c" stroke-width="2.2" />
<text x="1820.1" y="2235.8" font-size="29" text-anchor="end" fill="#1e1b1c" stroke="#1e1b1c" stroke-width="0.52">20</text>
<line x1="1824.1" y1="2182.4" x2="1833.6" y2="2182.4" stroke="#1e1b1c" stroke-width="2.2" />
<text x="1820.1" y="2192.3" font-size="29" text-anchor="end" fill="#1e1b1c" stroke="#1e1b1c" stroke-width="0.52">40</text>
<line x1="1824.1" y1="2139.0" x2="1833.6" y2="2139.0" stroke="#1e1b1c" stroke-width="2.2" />
<text x="1820.1" y="2148.9" font-size="29" text-anchor="end" fill="#1e1b1c" stroke="#1e1b1c" stroke-width="0.52">60</text>
<line x1="1824.1" y1="2095.5" x2="1833.6" y2="2095.5" stroke="#1e1b1c" stroke-width="2.2" />
<text x="1820.1" y="2105.4" font-size="29" text-anchor="end" fill="#1e1b1c" stroke="#1e1b1c" stroke-width="0.52">80</text>
<line x1="1824.1" y1="2052.0" x2="1833.6" y2="2052.0" stroke="#1e1b1c" stroke-width="2.2" />
<text x="1820.1" y="2061.9" font-size="29" text-anchor="end" fill="#1e1b1c" stroke="#1e1b1c" stroke-width="0.52">100</text>
<line x1="1890.0" y1="2280.6" x2="1890.0" y2="2290.6" stroke="#1e1b1c" stroke-width="2.2" />
<text x="1890.0" y="2314.7" font-size="26.3" text-anchor="middle" fill="#1e1b1c" stroke="#1e1b1c" stroke-width="0.47">Input</text>
<line x1="1994.0" y1="2280.6" x2="1994.0" y2="2290.6" stroke="#1e1b1c" stroke-width="2.2" />
<text x="1994.0" y="2314.7" font-size="26.3" text-anchor="middle" fill="#1e1b1c" stroke="#1e1b1c" stroke-width="0.47">Day 4</text>
<line x1="2098.0" y1="2280.6" x2="2098.0" y2="2290.6" stroke="#1e1b1c" stroke-width="2.2" />
<text x="2098.0" y="2314.7" font-size="26.3" text-anchor="middle" fill="#1e1b1c" stroke="#1e1b1c" stroke-width="0.47">Day 11</text>
<line x1="1857.0" y1="2023.7" x2="1930.0" y2="2023.7" stroke="#1e1b1c" stroke-width="2.2" />
<text x="1897.0" y="2013.1" font-size="24" text-anchor="middle" fill="#1e1b1c" stroke="#1e1b1c" stroke-width="0.43">ns</text>
<line x1="1961.0" y1="2023.7" x2="2025.0" y2="2023.7" stroke="#1e1b1c" stroke-width="2.2" />
<text x="1993.0" y="2013.1" font-size="24" text-anchor="middle" fill="#1e1b1c" stroke="#1e1b1c" stroke-width="0.43">&lt;0.0001</text>
<line x1="2066.0" y1="2023.7" x2="2130.0" y2="2023.7" stroke="#1e1b1c" stroke-width="2.2" />
<text x="2098.0" y="2013.1" font-size="24" text-anchor="middle" fill="#1e1b1c" stroke="#1e1b1c" stroke-width="0.43">0.0002</text>
<line x1="1833.6" y1="2269.4" x2="2166.8" y2="2269.4" stroke="#8a8f92" stroke-width="1.8" stroke-dasharray="6,5"/>
<text x="1753.4" y="2177.6" font-size="30.5" text-anchor="middle" fill="#1e1b1c" stroke="#1e1b1c" stroke-width="0.55" transform="rotate(-90 1753.4 2177.6)"><tspan font-size="30.5">(% of CD4</tspan><tspan dy="-11.6" font-size="18.9">+</tspan><tspan dy="11.6"> Tconv cells)</tspan></text>
<text x="1713.7" y="2177.6" font-size="30.5" text-anchor="middle" fill="#1e1b1c" stroke="#1e1b1c" stroke-width="0.55" transform="rotate(-90 1713.7 2177.6)"><tspan font-size="30.5">Eomes</tspan><tspan dy="-11.6" font-size="18.9">+</tspan></text>
<circle cx="1859.6" cy="2269.4" r="7.7" fill="#2d3437" stroke="#1e1b1c" stroke-width="1.8" />
<circle cx="1877.0" cy="2267.2" r="7.7" fill="#2d3437" stroke="#1e1b1c" stroke-width="1.8" />
<line x1="1851.3" y1="2268.3" x2="1885.3" y2="2268.3" stroke="#111" stroke-width="5" />
<circle cx="1903.0" cy="2267.2" r="7.7" fill="#97a5ab" stroke="#1e1b1c" stroke-width="1.8" />
<circle cx="1920.7" cy="2267.2" r="7.7" fill="#97a5ab" stroke="#1e1b1c" stroke-width="1.8" />
<line x1="1894.8" y1="2267.2" x2="1928.8" y2="2267.2" stroke="#111" stroke-width="5" />
<circle cx="1961.0" cy="2266.1" r="7.7" fill="#2d3437" stroke="#1e1b1c" stroke-width="1.8" />
<circle cx="1968.0" cy="2269.4" r="7.7" fill="#2d3437" stroke="#1e1b1c" stroke-width="1.8" />
<circle cx="1975.0" cy="2268.3" r="7.7" fill="#2d3437" stroke="#1e1b1c" stroke-width="1.8" />
<circle cx="1982.0" cy="2264.0" r="7.7" fill="#2d3437" stroke="#1e1b1c" stroke-width="1.8" />
<circle cx="1985.6" cy="2261.8" r="7.7" fill="#2d3437" stroke="#1e1b1c" stroke-width="1.8" />
<circle cx="1972.0" cy="2269.4" r="7.7" fill="#2d3437" stroke="#1e1b1c" stroke-width="1.8" />
<line x1="1956.0" y1="2266.1" x2="1990.0" y2="2266.1" stroke="#111" stroke-width="5" />
<circle cx="2016.0" cy="2179.2" r="7.7" fill="#97a5ab" stroke="#1e1b1c" stroke-width="1.8" />
<circle cx="2008.5" cy="2199.8" r="7.7" fill="#97a5ab" stroke="#1e1b1c" stroke-width="1.8" />
<circle cx="2024.7" cy="2203.1" r="7.7" fill="#97a5ab" stroke="#1e1b1c" stroke-width="1.8" />
<circle cx="2007.0" cy="2215.1" r="7.7" fill="#97a5ab" stroke="#1e1b1c" stroke-width="1.8" />
<circle cx="2022.3" cy="2219.4" r="7.7" fill="#97a5ab" stroke="#1e1b1c" stroke-width="1.8" />
<circle cx="2016.0" cy="2228.1" r="7.7" fill="#97a5ab" stroke="#1e1b1c" stroke-width="1.8" />
<line x1="2015.5" y1="2215.1" x2="2015.5" y2="2200.3" stroke="#111" stroke-width="2" />
<line x1="2010.5" y1="2215.1" x2="2020.5" y2="2215.1" stroke="#111" stroke-width="2" />
<line x1="2010.5" y1="2200.3" x2="2020.5" y2="2200.3" stroke="#111" stroke-width="2" />
<line x1="1998.5" y1="2207.7" x2="2032.5" y2="2207.7" stroke="#111" stroke-width="5" />
<circle cx="2077.3" cy="2215.1" r="7.7" fill="#2d3437" stroke="#1e1b1c" stroke-width="1.8" />
<circle cx="2071.2" cy="2248.7" r="7.7" fill="#2d3437" stroke="#1e1b1c" stroke-width="1.8" />
<circle cx="2080.4" cy="2253.3" r="7.7" fill="#2d3437" stroke="#1e1b1c" stroke-width="1.8" />
<circle cx="2072.0" cy="2269.4" r="7.7" fill="#2d3437" stroke="#1e1b1c" stroke-width="1.8" />
<circle cx="2080.0" cy="2269.4" r="7.7" fill="#2d3437" stroke="#1e1b1c" stroke-width="1.8" />
<circle cx="2075.0" cy="2262.9" r="7.7" fill="#2d3437" stroke="#1e1b1c" stroke-width="1.8" />
<line x1="2077.0" y1="2263.5" x2="2077.0" y2="2247.7" stroke="#111" stroke-width="2" />
<line x1="2072.0" y1="2263.5" x2="2082.0" y2="2263.5" stroke="#111" stroke-width="2" />
<line x1="2072.0" y1="2247.7" x2="2082.0" y2="2247.7" stroke="#111" stroke-width="2" />
<line x1="2060.0" y1="2255.5" x2="2094.0" y2="2255.5" stroke="#111" stroke-width="5" />
<circle cx="2120.7" cy="2130.7" r="7.7" fill="#97a5ab" stroke="#1e1b1c" stroke-width="1.8" />
<circle cx="2126.8" cy="2168.1" r="7.7" fill="#97a5ab" stroke="#1e1b1c" stroke-width="1.8" />
<circle cx="2114.0" cy="2174.2" r="7.7" fill="#97a5ab" stroke="#1e1b1c" stroke-width="1.8" />
<circle cx="2128.7" cy="2191.6" r="7.7" fill="#97a5ab" stroke="#1e1b1c" stroke-width="1.8" />
<circle cx="2112.5" cy="2211.4" r="7.7" fill="#97a5ab" stroke="#1e1b1c" stroke-width="1.8" />
<circle cx="2120.0" cy="2173.7" r="7.7" fill="#97a5ab" stroke="#1e1b1c" stroke-width="1.8" />
<line x1="2121.0" y1="2185.7" x2="2121.0" y2="2164.0" stroke="#111" stroke-width="2" />
<line x1="2116.0" y1="2185.7" x2="2126.0" y2="2185.7" stroke="#111" stroke-width="2" />
<line x1="2116.0" y1="2164.0" x2="2126.0" y2="2164.0" stroke="#111" stroke-width="2" />
<line x1="2104.0" y1="2175.0" x2="2138.0" y2="2175.0" stroke="#111" stroke-width="5" />
<line x1="216.1" y1="2440.4" x2="216.1" y2="2671.1" stroke="#1e1b1c" stroke-width="2.4" />
<line x1="214.9" y1="2669.9" x2="539.5" y2="2669.9" stroke="#1e1b1c" stroke-width="2.4" />
<line x1="206.6" y1="2658.5" x2="216.1" y2="2658.5" stroke="#1e1b1c" stroke-width="2.2" />
<text x="202.6" y="2668.4" font-size="29" text-anchor="end" fill="#1e1b1c" stroke="#1e1b1c" stroke-width="0.52">0</text>
<line x1="206.6" y1="2615.1" x2="216.1" y2="2615.1" stroke="#1e1b1c" stroke-width="2.2" />
<text x="202.6" y="2625.0" font-size="29" text-anchor="end" fill="#1e1b1c" stroke="#1e1b1c" stroke-width="0.52">20</text>
<line x1="206.6" y1="2571.7" x2="216.1" y2="2571.7" stroke="#1e1b1c" stroke-width="2.2" />
<text x="202.6" y="2581.6" font-size="29" text-anchor="end" fill="#1e1b1c" stroke="#1e1b1c" stroke-width="0.52">40</text>
<line x1="206.6" y1="2528.2" x2="216.1" y2="2528.2" stroke="#1e1b1c" stroke-width="2.2" />
<text x="202.6" y="2538.1" font-size="29" text-anchor="end" fill="#1e1b1c" stroke="#1e1b1c" stroke-width="0.52">60</text>
<line x1="206.6" y1="2484.8" x2="216.1" y2="2484.8" stroke="#1e1b1c" stroke-width="2.2" />
<text x="202.6" y="2494.7" font-size="29" text-anchor="end" fill="#1e1b1c" stroke="#1e1b1c" stroke-width="0.52">80</text>
<line x1="206.6" y1="2441.4" x2="216.1" y2="2441.4" stroke="#1e1b1c" stroke-width="2.2" />
<text x="202.6" y="2451.3" font-size="29" text-anchor="end" fill="#1e1b1c" stroke="#1e1b1c" stroke-width="0.52">100</text>
<line x1="272.3" y1="2669.9" x2="272.3" y2="2679.9" stroke="#1e1b1c" stroke-width="2.2" />
<text x="272.3" y="2704.5" font-size="26.3" text-anchor="middle" fill="#1e1b1c" stroke="#1e1b1c" stroke-width="0.47">Input</text>
<line x1="377.0" y1="2669.9" x2="377.0" y2="2679.9" stroke="#1e1b1c" stroke-width="2.2" />
<text x="377.0" y="2704.5" font-size="26.3" text-anchor="middle" fill="#1e1b1c" stroke="#1e1b1c" stroke-width="0.47">Day 4</text>
<line x1="481.0" y1="2669.9" x2="481.0" y2="2679.9" stroke="#1e1b1c" stroke-width="2.2" />
<text x="481.0" y="2704.5" font-size="26.3" text-anchor="middle" fill="#1e1b1c" stroke="#1e1b1c" stroke-width="0.47">Day 11</text>
<line x1="238.9" y1="2414.1" x2="312.0" y2="2414.1" stroke="#1e1b1c" stroke-width="2.2" />
<text x="278.9" y="2402.7" font-size="24" text-anchor="middle" fill="#1e1b1c" stroke="#1e1b1c" stroke-width="0.43">ns</text>
<line x1="343.5" y1="2414.1" x2="407.0" y2="2414.1" stroke="#1e1b1c" stroke-width="2.2" />
<text x="375.2" y="2402.7" font-size="24" text-anchor="middle" fill="#1e1b1c" stroke="#1e1b1c" stroke-width="0.43">&lt;0.0001</text>
<line x1="447.8" y1="2414.1" x2="511.2" y2="2414.1" stroke="#1e1b1c" stroke-width="2.2" />
<text x="483.0" y="2402.7" font-size="24" text-anchor="middle" fill="#1e1b1c" stroke="#1e1b1c" stroke-width="0.43">ns</text>
<line x1="216.1" y1="2658.5" x2="549.5" y2="2658.5" stroke="#8a8f92" stroke-width="1.8" stroke-dasharray="6,5"/>
<text x="132.9" y="2504.4" font-size="30.5" text-anchor="middle" fill="#1e1b1c" stroke="#1e1b1c" stroke-width="0.55" transform="rotate(-90 132.9 2504.4)"><tspan font-size="30.5">(% of CD4</tspan><tspan dy="-11.6" font-size="18.9">+</tspan><tspan dy="11.6"> Tconv cells)</tspan></text>
<text x="93.9" y="2504.4" font-size="30.5" text-anchor="middle" fill="#1e1b1c" stroke="#1e1b1c" stroke-width="0.55" transform="rotate(-90 93.9 2504.4)"><tspan font-size="30.5">CXCR5</tspan><tspan dy="-11.6" font-size="18.9">+</tspan></text>
<circle cx="243.1" cy="2658.5" r="7.7" fill="#2d3437" stroke="#1e1b1c" stroke-width="1.8" />
<circle cx="260.0" cy="2657.0" r="7.7" fill="#2d3437" stroke="#1e1b1c" stroke-width="1.8" />
<line x1="234.5" y1="2657.8" x2="268.5" y2="2657.8" stroke="#111" stroke-width="5" />
<circle cx="286.0" cy="2658.5" r="7.7" fill="#97a5ab" stroke="#1e1b1c" stroke-width="1.8" />
<circle cx="302.9" cy="2658.5" r="7.7" fill="#97a5ab" stroke="#1e1b1c" stroke-width="1.8" />
<line x1="277.5" y1="2658.5" x2="311.5" y2="2658.5" stroke="#111" stroke-width="5" />
<circle cx="340.0" cy="2658.5" r="7.7" fill="#2d3437" stroke="#1e1b1c" stroke-width="1.8" />
<circle cx="347.0" cy="2658.5" r="7.7" fill="#2d3437" stroke="#1e1b1c" stroke-width="1.8" />
<circle cx="354.0" cy="2658.5" r="7.7" fill="#2d3437" stroke="#1e1b1c" stroke-width="1.8" />
<circle cx="361.0" cy="2658.5" r="7.7" fill="#2d3437" stroke="#1e1b1c" stroke-width="1.8" />
<circle cx="367.2" cy="2654.6" r="7.7" fill="#2d3437" stroke="#1e1b1c" stroke-width="1.8" />
<circle cx="357.0" cy="2657.4" r="7.7" fill="#2d3437" stroke="#1e1b1c" stroke-width="1.8" />
<line x1="338.8" y1="2657.4" x2="372.8" y2="2657.4" stroke="#111" stroke-width="5" />
<circle cx="399.7" cy="2576.7" r="7.7" fill="#97a5ab" stroke="#1e1b1c" stroke-width="1.8" />
<circle cx="390.0" cy="2599.9" r="7.7" fill="#97a5ab" stroke="#1e1b1c" stroke-width="1.8" />
<circle cx="407.9" cy="2603.1" r="7.7" fill="#97a5ab" stroke="#1e1b1c" stroke-width="1.8" />
<circle cx="393.2" cy="2608.1" r="7.7" fill="#97a5ab" stroke="#1e1b1c" stroke-width="1.8" />
<circle cx="404.6" cy="2618.8" r="7.7" fill="#97a5ab" stroke="#1e1b1c" stroke-width="1.8" />
<circle cx="399.0" cy="2628.5" r="7.7" fill="#97a5ab" stroke="#1e1b1c" stroke-width="1.8" />
<line x1="399.0" y1="2614.0" x2="399.0" y2="2598.8" stroke="#111" stroke-width="2" />
<line x1="394.0" y1="2614.0" x2="404.0" y2="2614.0" stroke="#111" stroke-width="2" />
<line x1="394.0" y1="2598.8" x2="404.0" y2="2598.8" stroke="#111" stroke-width="2" />
<line x1="382.0" y1="2606.4" x2="416.0" y2="2606.4" stroke="#111" stroke-width="5" />
<circle cx="459.9" cy="2441.4" r="7.7" fill="#2d3437" stroke="#1e1b1c" stroke-width="1.8" />
<circle cx="459.9" cy="2496.1" r="7.7" fill="#2d3437" stroke="#1e1b1c" stroke-width="1.8" />
<circle cx="448.5" cy="2658.5" r="7.7" fill="#2d3437" stroke="#1e1b1c" stroke-width="1.8" />
<circle cx="464.7" cy="2658.5" r="7.7" fill="#2d3437" stroke="#1e1b1c" stroke-width="1.8" />
<circle cx="472.9" cy="2649.4" r="7.7" fill="#2d3437" stroke="#1e1b1c" stroke-width="1.8" />
<circle cx="456.6" cy="2658.5" r="7.7" fill="#2d3437" stroke="#1e1b1c" stroke-width="1.8" />
<line x1="460.3" y1="2634.2" x2="460.3" y2="2553.9" stroke="#111" stroke-width="2" />
<line x1="455.3" y1="2634.2" x2="465.3" y2="2634.2" stroke="#111" stroke-width="2" />
<line x1="455.3" y1="2553.9" x2="465.3" y2="2553.9" stroke="#111" stroke-width="2" />
<line x1="443.3" y1="2593.4" x2="477.3" y2="2593.4" stroke="#111" stroke-width="5" />
<circle cx="488.5" cy="2450.1" r="7.7" fill="#97a5ab" stroke="#1e1b1c" stroke-width="1.8" />
<circle cx="508.6" cy="2454.6" r="7.7" fill="#97a5ab" stroke="#1e1b1c" stroke-width="1.8" />
<circle cx="503.1" cy="2461.2" r="7.7" fill="#97a5ab" stroke="#1e1b1c" stroke-width="1.8" />
<circle cx="503.1" cy="2525.2" r="7.7" fill="#97a5ab" stroke="#1e1b1c" stroke-width="1.8" />
<circle cx="494.0" cy="2568.2" r="7.7" fill="#97a5ab" stroke="#1e1b1c" stroke-width="1.8" />
<circle cx="511.9" cy="2557.8" r="7.7" fill="#97a5ab" stroke="#1e1b1c" stroke-width="1.8" />
<line x1="503.4" y1="2524.3" x2="503.4" y2="2480.7" stroke="#111" stroke-width="2" />
<line x1="498.4" y1="2524.3" x2="508.4" y2="2524.3" stroke="#111" stroke-width="2" />
<line x1="498.4" y1="2480.7" x2="508.4" y2="2480.7" stroke="#111" stroke-width="2" />
<line x1="486.4" y1="2502.4" x2="520.4" y2="2502.4" stroke="#111" stroke-width="5" />
<line x1="754.3" y1="2440.4" x2="754.3" y2="2671.1" stroke="#1e1b1c" stroke-width="2.4" />
<line x1="753.1" y1="2669.9" x2="1076.7" y2="2669.9" stroke="#1e1b1c" stroke-width="2.4" />
<line x1="744.8" y1="2658.5" x2="754.3" y2="2658.5" stroke="#1e1b1c" stroke-width="2.2" />
<text x="740.8" y="2668.4" font-size="29" text-anchor="end" fill="#1e1b1c" stroke="#1e1b1c" stroke-width="0.52">0</text>
<line x1="744.8" y1="2615.1" x2="754.3" y2="2615.1" stroke="#1e1b1c" stroke-width="2.2" />
<text x="740.8" y="2625.0" font-size="29" text-anchor="end" fill="#1e1b1c" stroke="#1e1b1c" stroke-width="0.52">20</text>
<line x1="744.8" y1="2571.7" x2="754.3" y2="2571.7" stroke="#1e1b1c" stroke-width="2.2" />
<text x="740.8" y="2581.6" font-size="29" text-anchor="end" fill="#1e1b1c" stroke="#1e1b1c" stroke-width="0.52">40</text>
<line x1="744.8" y1="2528.2" x2="754.3" y2="2528.2" stroke="#1e1b1c" stroke-width="2.2" />
<text x="740.8" y="2538.1" font-size="29" text-anchor="end" fill="#1e1b1c" stroke="#1e1b1c" stroke-width="0.52">60</text>
<line x1="744.8" y1="2484.8" x2="754.3" y2="2484.8" stroke="#1e1b1c" stroke-width="2.2" />
<text x="740.8" y="2494.7" font-size="29" text-anchor="end" fill="#1e1b1c" stroke="#1e1b1c" stroke-width="0.52">80</text>
<line x1="744.8" y1="2441.4" x2="754.3" y2="2441.4" stroke="#1e1b1c" stroke-width="2.2" />
<text x="740.8" y="2451.3" font-size="29" text-anchor="end" fill="#1e1b1c" stroke="#1e1b1c" stroke-width="0.52">100</text>
<line x1="810.9" y1="2669.9" x2="810.9" y2="2679.9" stroke="#1e1b1c" stroke-width="2.2" />
<text x="810.9" y="2704.5" font-size="26.3" text-anchor="middle" fill="#1e1b1c" stroke="#1e1b1c" stroke-width="0.47">Input</text>
<line x1="915.2" y1="2669.9" x2="915.2" y2="2679.9" stroke="#1e1b1c" stroke-width="2.2" />
<text x="915.2" y="2704.5" font-size="26.3" text-anchor="middle" fill="#1e1b1c" stroke="#1e1b1c" stroke-width="0.47">Day 4</text>
<line x1="1018.9" y1="2669.9" x2="1018.9" y2="2679.9" stroke="#1e1b1c" stroke-width="2.2" />
<text x="1018.9" y="2704.5" font-size="26.3" text-anchor="middle" fill="#1e1b1c" stroke="#1e1b1c" stroke-width="0.47">Day 11</text>
<line x1="778.4" y1="2414.1" x2="851.8" y2="2414.1" stroke="#1e1b1c" stroke-width="2.2" />
<text x="818.6" y="2402.7" font-size="24" text-anchor="middle" fill="#1e1b1c" stroke="#1e1b1c" stroke-width="0.43">ns</text>
<line x1="882.7" y1="2414.1" x2="946.7" y2="2414.1" stroke="#1e1b1c" stroke-width="2.2" />
<text x="914.7" y="2402.7" font-size="24" text-anchor="middle" fill="#1e1b1c" stroke="#1e1b1c" stroke-width="0.43">&lt;0.0001</text>
<line x1="987.4" y1="2414.1" x2="1051.4" y2="2414.1" stroke="#1e1b1c" stroke-width="2.2" />
<text x="1019.4" y="2402.7" font-size="24" text-anchor="middle" fill="#1e1b1c" stroke="#1e1b1c" stroke-width="0.43">&lt;0.0001</text>
<line x1="754.3" y1="2658.5" x2="1086.7" y2="2658.5" stroke="#8a8f92" stroke-width="1.8" stroke-dasharray="6,5"/>
<text x="671.7" y="2535.2" font-size="30.5" text-anchor="middle" fill="#1e1b1c" stroke="#1e1b1c" stroke-width="0.55" transform="rotate(-90 671.7 2535.2)"><tspan font-size="30.5">(% of CD4</tspan><tspan dy="-11.6" font-size="18.9">+</tspan><tspan dy="11.6"> Tconv cells)</tspan></text>
<text x="632.7" y="2535.2" font-size="30.5" text-anchor="middle" fill="#1e1b1c" stroke="#1e1b1c" stroke-width="0.55" transform="rotate(-90 632.7 2535.2)"><tspan font-size="30.5">PD1</tspan><tspan dy="-11.6" font-size="18.9">+</tspan></text>
<circle cx="789.4" cy="2575.6" r="7.7" fill="#2d3437" stroke="#1e1b1c" stroke-width="1.8" />
<circle cx="789.4" cy="2633.5" r="7.7" fill="#2d3437" stroke="#1e1b1c" stroke-width="1.8" />
<line x1="789.1" y1="2633.5" x2="789.1" y2="2575.6" stroke="#111" stroke-width="2" />
<line x1="784.1" y1="2633.5" x2="794.1" y2="2633.5" stroke="#111" stroke-width="2" />
<line x1="784.1" y1="2575.6" x2="794.1" y2="2575.6" stroke="#111" stroke-width="2" />
<line x1="772.1" y1="2604.9" x2="806.1" y2="2604.9" stroke="#111" stroke-width="5" />
<circle cx="833.0" cy="2492.6" r="7.7" fill="#97a5ab" stroke="#1e1b1c" stroke-width="1.8" />
<circle cx="833.0" cy="2549.5" r="7.7" fill="#97a5ab" stroke="#1e1b1c" stroke-width="1.8" />
<line x1="833.0" y1="2549.5" x2="833.0" y2="2492.6" stroke="#111" stroke-width="2" />
<line x1="828.0" y1="2549.5" x2="838.0" y2="2549.5" stroke="#111" stroke-width="2" />
<line x1="828.0" y1="2492.6" x2="838.0" y2="2492.6" stroke="#111" stroke-width="2" />
<line x1="816.0" y1="2521.1" x2="850.0" y2="2521.1" stroke="#111" stroke-width="5" />
<circle cx="894.1" cy="2627.7" r="7.7" fill="#2d3437" stroke="#1e1b1c" stroke-width="1.8" />
<circle cx="889.9" cy="2640.7" r="7.7" fill="#2d3437" stroke="#1e1b1c" stroke-width="1.8" />
<circle cx="900.6" cy="2645.5" r="7.7" fill="#2d3437" stroke="#1e1b1c" stroke-width="1.8" />
<circle cx="894.0" cy="2658.5" r="7.7" fill="#2d3437" stroke="#1e1b1c" stroke-width="1.8" />
<circle cx="890.0" cy="2652.0" r="7.7" fill="#2d3437" stroke="#1e1b1c" stroke-width="1.8" />
<circle cx="900.0" cy="2655.2" r="7.7" fill="#2d3437" stroke="#1e1b1c" stroke-width="1.8" />
<line x1="893.6" y1="2652.0" x2="893.6" y2="2642.0" stroke="#111" stroke-width="2" />
<line x1="888.6" y1="2652.0" x2="898.6" y2="2652.0" stroke="#111" stroke-width="2" />
<line x1="888.6" y1="2642.0" x2="898.6" y2="2642.0" stroke="#111" stroke-width="2" />
<line x1="876.6" y1="2647.0" x2="910.6" y2="2647.0" stroke="#111" stroke-width="5" />
<circle cx="924.0" cy="2441.4" r="7.7" fill="#97a5ab" stroke="#1e1b1c" stroke-width="1.8" />
<circle cx="932.0" cy="2441.4" r="7.7" fill="#97a5ab" stroke="#1e1b1c" stroke-width="1.8" />
<circle cx="940.0" cy="2441.4" r="7.7" fill="#97a5ab" stroke="#1e1b1c" stroke-width="1.8" />
<circle cx="948.0" cy="2441.4" r="7.7" fill="#97a5ab" stroke="#1e1b1c" stroke-width="1.8" />
<circle cx="950.0" cy="2441.4" r="7.7" fill="#97a5ab" stroke="#1e1b1c" stroke-width="1.8" />
<line x1="919.0" y1="2441.4" x2="953.0" y2="2441.4" stroke="#111" stroke-width="5" />
<circle cx="998.1" cy="2604.2" r="7.7" fill="#2d3437" stroke="#1e1b1c" stroke-width="1.8" />
<circle cx="990.0" cy="2658.5" r="7.7" fill="#2d3437" stroke="#1e1b1c" stroke-width="1.8" />
<circle cx="1000.0" cy="2658.5" r="7.7" fill="#2d3437" stroke="#1e1b1c" stroke-width="1.8" />
<circle cx="1005.0" cy="2655.2" r="7.7" fill="#2d3437" stroke="#1e1b1c" stroke-width="1.8" />
<circle cx="995.0" cy="2652.0" r="7.7" fill="#2d3437" stroke="#1e1b1c" stroke-width="1.8" />
<line x1="998.0" y1="2658.5" x2="998.0" y2="2640.7" stroke="#111" stroke-width="2" />
<line x1="993.0" y1="2658.5" x2="1003.0" y2="2658.5" stroke="#111" stroke-width="2" />
<line x1="993.0" y1="2640.7" x2="1003.0" y2="2640.7" stroke="#111" stroke-width="2" />
<line x1="981.0" y1="2649.8" x2="1015.0" y2="2649.8" stroke="#111" stroke-width="5" />
<circle cx="1029.6" cy="2441.4" r="7.7" fill="#97a5ab" stroke="#1e1b1c" stroke-width="1.8" />
<circle cx="1050.7" cy="2441.4" r="7.7" fill="#97a5ab" stroke="#1e1b1c" stroke-width="1.8" />
<circle cx="1037.7" cy="2449.0" r="7.7" fill="#97a5ab" stroke="#1e1b1c" stroke-width="1.8" />
<circle cx="1045.0" cy="2441.4" r="7.7" fill="#97a5ab" stroke="#1e1b1c" stroke-width="1.8" />
<line x1="1041.0" y1="2445.7" x2="1041.0" y2="2441.4" stroke="#111" stroke-width="2" />
<line x1="1036.0" y1="2445.7" x2="1046.0" y2="2445.7" stroke="#111" stroke-width="2" />
<line x1="1036.0" y1="2441.4" x2="1046.0" y2="2441.4" stroke="#111" stroke-width="2" />
<line x1="1024.0" y1="2443.6" x2="1058.0" y2="2443.6" stroke="#111" stroke-width="5" />
<line x1="1295.6" y1="2440.4" x2="1295.6" y2="2671.1" stroke="#1e1b1c" stroke-width="2.4" />
<line x1="1294.4" y1="2669.9" x2="1618.4" y2="2669.9" stroke="#1e1b1c" stroke-width="2.4" />
<line x1="1286.1" y1="2658.5" x2="1295.6" y2="2658.5" stroke="#1e1b1c" stroke-width="2.2" />
<text x="1282.1" y="2668.4" font-size="29" text-anchor="end" fill="#1e1b1c" stroke="#1e1b1c" stroke-width="0.52">0</text>
<line x1="1286.1" y1="2615.1" x2="1295.6" y2="2615.1" stroke="#1e1b1c" stroke-width="2.2" />
<text x="1282.1" y="2625.0" font-size="29" text-anchor="end" fill="#1e1b1c" stroke="#1e1b1c" stroke-width="0.52">20</text>
<line x1="1286.1" y1="2571.7" x2="1295.6" y2="2571.7" stroke="#1e1b1c" stroke-width="2.2" />
<text x="1282.1" y="2581.6" font-size="29" text-anchor="end" fill="#1e1b1c" stroke="#1e1b1c" stroke-width="0.52">40</text>
<line x1="1286.1" y1="2528.2" x2="1295.6" y2="2528.2" stroke="#1e1b1c" stroke-width="2.2" />
<text x="1282.1" y="2538.1" font-size="29" text-anchor="end" fill="#1e1b1c" stroke="#1e1b1c" stroke-width="0.52">60</text>
<line x1="1286.1" y1="2484.8" x2="1295.6" y2="2484.8" stroke="#1e1b1c" stroke-width="2.2" />
<text x="1282.1" y="2494.7" font-size="29" text-anchor="end" fill="#1e1b1c" stroke="#1e1b1c" stroke-width="0.52">80</text>
<line x1="1286.1" y1="2441.4" x2="1295.6" y2="2441.4" stroke="#1e1b1c" stroke-width="2.2" />
<text x="1282.1" y="2451.3" font-size="29" text-anchor="end" fill="#1e1b1c" stroke="#1e1b1c" stroke-width="0.52">100</text>
<line x1="1351.9" y1="2669.9" x2="1351.9" y2="2679.9" stroke="#1e1b1c" stroke-width="2.2" />
<text x="1351.9" y="2704.5" font-size="26.3" text-anchor="middle" fill="#1e1b1c" stroke="#1e1b1c" stroke-width="0.47">Input</text>
<line x1="1455.9" y1="2669.9" x2="1455.9" y2="2679.9" stroke="#1e1b1c" stroke-width="2.2" />
<text x="1455.9" y="2704.5" font-size="26.3" text-anchor="middle" fill="#1e1b1c" stroke="#1e1b1c" stroke-width="0.47">Day 4</text>
<line x1="1559.9" y1="2669.9" x2="1559.9" y2="2679.9" stroke="#1e1b1c" stroke-width="2.2" />
<text x="1559.9" y="2704.5" font-size="26.3" text-anchor="middle" fill="#1e1b1c" stroke="#1e1b1c" stroke-width="0.47">Day 11</text>
<line x1="1318.4" y1="2414.1" x2="1391.8" y2="2414.1" stroke="#1e1b1c" stroke-width="2.2" />
<text x="1358.6" y="2402.7" font-size="24" text-anchor="middle" fill="#1e1b1c" stroke="#1e1b1c" stroke-width="0.43">ns</text>
<line x1="1422.7" y1="2414.1" x2="1486.7" y2="2414.1" stroke="#1e1b1c" stroke-width="2.2" />
<text x="1454.7" y="2402.7" font-size="24" text-anchor="middle" fill="#1e1b1c" stroke="#1e1b1c" stroke-width="0.43">&lt;0.0001</text>
<line x1="1527.4" y1="2414.1" x2="1591.4" y2="2414.1" stroke="#1e1b1c" stroke-width="2.2" />
<text x="1559.4" y="2402.7" font-size="24" text-anchor="middle" fill="#1e1b1c" stroke="#1e1b1c" stroke-width="0.43">0.0009</text>
<line x1="1295.6" y1="2658.5" x2="1628.4" y2="2658.5" stroke="#8a8f92" stroke-width="1.8" stroke-dasharray="6,5"/>
<text x="1211.7" y="2535.2" font-size="30.5" text-anchor="middle" fill="#1e1b1c" stroke="#1e1b1c" stroke-width="0.55" transform="rotate(-90 1211.7 2535.2)"><tspan font-size="30.5">(% of CD4</tspan><tspan dy="-11.6" font-size="18.9">+</tspan><tspan dy="11.6"> Tconv cells)</tspan></text>
<text x="1172.7" y="2535.2" font-size="30.5" text-anchor="middle" fill="#1e1b1c" stroke="#1e1b1c" stroke-width="0.55" transform="rotate(-90 1172.7 2535.2)"><tspan font-size="30.5">CCR7</tspan><tspan dy="-11.6" font-size="18.9">+</tspan></text>
<circle cx="1338.9" cy="2447.3" r="7.7" fill="#2d3437" stroke="#1e1b1c" stroke-width="1.8" />
<circle cx="1322.0" cy="2460.9" r="7.7" fill="#2d3437" stroke="#1e1b1c" stroke-width="1.8" />
<line x1="1330.2" y1="2460.9" x2="1330.2" y2="2447.3" stroke="#111" stroke-width="2" />
<line x1="1325.2" y1="2460.9" x2="1335.2" y2="2460.9" stroke="#111" stroke-width="2" />
<line x1="1325.2" y1="2447.3" x2="1335.2" y2="2447.3" stroke="#111" stroke-width="2" />
<line x1="1313.2" y1="2454.4" x2="1347.2" y2="2454.4" stroke="#111" stroke-width="5" />
<circle cx="1382.1" cy="2463.5" r="7.7" fill="#97a5ab" stroke="#1e1b1c" stroke-width="1.8" />
<circle cx="1364.9" cy="2473.1" r="7.7" fill="#97a5ab" stroke="#1e1b1c" stroke-width="1.8" />
<line x1="1373.8" y1="2473.1" x2="1373.8" y2="2463.5" stroke="#111" stroke-width="2" />
<line x1="1368.8" y1="2473.1" x2="1378.8" y2="2473.1" stroke="#111" stroke-width="2" />
<line x1="1368.8" y1="2463.5" x2="1378.8" y2="2463.5" stroke="#111" stroke-width="2" />
<line x1="1356.8" y1="2468.8" x2="1390.8" y2="2468.8" stroke="#111" stroke-width="5" />
<circle cx="1443.5" cy="2441.4" r="7.7" fill="#2d3437" stroke="#1e1b1c" stroke-width="1.8" />
<circle cx="1426.0" cy="2457.7" r="7.7" fill="#2d3437" stroke="#1e1b1c" stroke-width="1.8" />
<circle cx="1426.0" cy="2480.5" r="7.7" fill="#2d3437" stroke="#1e1b1c" stroke-width="1.8" />
<circle cx="1443.5" cy="2496.1" r="7.7" fill="#2d3437" stroke="#1e1b1c" stroke-width="1.8" />
<circle cx="1443.5" cy="2517.4" r="7.7" fill="#2d3437" stroke="#1e1b1c" stroke-width="1.8" />
<circle cx="1426.0" cy="2535.0" r="7.7" fill="#2d3437" stroke="#1e1b1c" stroke-width="1.8" />
<line x1="1434.7" y1="2502.2" x2="1434.7" y2="2474.0" stroke="#111" stroke-width="2" />
<line x1="1429.7" y1="2502.2" x2="1439.7" y2="2502.2" stroke="#111" stroke-width="2" />
<line x1="1429.7" y1="2474.0" x2="1439.7" y2="2474.0" stroke="#111" stroke-width="2" />
<line x1="1417.7" y1="2487.9" x2="1451.7" y2="2487.9" stroke="#111" stroke-width="5" />
<circle cx="1467.2" cy="2622.7" r="7.7" fill="#97a5ab" stroke="#1e1b1c" stroke-width="1.8" />
<circle cx="1489.0" cy="2619.4" r="7.7" fill="#97a5ab" stroke="#1e1b1c" stroke-width="1.8" />
<circle cx="1475.4" cy="2632.4" r="7.7" fill="#97a5ab" stroke="#1e1b1c" stroke-width="1.8" />
<circle cx="1481.9" cy="2628.5" r="7.7" fill="#97a5ab" stroke="#1e1b1c" stroke-width="1.8" />
<circle cx="1470.5" cy="2625.9" r="7.7" fill="#97a5ab" stroke="#1e1b1c" stroke-width="1.8" />
<circle cx="1485.0" cy="2630.3" r="7.7" fill="#97a5ab" stroke="#1e1b1c" stroke-width="1.8" />
<line x1="1478.6" y1="2629.2" x2="1478.6" y2="2623.8" stroke="#111" stroke-width="2" />
<line x1="1473.6" y1="2629.2" x2="1483.6" y2="2629.2" stroke="#111" stroke-width="2" />
<line x1="1473.6" y1="2623.8" x2="1483.6" y2="2623.8" stroke="#111" stroke-width="2" />
<line x1="1461.6" y1="2626.6" x2="1495.6" y2="2626.6" stroke="#111" stroke-width="5" />
<circle cx="1529.6" cy="2441.4" r="7.7" fill="#2d3437" stroke="#1e1b1c" stroke-width="1.8" />
<circle cx="1547.8" cy="2441.4" r="7.7" fill="#2d3437" stroke="#1e1b1c" stroke-width="1.8" />
<circle cx="1533.9" cy="2468.3" r="7.7" fill="#2d3437" stroke="#1e1b1c" stroke-width="1.8" />
<circle cx="1542.6" cy="2468.3" r="7.7" fill="#2d3437" stroke="#1e1b1c" stroke-width="1.8" />
<circle cx="1538.7" cy="2470.1" r="7.7" fill="#2d3437" stroke="#1e1b1c" stroke-width="1.8" />
<circle cx="1538.7" cy="2658.5" r="7.7" fill="#2d3437" stroke="#1e1b1c" stroke-width="1.8" />
<line x1="1538.9" y1="2526.1" x2="1538.9" y2="2457.7" stroke="#111" stroke-width="2" />
<line x1="1533.9" y1="2526.1" x2="1543.9" y2="2526.1" stroke="#111" stroke-width="2" />
<line x1="1533.9" y1="2457.7" x2="1543.9" y2="2457.7" stroke="#111" stroke-width="2" />
<line x1="1521.9" y1="2491.8" x2="1555.9" y2="2491.8" stroke="#111" stroke-width="5" />
<circle cx="1571.2" cy="2642.2" r="7.7" fill="#97a5ab" stroke="#1e1b1c" stroke-width="1.8" />
<circle cx="1593.3" cy="2641.6" r="7.7" fill="#97a5ab" stroke="#1e1b1c" stroke-width="1.8" />
<circle cx="1580.3" cy="2653.5" r="7.7" fill="#97a5ab" stroke="#1e1b1c" stroke-width="1.8" />
<circle cx="1587.5" cy="2653.1" r="7.7" fill="#97a5ab" stroke="#1e1b1c" stroke-width="1.8" />
<circle cx="1575.0" cy="2649.8" r="7.7" fill="#97a5ab" stroke="#1e1b1c" stroke-width="1.8" />
<circle cx="1590.0" cy="2647.6" r="7.7" fill="#97a5ab" stroke="#1e1b1c" stroke-width="1.8" />
<line x1="1581.8" y1="2652.0" x2="1581.8" y2="2645.5" stroke="#111" stroke-width="2" />
<line x1="1576.8" y1="2652.0" x2="1586.8" y2="2652.0" stroke="#111" stroke-width="2" />
<line x1="1576.8" y1="2645.5" x2="1586.8" y2="2645.5" stroke="#111" stroke-width="2" />
<line x1="1564.8" y1="2648.7" x2="1598.8" y2="2648.7" stroke="#111" stroke-width="5" />
</svg>
</body></html>
